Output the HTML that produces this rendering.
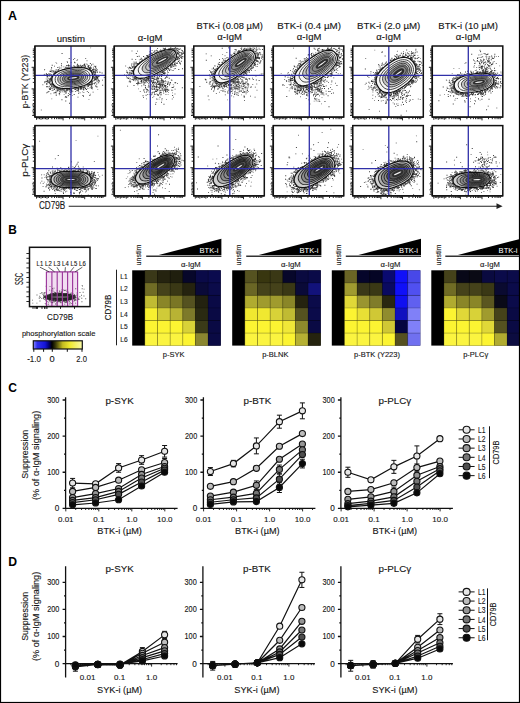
<!DOCTYPE html>
<html><head><meta charset="utf-8"><style>
html,body{margin:0;padding:0;background:#fff;overflow:hidden;width:520px;height:703px;}
svg{display:block;}
text{font-family:"Liberation Sans", sans-serif;stroke:#151515;stroke-width:.12px;}
text[fill="#fff"]{stroke:none;}
text[font-weight="bold"]{stroke:none;}
</style></head><body>
<svg width="520" height="703" viewBox="0 0 520 703" fill="#151515" font-family="'Liberation Sans', sans-serif">
<rect width="520" height="703" fill="#fff"/>
<text x="8" y="19.5" font-size="13" fill="#000" font-weight="bold" textLength="9" lengthAdjust="spacingAndGlyphs">A</text>
<text x="70.85" y="41.8" font-size="9.6" text-anchor="middle">unstim</text>
<text x="150.15" y="41" font-size="9.6" text-anchor="middle" textLength="24.6" lengthAdjust="spacingAndGlyphs">&#945;-IgM</text>
<text x="229.65" y="29.2" font-size="9.5" text-anchor="middle" textLength="66.3" lengthAdjust="spacingAndGlyphs">BTK-i (0.08 &#181;M)</text>
<text x="229.65" y="40.2" font-size="9.6" text-anchor="middle" textLength="24.6" lengthAdjust="spacingAndGlyphs">&#945;-IgM</text>
<text x="309.15" y="29.2" font-size="9.5" text-anchor="middle" textLength="63.6" lengthAdjust="spacingAndGlyphs">BTK-i (0.4 &#181;M)</text>
<text x="309.15" y="40.2" font-size="9.6" text-anchor="middle" textLength="24.6" lengthAdjust="spacingAndGlyphs">&#945;-IgM</text>
<text x="388.65" y="29.2" font-size="9.5" text-anchor="middle" textLength="63.3" lengthAdjust="spacingAndGlyphs">BTK-i (2.0 &#181;M)</text>
<text x="388.65" y="40.2" font-size="9.6" text-anchor="middle" textLength="24.6" lengthAdjust="spacingAndGlyphs">&#945;-IgM</text>
<text x="468.15" y="29.2" font-size="9.5" text-anchor="middle" textLength="59.6" lengthAdjust="spacingAndGlyphs">BTK-i (10 &#181;M)</text>
<text x="468.15" y="40.2" font-size="9.6" text-anchor="middle" textLength="24.6" lengthAdjust="spacingAndGlyphs">&#945;-IgM</text>
<svg x="35" y="46" width="70.5" height="71" viewBox="35 46 70.5 71" overflow="hidden">
<path d="M65.02 96.27h.9v.9h-.9zM93.43 75.51h.9v.9h-.9zM95.22 72.2h.9v.9h-.9zM63.17 68.91h.9v.9h-.9zM53.1 84.76h.9v.9h-.9zM78.37 75.09h.9v.9h-.9zM62.31 79.57h.9v.9h-.9zM96.38 83.44h.9v.9h-.9zM51.75 64.76h.9v.9h-.9zM81.35 65.55h.9v.9h-.9zM69.69 89.38h.9v.9h-.9zM88.03 66.26h.9v.9h-.9zM99.55 71.89h.9v.9h-.9zM73.08 59.21h.9v.9h-.9zM51.53 85.34h.9v.9h-.9zM68.66 66.8h.9v.9h-.9zM91.04 69.95h.9v.9h-.9zM90.56 84.21h.9v.9h-.9zM50.95 78.63h.9v.9h-.9zM76.61 90.28h.9v.9h-.9zM77.14 63.87h.9v.9h-.9zM85.3 73.46h.9v.9h-.9zM64.93 75.78h.9v.9h-.9zM54.87 70.88h.9v.9h-.9zM80.54 86.73h.9v.9h-.9zM85.1 65.57h.9v.9h-.9zM93.3 76.72h.9v.9h-.9zM69.88 70.73h.9v.9h-.9zM63.09 69.11h.9v.9h-.9zM58.42 80.42h.9v.9h-.9zM51.16 84.57h.9v.9h-.9zM60.82 88.89h.9v.9h-.9zM64.51 91.21h.9v.9h-.9zM63.3 69.22h.9v.9h-.9zM75.42 85.12h.9v.9h-.9zM79.35 73.96h.9v.9h-.9zM80.48 71.38h.9v.9h-.9zM92.91 67.52h.9v.9h-.9zM83.04 87.42h.9v.9h-.9zM96.64 80.38h.9v.9h-.9zM67.74 65.23h.9v.9h-.9zM94.32 78.49h.9v.9h-.9zM83.51 71.85h.9v.9h-.9zM86.84 90.9h.9v.9h-.9zM90.59 83.89h.9v.9h-.9zM49.08 82.33h.9v.9h-.9zM46.63 76.36h.9v.9h-.9zM66.83 87.47h.9v.9h-.9zM75.31 88.52h.9v.9h-.9zM48.02 75.2h.9v.9h-.9zM81.9 77.07h.9v.9h-.9zM79.9 86.8h.9v.9h-.9zM62.67 89.84h.9v.9h-.9zM53.39 73.26h.9v.9h-.9zM60.22 91.5h.9v.9h-.9zM69.07 89.35h.9v.9h-.9zM96.17 77.04h.9v.9h-.9zM46.84 85.95h.9v.9h-.9zM49.77 79.56h.9v.9h-.9zM70.73 89.89h.9v.9h-.9zM55.44 86.79h.9v.9h-.9zM82.99 86.42h.9v.9h-.9zM55.46 71.77h.9v.9h-.9zM74.41 66.77h.9v.9h-.9zM75.56 79.42h.9v.9h-.9zM68.74 57.99h.9v.9h-.9zM49.62 82.79h.9v.9h-.9zM78.59 88.37h.9v.9h-.9zM91.35 69.99h.9v.9h-.9zM88.88 84.03h.9v.9h-.9zM56.38 87.26h.9v.9h-.9zM93.63 71.32h.9v.9h-.9zM95.16 65.98h.9v.9h-.9zM51.17 67.48h.9v.9h-.9zM59.52 89.21h.9v.9h-.9zM87.72 66.81h.9v.9h-.9zM60.45 88.78h.9v.9h-.9zM57.53 69.53h.9v.9h-.9zM97.52 77.48h.9v.9h-.9zM50 78.27h.9v.9h-.9zM89.39 68.21h.9v.9h-.9zM87.67 84.36h.9v.9h-.9zM77.77 81.78h.9v.9h-.9zM95.52 76.61h.9v.9h-.9zM57.4 88.3h.9v.9h-.9zM57.18 81.1h.9v.9h-.9zM49.15 78.46h.9v.9h-.9zM69.32 94.18h.9v.9h-.9zM91.48 70.7h.9v.9h-.9zM92.58 71.87h.9v.9h-.9zM61.48 99.23h.9v.9h-.9zM79.51 85.34h.9v.9h-.9zM84.29 82.17h.9v.9h-.9zM58.22 83.71h.9v.9h-.9zM93.31 80.4h.9v.9h-.9zM58.72 93.33h.9v.9h-.9zM97.76 75.84h.9v.9h-.9zM66.29 65.05h.9v.9h-.9zM98.79 80.2h.9v.9h-.9zM57.67 89.05h.9v.9h-.9zM91.77 80.89h.9v.9h-.9zM92.09 80.59h.9v.9h-.9zM92.66 72.22h.9v.9h-.9zM91.84 88.46h.9v.9h-.9zM62.14 69.44h.9v.9h-.9zM56.14 86.81h.9v.9h-.9zM96.61 81.46h.9v.9h-.9zM96.19 76.06h.9v.9h-.9zM72.27 74.44h.9v.9h-.9zM51.96 84.07h.9v.9h-.9zM72.44 67.76h.9v.9h-.9zM89.72 69h.9v.9h-.9zM66.32 89.5h.9v.9h-.9zM68.02 64.55h.9v.9h-.9zM90.95 70.75h.9v.9h-.9zM48.96 89.15h.9v.9h-.9zM75.11 82.7h.9v.9h-.9zM80.37 79.61h.9v.9h-.9zM46.27 92.41h.9v.9h-.9zM57.22 89.73h.9v.9h-.9zM71.18 69.37h.9v.9h-.9zM73.46 65.3h.9v.9h-.9zM96.37 86.09h.9v.9h-.9zM47.46 82.19h.9v.9h-.9zM75.25 81.76h.9v.9h-.9zM96.88 77.32h.9v.9h-.9zM53.29 87.46h.9v.9h-.9zM75.36 66.65h.9v.9h-.9zM84.47 67.27h.9v.9h-.9zM62.81 83.4h.9v.9h-.9zM65.28 69.89h.9v.9h-.9zM73.71 94.06h.9v.9h-.9zM81.04 66.39h.9v.9h-.9zM46.03 73.36h.9v.9h-.9zM47.38 91.84h.9v.9h-.9zM55.78 93.67h.9v.9h-.9zM79.56 65.16h.9v.9h-.9zM71.25 90h.9v.9h-.9zM50.75 70.55h.9v.9h-.9zM65.74 92.52h.9v.9h-.9zM84.9 88.08h.9v.9h-.9zM64.34 80.95h.9v.9h-.9zM74.65 88.99h.9v.9h-.9zM71.06 90.85h.9v.9h-.9zM93.7 77.06h.9v.9h-.9zM60.95 65.24h.9v.9h-.9zM76.55 60.21h.9v.9h-.9zM50.65 69.44h.9v.9h-.9zM81.4 88.5h.9v.9h-.9zM50.38 77.79h.9v.9h-.9zM60.98 63.3h.9v.9h-.9zM60.51 81.68h.9v.9h-.9zM66.25 83.46h.9v.9h-.9zM74.07 61.81h.9v.9h-.9zM80.58 72.96h.9v.9h-.9zM56.18 87.11h.9v.9h-.9zM49.17 80.46h.9v.9h-.9zM48.7 81.58h.9v.9h-.9zM92.34 69.29h.9v.9h-.9zM53.74 87.57h.9v.9h-.9zM51.11 76.35h.9v.9h-.9zM69.39 88.6h.9v.9h-.9zM78.03 87.75h.9v.9h-.9zM93.48 70.67h.9v.9h-.9zM44.18 69.27h.9v.9h-.9zM65.8 91.46h.9v.9h-.9zM92.74 73.59h.9v.9h-.9zM57.24 90.62h.9v.9h-.9zM73.48 66.71h.9v.9h-.9zM79.93 87.56h.9v.9h-.9zM94.45 73.36h.9v.9h-.9zM77.46 89.57h.9v.9h-.9zM90.3 67.95h.9v.9h-.9zM51.2 86.31h.9v.9h-.9zM88.02 92.14h.9v.9h-.9zM60.56 67.57h.9v.9h-.9zM90.55 84.32h.9v.9h-.9zM72.45 81.61h.9v.9h-.9zM94.99 79.06h.9v.9h-.9zM51.62 71.56h.9v.9h-.9zM59.07 68.43h.9v.9h-.9zM91.82 86.76h.9v.9h-.9zM50.02 78.82h.9v.9h-.9zM77.13 87.67h.9v.9h-.9zM71.05 69.47h.9v.9h-.9zM53.99 65.67h.9v.9h-.9zM71.95 86.46h.9v.9h-.9zM48.17 73.46h.9v.9h-.9zM47.14 80.96h.9v.9h-.9zM76.54 66.82h.9v.9h-.9zM74.64 78.36h.9v.9h-.9zM54.56 72.12h.9v.9h-.9zM84.13 67.4h.9v.9h-.9zM80.89 87.35h.9v.9h-.9zM93.99 83.36h.9v.9h-.9zM76.07 80.92h.9v.9h-.9zM84.31 66.69h.9v.9h-.9zM71.51 91.17h.9v.9h-.9zM57.55 69.74h.9v.9h-.9zM94.17 74.06h.9v.9h-.9zM63.21 88.44h.9v.9h-.9zM87.04 84.23h.9v.9h-.9zM98.05 80.21h.9v.9h-.9zM82.67 77.78h.9v.9h-.9zM51.66 75.4h.9v.9h-.9zM46.94 74.02h.9v.9h-.9zM74.24 58.14h.9v.9h-.9zM77.48 80.89h.9v.9h-.9zM83.11 88.5h.9v.9h-.9zM91.22 82.05h.9v.9h-.9zM55.43 92.31h.9v.9h-.9zM67.14 61.75h.9v.9h-.9zM64.51 76.55h.9v.9h-.9zM60.1 69.9h.9v.9h-.9zM91.64 81.63h.9v.9h-.9zM88.04 85.72h.9v.9h-.9zM50.25 71.05h.9v.9h-.9zM62 84.38h.9v.9h-.9zM80.53 66.33h.9v.9h-.9zM68.11 69.82h.9v.9h-.9zM78.17 92.83h.9v.9h-.9zM83.31 89.26h.9v.9h-.9zM90.98 85.42h.9v.9h-.9zM83 71.28h.9v.9h-.9zM68.21 88.69h.9v.9h-.9zM55.54 87.54h.9v.9h-.9zM92.38 72.48h.9v.9h-.9zM49.52 73.15h.9v.9h-.9zM56.39 87.58h.9v.9h-.9zM78.33 69.66h.9v.9h-.9zM48.74 80.68h.9v.9h-.9zM81.11 88.25h.9v.9h-.9zM95.58 76.01h.9v.9h-.9zM80.12 64.69h.9v.9h-.9zM51.56 88.01h.9v.9h-.9zM46.4 83.05h.9v.9h-.9zM89.88 63.09h.9v.9h-.9zM93.36 76.52h.9v.9h-.9zM94.66 77.76h.9v.9h-.9zM61.51 90.44h.9v.9h-.9zM60.27 89.62h.9v.9h-.9zM92.12 68.88h.9v.9h-.9zM77.81 79.58h.9v.9h-.9zM95.29 72.02h.9v.9h-.9zM95.66 77.91h.9v.9h-.9zM77.55 96.63h.9v.9h-.9zM93.72 68.8h.9v.9h-.9zM70.83 88.76h.9v.9h-.9zM91 64.46h.9v.9h-.9zM46.38 84.04h.9v.9h-.9zM93.94 71.68h.9v.9h-.9zM77.48 80.16h.9v.9h-.9zM72.27 83.3h.9v.9h-.9zM59.33 71.7h.9v.9h-.9zM91.29 83.59h.9v.9h-.9zM76.91 67.11h.9v.9h-.9zM50.07 84.03h.9v.9h-.9zM67.01 68.68h.9v.9h-.9zM87.84 84.78h.9v.9h-.9zM68.43 87.35h.9v.9h-.9zM68.9 73.46h.9v.9h-.9zM70.7 67.55h.9v.9h-.9zM58.99 89.15h.9v.9h-.9zM71.35 70.51h.9v.9h-.9zM90.79 67.53h.9v.9h-.9zM96.9 71.82h.9v.9h-.9zM84.77 87.79h.9v.9h-.9zM97.17 76.55h.9v.9h-.9zM93.03 70.75h.9v.9h-.9zM71.01 74.33h.9v.9h-.9zM73.71 87.72h.9v.9h-.9zM49.46 83.31h.9v.9h-.9zM75.68 78.69h.9v.9h-.9zM76.35 88.2h.9v.9h-.9zM82.52 66.66h.9v.9h-.9zM98.61 75.76h.9v.9h-.9zM96.96 78.38h.9v.9h-.9zM56.04 87.42h.9v.9h-.9zM58.92 90.78h.9v.9h-.9zM96.53 76.93h.9v.9h-.9zM67.74 95.23h.9v.9h-.9zM70.26 91.82h.9v.9h-.9zM65.24 92.51h.9v.9h-.9zM84.83 83.75h.9v.9h-.9zM102.24 84.85h.9v.9h-.9zM93.93 74.17h.9v.9h-.9zM81.62 87.05h.9v.9h-.9zM46.38 81.12h.9v.9h-.9zM94.69 82.03h.9v.9h-.9zM71.33 88.74h.9v.9h-.9zM91.08 80.81h.9v.9h-.9zM94.04 74.15h.9v.9h-.9zM79.82 68.21h.9v.9h-.9zM49.49 70.76h.9v.9h-.9zM76.49 90.25h.9v.9h-.9zM46.74 79.5h.9v.9h-.9zM89.56 67.23h.9v.9h-.9zM87.79 75.52h.9v.9h-.9zM82.41 65.02h.9v.9h-.9zM65.97 68.63h.9v.9h-.9zM71.76 85.11h.9v.9h-.9zM91.6 82.44h.9v.9h-.9zM95 67.27h.9v.9h-.9zM54.57 91.96h.9v.9h-.9zM71.27 88.59h.9v.9h-.9zM87.44 88.22h.9v.9h-.9zM91.41 70.08h.9v.9h-.9zM54.02 72.64h.9v.9h-.9zM69.26 91.43h.9v.9h-.9zM95.4 79.04h.9v.9h-.9zM46.24 86.26h.9v.9h-.9zM96.17 75.41h.9v.9h-.9zM53.29 85.92h.9v.9h-.9zM94.77 82.32h.9v.9h-.9zM74.19 77.39h.9v.9h-.9zM68.7 65.19h.9v.9h-.9zM57.38 67.11h.9v.9h-.9zM65.33 100.62h.9v.9h-.9zM81.78 72.87h.9v.9h-.9zM97.42 77.44h.9v.9h-.9zM101.62 72.53h.9v.9h-.9zM66.22 66.77h.9v.9h-.9zM79.46 71.38h.9v.9h-.9zM53.16 70.4h.9v.9h-.9zM67.34 88.59h.9v.9h-.9zM88.09 74.05h.9v.9h-.9zM83.52 64.31h.9v.9h-.9zM85.25 57.91h.9v.9h-.9zM77.58 88.37h.9v.9h-.9zM82.61 80.26h.9v.9h-.9zM92.99 69.27h.9v.9h-.9zM83.24 86.96h.9v.9h-.9zM68.75 68.05h.9v.9h-.9zM89.57 87.44h.9v.9h-.9zM58.83 66.7h.9v.9h-.9zM78.23 87.42h.9v.9h-.9zM91.27 88.07h.9v.9h-.9zM84.02 85.8h.9v.9h-.9zM47.33 80h.9v.9h-.9zM53.53 92.53h.9v.9h-.9zM57.18 89.6h.9v.9h-.9zM91.71 82.45h.9v.9h-.9zM85.15 88.23h.9v.9h-.9zM53.51 70.81h.9v.9h-.9zM90.61 83.47h.9v.9h-.9zM96.36 77.67h.9v.9h-.9zM96.48 86.63h.9v.9h-.9zM88.54 67.51h.9v.9h-.9zM54.64 86.05h.9v.9h-.9zM70.69 89.79h.9v.9h-.9zM84.26 87.19h.9v.9h-.9zM90.97 79.05h.9v.9h-.9zM88.47 84.41h.9v.9h-.9zM73.7 66.11h.9v.9h-.9zM50.34 81.31h.9v.9h-.9zM51.26 80.03h.9v.9h-.9zM67.27 67.41h.9v.9h-.9zM51.13 77.58h.9v.9h-.9zM93.13 69.46h.9v.9h-.9zM60.29 88.16h.9v.9h-.9zM76.96 84.98h.9v.9h-.9zM91.81 84.15h.9v.9h-.9zM47.44 76.47h.9v.9h-.9zM62.46 91.43h.9v.9h-.9zM67.45 65.22h.9v.9h-.9zM49.1 74.17h.9v.9h-.9zM63.45 75.61h.9v.9h-.9zM54.04 88.99h.9v.9h-.9zM50.9 84.16h.9v.9h-.9zM95.25 73.92h.9v.9h-.9zM77.57 66.24h.9v.9h-.9zM86.59 79.45h.9v.9h-.9zM89.42 84.89h.9v.9h-.9zM66.31 68.37h.9v.9h-.9zM98.23 82.32h.9v.9h-.9zM65.69 78.23h.9v.9h-.9zM50.55 74.24h.9v.9h-.9zM50.15 87.37h.9v.9h-.9zM57.97 68.92h.9v.9h-.9zM78.06 89.84h.9v.9h-.9zM78.57 87.19h.9v.9h-.9zM84.24 63.99h.9v.9h-.9zM94.94 76.43h.9v.9h-.9zM64.1 77.92h.9v.9h-.9zM61.93 89.17h.9v.9h-.9zM95.95 79.33h.9v.9h-.9zM72.47 69.27h.9v.9h-.9zM87.27 72.81h.9v.9h-.9zM90.68 83.58h.9v.9h-.9zM89.78 66.93h.9v.9h-.9zM80.14 88.51h.9v.9h-.9zM49.99 88.99h.9v.9h-.9zM47.68 80.51h.9v.9h-.9zM73.51 70.44h.9v.9h-.9zM82.28 76.13h.9v.9h-.9zM95.13 76.69h.9v.9h-.9zM70.8 66.74h.9v.9h-.9zM83.04 95.79h.9v.9h-.9zM89.05 68.59h.9v.9h-.9zM63.28 89.4h.9v.9h-.9zM69.81 79.37h.9v.9h-.9zM88.87 67.67h.9v.9h-.9zM94.79 72.59h.9v.9h-.9zM72.53 87.34h.9v.9h-.9zM95.93 75.99h.9v.9h-.9zM92.82 69.29h.9v.9h-.9zM74.94 90.97h.9v.9h-.9zM44.57 81.5h.9v.9h-.9zM47.08 75.36h.9v.9h-.9zM93.32 78.19h.9v.9h-.9zM64.11 68.79h.9v.9h-.9zM65.48 77.59h.9v.9h-.9zM95.15 70.76h.9v.9h-.9zM72.49 66.96h.9v.9h-.9zM84.07 64.52h.9v.9h-.9zM67.09 89.6h.9v.9h-.9zM58.11 88.43h.9v.9h-.9zM55.78 95.16h.9v.9h-.9zM84.14 81.09h.9v.9h-.9zM102 79.64h.9v.9h-.9zM52 85.52h.9v.9h-.9zM68.37 66.6h.9v.9h-.9zM96.51 70.52h.9v.9h-.9zM66.23 96.77h.9v.9h-.9zM65.58 74.24h.9v.9h-.9zM57.44 87.87h.9v.9h-.9zM65.2 71.05h.9v.9h-.9zM93.7 79.54h.9v.9h-.9zM79.55 67.21h.9v.9h-.9zM47.63 78.27h.9v.9h-.9zM88.12 65.24h.9v.9h-.9zM71.85 66.7h.9v.9h-.9zM90.63 86.53h.9v.9h-.9zM69.16 102.84h.9v.9h-.9zM53.26 71.6h.9v.9h-.9zM87.42 73.45h.9v.9h-.9zM48.61 82.47h.9v.9h-.9zM78.24 89.14h.9v.9h-.9zM49.76 88.41h.9v.9h-.9zM67.09 72.56h.9v.9h-.9zM87.9 75.78h.9v.9h-.9zM94.59 69.68h.9v.9h-.9zM74.09 67.16h.9v.9h-.9zM89.57 83.99h.9v.9h-.9zM82.59 80.56h.9v.9h-.9zM54.17 87.65h.9v.9h-.9zM89.41 94.99h.9v.9h-.9zM55.77 91.42h.9v.9h-.9zM48.94 78.77h.9v.9h-.9zM94.67 75.06h.9v.9h-.9zM70.02 73.64h.9v.9h-.9zM86.74 86.29h.9v.9h-.9zM46.36 74.08h.9v.9h-.9zM55.25 73.07h.9v.9h-.9zM66.51 90.24h.9v.9h-.9zM70.07 94.22h.9v.9h-.9zM69.29 91.21h.9v.9h-.9zM78 65.21h.9v.9h-.9zM98.62 81.07h.9v.9h-.9zM84.7 66.28h.9v.9h-.9zM77.39 78.2h.9v.9h-.9zM91.08 86.93h.9v.9h-.9zM88.29 73.98h.9v.9h-.9zM64.77 91.15h.9v.9h-.9zM61.61 53.05h.9v.9h-.9zM74.13 70.64h.9v.9h-.9zM96.19 69.91h.9v.9h-.9zM93.35 71.31h.9v.9h-.9zM68.36 69.01h.9v.9h-.9zM92.54 63.71h.9v.9h-.9zM80.26 88.8h.9v.9h-.9zM51.34 78.86h.9v.9h-.9zM61.77 88.94h.9v.9h-.9zM71.57 66.84h.9v.9h-.9zM76.67 64.85h.9v.9h-.9zM56.21 72.27h.9v.9h-.9zM103.79 77.15h.9v.9h-.9zM51.76 83.24h.9v.9h-.9zM92.66 91.69h.9v.9h-.9zM70.28 89.45h.9v.9h-.9zM53.23 81.18h.9v.9h-.9zM49.96 79h.9v.9h-.9zM59.14 92.86h.9v.9h-.9zM93.8 65.76h.9v.9h-.9zM44.57 80.92h.9v.9h-.9zM86.02 88.98h.9v.9h-.9zM79.42 67.05h.9v.9h-.9zM63.69 69.42h.9v.9h-.9zM95.02 85.57h.9v.9h-.9zM74.55 62.35h.9v.9h-.9zM66.2 76.03h.9v.9h-.9zM47.79 74.72h.9v.9h-.9zM63.13 69.53h.9v.9h-.9zM71.34 92.38h.9v.9h-.9zM47.87 91.19h.9v.9h-.9zM82.47 95.09h.9v.9h-.9zM65.41 71.19h.9v.9h-.9z" fill="#111" opacity=".9"/><path d="M64.91 90.36h.9v.9h-.9zM62.06 76.54h.9v.9h-.9zM51.37 74.59h.9v.9h-.9zM93.5 71.28h.9v.9h-.9zM83.69 67.7h.9v.9h-.9zM82.36 88.39h.9v.9h-.9zM83.95 65.43h.9v.9h-.9zM51.68 87.42h.9v.9h-.9zM59.17 92.76h.9v.9h-.9zM77.6 64.78h.9v.9h-.9zM53.74 86.33h.9v.9h-.9zM66.94 67.88h.9v.9h-.9zM50.84 74.87h.9v.9h-.9zM82.71 66.46h.9v.9h-.9zM67.66 68.17h.9v.9h-.9zM84.9 86.46h.9v.9h-.9zM87.31 84.25h.9v.9h-.9zM52.86 86.79h.9v.9h-.9zM56.23 62.97h.9v.9h-.9zM71.93 94.9h.9v.9h-.9zM68.59 78.03h.9v.9h-.9zM76.49 86.93h.9v.9h-.9zM78.78 66.93h.9v.9h-.9zM49.22 88.68h.9v.9h-.9zM53.74 74.44h.9v.9h-.9zM80.71 86.81h.9v.9h-.9zM59.91 88.88h.9v.9h-.9zM83.63 65.36h.9v.9h-.9zM74.12 87.45h.9v.9h-.9zM78.93 66.22h.9v.9h-.9zM75.34 77.38h.9v.9h-.9zM61.31 82.18h.9v.9h-.9zM78.68 66.69h.9v.9h-.9zM93.1 72.47h.9v.9h-.9zM79.66 84.13h.9v.9h-.9zM95.12 69.21h.9v.9h-.9zM84.25 65.07h.9v.9h-.9zM88.88 83.17h.9v.9h-.9zM81.27 86.68h.9v.9h-.9zM90.98 86.06h.9v.9h-.9zM95.95 67.76h.9v.9h-.9zM50.91 83.13h.9v.9h-.9zM90.22 47.41h.9v.9h-.9zM87.94 86.14h.9v.9h-.9zM71.08 78.83h.9v.9h-.9zM80.62 69.35h.9v.9h-.9zM74.42 82.98h.9v.9h-.9zM52.58 86.4h.9v.9h-.9zM54.42 86.93h.9v.9h-.9zM60.59 80.03h.9v.9h-.9zM94.8 77.78h.9v.9h-.9zM96.76 69.08h.9v.9h-.9zM66.18 89.62h.9v.9h-.9zM46.13 81.21h.9v.9h-.9zM44.6 73.65h.9v.9h-.9zM95.61 68.63h.9v.9h-.9zM85.77 85.14h.9v.9h-.9zM91.16 70.61h.9v.9h-.9zM93.35 75.41h.9v.9h-.9zM57.61 70.59h.9v.9h-.9zM90.17 69.39h.9v.9h-.9zM49.91 80.58h.9v.9h-.9zM62.8 66.44h.9v.9h-.9zM87.81 85.83h.9v.9h-.9zM76.44 66.88h.9v.9h-.9zM54.75 78.46h.9v.9h-.9zM55.45 87.42h.9v.9h-.9zM64.77 96.84h.9v.9h-.9zM91.96 70.26h.9v.9h-.9zM44.2 82.29h.9v.9h-.9zM91.43 83.51h.9v.9h-.9zM57.35 90h.9v.9h-.9zM51.93 80.52h.9v.9h-.9zM67.98 93.09h.9v.9h-.9zM93.08 72.25h.9v.9h-.9zM60.55 74.73h.9v.9h-.9zM69.63 86.84h.9v.9h-.9zM80.11 83.59h.9v.9h-.9zM62.01 79.72h.9v.9h-.9zM70.05 89.6h.9v.9h-.9zM68.66 88.65h.9v.9h-.9zM69.92 66.72h.9v.9h-.9zM76.88 65.85h.9v.9h-.9zM50.53 74.22h.9v.9h-.9zM79.64 92.23h.9v.9h-.9zM69.98 89.85h.9v.9h-.9zM79.96 66.68h.9v.9h-.9zM48.89 82.29h.9v.9h-.9zM71.21 80.72h.9v.9h-.9zM92.8 74.76h.9v.9h-.9zM94.22 77.28h.9v.9h-.9zM98.08 79.21h.9v.9h-.9zM42.37 84.37h.9v.9h-.9zM77.03 77.67h.9v.9h-.9zM48.99 87.67h.9v.9h-.9zM90.71 82.58h.9v.9h-.9zM88.6 66.76h.9v.9h-.9zM51.32 78.18h.9v.9h-.9zM75.4 66.8h.9v.9h-.9zM73.58 72.78h.9v.9h-.9zM77.81 66.07h.9v.9h-.9zM59.66 74.2h.9v.9h-.9zM67.97 95.05h.9v.9h-.9zM95.09 72.32h.9v.9h-.9zM70.72 62.18h.9v.9h-.9zM49.92 79.84h.9v.9h-.9zM93.99 71.73h.9v.9h-.9zM95.04 69.87h.9v.9h-.9zM84.81 85.38h.9v.9h-.9zM63.4 88.91h.9v.9h-.9zM59.14 70.96h.9v.9h-.9zM89.99 78.39h.9v.9h-.9zM95.92 77.9h.9v.9h-.9zM92.04 83.09h.9v.9h-.9zM91.57 84.61h.9v.9h-.9zM97.78 79.62h.9v.9h-.9zM62.87 69.06h.9v.9h-.9zM71.13 73.72h.9v.9h-.9zM50.7 82.66h.9v.9h-.9zM92.47 69.41h.9v.9h-.9zM93.7 75.04h.9v.9h-.9zM78.39 66.69h.9v.9h-.9zM53.91 85.99h.9v.9h-.9zM87.07 84.81h.9v.9h-.9zM59.7 88.02h.9v.9h-.9zM72.43 90.75h.9v.9h-.9zM64.66 66.53h.9v.9h-.9zM78.28 90.9h.9v.9h-.9zM90.92 64.73h.9v.9h-.9zM55.54 61.89h.9v.9h-.9zM83.39 92.12h.9v.9h-.9zM83.25 89.37h.9v.9h-.9zM48.8 88.19h.9v.9h-.9zM50.4 93.26h.9v.9h-.9zM69.45 93.8h.9v.9h-.9zM46.54 85.89h.9v.9h-.9zM81.89 79.3h.9v.9h-.9zM64.16 89.9h.9v.9h-.9zM86.16 72.41h.9v.9h-.9zM40.84 109.5h.9v.9h-.9zM76.21 88.55h.9v.9h-.9zM54.92 71.73h.9v.9h-.9zM72.76 88.11h.9v.9h-.9zM50.45 85.14h.9v.9h-.9zM93.38 82.99h.9v.9h-.9zM71.72 76.2h.9v.9h-.9zM94.39 79.99h.9v.9h-.9zM64.09 91.46h.9v.9h-.9zM87.31 83.59h.9v.9h-.9zM75.09 89.08h.9v.9h-.9zM70.46 75.49h.9v.9h-.9zM59.11 88.5h.9v.9h-.9zM67.75 88.81h.9v.9h-.9zM64.96 68.52h.9v.9h-.9zM80.49 87.68h.9v.9h-.9zM90.72 70.8h.9v.9h-.9zM84.33 63.3h.9v.9h-.9zM89.97 69.95h.9v.9h-.9zM59.59 88.36h.9v.9h-.9zM46.23 82.63h.9v.9h-.9zM88.85 69.1h.9v.9h-.9zM66.11 96.56h.9v.9h-.9zM48.99 85.75h.9v.9h-.9zM89.66 67.09h.9v.9h-.9zM86.8 64.2h.9v.9h-.9zM84.13 78.98h.9v.9h-.9zM66.12 90.09h.9v.9h-.9zM84.18 83.19h.9v.9h-.9zM70.38 75.56h.9v.9h-.9zM84.04 86.81h.9v.9h-.9zM74.01 80.3h.9v.9h-.9zM54.74 70.42h.9v.9h-.9zM87.91 84.35h.9v.9h-.9zM75.24 88.21h.9v.9h-.9zM69.58 65.26h.9v.9h-.9zM55.64 71.41h.9v.9h-.9zM53.93 86.34h.9v.9h-.9zM45.53 80.69h.9v.9h-.9zM86.55 60.25h.9v.9h-.9zM43.79 74.02h.9v.9h-.9zM50.62 76.4h.9v.9h-.9zM81.56 74.49h.9v.9h-.9zM65.12 67.1h.9v.9h-.9zM49.79 80.34h.9v.9h-.9zM85.92 74.32h.9v.9h-.9zM62.99 74.4h.9v.9h-.9zM90.29 69.14h.9v.9h-.9zM68.71 86.1h.9v.9h-.9zM53.23 84.44h.9v.9h-.9zM55.63 71.65h.9v.9h-.9zM54.99 86.1h.9v.9h-.9zM88.97 83.05h.9v.9h-.9zM77.39 65.34h.9v.9h-.9zM89.07 76.74h.9v.9h-.9zM90.17 65.9h.9v.9h-.9zM72.5 67.52h.9v.9h-.9zM96.77 78.72h.9v.9h-.9zM94.67 79.19h.9v.9h-.9zM79.56 75.2h.9v.9h-.9zM48.54 86.19h.9v.9h-.9zM59.22 94.34h.9v.9h-.9zM67.97 73.23h.9v.9h-.9zM71 89.83h.9v.9h-.9zM49.01 85.76h.9v.9h-.9zM45.79 75.12h.9v.9h-.9zM81.96 77.32h.9v.9h-.9zM50.65 76.85h.9v.9h-.9zM51.93 89.79h.9v.9h-.9zM57.56 71.52h.9v.9h-.9zM77.5 65.95h.9v.9h-.9zM82.47 82.27h.9v.9h-.9zM78.22 67.37h.9v.9h-.9zM86.99 78.39h.9v.9h-.9zM77.49 65.86h.9v.9h-.9zM72.56 71.14h.9v.9h-.9zM47.61 86.7h.9v.9h-.9zM49.83 87.96h.9v.9h-.9zM95.46 65.69h.9v.9h-.9zM81.61 86.36h.9v.9h-.9zM85.42 71.24h.9v.9h-.9zM73.61 73.84h.9v.9h-.9zM96.44 76.12h.9v.9h-.9zM82.38 87.18h.9v.9h-.9zM48.68 90.93h.9v.9h-.9zM55.72 69.04h.9v.9h-.9zM51.14 67.12h.9v.9h-.9zM46.79 76.59h.9v.9h-.9zM51.62 90.14h.9v.9h-.9zM64.43 91.62h.9v.9h-.9zM71.4 76.42h.9v.9h-.9zM76.7 89.9h.9v.9h-.9zM47.72 82.19h.9v.9h-.9zM56.45 71.98h.9v.9h-.9zM55.35 71.38h.9v.9h-.9zM90 82.28h.9v.9h-.9zM61.14 69.91h.9v.9h-.9zM60.65 90.18h.9v.9h-.9zM79.22 73.22h.9v.9h-.9zM52.96 89.62h.9v.9h-.9zM56.01 78.32h.9v.9h-.9zM52.03 70.28h.9v.9h-.9zM86.32 63.56h.9v.9h-.9zM58.17 87.71h.9v.9h-.9zM83.69 87.46h.9v.9h-.9zM67.82 70.53h.9v.9h-.9zM68.92 68.02h.9v.9h-.9zM65.06 75.73h.9v.9h-.9zM88.49 98.95h.9v.9h-.9zM68.11 67.86h.9v.9h-.9zM50.97 85.9h.9v.9h-.9zM58.04 69.63h.9v.9h-.9zM79.98 72.87h.9v.9h-.9zM66.7 61.2h.9v.9h-.9zM53.5 86.66h.9v.9h-.9zM87.26 65.49h.9v.9h-.9zM58.29 90.22h.9v.9h-.9zM64.26 88.84h.9v.9h-.9zM56.17 70.47h.9v.9h-.9zM55.44 71.5h.9v.9h-.9zM66.06 88.97h.9v.9h-.9zM82.2 65.55h.9v.9h-.9zM57.97 87.87h.9v.9h-.9zM90.49 67.84h.9v.9h-.9zM51.09 83.3h.9v.9h-.9zM74.51 88.78h.9v.9h-.9zM89.8 93.86h.9v.9h-.9zM83.49 80.66h.9v.9h-.9zM66.81 66.92h.9v.9h-.9zM97.32 89.14h.9v.9h-.9zM51.32 98.38h.9v.9h-.9zM55.07 71.65h.9v.9h-.9zM55.55 70.85h.9v.9h-.9zM45.74 78.38h.9v.9h-.9zM87.66 66.38h.9v.9h-.9zM80.84 66.61h.9v.9h-.9zM50.83 79.18h.9v.9h-.9zM55.74 89.94h.9v.9h-.9zM63.88 90.36h.9v.9h-.9zM67.3 88.63h.9v.9h-.9zM94.14 79.05h.9v.9h-.9zM88.62 65h.9v.9h-.9zM63.68 94.17h.9v.9h-.9zM49.82 78.86h.9v.9h-.9zM69.16 78.69h.9v.9h-.9zM68.57 90.12h.9v.9h-.9zM81.73 66.88h.9v.9h-.9zM77.16 58.92h.9v.9h-.9zM48.85 75.85h.9v.9h-.9zM75.26 74.97h.9v.9h-.9zM59.46 89.35h.9v.9h-.9zM91.03 83.95h.9v.9h-.9zM56.2 88.48h.9v.9h-.9zM77.96 90.64h.9v.9h-.9zM93.27 76.31h.9v.9h-.9zM60.24 72.98h.9v.9h-.9zM64.35 79.96h.9v.9h-.9zM95.98 84.43h.9v.9h-.9zM83.92 78.25h.9v.9h-.9zM55.27 91.7h.9v.9h-.9zM60.55 90.17h.9v.9h-.9zM83.71 65.48h.9v.9h-.9zM96.13 75.18h.9v.9h-.9zM99.36 71.61h.9v.9h-.9zM75.35 66.32h.9v.9h-.9zM88.12 73.56h.9v.9h-.9zM81.97 91.4h.9v.9h-.9z" fill="#444" opacity=".8"/><g transform="translate(72.3 78) rotate(-8)"><path d="M20.5 0L20.29 2.13L19.66 3.76L18.62 5.18L17.18 6.42L15.36 7.49L13.17 8.38L10.62 9.08L7.7 9.59L4.37 9.9L0 10L-4.37 9.9L-7.7 9.59L-10.62 9.08L-13.17 8.38L-15.36 7.49L-17.18 6.42L-18.62 5.18L-19.66 3.76L-20.29 2.13L-20.5 0L-20.29 -2.13L-19.66 -3.76L-18.62 -5.18L-17.18 -6.42L-15.36 -7.49L-13.17 -8.38L-10.62 -9.08L-7.7 -9.59L-4.37 -9.9L-0 -10L4.37 -9.9L7.7 -9.59L10.62 -9.08L13.17 -8.38L15.36 -7.49L17.18 -6.42L18.62 -5.18L19.66 -3.76L20.29 -2.13Z" fill="#f6f6f6" stroke="#111" stroke-width="1.2"/><path d="M15.42 0L15.27 1.49L14.81 2.64L14.05 3.63L12.99 4.5L11.66 5.25L10.05 5.88L8.18 6.37L6.05 6.73L3.6 6.94L0.4 7.01L-2.8 6.94L-5.24 6.73L-7.38 6.37L-9.24 5.88L-10.85 5.25L-12.19 4.5L-13.24 3.63L-14 2.64L-14.46 1.49L-14.62 0L-14.46 -1.49L-14 -2.64L-13.24 -3.63L-12.19 -4.5L-10.85 -5.25L-9.24 -5.88L-7.38 -6.37L-5.24 -6.73L-2.8 -6.94L0.4 -7.01L3.6 -6.94L6.05 -6.73L8.18 -6.37L10.05 -5.88L11.66 -5.25L12.99 -4.5L14.05 -3.63L14.81 -2.64L15.27 -1.49Z" fill="#c4c4c4"/><path d="M11.35 0L11.24 0.98L10.91 1.73L10.38 2.39L9.63 2.96L8.69 3.46L7.55 3.87L6.23 4.19L4.72 4.43L2.99 4.57L0.73 4.62L-1.54 4.57L-3.27 4.43L-4.78 4.19L-6.1 3.87L-7.23 3.46L-8.18 2.96L-8.92 2.39L-9.46 1.73L-9.79 0.98L-9.9 0L-9.79 -0.98L-9.46 -1.73L-8.92 -2.39L-8.18 -2.96L-7.23 -3.46L-6.1 -3.87L-4.78 -4.19L-3.27 -4.43L-1.54 -4.57L0.73 -4.62L2.99 -4.57L4.72 -4.43L6.23 -4.19L7.55 -3.87L8.69 -3.46L9.63 -2.96L10.38 -2.39L10.91 -1.73L11.24 -0.98Z" fill="#8a8a8a"/><path d="M17.68 0L17.5 1.78L16.97 3.14L16.08 4.32L14.86 5.36L13.3 6.25L11.44 6.99L9.27 7.58L6.79 8L3.94 8.26L0.22 8.34L-3.5 8.26L-6.34 8L-8.82 7.58L-10.99 6.99L-12.86 6.25L-14.41 5.36L-15.64 4.32L-16.52 3.14L-17.06 1.78L-17.24 0L-17.06 -1.78L-16.52 -3.14L-15.64 -4.32L-14.41 -5.36L-12.86 -6.25L-10.99 -6.99L-8.82 -7.58L-6.34 -8L-3.5 -8.26L0.22 -8.34L3.94 -8.26L6.79 -8L9.27 -7.58L11.44 -6.99L13.3 -6.25L14.86 -5.36L16.08 -4.32L16.97 -3.14L17.5 -1.78ZM15.42 0L15.27 1.49L14.81 2.64L14.05 3.63L12.99 4.5L11.66 5.25L10.05 5.88L8.18 6.37L6.05 6.73L3.6 6.94L0.4 7.01L-2.8 6.94L-5.24 6.73L-7.38 6.37L-9.24 5.88L-10.85 5.25L-12.19 4.5L-13.24 3.63L-14 2.64L-14.46 1.49L-14.62 0L-14.46 -1.49L-14 -2.64L-13.24 -3.63L-12.19 -4.5L-10.85 -5.25L-9.24 -5.88L-7.38 -6.37L-5.24 -6.73L-2.8 -6.94L0.4 -7.01L3.6 -6.94L6.05 -6.73L8.18 -6.37L10.05 -5.88L11.66 -5.25L12.99 -4.5L14.05 -3.63L14.81 -2.64L15.27 -1.49ZM13.33 0L13.2 1.23L12.81 2.17L12.16 3L11.27 3.71L10.13 4.33L8.77 4.85L7.18 5.25L5.37 5.55L3.29 5.72L0.57 5.78L-2.15 5.72L-4.23 5.55L-6.04 5.25L-7.63 4.85L-9 4.33L-10.13 3.71L-11.03 3L-11.67 2.17L-12.07 1.23L-12.2 0L-12.07 -1.23L-11.67 -2.17L-11.03 -3L-10.13 -3.71L-9 -4.33L-7.63 -4.85L-6.04 -5.25L-4.23 -5.55L-2.15 -5.72L0.57 -5.78L3.29 -5.72L5.37 -5.55L7.18 -5.25L8.77 -4.85L10.13 -4.33L11.27 -3.71L12.16 -3L12.81 -2.17L13.2 -1.23ZM11.35 0L11.24 0.98L10.91 1.73L10.38 2.39L9.63 2.96L8.69 3.46L7.55 3.87L6.23 4.19L4.72 4.43L2.99 4.57L0.73 4.62L-1.54 4.57L-3.27 4.43L-4.78 4.19L-6.1 3.87L-7.23 3.46L-8.18 2.96L-8.92 2.39L-9.46 1.73L-9.79 0.98L-9.9 0L-9.79 -0.98L-9.46 -1.73L-8.92 -2.39L-8.18 -2.96L-7.23 -3.46L-6.1 -3.87L-4.78 -4.19L-3.27 -4.43L-1.54 -4.57L0.73 -4.62L2.99 -4.57L4.72 -4.43L6.23 -4.19L7.55 -3.87L8.69 -3.46L9.63 -2.96L10.38 -2.39L10.91 -1.73L11.24 -0.98ZM9.44 0L9.35 0.74L9.09 1.31L8.65 1.81L8.05 2.24L7.29 2.62L6.38 2.93L5.31 3.17L4.1 3.35L2.7 3.46L0.88 3.49L-0.95 3.46L-2.34 3.35L-3.56 3.17L-4.62 2.93L-5.54 2.62L-6.3 2.24L-6.9 1.81L-7.33 1.31L-7.6 0.74L-7.68 0L-7.6 -0.74L-7.33 -1.31L-6.9 -1.81L-6.3 -2.24L-5.54 -2.62L-4.62 -2.93L-3.56 -3.17L-2.34 -3.35L-0.95 -3.46L0.88 -3.49L2.7 -3.46L4.1 -3.35L5.31 -3.17L6.38 -2.93L7.29 -2.62L8.05 -2.24L8.65 -1.81L9.09 -1.31L9.35 -0.74Z" fill="none" stroke="#262626" stroke-width=".8"/><path d="M7.17 0L7.11 0.51L6.92 0.9L6.61 1.24L6.18 1.54L5.63 1.8L4.97 2.01L4.21 2.18L3.34 2.3L2.34 2.38L1.03 2.4L-0.29 2.38L-1.29 2.3L-2.16 2.18L-2.92 2.01L-3.58 1.8L-4.13 1.54L-4.56 1.24L-4.87 0.9L-5.06 0.51L-5.12 0L-5.06 -0.51L-4.87 -0.9L-4.56 -1.24L-4.13 -1.54L-3.58 -1.8L-2.92 -2.01L-2.16 -2.18L-1.29 -2.3L-0.29 -2.38L1.02 -2.4L2.34 -2.38L3.34 -2.3L4.21 -2.18L4.97 -2.01L5.63 -1.8L6.18 -1.54L6.61 -1.24L6.92 -0.9L7.11 -0.51Z" fill="#2e2e2e"/><ellipse cx="1.03" cy="0" rx="4.1" ry="0.6" fill="#eee"/></g>
</svg>
<path d="M71 46V117M35 75.3H105.5" stroke="#3030a8" stroke-width="1.3" fill="none"/>
<rect x="35" y="46" width="70.5" height="71" fill="none" stroke="#111" stroke-width="1.5"/>
<path d="M34.4 115.5h-2.2M36.5 117.6v2.2M34.4 114h-1.6M38 117.6v1.6M34.4 112.5h-1.6M39.5 117.6v1.6M34.4 111h-2.2M41 117.6v2.2M34.4 109.5h-1.6M42.5 117.6v1.6M34.4 108h-1.6M44 117.6v1.6M34.4 106.5h-1.6M45.5 117.6v1.6M34.4 105h-2.2M47 117.6v2.2M34.4 103.5h-1.6M48.5 117.6v1.6M34.4 100.19h-1.6M51.81 117.6v1.6M34.4 97.5h-1.6M54.5 117.6v1.6M34.4 95.4h-1.6M56.6 117.6v1.6M34.4 93.69h-1.6M58.31 117.6v1.6M34.4 92.25h-1.6M59.75 117.6v1.6M34.4 90.99h-1.6M61.01 117.6v1.6M34.4 89.89h-1.6M62.11 117.6v1.6M34.4 88.9h-2.8M63.1 117.6v2.8M34.4 82.4h-1.6M69.6 117.6v1.6M34.4 78.59h-1.6M73.41 117.6v1.6M34.4 75.9h-1.6M76.1 117.6v1.6M34.4 73.8h-1.6M78.2 117.6v1.6M34.4 72.09h-1.6M79.91 117.6v1.6M34.4 70.65h-1.6M81.35 117.6v1.6M34.4 69.39h-1.6M82.61 117.6v1.6M34.4 68.29h-1.6M83.71 117.6v1.6M34.4 67.3h-2.8M84.7 117.6v2.8M34.4 60.8h-1.6M91.2 117.6v1.6M34.4 56.99h-1.6M95.01 117.6v1.6M34.4 54.3h-1.6M97.7 117.6v1.6M34.4 52.2h-1.6M99.8 117.6v1.6M34.4 50.49h-1.6M101.51 117.6v1.6M34.4 49.05h-1.6M102.95 117.6v1.6" stroke="#111" stroke-width="0.9" fill="none"/>
<path d="M34.7 46V117.3H105.5" stroke="#111" stroke-width="1" fill="none"/>
<svg x="114.3" y="46" width="70.5" height="71" viewBox="114.3 46 70.5 71" overflow="hidden">
<path d="M131.44 70.07h.9v.9h-.9zM164.14 49.31h.9v.9h-.9zM158.29 80.84h.9v.9h-.9zM168.6 68.75h.9v.9h-.9zM176.89 58.78h.9v.9h-.9zM161.3 78.63h.9v.9h-.9zM157.06 80.94h.9v.9h-.9zM149.36 51.43h.9v.9h-.9zM158.92 84.26h.9v.9h-.9zM146.31 57.41h.9v.9h-.9zM163.46 50.35h.9v.9h-.9zM141.09 80.03h.9v.9h-.9zM133.4 70.44h.9v.9h-.9zM131.34 63.59h.9v.9h-.9zM157.1 73.58h.9v.9h-.9zM174.81 47.67h.9v.9h-.9zM155.19 103.78h.9v.9h-.9zM169.04 84.55h.9v.9h-.9zM159.37 74.63h.9v.9h-.9zM172.18 95.12h.9v.9h-.9zM158.78 75.26h.9v.9h-.9zM152.68 79.99h.9v.9h-.9zM170.36 47.33h.9v.9h-.9zM155.35 91h.9v.9h-.9zM135.24 58.92h.9v.9h-.9zM161.04 78.46h.9v.9h-.9zM160.71 82.31h.9v.9h-.9zM153.28 91.72h.9v.9h-.9zM138.51 78.59h.9v.9h-.9zM140.42 83.21h.9v.9h-.9zM129.55 78.53h.9v.9h-.9zM163.34 49.78h.9v.9h-.9zM150.31 79.04h.9v.9h-.9zM164.34 48.42h.9v.9h-.9zM180.53 52.04h.9v.9h-.9zM163.54 50.25h.9v.9h-.9zM158.14 77.82h.9v.9h-.9zM134.27 76.63h.9v.9h-.9zM161.68 85.05h.9v.9h-.9zM132.43 77.42h.9v.9h-.9zM180.74 56.34h.9v.9h-.9zM157.5 51.25h.9v.9h-.9zM155.9 77.47h.9v.9h-.9zM158.13 62.84h.9v.9h-.9zM148.22 83.38h.9v.9h-.9zM147.24 81.97h.9v.9h-.9zM143.57 89.25h.9v.9h-.9zM174.13 61.23h.9v.9h-.9zM134.69 65.86h.9v.9h-.9zM148.88 80.61h.9v.9h-.9zM132.29 66.48h.9v.9h-.9zM157.85 95.16h.9v.9h-.9zM147.19 55.12h.9v.9h-.9zM162.4 71.77h.9v.9h-.9zM152.14 55.19h.9v.9h-.9zM157.28 81.31h.9v.9h-.9zM136.05 78.4h.9v.9h-.9zM176.23 58.89h.9v.9h-.9zM148.36 55.92h.9v.9h-.9zM152.16 53.73h.9v.9h-.9zM128.45 73.63h.9v.9h-.9zM164.62 70.06h.9v.9h-.9zM161.74 90.2h.9v.9h-.9zM176.42 50.41h.9v.9h-.9zM129.1 72.51h.9v.9h-.9zM149.43 77.61h.9v.9h-.9zM176.65 62.96h.9v.9h-.9zM168.06 67.78h.9v.9h-.9zM167.38 82.51h.9v.9h-.9zM159.32 50.5h.9v.9h-.9zM168.27 89.95h.9v.9h-.9zM131.97 75.65h.9v.9h-.9zM153.97 53.82h.9v.9h-.9zM148.4 56.98h.9v.9h-.9zM157.97 58.38h.9v.9h-.9zM131.61 66.19h.9v.9h-.9zM163.83 61.36h.9v.9h-.9zM134.46 68.49h.9v.9h-.9zM155.38 78.9h.9v.9h-.9zM147.87 79.3h.9v.9h-.9zM148.67 78.24h.9v.9h-.9zM154.73 50.42h.9v.9h-.9zM139.72 61.8h.9v.9h-.9zM136.88 56.12h.9v.9h-.9zM139.07 63.35h.9v.9h-.9zM129.06 75.1h.9v.9h-.9zM146.07 78.24h.9v.9h-.9zM172.29 47.91h.9v.9h-.9zM163.9 73.09h.9v.9h-.9zM149.76 53.36h.9v.9h-.9zM174.78 49.75h.9v.9h-.9zM151.76 52.65h.9v.9h-.9zM169.13 49.06h.9v.9h-.9zM178.16 56.95h.9v.9h-.9zM156.82 76.18h.9v.9h-.9zM170.92 49.37h.9v.9h-.9zM154.53 61.07h.9v.9h-.9zM126.48 72.1h.9v.9h-.9zM129.28 75.22h.9v.9h-.9zM131.89 67.24h.9v.9h-.9zM153.7 86.26h.9v.9h-.9zM126.45 74.85h.9v.9h-.9zM178.72 59.94h.9v.9h-.9zM165.15 49.24h.9v.9h-.9zM161.75 84.13h.9v.9h-.9zM137.36 62.97h.9v.9h-.9zM159.24 76.32h.9v.9h-.9zM177.89 61h.9v.9h-.9zM156.87 89.09h.9v.9h-.9zM156.33 91.02h.9v.9h-.9zM152.04 76.27h.9v.9h-.9zM137.82 63.18h.9v.9h-.9zM176.43 59.34h.9v.9h-.9zM156.77 74.2h.9v.9h-.9zM147.76 56.49h.9v.9h-.9zM163.13 70.58h.9v.9h-.9zM174.6 50.73h.9v.9h-.9zM161.66 50.87h.9v.9h-.9zM151.66 76.72h.9v.9h-.9zM161.31 64.12h.9v.9h-.9zM133.55 84.99h.9v.9h-.9zM166.41 89.18h.9v.9h-.9zM179.9 48.4h.9v.9h-.9zM149.3 54.17h.9v.9h-.9zM172.13 63.66h.9v.9h-.9zM179.19 55.59h.9v.9h-.9zM153.45 75.22h.9v.9h-.9zM126.53 71.69h.9v.9h-.9zM153.96 79.15h.9v.9h-.9zM177.16 53.45h.9v.9h-.9zM164.67 86.46h.9v.9h-.9zM157.36 82.22h.9v.9h-.9zM154.57 52.07h.9v.9h-.9zM135.87 66.19h.9v.9h-.9zM160.8 81.77h.9v.9h-.9zM166.9 83.62h.9v.9h-.9zM163.52 103.82h.9v.9h-.9zM181.22 53.74h.9v.9h-.9zM148.78 72.29h.9v.9h-.9zM157.27 77.04h.9v.9h-.9zM157.04 52.94h.9v.9h-.9zM152.18 68.6h.9v.9h-.9zM155.79 85.74h.9v.9h-.9zM160.36 90.38h.9v.9h-.9zM156.47 75.2h.9v.9h-.9zM162.74 49.86h.9v.9h-.9zM137.41 62.88h.9v.9h-.9zM151.41 77.67h.9v.9h-.9zM151.64 49.97h.9v.9h-.9zM180.03 63.49h.9v.9h-.9zM167.23 88.79h.9v.9h-.9zM127.19 85.7h.9v.9h-.9zM173.71 50.06h.9v.9h-.9zM160.7 50.82h.9v.9h-.9zM174.82 62.4h.9v.9h-.9zM143.45 72.57h.9v.9h-.9zM160.84 92.33h.9v.9h-.9zM145.37 82.26h.9v.9h-.9zM158.52 80.41h.9v.9h-.9zM147.25 67.73h.9v.9h-.9zM177.93 53.09h.9v.9h-.9zM155.5 65.3h.9v.9h-.9zM164.77 85.11h.9v.9h-.9zM147.84 63.22h.9v.9h-.9zM135.92 64.38h.9v.9h-.9zM151.77 78.1h.9v.9h-.9zM160.38 89.69h.9v.9h-.9zM171.64 87.09h.9v.9h-.9zM142.01 78.69h.9v.9h-.9zM136.46 79.3h.9v.9h-.9zM137.68 63.68h.9v.9h-.9zM132.79 79.34h.9v.9h-.9zM149.64 74.95h.9v.9h-.9zM168.14 49.22h.9v.9h-.9zM160.92 71.54h.9v.9h-.9zM156.07 84.54h.9v.9h-.9zM177.53 56.58h.9v.9h-.9zM133.68 64.19h.9v.9h-.9zM134.85 78.05h.9v.9h-.9zM142.75 80.33h.9v.9h-.9zM162.08 88.27h.9v.9h-.9zM165.49 49.22h.9v.9h-.9zM162.96 81.3h.9v.9h-.9zM159.13 93.41h.9v.9h-.9zM136.55 78.58h.9v.9h-.9zM176.59 49.61h.9v.9h-.9zM175.08 47.35h.9v.9h-.9zM148.01 83.46h.9v.9h-.9zM133.16 74.26h.9v.9h-.9zM146.2 81.15h.9v.9h-.9zM130.08 68.17h.9v.9h-.9zM146.83 80.22h.9v.9h-.9zM152.29 85.95h.9v.9h-.9zM156.96 80.48h.9v.9h-.9zM151.63 88.4h.9v.9h-.9zM174.21 63.6h.9v.9h-.9zM175.39 65.31h.9v.9h-.9zM167.98 49.09h.9v.9h-.9zM164.67 78.06h.9v.9h-.9zM163.24 92.66h.9v.9h-.9zM150.1 85.73h.9v.9h-.9zM164.18 71.7h.9v.9h-.9zM156.67 50.36h.9v.9h-.9zM127.14 77.39h.9v.9h-.9zM172.47 48.32h.9v.9h-.9zM157.77 53.33h.9v.9h-.9zM161.46 56.13h.9v.9h-.9zM159.83 80.4h.9v.9h-.9zM178.2 54.4h.9v.9h-.9zM133.02 73.84h.9v.9h-.9zM137.73 81.99h.9v.9h-.9zM178.89 58.04h.9v.9h-.9zM177.55 58.74h.9v.9h-.9zM152.49 78.14h.9v.9h-.9zM148.65 55.8h.9v.9h-.9zM164.95 86h.9v.9h-.9zM174.52 82.31h.9v.9h-.9zM144.87 58.82h.9v.9h-.9zM158.49 88.91h.9v.9h-.9zM146.8 73.15h.9v.9h-.9zM156.33 52.08h.9v.9h-.9zM178.36 69.12h.9v.9h-.9zM145.62 94.74h.9v.9h-.9zM163.78 90.17h.9v.9h-.9zM153.07 84.66h.9v.9h-.9zM162.77 72.58h.9v.9h-.9zM153.75 71.22h.9v.9h-.9zM154.03 93.89h.9v.9h-.9zM165.45 81.33h.9v.9h-.9zM140.96 80.46h.9v.9h-.9zM164.78 83.19h.9v.9h-.9zM143.08 97.17h.9v.9h-.9zM153.09 74.45h.9v.9h-.9zM155.49 88.96h.9v.9h-.9zM132.66 72.83h.9v.9h-.9zM162.39 79.83h.9v.9h-.9zM176.65 52.69h.9v.9h-.9zM143.81 78.83h.9v.9h-.9zM182.27 55.98h.9v.9h-.9zM153.07 81.33h.9v.9h-.9zM165.54 84.94h.9v.9h-.9zM163.23 73.08h.9v.9h-.9zM126.26 70.39h.9v.9h-.9zM135.82 53.04h.9v.9h-.9zM146.05 55.17h.9v.9h-.9zM141.44 78.26h.9v.9h-.9zM159.48 81.73h.9v.9h-.9zM158.78 52.02h.9v.9h-.9zM151.25 68.02h.9v.9h-.9zM129.47 74.57h.9v.9h-.9zM161.44 80.94h.9v.9h-.9zM166.06 76.24h.9v.9h-.9zM147.28 93.88h.9v.9h-.9zM147.19 55.77h.9v.9h-.9zM158.38 60.28h.9v.9h-.9zM126.86 71.85h.9v.9h-.9zM173.49 49.98h.9v.9h-.9zM132.56 70.12h.9v.9h-.9zM153.73 88.46h.9v.9h-.9zM166.59 68.03h.9v.9h-.9zM146.65 57.77h.9v.9h-.9zM175.24 82.31h.9v.9h-.9zM143.52 84.6h.9v.9h-.9zM157.32 78.25h.9v.9h-.9zM141.23 85.42h.9v.9h-.9zM152.85 81.99h.9v.9h-.9zM148.51 86.21h.9v.9h-.9zM174.67 51.36h.9v.9h-.9zM168.78 77.85h.9v.9h-.9zM181 53.18h.9v.9h-.9zM163.85 85.28h.9v.9h-.9zM160.83 73.74h.9v.9h-.9zM146.01 78.82h.9v.9h-.9zM141.75 58.9h.9v.9h-.9zM132.17 70.62h.9v.9h-.9zM169.69 68.71h.9v.9h-.9zM145.02 85.25h.9v.9h-.9zM164.21 69.77h.9v.9h-.9zM134.31 62.77h.9v.9h-.9zM132.35 79.09h.9v.9h-.9zM154.89 90.77h.9v.9h-.9zM166.45 68.35h.9v.9h-.9zM159.89 85.07h.9v.9h-.9zM156.44 85.64h.9v.9h-.9zM149.19 74.22h.9v.9h-.9zM137.1 82.85h.9v.9h-.9zM126.11 76.43h.9v.9h-.9zM151.53 81.19h.9v.9h-.9zM177.44 50.16h.9v.9h-.9zM141.52 82.29h.9v.9h-.9zM170.58 64.79h.9v.9h-.9zM134.71 75.91h.9v.9h-.9zM161.63 97.89h.9v.9h-.9zM167.08 70.51h.9v.9h-.9zM162 71.27h.9v.9h-.9zM143.95 68.11h.9v.9h-.9zM157.18 94.26h.9v.9h-.9zM148.08 77.65h.9v.9h-.9zM156.31 85.94h.9v.9h-.9zM176.96 52.06h.9v.9h-.9zM167.15 86.17h.9v.9h-.9zM162.69 83.57h.9v.9h-.9zM155.55 84.14h.9v.9h-.9zM177.38 58.13h.9v.9h-.9zM174.64 88.65h.9v.9h-.9zM137.35 84.33h.9v.9h-.9zM177.16 62.5h.9v.9h-.9zM156.27 86.56h.9v.9h-.9zM151.22 54.65h.9v.9h-.9zM140.62 80.88h.9v.9h-.9zM172.69 87.12h.9v.9h-.9zM154.22 81.78h.9v.9h-.9zM136.58 62.9h.9v.9h-.9zM178.31 60.97h.9v.9h-.9zM153.49 75.67h.9v.9h-.9zM162.19 81.46h.9v.9h-.9zM144.92 87.62h.9v.9h-.9zM158.33 83.23h.9v.9h-.9zM165.86 69.06h.9v.9h-.9zM145.83 79.92h.9v.9h-.9zM158.32 84.2h.9v.9h-.9zM183.52 52.67h.9v.9h-.9zM148.6 55.19h.9v.9h-.9zM138.34 78.33h.9v.9h-.9zM177.51 48.07h.9v.9h-.9zM172.58 70.06h.9v.9h-.9zM176.45 56.86h.9v.9h-.9zM131.19 73.21h.9v.9h-.9zM138.88 62.47h.9v.9h-.9zM163.58 84.32h.9v.9h-.9zM160 69.96h.9v.9h-.9zM157.26 90.11h.9v.9h-.9zM153.67 85.8h.9v.9h-.9zM142.88 81.48h.9v.9h-.9zM183.06 52.78h.9v.9h-.9zM128 78.11h.9v.9h-.9zM137.53 79.9h.9v.9h-.9zM172.27 63.72h.9v.9h-.9zM143.94 59.76h.9v.9h-.9zM161.08 74.21h.9v.9h-.9zM171.02 89.72h.9v.9h-.9zM160.45 83.22h.9v.9h-.9zM139.78 62.84h.9v.9h-.9zM160.27 49.55h.9v.9h-.9zM151.72 86.63h.9v.9h-.9zM172.46 65.35h.9v.9h-.9zM155.71 87.11h.9v.9h-.9zM162.91 65.84h.9v.9h-.9zM173.76 57.68h.9v.9h-.9zM160.19 84.34h.9v.9h-.9zM145.22 79.17h.9v.9h-.9zM170.33 48.23h.9v.9h-.9zM155 75h.9v.9h-.9zM157.64 78.11h.9v.9h-.9zM134.31 62.48h.9v.9h-.9zM133.59 67.12h.9v.9h-.9zM158.25 83.44h.9v.9h-.9zM161.59 66.91h.9v.9h-.9zM160.2 94.46h.9v.9h-.9zM148.01 78.86h.9v.9h-.9zM149.43 79.82h.9v.9h-.9zM156.2 89.59h.9v.9h-.9zM162 85.55h.9v.9h-.9zM147.97 80.42h.9v.9h-.9zM165.11 87.44h.9v.9h-.9zM159.6 73.65h.9v.9h-.9zM141.45 80.53h.9v.9h-.9zM178.65 51.87h.9v.9h-.9zM180.86 60.86h.9v.9h-.9zM144.5 57.97h.9v.9h-.9zM134.43 77.99h.9v.9h-.9zM153.71 87.79h.9v.9h-.9zM134.93 63.41h.9v.9h-.9zM130.9 70.18h.9v.9h-.9zM173.87 64.18h.9v.9h-.9zM166.96 83.63h.9v.9h-.9zM130.95 73.03h.9v.9h-.9zM135.27 79.39h.9v.9h-.9zM155.83 78.77h.9v.9h-.9zM143.66 84.54h.9v.9h-.9zM159.54 96.83h.9v.9h-.9zM161.05 84.33h.9v.9h-.9zM159.33 84.67h.9v.9h-.9zM174.49 49.64h.9v.9h-.9zM147.21 88.9h.9v.9h-.9zM151.25 80.98h.9v.9h-.9zM160.38 87.09h.9v.9h-.9zM176.06 62.8h.9v.9h-.9zM156.28 83h.9v.9h-.9zM158.92 88.12h.9v.9h-.9zM163.85 48.24h.9v.9h-.9zM165.16 77.19h.9v.9h-.9zM153.78 79.18h.9v.9h-.9zM170.41 66.86h.9v.9h-.9zM156.18 52h.9v.9h-.9zM179.3 48.65h.9v.9h-.9zM182.71 51.56h.9v.9h-.9zM157.08 47.95h.9v.9h-.9zM131.66 58.75h.9v.9h-.9zM164.88 89.33h.9v.9h-.9zM154.57 86.3h.9v.9h-.9zM157.36 84h.9v.9h-.9zM143.74 82.59h.9v.9h-.9zM149.76 82.62h.9v.9h-.9zM176.78 52.08h.9v.9h-.9zM147.66 74.91h.9v.9h-.9zM151.89 88.8h.9v.9h-.9zM149 56.53h.9v.9h-.9zM135.29 66h.9v.9h-.9zM156.39 75.01h.9v.9h-.9zM166.54 90.78h.9v.9h-.9zM132.15 71.43h.9v.9h-.9zM158.6 84.09h.9v.9h-.9zM174.56 48.3h.9v.9h-.9zM182.11 53.49h.9v.9h-.9zM158.02 51.82h.9v.9h-.9zM153.24 81.9h.9v.9h-.9zM173.23 49.38h.9v.9h-.9zM166.47 86.84h.9v.9h-.9zM154.43 86.18h.9v.9h-.9zM160.33 86.51h.9v.9h-.9zM147.88 74.83h.9v.9h-.9zM158.24 86.65h.9v.9h-.9zM156.52 99.17h.9v.9h-.9zM133.28 79.86h.9v.9h-.9zM165.51 93.88h.9v.9h-.9zM163.29 80.45h.9v.9h-.9zM151.23 79.93h.9v.9h-.9zM167.47 67.66h.9v.9h-.9zM153.14 51.96h.9v.9h-.9zM142.99 78.93h.9v.9h-.9zM145.36 80.56h.9v.9h-.9zM161.1 101.84h.9v.9h-.9zM145.13 86.9h.9v.9h-.9zM177.5 53.09h.9v.9h-.9zM176.23 48.48h.9v.9h-.9zM150.57 84.21h.9v.9h-.9zM151.51 93.62h.9v.9h-.9zM178.77 55.88h.9v.9h-.9zM140.04 78.48h.9v.9h-.9zM161.07 80.19h.9v.9h-.9zM136.22 83.06h.9v.9h-.9zM132.94 65.52h.9v.9h-.9zM155.65 86.79h.9v.9h-.9zM130.84 68.22h.9v.9h-.9zM174.74 51.08h.9v.9h-.9zM128.81 81.33h.9v.9h-.9zM153.94 74.84h.9v.9h-.9zM182.47 56.46h.9v.9h-.9zM159.45 83.73h.9v.9h-.9zM137.92 83.02h.9v.9h-.9zM163.13 81.79h.9v.9h-.9zM144.57 59.14h.9v.9h-.9zM153.18 77.76h.9v.9h-.9zM150.92 52.81h.9v.9h-.9zM146.04 55.47h.9v.9h-.9zM143 56.11h.9v.9h-.9zM159.33 92.42h.9v.9h-.9zM147.09 58.03h.9v.9h-.9zM133.95 77.57h.9v.9h-.9zM130 73.44h.9v.9h-.9zM172.42 47.93h.9v.9h-.9zM161.35 79.41h.9v.9h-.9zM165.9 68.67h.9v.9h-.9zM158.9 82.83h.9v.9h-.9zM181.99 68.33h.9v.9h-.9zM147.53 79.08h.9v.9h-.9zM172.46 64.69h.9v.9h-.9zM129.17 67.21h.9v.9h-.9zM164.55 72.59h.9v.9h-.9zM135.69 61.81h.9v.9h-.9zM148.27 84.95h.9v.9h-.9zM159.92 68.62h.9v.9h-.9zM165.18 90.01h.9v.9h-.9zM164.11 74.45h.9v.9h-.9zM128.48 68.33h.9v.9h-.9zM152.21 82.03h.9v.9h-.9zM160.24 92.46h.9v.9h-.9zM167.31 49.14h.9v.9h-.9zM162.8 70.78h.9v.9h-.9zM174.03 64.24h.9v.9h-.9zM165.72 88.61h.9v.9h-.9zM161.85 74.55h.9v.9h-.9zM130.17 80.84h.9v.9h-.9zM154.81 74.91h.9v.9h-.9zM179.36 62.56h.9v.9h-.9zM178.46 49.01h.9v.9h-.9zM140.74 57.85h.9v.9h-.9zM156.25 83.19h.9v.9h-.9zM166.66 89.79h.9v.9h-.9zM177.44 57.39h.9v.9h-.9zM151.58 81.52h.9v.9h-.9zM159.76 91.95h.9v.9h-.9zM173.25 49.01h.9v.9h-.9zM176.4 47.74h.9v.9h-.9zM156.44 82.41h.9v.9h-.9zM169.97 65.55h.9v.9h-.9zM152.39 83.31h.9v.9h-.9zM157.22 78.23h.9v.9h-.9zM153.96 88.9h.9v.9h-.9zM147.46 77.94h.9v.9h-.9zM154.01 92.52h.9v.9h-.9zM181.17 57.87h.9v.9h-.9zM161.75 72.03h.9v.9h-.9zM141.1 60.84h.9v.9h-.9zM129.84 66.88h.9v.9h-.9zM150.16 90.34h.9v.9h-.9zM166.09 68.62h.9v.9h-.9zM156.45 79.41h.9v.9h-.9zM151.7 76.28h.9v.9h-.9zM155.2 81.81h.9v.9h-.9zM145.91 88.79h.9v.9h-.9zM141.04 81.3h.9v.9h-.9zM171.4 79.78h.9v.9h-.9zM174.14 50.29h.9v.9h-.9zM148.28 76.59h.9v.9h-.9zM176.2 59.18h.9v.9h-.9zM157.91 86.95h.9v.9h-.9zM146.85 89.64h.9v.9h-.9zM142.6 95.26h.9v.9h-.9zM162.78 72.99h.9v.9h-.9zM147.69 78.44h.9v.9h-.9zM180.58 57.12h.9v.9h-.9zM162.26 84.53h.9v.9h-.9zM155.92 67.91h.9v.9h-.9zM168.94 70.01h.9v.9h-.9zM145.77 58.72h.9v.9h-.9zM171.33 48.41h.9v.9h-.9zM169.97 82.07h.9v.9h-.9zM129.85 75.02h.9v.9h-.9zM181.95 50.16h.9v.9h-.9zM172.41 63.91h.9v.9h-.9zM178.62 51.99h.9v.9h-.9zM154.32 75.68h.9v.9h-.9zM160.42 86.25h.9v.9h-.9zM156.2 85.93h.9v.9h-.9zM173.82 50.13h.9v.9h-.9zM132.76 72.85h.9v.9h-.9zM164.48 88.96h.9v.9h-.9zM169.29 48.37h.9v.9h-.9zM164.96 47.77h.9v.9h-.9zM161.55 80.37h.9v.9h-.9zM129.1 66.72h.9v.9h-.9zM146.77 80.18h.9v.9h-.9zM141.47 58.78h.9v.9h-.9zM167.17 84.11h.9v.9h-.9zM152.25 71.51h.9v.9h-.9zM140.09 61.72h.9v.9h-.9zM126.92 72.12h.9v.9h-.9zM182.55 52.76h.9v.9h-.9zM148.73 54.27h.9v.9h-.9zM161.15 75.98h.9v.9h-.9zM154.28 76.29h.9v.9h-.9zM148.85 76.77h.9v.9h-.9zM144.6 80.07h.9v.9h-.9zM179.13 62.32h.9v.9h-.9zM149.95 94.24h.9v.9h-.9zM162.59 74.62h.9v.9h-.9zM181.84 87.3h.9v.9h-.9zM161.43 99.38h.9v.9h-.9zM165.07 91.04h.9v.9h-.9zM134.1 66.57h.9v.9h-.9zM159.11 86.75h.9v.9h-.9zM149.89 85.52h.9v.9h-.9zM134.85 66.45h.9v.9h-.9zM167.64 71.99h.9v.9h-.9zM147.1 56.01h.9v.9h-.9zM174.86 63.93h.9v.9h-.9zM129.44 70.23h.9v.9h-.9zM152.09 70.37h.9v.9h-.9zM132.42 71.51h.9v.9h-.9zM146.36 57.87h.9v.9h-.9zM136.98 50.72h.9v.9h-.9zM141.46 61.42h.9v.9h-.9zM141.69 60.15h.9v.9h-.9zM166.62 77.17h.9v.9h-.9zM150.31 77.15h.9v.9h-.9zM165.22 72.69h.9v.9h-.9zM147.04 78.02h.9v.9h-.9zM175.71 51.47h.9v.9h-.9zM135.54 77.79h.9v.9h-.9zM140.13 59.22h.9v.9h-.9zM173.61 47.97h.9v.9h-.9zM138.7 55.82h.9v.9h-.9z" fill="#111" opacity=".9"/><path d="M136.24 77.59h.9v.9h-.9zM157.02 61.26h.9v.9h-.9zM160.59 75.01h.9v.9h-.9zM139.4 68.89h.9v.9h-.9zM152.09 82.81h.9v.9h-.9zM140.38 81.34h.9v.9h-.9zM172.79 84.16h.9v.9h-.9zM177.5 50.76h.9v.9h-.9zM151.76 85.33h.9v.9h-.9zM133.8 76.89h.9v.9h-.9zM131.29 79.21h.9v.9h-.9zM152.07 92.43h.9v.9h-.9zM144.05 91.77h.9v.9h-.9zM168.87 48.46h.9v.9h-.9zM133.27 66.19h.9v.9h-.9zM154.16 50.52h.9v.9h-.9zM156.85 87.31h.9v.9h-.9zM178.77 53.9h.9v.9h-.9zM143.08 83.63h.9v.9h-.9zM146.1 58.31h.9v.9h-.9zM153.79 51h.9v.9h-.9zM139.17 63.32h.9v.9h-.9zM173.81 68.28h.9v.9h-.9zM182.13 50.79h.9v.9h-.9zM127.14 72.83h.9v.9h-.9zM152.35 76.2h.9v.9h-.9zM157.26 71.2h.9v.9h-.9zM135.71 61.7h.9v.9h-.9zM160.41 50.79h.9v.9h-.9zM159.93 84.43h.9v.9h-.9zM178.16 51.34h.9v.9h-.9zM167.66 94.13h.9v.9h-.9zM171.8 98.59h.9v.9h-.9zM177.5 53.86h.9v.9h-.9zM137.27 81.39h.9v.9h-.9zM160.01 84.95h.9v.9h-.9zM131.75 73.2h.9v.9h-.9zM154.27 50.54h.9v.9h-.9zM150.65 53.59h.9v.9h-.9zM158.66 98.72h.9v.9h-.9zM173.77 47.79h.9v.9h-.9zM175.4 49.47h.9v.9h-.9zM173.93 65.59h.9v.9h-.9zM173.35 85.81h.9v.9h-.9zM158.86 90.43h.9v.9h-.9zM156.88 89.71h.9v.9h-.9zM159.5 90.53h.9v.9h-.9zM163.11 47.89h.9v.9h-.9zM154.72 82.61h.9v.9h-.9zM170.88 75.01h.9v.9h-.9zM145.2 80.59h.9v.9h-.9zM159.74 78.08h.9v.9h-.9zM144.59 78.08h.9v.9h-.9zM174.95 60.31h.9v.9h-.9zM164.98 48.07h.9v.9h-.9zM139.42 61.56h.9v.9h-.9zM174.57 62.91h.9v.9h-.9zM143.87 80.03h.9v.9h-.9zM147.84 70.38h.9v.9h-.9zM152.29 97.09h.9v.9h-.9zM164.32 89.6h.9v.9h-.9zM157.48 77.92h.9v.9h-.9zM153.65 78.9h.9v.9h-.9zM158.82 83.67h.9v.9h-.9zM154.27 53.99h.9v.9h-.9zM146.7 90.51h.9v.9h-.9zM163.08 91.24h.9v.9h-.9zM147.14 75.23h.9v.9h-.9zM164.98 49.56h.9v.9h-.9zM153.83 83.33h.9v.9h-.9zM145.52 56.98h.9v.9h-.9zM181.02 49.76h.9v.9h-.9zM150.95 77.89h.9v.9h-.9zM155.3 58.41h.9v.9h-.9zM146.73 78.93h.9v.9h-.9zM167.85 48.42h.9v.9h-.9zM174.02 49.26h.9v.9h-.9zM158.71 80.9h.9v.9h-.9zM159.34 90.19h.9v.9h-.9zM177.8 57.71h.9v.9h-.9zM146.52 72.32h.9v.9h-.9zM165.07 79.88h.9v.9h-.9zM179.4 53.46h.9v.9h-.9zM149 81.77h.9v.9h-.9zM177.84 57.23h.9v.9h-.9zM165.75 88.81h.9v.9h-.9zM137.15 64.25h.9v.9h-.9zM130.08 81.83h.9v.9h-.9zM148.6 86.83h.9v.9h-.9zM178.78 58.59h.9v.9h-.9zM171.68 49.68h.9v.9h-.9zM158.75 73.22h.9v.9h-.9zM151.89 91.86h.9v.9h-.9zM179.15 52.07h.9v.9h-.9zM146.4 68.74h.9v.9h-.9zM133.29 77.47h.9v.9h-.9zM161.09 78.22h.9v.9h-.9zM166.02 99.2h.9v.9h-.9zM143.97 78.26h.9v.9h-.9zM181.66 58.16h.9v.9h-.9zM180.74 52.17h.9v.9h-.9zM138.1 63.97h.9v.9h-.9zM168.3 89.34h.9v.9h-.9zM143.85 82.57h.9v.9h-.9zM176.88 57.73h.9v.9h-.9zM175.09 49.54h.9v.9h-.9zM163.76 81.33h.9v.9h-.9zM157.31 89.15h.9v.9h-.9zM147.35 78.43h.9v.9h-.9zM162.72 47.66h.9v.9h-.9zM144.78 59.11h.9v.9h-.9zM162.56 83.97h.9v.9h-.9zM154.98 90.5h.9v.9h-.9zM153.59 70.02h.9v.9h-.9zM144.19 81.9h.9v.9h-.9zM148.64 91.48h.9v.9h-.9zM137.68 81.22h.9v.9h-.9zM172.36 49.39h.9v.9h-.9zM146.41 57.9h.9v.9h-.9zM131.3 73.78h.9v.9h-.9zM166.08 68.91h.9v.9h-.9zM149.58 56.53h.9v.9h-.9zM162.35 82.73h.9v.9h-.9zM161.96 74.35h.9v.9h-.9zM138.36 82.27h.9v.9h-.9zM167.69 81.04h.9v.9h-.9zM153.29 77.82h.9v.9h-.9zM155.11 52.97h.9v.9h-.9zM156 49.73h.9v.9h-.9zM168.41 82.01h.9v.9h-.9zM165.47 91.8h.9v.9h-.9zM170.72 65.56h.9v.9h-.9zM126.73 77.69h.9v.9h-.9zM127.45 72.29h.9v.9h-.9zM161.66 86.68h.9v.9h-.9zM165.44 49.32h.9v.9h-.9zM136.89 77.63h.9v.9h-.9zM150.4 83.86h.9v.9h-.9zM149.39 93.9h.9v.9h-.9zM161.48 86.59h.9v.9h-.9zM170.65 69.49h.9v.9h-.9zM159.3 85.99h.9v.9h-.9zM127.54 67.18h.9v.9h-.9zM179.1 57.83h.9v.9h-.9zM141.87 60.45h.9v.9h-.9zM133.54 61.47h.9v.9h-.9zM150.78 76.07h.9v.9h-.9zM164.38 81.19h.9v.9h-.9zM145.73 92.19h.9v.9h-.9zM159.22 86.63h.9v.9h-.9zM134.26 66.52h.9v.9h-.9zM162.91 87.03h.9v.9h-.9zM175.06 60.11h.9v.9h-.9zM128.48 76.8h.9v.9h-.9zM137.21 64.54h.9v.9h-.9zM156.88 78.35h.9v.9h-.9zM153.37 95.76h.9v.9h-.9zM173.99 50.43h.9v.9h-.9zM156.72 52.45h.9v.9h-.9zM145.89 88.7h.9v.9h-.9zM150.05 54.23h.9v.9h-.9zM160.77 87.95h.9v.9h-.9zM152.34 75.5h.9v.9h-.9zM172.95 66.08h.9v.9h-.9zM167.12 91.17h.9v.9h-.9zM133.23 76.36h.9v.9h-.9zM178.02 51.09h.9v.9h-.9zM169.45 49.71h.9v.9h-.9zM177.91 53.4h.9v.9h-.9zM135.03 76.65h.9v.9h-.9zM129.16 72.16h.9v.9h-.9zM164.31 88.32h.9v.9h-.9zM131.16 72.4h.9v.9h-.9zM163.28 48.51h.9v.9h-.9zM138.88 59.42h.9v.9h-.9zM128.54 74.12h.9v.9h-.9zM160.31 85.96h.9v.9h-.9zM130.43 75.59h.9v.9h-.9zM130.27 67.42h.9v.9h-.9zM138.64 79h.9v.9h-.9zM161.86 86.2h.9v.9h-.9zM150.77 59.12h.9v.9h-.9zM157.91 66.72h.9v.9h-.9zM153.76 85.45h.9v.9h-.9zM133.38 64.15h.9v.9h-.9zM150.02 80.06h.9v.9h-.9zM153.1 84.23h.9v.9h-.9zM158.15 79.42h.9v.9h-.9zM136.56 65.98h.9v.9h-.9zM132.42 70.64h.9v.9h-.9zM156.49 80.01h.9v.9h-.9zM163.82 71.44h.9v.9h-.9zM139.94 78.12h.9v.9h-.9zM143.75 91.16h.9v.9h-.9zM166.88 67.65h.9v.9h-.9zM177.03 82.98h.9v.9h-.9zM162.92 89.79h.9v.9h-.9zM138.14 64.29h.9v.9h-.9zM170.1 49.3h.9v.9h-.9zM133.97 64.88h.9v.9h-.9zM152.81 89.21h.9v.9h-.9zM153.7 78.36h.9v.9h-.9zM147.99 75.05h.9v.9h-.9zM159.68 83.45h.9v.9h-.9zM169.73 82.85h.9v.9h-.9zM144.33 56.65h.9v.9h-.9zM171.44 66.82h.9v.9h-.9zM160.62 74.54h.9v.9h-.9zM148.97 77.39h.9v.9h-.9zM154.7 79.21h.9v.9h-.9zM160.54 71.95h.9v.9h-.9zM175.53 52.36h.9v.9h-.9zM179.64 62.77h.9v.9h-.9zM155.52 67.7h.9v.9h-.9zM161.73 89.04h.9v.9h-.9zM159.05 74.31h.9v.9h-.9zM143.95 75.59h.9v.9h-.9zM143.6 81.15h.9v.9h-.9zM181.33 56.77h.9v.9h-.9zM178.99 55.17h.9v.9h-.9zM168.39 48.32h.9v.9h-.9zM159.66 72.71h.9v.9h-.9zM144.07 76.37h.9v.9h-.9zM153.99 91.58h.9v.9h-.9zM154.98 94.15h.9v.9h-.9zM148.05 90.18h.9v.9h-.9zM133.31 72.43h.9v.9h-.9zM156.63 74.69h.9v.9h-.9zM171.82 64.44h.9v.9h-.9zM137.33 65.18h.9v.9h-.9zM175.5 65.39h.9v.9h-.9zM157.98 73.57h.9v.9h-.9zM140.01 79.29h.9v.9h-.9zM160.9 60.11h.9v.9h-.9zM169.15 49.62h.9v.9h-.9zM162.48 81.99h.9v.9h-.9zM132.82 62.77h.9v.9h-.9zM150.54 80.18h.9v.9h-.9zM180.73 55.29h.9v.9h-.9zM154.49 54.03h.9v.9h-.9zM170.89 66.12h.9v.9h-.9zM174.32 61.44h.9v.9h-.9zM171.61 65.64h.9v.9h-.9zM154.52 77.43h.9v.9h-.9zM140.65 61.74h.9v.9h-.9zM167.95 91.92h.9v.9h-.9zM156.26 78.14h.9v.9h-.9zM143.91 79.78h.9v.9h-.9zM154.96 74.64h.9v.9h-.9zM154.02 88.34h.9v.9h-.9zM157.71 74.65h.9v.9h-.9zM131.62 72.96h.9v.9h-.9zM138.06 88.39h.9v.9h-.9zM132.94 78.66h.9v.9h-.9zM139.8 91.03h.9v.9h-.9zM168.48 83.35h.9v.9h-.9zM160.64 50.12h.9v.9h-.9zM149.42 65.34h.9v.9h-.9zM180.13 56.78h.9v.9h-.9zM174.52 93.5h.9v.9h-.9zM135.33 77.38h.9v.9h-.9zM156.34 97.91h.9v.9h-.9zM129.58 72.31h.9v.9h-.9zM151.25 87.71h.9v.9h-.9zM129.88 78.18h.9v.9h-.9zM156.37 93.53h.9v.9h-.9zM155.65 102.11h.9v.9h-.9zM167.28 76.42h.9v.9h-.9zM163.17 86.61h.9v.9h-.9zM152.14 65.61h.9v.9h-.9zM150.41 79.85h.9v.9h-.9zM172.11 64.29h.9v.9h-.9zM138.21 81.53h.9v.9h-.9zM160.54 84.28h.9v.9h-.9zM170.72 48.04h.9v.9h-.9zM131.54 50.54h.9v.9h-.9zM161.91 49.65h.9v.9h-.9zM172.24 89.83h.9v.9h-.9zM134.78 80.41h.9v.9h-.9zM159.64 84.71h.9v.9h-.9zM152.52 86.57h.9v.9h-.9zM163.14 71.86h.9v.9h-.9zM173.03 96.79h.9v.9h-.9zM167 73.97h.9v.9h-.9zM165.27 48.65h.9v.9h-.9zM169.95 49.34h.9v.9h-.9zM137.39 65.06h.9v.9h-.9zM141.23 79.28h.9v.9h-.9zM133.16 74.32h.9v.9h-.9zM172.13 92.38h.9v.9h-.9zM145.82 79.13h.9v.9h-.9zM150.9 94.27h.9v.9h-.9zM146.02 98.44h.9v.9h-.9zM151.46 92.15h.9v.9h-.9zM137.74 63.96h.9v.9h-.9zM159.82 51.16h.9v.9h-.9zM162.61 70.88h.9v.9h-.9zM147.57 86.67h.9v.9h-.9zM157.58 81.82h.9v.9h-.9zM150.85 75.98h.9v.9h-.9zM157.65 94.86h.9v.9h-.9zM147.73 80.59h.9v.9h-.9zM157.78 93.97h.9v.9h-.9zM167.96 68.7h.9v.9h-.9zM176.08 58.66h.9v.9h-.9zM131.53 70.84h.9v.9h-.9zM159.54 83.96h.9v.9h-.9zM169.36 84.14h.9v.9h-.9zM170.81 79.42h.9v.9h-.9zM173.55 49.59h.9v.9h-.9zM174.17 63.3h.9v.9h-.9zM125.2 65.58h.9v.9h-.9zM163.87 85.96h.9v.9h-.9zM151.48 88.63h.9v.9h-.9zM156.95 86.16h.9v.9h-.9zM133.86 78.25h.9v.9h-.9zM138.97 82.98h.9v.9h-.9zM133.08 69.52h.9v.9h-.9zM177.22 55.93h.9v.9h-.9zM131.74 79.22h.9v.9h-.9zM162.06 82.31h.9v.9h-.9zM155.74 87.78h.9v.9h-.9zM179.74 55.09h.9v.9h-.9zM146.25 91.33h.9v.9h-.9zM142.79 60.17h.9v.9h-.9zM159.88 72.36h.9v.9h-.9zM163.42 88.52h.9v.9h-.9zM143.23 89.73h.9v.9h-.9zM170.88 65.78h.9v.9h-.9zM143.59 78.86h.9v.9h-.9zM156.8 50.87h.9v.9h-.9zM180.54 54.52h.9v.9h-.9zM150.65 85.58h.9v.9h-.9zM134.22 79.2h.9v.9h-.9zM153.37 66.81h.9v.9h-.9zM149.78 77.8h.9v.9h-.9zM133.5 68.04h.9v.9h-.9zM153.41 79.87h.9v.9h-.9zM154.06 88.37h.9v.9h-.9zM167.12 73.81h.9v.9h-.9zM130.95 64.75h.9v.9h-.9zM172.09 48.81h.9v.9h-.9zM173.95 49.76h.9v.9h-.9zM154.79 75.06h.9v.9h-.9zM129.15 80.57h.9v.9h-.9zM138.49 79.08h.9v.9h-.9zM123.99 73.97h.9v.9h-.9zM175.09 68.1h.9v.9h-.9zM134.88 78.48h.9v.9h-.9zM140.67 77.26h.9v.9h-.9zM148.97 72.83h.9v.9h-.9zM130.43 71.79h.9v.9h-.9zM170.51 66.76h.9v.9h-.9zM136.31 63.12h.9v.9h-.9zM160.93 94.27h.9v.9h-.9zM134.35 67.13h.9v.9h-.9zM165.3 69.4h.9v.9h-.9zM181.03 56.9h.9v.9h-.9z" fill="#444" opacity=".8"/><g transform="translate(155 64) rotate(-28)"><path d="M23.5 0L23.26 1.92L22.54 3.38L21.35 4.66L19.7 5.78L17.61 6.74L15.09 7.54L12.17 8.17L8.83 8.63L5.01 8.91L0 9L-5.01 8.91L-8.83 8.63L-12.17 8.17L-15.09 7.54L-17.61 6.74L-19.7 5.78L-21.35 4.66L-22.54 3.38L-23.26 1.92L-23.5 0L-23.26 -1.92L-22.54 -3.38L-21.35 -4.66L-19.7 -5.78L-17.61 -6.74L-15.09 -7.54L-12.17 -8.17L-8.83 -8.63L-5.01 -8.91L-0 -9L5.01 -8.91L8.83 -8.63L12.17 -8.17L15.09 -7.54L17.61 -6.74L19.7 -5.78L21.35 -4.66L22.54 -3.38L23.26 -1.92Z" fill="#f6f6f6" stroke="#111" stroke-width="1.2"/><path d="M20.45 0L20.28 1.35L19.75 2.37L18.87 3.27L17.66 4.05L16.13 4.73L14.29 5.29L12.15 5.73L9.7 6.05L6.9 6.25L3.23 6.31L-0.44 6.25L-3.24 6.05L-5.68 5.73L-7.83 5.29L-9.67 4.73L-11.2 4.05L-12.41 3.27L-13.28 2.37L-13.81 1.35L-13.99 0L-13.81 -1.35L-13.28 -2.37L-12.41 -3.27L-11.2 -4.05L-9.67 -4.73L-7.83 -5.29L-5.68 -5.73L-3.24 -6.05L-0.44 -6.25L3.23 -6.31L6.9 -6.25L9.7 -6.05L12.15 -5.73L14.29 -5.29L16.13 -4.73L17.66 -4.05L18.87 -3.27L19.75 -2.37L20.28 -1.35Z" fill="#c4c4c4"/><path d="M18.01 0L17.88 0.89L17.51 1.56L16.89 2.15L16.03 2.67L14.95 3.11L13.65 3.48L12.13 3.77L10.4 3.98L8.42 4.11L5.83 4.15L3.23 4.11L1.25 3.98L-0.48 3.77L-1.99 3.48L-3.3 3.11L-4.38 2.67L-5.23 2.15L-5.85 1.56L-6.23 0.89L-6.35 0L-6.23 -0.89L-5.85 -1.56L-5.23 -2.15L-4.38 -2.67L-3.3 -3.11L-1.99 -3.48L-0.48 -3.77L1.25 -3.98L3.23 -4.11L5.83 -4.15L8.42 -4.11L10.4 -3.98L12.13 -3.77L13.65 -3.48L14.95 -3.11L16.03 -2.67L16.89 -2.15L17.51 -1.56L17.88 -0.89Z" fill="#8a8a8a"/><path d="M21.81 0L21.6 1.6L20.99 2.82L19.97 3.89L18.57 4.82L16.79 5.63L14.65 6.29L12.16 6.82L9.32 7.2L6.06 7.43L1.79 7.51L-2.47 7.43L-5.73 7.2L-8.57 6.82L-11.06 6.29L-13.2 5.63L-14.98 4.82L-16.39 3.89L-17.4 2.82L-18.02 1.6L-18.22 0L-18.02 -1.6L-17.4 -2.82L-16.39 -3.89L-14.98 -4.82L-13.2 -5.63L-11.06 -6.29L-8.57 -6.82L-5.73 -7.2L-2.47 -7.43L1.79 -7.51L6.06 -7.43L9.32 -7.2L12.16 -6.82L14.65 -6.29L16.79 -5.63L18.57 -4.82L19.97 -3.89L20.99 -2.82L21.6 -1.6ZM20.45 0L20.28 1.35L19.75 2.37L18.87 3.27L17.66 4.05L16.13 4.73L14.29 5.29L12.15 5.73L9.7 6.05L6.9 6.25L3.23 6.31L-0.44 6.25L-3.24 6.05L-5.68 5.73L-7.83 5.29L-9.67 4.73L-11.2 4.05L-12.41 3.27L-13.28 2.37L-13.81 1.35L-13.99 0L-13.81 -1.35L-13.28 -2.37L-12.41 -3.27L-11.2 -4.05L-9.67 -4.73L-7.83 -5.29L-5.68 -5.73L-3.24 -6.05L-0.44 -6.25L3.23 -6.31L6.9 -6.25L9.7 -6.05L12.15 -5.73L14.29 -5.29L16.13 -4.73L17.66 -4.05L18.87 -3.27L19.75 -2.37L20.28 -1.35ZM19.2 0L19.05 1.11L18.6 1.96L17.86 2.7L16.83 3.34L15.53 3.9L13.96 4.36L12.14 4.73L10.06 4.99L7.68 5.15L4.56 5.21L1.44 5.15L-0.94 4.99L-3.02 4.73L-4.84 4.36L-6.4 3.9L-7.7 3.34L-8.73 2.7L-9.47 1.96L-9.92 1.11L-10.07 0L-9.92 -1.11L-9.47 -1.96L-8.73 -2.7L-7.7 -3.34L-6.4 -3.9L-4.84 -4.36L-3.02 -4.73L-0.94 -4.99L1.44 -5.15L4.56 -5.21L7.68 -5.15L10.06 -4.99L12.14 -4.73L13.96 -4.36L15.53 -3.9L16.83 -3.34L17.86 -2.7L18.6 -1.96L19.05 -1.11ZM18.01 0L17.88 0.89L17.51 1.56L16.89 2.15L16.03 2.67L14.95 3.11L13.65 3.48L12.13 3.77L10.4 3.98L8.42 4.11L5.83 4.15L3.23 4.11L1.25 3.98L-0.48 3.77L-1.99 3.48L-3.3 3.11L-4.38 2.67L-5.23 2.15L-5.85 1.56L-6.23 0.89L-6.35 0L-6.23 -0.89L-5.85 -1.56L-5.23 -2.15L-4.38 -2.67L-3.3 -3.11L-1.99 -3.48L-0.48 -3.77L1.25 -3.98L3.23 -4.11L5.83 -4.15L8.42 -4.11L10.4 -3.98L12.13 -3.77L13.65 -3.48L14.95 -3.11L16.03 -2.67L16.89 -2.15L17.51 -1.56L17.88 -0.89ZM16.86 0L16.76 0.67L16.46 1.18L15.96 1.63L15.27 2.02L14.4 2.35L13.35 2.63L12.13 2.85L10.73 3.01L9.14 3.11L7.04 3.14L4.95 3.11L3.36 3.01L1.96 2.85L0.74 2.63L-0.31 2.35L-1.18 2.02L-1.87 1.63L-2.37 1.18L-2.67 0.67L-2.77 0L-2.67 -0.67L-2.37 -1.18L-1.87 -1.63L-1.18 -2.02L-0.31 -2.35L0.74 -2.63L1.96 -2.85L3.36 -3.01L4.95 -3.11L7.04 -3.14L9.14 -3.11L10.73 -3.01L12.13 -2.85L13.35 -2.63L14.4 -2.35L15.27 -2.02L15.96 -1.63L16.46 -1.18L16.76 -0.67Z" fill="none" stroke="#262626" stroke-width=".8"/><path d="M15.27 0L15.2 0.46L14.99 0.81L14.63 1.12L14.13 1.39L13.51 1.62L12.75 1.81L11.88 1.96L10.87 2.07L9.73 2.14L8.23 2.16L6.72 2.14L5.58 2.07L4.57 1.96L3.7 1.81L2.94 1.62L2.32 1.39L1.82 1.12L1.46 0.81L1.25 0.46L1.17 0L1.25 -0.46L1.46 -0.81L1.82 -1.12L2.32 -1.39L2.94 -1.62L3.7 -1.81L4.57 -1.96L5.58 -2.07L6.72 -2.14L8.22 -2.16L9.73 -2.14L10.87 -2.07L11.88 -1.96L12.75 -1.81L13.51 -1.62L14.13 -1.39L14.63 -1.12L14.99 -0.81L15.2 -0.46Z" fill="#2e2e2e"/><ellipse cx="8.22" cy="0" rx="4.7" ry="0.6" fill="#eee"/></g>
</svg>
<path d="M150.3 46V117M114.3 75.3H184.8" stroke="#3030a8" stroke-width="1.3" fill="none"/>
<rect x="114.3" y="46" width="70.5" height="71" fill="none" stroke="#111" stroke-width="1.5"/>
<path d="M113.7 115.5h-2.2M115.8 117.6v2.2M113.7 114h-1.6M117.3 117.6v1.6M113.7 112.5h-1.6M118.8 117.6v1.6M113.7 111h-2.2M120.3 117.6v2.2M113.7 109.5h-1.6M121.8 117.6v1.6M113.7 108h-1.6M123.3 117.6v1.6M113.7 106.5h-1.6M124.8 117.6v1.6M113.7 105h-2.2M126.3 117.6v2.2M113.7 103.5h-1.6M127.8 117.6v1.6M113.7 100.19h-1.6M131.11 117.6v1.6M113.7 97.5h-1.6M133.8 117.6v1.6M113.7 95.4h-1.6M135.9 117.6v1.6M113.7 93.69h-1.6M137.61 117.6v1.6M113.7 92.25h-1.6M139.05 117.6v1.6M113.7 90.99h-1.6M140.31 117.6v1.6M113.7 89.89h-1.6M141.41 117.6v1.6M113.7 88.9h-2.8M142.4 117.6v2.8M113.7 82.4h-1.6M148.9 117.6v1.6M113.7 78.59h-1.6M152.71 117.6v1.6M113.7 75.9h-1.6M155.4 117.6v1.6M113.7 73.8h-1.6M157.5 117.6v1.6M113.7 72.09h-1.6M159.21 117.6v1.6M113.7 70.65h-1.6M160.65 117.6v1.6M113.7 69.39h-1.6M161.91 117.6v1.6M113.7 68.29h-1.6M163.01 117.6v1.6M113.7 67.3h-2.8M164 117.6v2.8M113.7 60.8h-1.6M170.5 117.6v1.6M113.7 56.99h-1.6M174.31 117.6v1.6M113.7 54.3h-1.6M177 117.6v1.6M113.7 52.2h-1.6M179.1 117.6v1.6M113.7 50.49h-1.6M180.81 117.6v1.6M113.7 49.05h-1.6M182.25 117.6v1.6" stroke="#111" stroke-width="0.9" fill="none"/>
<path d="M114 46V117.3H184.8" stroke="#111" stroke-width="1" fill="none"/>
<svg x="193.8" y="46" width="70.5" height="71" viewBox="193.8 46 70.5 71" overflow="hidden">
<path d="M209.72 83.68h.9v.9h-.9zM234.63 49.06h.9v.9h-.9zM245.7 78.63h.9v.9h-.9zM247.55 85.2h.9v.9h-.9zM214.51 65.71h.9v.9h-.9zM242.25 75h.9v.9h-.9zM258.8 57.89h.9v.9h-.9zM229.94 74.53h.9v.9h-.9zM216.62 68.28h.9v.9h-.9zM244.38 50.53h.9v.9h-.9zM225.24 75.7h.9v.9h-.9zM220.87 79.57h.9v.9h-.9zM237.95 75.06h.9v.9h-.9zM229.21 84.56h.9v.9h-.9zM216.84 67.51h.9v.9h-.9zM205.82 59.84h.9v.9h-.9zM224.11 82.82h.9v.9h-.9zM213.99 88.69h.9v.9h-.9zM231.19 55.37h.9v.9h-.9zM223.9 86.55h.9v.9h-.9zM214.07 78.96h.9v.9h-.9zM247.42 69.13h.9v.9h-.9zM258.67 48.71h.9v.9h-.9zM245.9 81.67h.9v.9h-.9zM220.22 84.59h.9v.9h-.9zM236.13 75.07h.9v.9h-.9zM227.89 85.44h.9v.9h-.9zM224.72 91.25h.9v.9h-.9zM237.98 65.89h.9v.9h-.9zM230.52 90.78h.9v.9h-.9zM244.74 88.45h.9v.9h-.9zM228.05 81.38h.9v.9h-.9zM211.95 87.24h.9v.9h-.9zM228.43 58.6h.9v.9h-.9zM238.7 76.64h.9v.9h-.9zM214.98 70.07h.9v.9h-.9zM252.78 79.11h.9v.9h-.9zM248.9 53.06h.9v.9h-.9zM233.46 78.24h.9v.9h-.9zM234.71 84.32h.9v.9h-.9zM243.83 77.45h.9v.9h-.9zM213 73.79h.9v.9h-.9zM243.08 49.56h.9v.9h-.9zM233.04 80.86h.9v.9h-.9zM236.34 79.1h.9v.9h-.9zM245.91 71.32h.9v.9h-.9zM213.53 76.52h.9v.9h-.9zM244.49 72.2h.9v.9h-.9zM217.69 84.78h.9v.9h-.9zM224.18 85.23h.9v.9h-.9zM229.74 81.77h.9v.9h-.9zM232.48 75.32h.9v.9h-.9zM256.33 57.72h.9v.9h-.9zM229.01 84.34h.9v.9h-.9zM259.57 62.71h.9v.9h-.9zM215.36 85.21h.9v.9h-.9zM238.35 78.84h.9v.9h-.9zM231.21 95.44h.9v.9h-.9zM223.75 85.72h.9v.9h-.9zM237.21 80.57h.9v.9h-.9zM248.41 48.71h.9v.9h-.9zM234.29 64.37h.9v.9h-.9zM248.85 71.94h.9v.9h-.9zM259.31 52.29h.9v.9h-.9zM216.46 85.36h.9v.9h-.9zM229.94 54.58h.9v.9h-.9zM236.55 81.66h.9v.9h-.9zM216.45 83.5h.9v.9h-.9zM250.38 57.15h.9v.9h-.9zM215.08 68.79h.9v.9h-.9zM231.74 81.08h.9v.9h-.9zM239.17 81.55h.9v.9h-.9zM213.49 75.72h.9v.9h-.9zM219.44 87.26h.9v.9h-.9zM243.81 71.9h.9v.9h-.9zM223.88 84.55h.9v.9h-.9zM256.74 56.89h.9v.9h-.9zM215.64 81.97h.9v.9h-.9zM215.47 82.87h.9v.9h-.9zM234.1 94.14h.9v.9h-.9zM215.09 68.71h.9v.9h-.9zM257.23 63.78h.9v.9h-.9zM257.63 55.66h.9v.9h-.9zM262.18 54.61h.9v.9h-.9zM245.79 73.14h.9v.9h-.9zM216.26 69.9h.9v.9h-.9zM223.39 90.55h.9v.9h-.9zM214.07 70.84h.9v.9h-.9zM246.96 88.67h.9v.9h-.9zM238.44 50.89h.9v.9h-.9zM242.63 73.66h.9v.9h-.9zM217.09 66.2h.9v.9h-.9zM214.24 86.04h.9v.9h-.9zM225.76 82.28h.9v.9h-.9zM222.2 90.52h.9v.9h-.9zM248.57 71.23h.9v.9h-.9zM217.37 65.71h.9v.9h-.9zM254.17 62.76h.9v.9h-.9zM239.91 75.33h.9v.9h-.9zM231.59 54.23h.9v.9h-.9zM261.7 56.9h.9v.9h-.9zM250.98 67.76h.9v.9h-.9zM234.86 82.75h.9v.9h-.9zM240.51 47.92h.9v.9h-.9zM257.49 55.85h.9v.9h-.9zM225.88 83.61h.9v.9h-.9zM229.55 87.04h.9v.9h-.9zM233.9 53.44h.9v.9h-.9zM235.47 85.65h.9v.9h-.9zM258.24 53.82h.9v.9h-.9zM241.95 51.24h.9v.9h-.9zM256.76 52.33h.9v.9h-.9zM232.24 89.71h.9v.9h-.9zM257.52 54.55h.9v.9h-.9zM246.95 79.6h.9v.9h-.9zM215.83 83.02h.9v.9h-.9zM246.56 92.16h.9v.9h-.9zM230.65 85.62h.9v.9h-.9zM243.74 50.46h.9v.9h-.9zM220.79 83.66h.9v.9h-.9zM240.64 73.75h.9v.9h-.9zM246.79 69.96h.9v.9h-.9zM250.71 61.67h.9v.9h-.9zM215.68 81.41h.9v.9h-.9zM236.01 87.67h.9v.9h-.9zM216.92 82.91h.9v.9h-.9zM247.91 70.06h.9v.9h-.9zM256.77 65.91h.9v.9h-.9zM256.1 47.42h.9v.9h-.9zM239.54 52.02h.9v.9h-.9zM210.77 55.4h.9v.9h-.9zM229.62 64.37h.9v.9h-.9zM219.1 83.44h.9v.9h-.9zM226.41 51.96h.9v.9h-.9zM254.53 60.54h.9v.9h-.9zM240.65 82.24h.9v.9h-.9zM233.06 81.3h.9v.9h-.9zM238.2 81.52h.9v.9h-.9zM244.35 91.15h.9v.9h-.9zM255.96 59.78h.9v.9h-.9zM230.56 80.63h.9v.9h-.9zM243.94 82.99h.9v.9h-.9zM234.21 86.56h.9v.9h-.9zM238.07 70.32h.9v.9h-.9zM230.5 77.88h.9v.9h-.9zM246.39 70.72h.9v.9h-.9zM209.42 81.85h.9v.9h-.9zM204.93 79.29h.9v.9h-.9zM255.75 50.25h.9v.9h-.9zM244.49 92.15h.9v.9h-.9zM213.18 78.25h.9v.9h-.9zM253.65 62.93h.9v.9h-.9zM219.09 84.73h.9v.9h-.9zM256.42 54.49h.9v.9h-.9zM216.07 83.58h.9v.9h-.9zM213.76 81.59h.9v.9h-.9zM213.82 72.6h.9v.9h-.9zM242.99 83.32h.9v.9h-.9zM212.66 76.15h.9v.9h-.9zM245.73 90.71h.9v.9h-.9zM239.01 50.73h.9v.9h-.9zM239.51 87.32h.9v.9h-.9zM262.1 49.07h.9v.9h-.9zM226.75 82.97h.9v.9h-.9zM239.85 70.84h.9v.9h-.9zM224.37 60.33h.9v.9h-.9zM216.51 74.02h.9v.9h-.9zM247.17 58.6h.9v.9h-.9zM223.84 69.15h.9v.9h-.9zM253.19 49.01h.9v.9h-.9zM224.74 83.32h.9v.9h-.9zM235.71 49.56h.9v.9h-.9zM222.91 59.57h.9v.9h-.9zM239.29 51.14h.9v.9h-.9zM214.24 76.78h.9v.9h-.9zM232.15 80.66h.9v.9h-.9zM221.78 63.35h.9v.9h-.9zM255.57 57.91h.9v.9h-.9zM250 95.66h.9v.9h-.9zM217.72 87.73h.9v.9h-.9zM238.17 52.89h.9v.9h-.9zM250.35 48.67h.9v.9h-.9zM252.4 67.29h.9v.9h-.9zM206.32 81.85h.9v.9h-.9zM242.71 81.93h.9v.9h-.9zM243.47 48.75h.9v.9h-.9zM212.92 85.83h.9v.9h-.9zM250.28 50.28h.9v.9h-.9zM206.09 81.69h.9v.9h-.9zM214.08 79.94h.9v.9h-.9zM211.89 83.76h.9v.9h-.9zM254.31 47.74h.9v.9h-.9zM221.85 67.58h.9v.9h-.9zM233.78 81.04h.9v.9h-.9zM244.68 73.04h.9v.9h-.9zM225.89 83.92h.9v.9h-.9zM243.06 72.45h.9v.9h-.9zM245.74 86.68h.9v.9h-.9zM222.82 85.12h.9v.9h-.9zM228.65 88.53h.9v.9h-.9zM213.12 76.28h.9v.9h-.9zM239.57 52.64h.9v.9h-.9zM255.25 52.66h.9v.9h-.9zM245.64 93.46h.9v.9h-.9zM226.44 77.34h.9v.9h-.9zM237.03 83.69h.9v.9h-.9zM216.45 70.9h.9v.9h-.9zM255.8 56.92h.9v.9h-.9zM211.07 73.54h.9v.9h-.9zM245.57 71.87h.9v.9h-.9zM225.09 84.21h.9v.9h-.9zM212.3 74.18h.9v.9h-.9zM227.45 90.66h.9v.9h-.9zM214.69 72.57h.9v.9h-.9zM209.67 77.72h.9v.9h-.9zM234.3 93.6h.9v.9h-.9zM211.79 78.67h.9v.9h-.9zM247.46 83.12h.9v.9h-.9zM205.81 79.38h.9v.9h-.9zM257.55 57.07h.9v.9h-.9zM220.32 69.93h.9v.9h-.9zM242.21 76.86h.9v.9h-.9zM228.58 84.36h.9v.9h-.9zM244.99 72.72h.9v.9h-.9zM211.74 80h.9v.9h-.9zM254.86 59.77h.9v.9h-.9zM212.32 72.72h.9v.9h-.9zM250.47 68.73h.9v.9h-.9zM214.35 86.61h.9v.9h-.9zM227.66 83.65h.9v.9h-.9zM214.74 82.58h.9v.9h-.9zM227.99 81.9h.9v.9h-.9zM240.92 90.62h.9v.9h-.9zM237.63 80.82h.9v.9h-.9zM225.03 83.68h.9v.9h-.9zM261.64 56.1h.9v.9h-.9zM219.55 64.28h.9v.9h-.9zM239.13 87.47h.9v.9h-.9zM233.56 69.35h.9v.9h-.9zM249.44 49.49h.9v.9h-.9zM227.15 83.15h.9v.9h-.9zM243.44 84.28h.9v.9h-.9zM234.42 75.45h.9v.9h-.9zM241.44 76.33h.9v.9h-.9zM227.81 71.97h.9v.9h-.9zM235.31 88.62h.9v.9h-.9zM213.35 86.49h.9v.9h-.9zM218.25 86.2h.9v.9h-.9zM254.69 62.11h.9v.9h-.9zM248.57 47.69h.9v.9h-.9zM228.98 82.54h.9v.9h-.9zM237.49 52.15h.9v.9h-.9zM249.01 70.16h.9v.9h-.9zM225.22 79.29h.9v.9h-.9zM236.78 54.1h.9v.9h-.9zM241.06 73.55h.9v.9h-.9zM218.38 64.03h.9v.9h-.9zM234.74 53.52h.9v.9h-.9zM214.07 87.29h.9v.9h-.9zM232.49 79.31h.9v.9h-.9zM244.97 81.68h.9v.9h-.9zM213.2 68.36h.9v.9h-.9zM212.75 74.99h.9v.9h-.9zM240.8 76.59h.9v.9h-.9zM211.51 74.54h.9v.9h-.9zM222.66 88.29h.9v.9h-.9zM258.36 57.23h.9v.9h-.9zM237.53 89.24h.9v.9h-.9zM236.4 71.79h.9v.9h-.9zM236.35 75.85h.9v.9h-.9zM222.15 87.59h.9v.9h-.9zM243.97 100.18h.9v.9h-.9zM228.21 84.56h.9v.9h-.9zM211.98 75.12h.9v.9h-.9zM256.74 60.35h.9v.9h-.9zM256.56 61h.9v.9h-.9zM233.17 52.77h.9v.9h-.9zM237.67 86.75h.9v.9h-.9zM213.37 70.5h.9v.9h-.9zM239.62 50.65h.9v.9h-.9zM232 56.84h.9v.9h-.9zM213.16 67.84h.9v.9h-.9zM255.97 59.4h.9v.9h-.9zM226.15 86.3h.9v.9h-.9zM236.92 78.39h.9v.9h-.9zM234.51 75.54h.9v.9h-.9zM243.66 83.01h.9v.9h-.9zM230.92 78.43h.9v.9h-.9zM259.9 61.6h.9v.9h-.9zM230.64 84.69h.9v.9h-.9zM211.12 71.93h.9v.9h-.9zM215.88 82.64h.9v.9h-.9zM239.51 76.04h.9v.9h-.9zM217.43 88.76h.9v.9h-.9zM254.86 86.66h.9v.9h-.9zM234.89 90.71h.9v.9h-.9zM257.61 58.11h.9v.9h-.9zM246.95 90.12h.9v.9h-.9zM223.9 74.98h.9v.9h-.9zM215.32 82.69h.9v.9h-.9zM230.29 88.02h.9v.9h-.9zM253.86 65.04h.9v.9h-.9zM231.31 84.2h.9v.9h-.9zM230.77 81.22h.9v.9h-.9zM221.99 57.96h.9v.9h-.9zM225.78 85.96h.9v.9h-.9zM235.98 84.63h.9v.9h-.9zM247.88 64.01h.9v.9h-.9zM245.19 78.76h.9v.9h-.9zM221.99 62.16h.9v.9h-.9zM215.5 81.67h.9v.9h-.9zM215.51 71.03h.9v.9h-.9zM247.16 83.72h.9v.9h-.9zM254.63 96.66h.9v.9h-.9zM242.73 88.31h.9v.9h-.9zM240.09 78.33h.9v.9h-.9zM215.15 81h.9v.9h-.9zM232.14 70.7h.9v.9h-.9zM235.81 85.28h.9v.9h-.9zM243.45 85.45h.9v.9h-.9zM261.21 57.87h.9v.9h-.9zM244.58 50.34h.9v.9h-.9zM219.89 83.56h.9v.9h-.9zM215.81 70h.9v.9h-.9zM216.28 74.62h.9v.9h-.9zM256.25 61.15h.9v.9h-.9zM239.68 50.03h.9v.9h-.9zM228.06 47.43h.9v.9h-.9zM229.44 78.34h.9v.9h-.9zM213.54 81.7h.9v.9h-.9zM219.02 58.93h.9v.9h-.9zM223.7 79.41h.9v.9h-.9zM237.22 83.7h.9v.9h-.9zM227.48 78.79h.9v.9h-.9zM235.03 86.66h.9v.9h-.9zM244.38 49.44h.9v.9h-.9zM218.84 61.98h.9v.9h-.9zM234.13 91.44h.9v.9h-.9zM230.11 80.85h.9v.9h-.9zM235.23 74.3h.9v.9h-.9zM234.78 79.45h.9v.9h-.9zM236.8 52.9h.9v.9h-.9zM255.84 79.62h.9v.9h-.9zM236.02 74.1h.9v.9h-.9zM231.79 80.79h.9v.9h-.9zM217.13 67.93h.9v.9h-.9zM256.94 61.09h.9v.9h-.9zM239.87 83h.9v.9h-.9zM205.74 53.46h.9v.9h-.9zM238.44 82.71h.9v.9h-.9zM216.66 81.29h.9v.9h-.9zM235.78 81.8h.9v.9h-.9zM204.78 78.63h.9v.9h-.9zM212.5 83.26h.9v.9h-.9zM218.11 86h.9v.9h-.9zM244.67 86.86h.9v.9h-.9zM251.54 61.67h.9v.9h-.9zM250.57 48.19h.9v.9h-.9zM233.42 85.63h.9v.9h-.9zM255.79 58h.9v.9h-.9zM252.01 50.85h.9v.9h-.9zM238.17 50.34h.9v.9h-.9zM221.25 86.12h.9v.9h-.9zM250.94 70.19h.9v.9h-.9zM218.21 67.5h.9v.9h-.9zM224.85 94.4h.9v.9h-.9zM211.06 88.45h.9v.9h-.9zM211.13 88.81h.9v.9h-.9zM234.99 79.35h.9v.9h-.9zM235.07 59.69h.9v.9h-.9zM235.23 73.89h.9v.9h-.9zM249 69.73h.9v.9h-.9zM241.45 78.92h.9v.9h-.9zM255.76 56.64h.9v.9h-.9zM260.79 73.58h.9v.9h-.9zM241.28 47.61h.9v.9h-.9zM210.9 85.73h.9v.9h-.9zM216.21 69.42h.9v.9h-.9zM241.72 79.83h.9v.9h-.9zM219.4 86.27h.9v.9h-.9zM235.24 77.26h.9v.9h-.9zM223.17 82.05h.9v.9h-.9zM238.9 85.24h.9v.9h-.9zM216.54 83.59h.9v.9h-.9zM238.24 76.54h.9v.9h-.9zM212.89 73.24h.9v.9h-.9zM254.32 50.9h.9v.9h-.9zM231.06 87.49h.9v.9h-.9zM246.31 78.87h.9v.9h-.9zM228.47 88.38h.9v.9h-.9zM250.34 86.82h.9v.9h-.9zM222.54 63.99h.9v.9h-.9zM225.42 82.25h.9v.9h-.9zM224.66 85.81h.9v.9h-.9zM255.24 63.93h.9v.9h-.9zM258.99 58.36h.9v.9h-.9zM247.44 49.95h.9v.9h-.9zM199.44 85.96h.9v.9h-.9zM260 60.44h.9v.9h-.9zM259.18 57.26h.9v.9h-.9zM237.35 81.23h.9v.9h-.9zM234.32 87.63h.9v.9h-.9zM255.95 56.56h.9v.9h-.9zM236.95 58.25h.9v.9h-.9zM229.65 80.07h.9v.9h-.9zM243.31 91.45h.9v.9h-.9zM227.35 91.87h.9v.9h-.9zM243.46 76.82h.9v.9h-.9zM243.03 74.69h.9v.9h-.9zM241.71 87.95h.9v.9h-.9zM245.2 49.57h.9v.9h-.9zM214.93 72.75h.9v.9h-.9zM210.64 75.03h.9v.9h-.9zM229.96 89.16h.9v.9h-.9zM236.39 74.34h.9v.9h-.9zM249.25 78.51h.9v.9h-.9zM250.89 86.4h.9v.9h-.9zM236.88 82.12h.9v.9h-.9zM233.88 62.2h.9v.9h-.9zM247.85 83.74h.9v.9h-.9zM238.01 51.58h.9v.9h-.9zM250.12 48.36h.9v.9h-.9zM235.16 78.18h.9v.9h-.9zM225.32 83.49h.9v.9h-.9zM213.95 86.55h.9v.9h-.9zM222.16 82.94h.9v.9h-.9zM238.34 83.99h.9v.9h-.9zM228.34 84.08h.9v.9h-.9zM225.43 83.56h.9v.9h-.9zM254.04 63.85h.9v.9h-.9zM237.54 51.43h.9v.9h-.9zM221.16 64.13h.9v.9h-.9zM223.03 63.45h.9v.9h-.9zM250.71 50.2h.9v.9h-.9zM215.88 92.88h.9v.9h-.9zM229.13 58.59h.9v.9h-.9zM252.64 47.43h.9v.9h-.9zM246.59 88.43h.9v.9h-.9zM256.69 57.65h.9v.9h-.9zM222.67 86.16h.9v.9h-.9zM234.01 52.83h.9v.9h-.9zM245.42 78.42h.9v.9h-.9zM214.11 79.79h.9v.9h-.9zM209.89 81.39h.9v.9h-.9zM243.33 73.94h.9v.9h-.9zM222.77 83.52h.9v.9h-.9zM233.87 54.71h.9v.9h-.9zM210.43 71.04h.9v.9h-.9zM251.98 77.64h.9v.9h-.9zM239.3 91.21h.9v.9h-.9zM226.09 82.95h.9v.9h-.9zM213.82 79.34h.9v.9h-.9zM233.22 73.56h.9v.9h-.9zM238.48 50.62h.9v.9h-.9zM211.89 76.94h.9v.9h-.9zM212.1 85.55h.9v.9h-.9zM223.8 81.78h.9v.9h-.9zM216.16 69.58h.9v.9h-.9zM237.58 81.77h.9v.9h-.9zM229.39 80.45h.9v.9h-.9zM238.07 52.75h.9v.9h-.9zM214.54 85.7h.9v.9h-.9zM255.4 51.22h.9v.9h-.9zM223.4 60.72h.9v.9h-.9zM257.39 56.1h.9v.9h-.9zM214.1 87.63h.9v.9h-.9zM237.32 52.41h.9v.9h-.9zM250.28 47.66h.9v.9h-.9zM249.99 68.54h.9v.9h-.9zM233.79 83.46h.9v.9h-.9zM236.7 53.93h.9v.9h-.9zM248.59 77.92h.9v.9h-.9zM246 73.54h.9v.9h-.9zM246.74 69.61h.9v.9h-.9zM231.51 80.06h.9v.9h-.9zM245.04 72.15h.9v.9h-.9zM251.81 48.75h.9v.9h-.9zM227.24 71.47h.9v.9h-.9zM246.74 81.4h.9v.9h-.9zM257.44 55.4h.9v.9h-.9zM234.6 88.37h.9v.9h-.9zM232.81 85.14h.9v.9h-.9zM207.71 95.48h.9v.9h-.9zM211.51 75.39h.9v.9h-.9zM227.45 86.89h.9v.9h-.9zM242.31 91.98h.9v.9h-.9zM221.76 47.85h.9v.9h-.9zM226.94 74.65h.9v.9h-.9zM237.69 78.84h.9v.9h-.9zM241.08 49.22h.9v.9h-.9zM241.73 49.78h.9v.9h-.9zM218.42 86.19h.9v.9h-.9zM252.86 65.56h.9v.9h-.9zM228.23 69.54h.9v.9h-.9zM246.71 49.49h.9v.9h-.9zM235.48 80.55h.9v.9h-.9zM236.1 84.84h.9v.9h-.9zM208.82 83.41h.9v.9h-.9zM252.62 51h.9v.9h-.9zM238.57 87.82h.9v.9h-.9zM226.54 76.87h.9v.9h-.9zM220.62 90.21h.9v.9h-.9zM229.4 87.57h.9v.9h-.9zM230.13 92.39h.9v.9h-.9zM243.6 95.62h.9v.9h-.9zM229.64 89.6h.9v.9h-.9zM244.95 83.33h.9v.9h-.9zM236.7 77.76h.9v.9h-.9zM227.68 77.12h.9v.9h-.9zM233.22 82.32h.9v.9h-.9zM260.47 54.24h.9v.9h-.9zM235.94 93.69h.9v.9h-.9zM230.93 77.42h.9v.9h-.9zM213.67 72.48h.9v.9h-.9zM231.72 86.73h.9v.9h-.9zM216.3 80.86h.9v.9h-.9zM232.21 82.63h.9v.9h-.9zM237.88 95.17h.9v.9h-.9zM236.69 77.77h.9v.9h-.9zM246.54 74.54h.9v.9h-.9zM235.71 75.4h.9v.9h-.9zM225.7 85.64h.9v.9h-.9zM250.73 50.09h.9v.9h-.9zM256.27 47.63h.9v.9h-.9zM245.31 71.28h.9v.9h-.9zM257.57 53.33h.9v.9h-.9zM231.48 91.13h.9v.9h-.9zM242.31 80.97h.9v.9h-.9zM246.19 49.11h.9v.9h-.9zM255.16 64.59h.9v.9h-.9zM241.57 86.26h.9v.9h-.9zM252.3 67.61h.9v.9h-.9zM233.93 82.17h.9v.9h-.9zM237.11 88.15h.9v.9h-.9zM241.97 72.44h.9v.9h-.9zM258.68 80.09h.9v.9h-.9zM215.61 85.93h.9v.9h-.9zM229.75 84.24h.9v.9h-.9zM243.11 86.21h.9v.9h-.9zM213.67 85.8h.9v.9h-.9zM214.26 74.05h.9v.9h-.9zM211.53 75.03h.9v.9h-.9zM214.8 80.77h.9v.9h-.9zM244.15 96.53h.9v.9h-.9zM210.2 71.8h.9v.9h-.9z" fill="#111" opacity=".9"/><path d="M235.85 91.88h.9v.9h-.9zM213.76 79.41h.9v.9h-.9zM233.69 87.86h.9v.9h-.9zM211.62 85.06h.9v.9h-.9zM230.48 81.24h.9v.9h-.9zM235.62 81.11h.9v.9h-.9zM252.43 50.37h.9v.9h-.9zM219.14 84.74h.9v.9h-.9zM210 75.52h.9v.9h-.9zM220.57 80.03h.9v.9h-.9zM244.47 47.69h.9v.9h-.9zM251.98 50.67h.9v.9h-.9zM257.85 61.72h.9v.9h-.9zM233.85 80.01h.9v.9h-.9zM229.51 82.91h.9v.9h-.9zM236.17 88.3h.9v.9h-.9zM240.19 74.18h.9v.9h-.9zM246.45 58.01h.9v.9h-.9zM213.4 73.33h.9v.9h-.9zM246.73 64.2h.9v.9h-.9zM227.73 81.84h.9v.9h-.9zM241.69 88.51h.9v.9h-.9zM218.85 86.19h.9v.9h-.9zM214.55 69.04h.9v.9h-.9zM220.13 65.9h.9v.9h-.9zM248.3 69.31h.9v.9h-.9zM241.26 51.21h.9v.9h-.9zM230.37 75.99h.9v.9h-.9zM235.46 54.78h.9v.9h-.9zM253.73 47.94h.9v.9h-.9zM244.72 72.16h.9v.9h-.9zM249.79 48.64h.9v.9h-.9zM217.42 68.02h.9v.9h-.9zM226.41 81.95h.9v.9h-.9zM235.66 49.4h.9v.9h-.9zM243.83 90.89h.9v.9h-.9zM212.96 75.41h.9v.9h-.9zM262.55 73.37h.9v.9h-.9zM240.58 63.59h.9v.9h-.9zM208.93 74.31h.9v.9h-.9zM225.62 84.55h.9v.9h-.9zM236.38 76.97h.9v.9h-.9zM222.18 53.92h.9v.9h-.9zM233.37 82.05h.9v.9h-.9zM225.42 58h.9v.9h-.9zM209.67 81.6h.9v.9h-.9zM225.05 59.85h.9v.9h-.9zM229.12 78.28h.9v.9h-.9zM234.87 80.28h.9v.9h-.9zM221.12 83.74h.9v.9h-.9zM251.31 50.52h.9v.9h-.9zM236.73 94.49h.9v.9h-.9zM249.63 67.91h.9v.9h-.9zM211.62 75.06h.9v.9h-.9zM232.14 88.41h.9v.9h-.9zM237.38 51.18h.9v.9h-.9zM210.41 80.96h.9v.9h-.9zM232.45 79.65h.9v.9h-.9zM248.22 70.15h.9v.9h-.9zM255.71 53.01h.9v.9h-.9zM236.06 83.74h.9v.9h-.9zM214.52 76.85h.9v.9h-.9zM256.72 60.1h.9v.9h-.9zM239.17 89.24h.9v.9h-.9zM243.63 72.99h.9v.9h-.9zM238.53 76.37h.9v.9h-.9zM233.78 76.59h.9v.9h-.9zM218.3 83.45h.9v.9h-.9zM243.08 51.22h.9v.9h-.9zM218.85 84.01h.9v.9h-.9zM253.5 64.19h.9v.9h-.9zM234.71 82.65h.9v.9h-.9zM233.24 96.42h.9v.9h-.9zM235.87 86.66h.9v.9h-.9zM251.94 50.2h.9v.9h-.9zM213.52 90.3h.9v.9h-.9zM217.77 83.66h.9v.9h-.9zM256.55 89.85h.9v.9h-.9zM211.66 68.54h.9v.9h-.9zM213.01 90.85h.9v.9h-.9zM237.53 88.48h.9v.9h-.9zM256.75 49.23h.9v.9h-.9zM226.47 84.99h.9v.9h-.9zM229.43 83.56h.9v.9h-.9zM250.69 49.23h.9v.9h-.9zM251.65 67.96h.9v.9h-.9zM218.95 91.84h.9v.9h-.9zM244.59 86.97h.9v.9h-.9zM221.85 61.58h.9v.9h-.9zM244.91 50.44h.9v.9h-.9zM247.78 91.1h.9v.9h-.9zM244.22 82.75h.9v.9h-.9zM257.66 53.53h.9v.9h-.9zM241.24 84.65h.9v.9h-.9zM239.77 75.27h.9v.9h-.9zM238.4 77.22h.9v.9h-.9zM222.79 73.9h.9v.9h-.9zM214.03 80.42h.9v.9h-.9zM220.87 86.62h.9v.9h-.9zM260.87 60.47h.9v.9h-.9zM244.02 47.89h.9v.9h-.9zM223.72 58.39h.9v.9h-.9zM236.69 86.18h.9v.9h-.9zM259.18 74.73h.9v.9h-.9zM238.73 85.25h.9v.9h-.9zM226.2 83.25h.9v.9h-.9zM225.31 61.25h.9v.9h-.9zM249.68 47.83h.9v.9h-.9zM226.29 77.65h.9v.9h-.9zM219.53 65.35h.9v.9h-.9zM221.9 62h.9v.9h-.9zM238.3 82.54h.9v.9h-.9zM249.7 49.6h.9v.9h-.9zM255.45 65.96h.9v.9h-.9zM239.58 90.24h.9v.9h-.9zM231.21 83.7h.9v.9h-.9zM254.72 51.7h.9v.9h-.9zM238.1 79.89h.9v.9h-.9zM250.32 49.91h.9v.9h-.9zM231.31 89.02h.9v.9h-.9zM249.21 47.64h.9v.9h-.9zM242.39 72.2h.9v.9h-.9zM255.15 63.58h.9v.9h-.9zM248.57 64.3h.9v.9h-.9zM231.05 81.66h.9v.9h-.9zM224.57 55.32h.9v.9h-.9zM255.43 49.18h.9v.9h-.9zM212.48 78.01h.9v.9h-.9zM223.72 84.44h.9v.9h-.9zM215.41 85.89h.9v.9h-.9zM233.24 86.98h.9v.9h-.9zM214.89 77.45h.9v.9h-.9zM232 92.78h.9v.9h-.9zM219.42 64.07h.9v.9h-.9zM237.31 78.36h.9v.9h-.9zM227.5 82.14h.9v.9h-.9zM229.94 63.85h.9v.9h-.9zM247.8 86.31h.9v.9h-.9zM258.13 58.18h.9v.9h-.9zM235.44 51.56h.9v.9h-.9zM259.79 48.89h.9v.9h-.9zM216.13 68.22h.9v.9h-.9zM253.09 67.02h.9v.9h-.9zM245.51 48.23h.9v.9h-.9zM221.09 82.99h.9v.9h-.9zM247.07 47.64h.9v.9h-.9zM238.42 91.62h.9v.9h-.9zM209.63 75.92h.9v.9h-.9zM245.31 86.77h.9v.9h-.9zM214.62 80.66h.9v.9h-.9zM246.91 70.29h.9v.9h-.9zM256.78 53.55h.9v.9h-.9zM220.73 83.51h.9v.9h-.9zM211.59 73.33h.9v.9h-.9zM238.06 79.63h.9v.9h-.9zM221.09 84.27h.9v.9h-.9zM258.72 52.05h.9v.9h-.9zM243.53 92.09h.9v.9h-.9zM230.79 88.36h.9v.9h-.9zM227.82 57.7h.9v.9h-.9zM226.7 75.31h.9v.9h-.9zM215.03 79.2h.9v.9h-.9zM247.14 70.09h.9v.9h-.9zM230.73 84.51h.9v.9h-.9zM217.8 64.14h.9v.9h-.9zM229.96 85.14h.9v.9h-.9zM221.12 64.49h.9v.9h-.9zM214.42 64.97h.9v.9h-.9zM241.07 94.43h.9v.9h-.9zM244.09 48.28h.9v.9h-.9zM212.29 75.03h.9v.9h-.9zM213.72 71.54h.9v.9h-.9zM262.54 56.64h.9v.9h-.9zM256.54 48.92h.9v.9h-.9zM217.81 63.18h.9v.9h-.9zM240.58 85.23h.9v.9h-.9zM248.09 70.14h.9v.9h-.9zM213.11 78.63h.9v.9h-.9zM234.11 76.86h.9v.9h-.9zM256.01 52.46h.9v.9h-.9zM234.26 51.43h.9v.9h-.9zM254.28 63.51h.9v.9h-.9zM244.84 71.42h.9v.9h-.9zM214.39 71.93h.9v.9h-.9zM252.32 65.64h.9v.9h-.9zM221.21 62.16h.9v.9h-.9zM237.68 88.63h.9v.9h-.9zM218.01 84.09h.9v.9h-.9zM208.54 99.33h.9v.9h-.9zM232.38 81.53h.9v.9h-.9zM259.12 62.54h.9v.9h-.9zM262.22 58.94h.9v.9h-.9zM216.67 69.73h.9v.9h-.9zM218.94 86.89h.9v.9h-.9zM212.4 75.04h.9v.9h-.9zM247.92 70.04h.9v.9h-.9zM254.78 69.93h.9v.9h-.9zM244.55 87.04h.9v.9h-.9zM231.86 74.79h.9v.9h-.9zM248.29 84.35h.9v.9h-.9zM239.46 52.54h.9v.9h-.9zM239.06 86.67h.9v.9h-.9zM210.3 85.91h.9v.9h-.9zM233.09 82.63h.9v.9h-.9zM242.91 77.47h.9v.9h-.9zM232.45 80.18h.9v.9h-.9zM237.95 86.04h.9v.9h-.9zM221 84.78h.9v.9h-.9zM209.73 78.38h.9v.9h-.9zM259.65 52.14h.9v.9h-.9zM245.32 73.39h.9v.9h-.9zM229.63 56.62h.9v.9h-.9zM231.95 56.23h.9v.9h-.9zM232.59 82.04h.9v.9h-.9zM217.3 86.19h.9v.9h-.9zM234.8 77h.9v.9h-.9zM246.44 50.3h.9v.9h-.9zM235.35 75.31h.9v.9h-.9zM215.24 72.97h.9v.9h-.9zM236.72 81.94h.9v.9h-.9zM251.21 66.56h.9v.9h-.9zM236.47 79.19h.9v.9h-.9zM243.82 74.28h.9v.9h-.9zM250.83 65.85h.9v.9h-.9zM242.11 83.61h.9v.9h-.9zM255.45 60.14h.9v.9h-.9zM256.32 83.52h.9v.9h-.9zM227.16 99.43h.9v.9h-.9zM234.78 63.62h.9v.9h-.9zM231.62 88.54h.9v.9h-.9zM226.4 57.08h.9v.9h-.9zM240.67 90.85h.9v.9h-.9zM256.37 49.68h.9v.9h-.9zM253.34 50.28h.9v.9h-.9zM219.93 65.69h.9v.9h-.9zM237.39 86.32h.9v.9h-.9zM254.55 53.01h.9v.9h-.9zM249.31 67.95h.9v.9h-.9zM255.85 56.91h.9v.9h-.9zM228.3 90.13h.9v.9h-.9zM235.59 88h.9v.9h-.9zM242.58 50.97h.9v.9h-.9zM233.34 79.45h.9v.9h-.9zM211.43 74.02h.9v.9h-.9zM230.55 85h.9v.9h-.9zM237.93 51.34h.9v.9h-.9zM257.87 60.87h.9v.9h-.9zM214.37 84.68h.9v.9h-.9zM246.4 83.63h.9v.9h-.9zM242.69 50.63h.9v.9h-.9zM260.08 53.61h.9v.9h-.9zM235 81.78h.9v.9h-.9zM225.1 80.53h.9v.9h-.9zM246.27 48.59h.9v.9h-.9zM230.19 82.44h.9v.9h-.9zM255.98 49.44h.9v.9h-.9zM221.92 83.5h.9v.9h-.9zM246.45 50.18h.9v.9h-.9zM243.54 96.62h.9v.9h-.9zM213.27 85.41h.9v.9h-.9zM227.52 92.99h.9v.9h-.9zM224.65 83.32h.9v.9h-.9zM233.88 81.3h.9v.9h-.9zM233.07 80.33h.9v.9h-.9zM258.67 53.44h.9v.9h-.9zM230.67 80.55h.9v.9h-.9zM212.94 66.97h.9v.9h-.9zM224.65 88.96h.9v.9h-.9zM224.21 86.34h.9v.9h-.9zM245.7 77.79h.9v.9h-.9zM238.94 52.45h.9v.9h-.9zM236.25 85.79h.9v.9h-.9zM242.67 80.56h.9v.9h-.9zM246.86 72.37h.9v.9h-.9zM234 79.03h.9v.9h-.9zM211.58 74.67h.9v.9h-.9zM241.87 82.64h.9v.9h-.9zM242.92 77.24h.9v.9h-.9zM220.78 85.49h.9v.9h-.9zM233.55 81.27h.9v.9h-.9zM214 69.03h.9v.9h-.9zM217.2 82.53h.9v.9h-.9zM245.07 72.24h.9v.9h-.9zM236.76 78.35h.9v.9h-.9zM244 72.03h.9v.9h-.9zM225.27 60.06h.9v.9h-.9zM241.17 81h.9v.9h-.9zM258.61 47.72h.9v.9h-.9zM213.05 80.26h.9v.9h-.9zM211.97 71.35h.9v.9h-.9zM240.68 86.38h.9v.9h-.9zM233.11 69.4h.9v.9h-.9zM230.66 87.17h.9v.9h-.9zM216.91 85.12h.9v.9h-.9zM243.32 48.65h.9v.9h-.9zM236.53 78.26h.9v.9h-.9zM238.26 83.33h.9v.9h-.9zM233.98 80.17h.9v.9h-.9zM236.97 92.22h.9v.9h-.9zM224.43 78.57h.9v.9h-.9zM230.21 91.33h.9v.9h-.9zM216.26 84.3h.9v.9h-.9zM213.8 80.28h.9v.9h-.9zM253.51 49.7h.9v.9h-.9zM250.49 66.65h.9v.9h-.9zM252.31 83.99h.9v.9h-.9zM237.63 93.26h.9v.9h-.9zM233.89 81.3h.9v.9h-.9zM245.91 57.07h.9v.9h-.9zM233.4 88.91h.9v.9h-.9zM255.31 58.97h.9v.9h-.9zM238.03 86.14h.9v.9h-.9zM243.46 83.12h.9v.9h-.9zM244.24 85.3h.9v.9h-.9zM242.82 89.73h.9v.9h-.9zM237.08 51.91h.9v.9h-.9zM228.87 89.14h.9v.9h-.9zM227.42 57.14h.9v.9h-.9zM223.3 75.2h.9v.9h-.9zM255.51 75.8h.9v.9h-.9zM210.82 76.94h.9v.9h-.9zM251.59 66.92h.9v.9h-.9zM247.39 87.28h.9v.9h-.9zM209.25 70h.9v.9h-.9zM212.46 76.73h.9v.9h-.9zM231.33 70.65h.9v.9h-.9zM257.65 54.83h.9v.9h-.9zM231.03 55.44h.9v.9h-.9zM234.54 92.51h.9v.9h-.9zM256.3 60.27h.9v.9h-.9zM236.9 78.28h.9v.9h-.9zM236.98 85.55h.9v.9h-.9zM212.51 81.69h.9v.9h-.9zM227.08 59.4h.9v.9h-.9zM228.4 63.04h.9v.9h-.9z" fill="#444" opacity=".8"/><g transform="translate(235 66.5) rotate(-35)"><path d="M23.5 0L23.26 2.02L22.54 3.57L21.35 4.92L19.7 6.1L17.61 7.12L15.09 7.96L12.17 8.63L8.83 9.11L5.01 9.4L0 9.5L-5.01 9.4L-8.83 9.11L-12.17 8.63L-15.09 7.96L-17.61 7.12L-19.7 6.1L-21.35 4.92L-22.54 3.57L-23.26 2.02L-23.5 0L-23.26 -2.02L-22.54 -3.57L-21.35 -4.92L-19.7 -6.1L-17.61 -7.12L-15.09 -7.96L-12.17 -8.63L-8.83 -9.11L-5.01 -9.4L-0 -9.5L5.01 -9.4L8.83 -9.11L12.17 -8.63L15.09 -7.96L17.61 -7.12L19.7 -6.1L21.35 -4.92L22.54 -3.57L23.26 -2.02Z" fill="#f6f6f6" stroke="#111" stroke-width="1.2"/><path d="M19.99 0L19.81 1.42L19.28 2.5L18.41 3.45L17.2 4.28L15.67 4.99L13.83 5.58L11.69 6.05L9.24 6.39L6.44 6.59L2.77 6.66L-0.9 6.59L-3.7 6.39L-6.15 6.05L-8.29 5.58L-10.13 4.99L-11.66 4.28L-12.87 3.45L-13.74 2.5L-14.27 1.42L-14.45 0L-14.27 -1.42L-13.74 -2.5L-12.87 -3.45L-11.66 -4.28L-10.13 -4.99L-8.29 -5.58L-6.15 -6.05L-3.7 -6.39L-0.9 -6.59L2.77 -6.66L6.44 -6.59L9.24 -6.39L11.69 -6.05L13.83 -5.58L15.67 -4.99L17.2 -4.28L18.41 -3.45L19.28 -2.5L19.81 -1.42Z" fill="#c4c4c4"/><path d="M17.17 0L17.05 0.93L16.67 1.65L16.06 2.27L15.2 2.82L14.12 3.28L12.82 3.67L11.3 3.98L9.57 4.21L7.59 4.34L4.99 4.38L2.4 4.34L0.42 4.21L-1.31 3.98L-2.83 3.67L-4.13 3.28L-5.21 2.82L-6.07 2.27L-6.69 1.65L-7.06 0.93L-7.18 0L-7.06 -0.93L-6.69 -1.65L-6.07 -2.27L-5.21 -2.82L-4.13 -3.28L-2.83 -3.67L-1.31 -3.98L0.42 -4.21L2.4 -4.34L4.99 -4.38L7.59 -4.34L9.57 -4.21L11.3 -3.98L12.82 -3.67L14.12 -3.28L15.2 -2.82L16.06 -2.27L16.67 -1.65L17.05 -0.93Z" fill="#8a8a8a"/><path d="M21.55 0L21.35 1.69L20.73 2.98L19.72 4.1L18.31 5.09L16.53 5.94L14.39 6.64L11.9 7.2L9.06 7.6L5.8 7.84L1.54 7.93L-2.73 7.84L-5.98 7.6L-8.83 7.2L-11.32 6.64L-13.46 5.94L-15.24 5.09L-16.64 4.1L-17.66 2.98L-18.27 1.69L-18.48 0L-18.27 -1.69L-17.66 -2.98L-16.64 -4.1L-15.24 -5.09L-13.46 -5.94L-11.32 -6.64L-8.83 -7.2L-5.98 -7.6L-2.73 -7.84L1.54 -7.93L5.8 -7.84L9.06 -7.6L11.9 -7.2L14.39 -6.64L16.53 -5.94L18.31 -5.09L19.72 -4.1L20.73 -2.98L21.35 -1.69ZM19.99 0L19.81 1.42L19.28 2.5L18.41 3.45L17.2 4.28L15.67 4.99L13.83 5.58L11.69 6.05L9.24 6.39L6.44 6.59L2.77 6.66L-0.9 6.59L-3.7 6.39L-6.15 6.05L-8.29 5.58L-10.13 4.99L-11.66 4.28L-12.87 3.45L-13.74 2.5L-14.27 1.42L-14.45 0L-14.27 -1.42L-13.74 -2.5L-12.87 -3.45L-11.66 -4.28L-10.13 -4.99L-8.29 -5.58L-6.15 -6.05L-3.7 -6.39L-0.9 -6.59L2.77 -6.66L6.44 -6.59L9.24 -6.39L11.69 -6.05L13.83 -5.58L15.67 -4.99L17.2 -4.28L18.41 -3.45L19.28 -2.5L19.81 -1.42ZM18.55 0L18.4 1.17L17.95 2.06L17.2 2.85L16.18 3.53L14.87 4.12L13.31 4.6L11.49 4.99L9.41 5.27L7.03 5.44L3.91 5.49L0.79 5.44L-1.59 5.27L-3.67 4.99L-5.49 4.6L-7.05 4.12L-8.35 3.53L-9.38 2.85L-10.12 2.06L-10.57 1.17L-10.72 0L-10.57 -1.17L-10.12 -2.06L-9.38 -2.85L-8.35 -3.53L-7.05 -4.12L-5.49 -4.6L-3.67 -4.99L-1.59 -5.27L0.79 -5.44L3.91 -5.49L7.03 -5.44L9.41 -5.27L11.49 -4.99L13.31 -4.6L14.87 -4.12L16.18 -3.53L17.2 -2.85L17.95 -2.06L18.4 -1.17ZM17.17 0L17.05 0.93L16.67 1.65L16.06 2.27L15.2 2.82L14.12 3.28L12.82 3.67L11.3 3.98L9.57 4.21L7.59 4.34L4.99 4.38L2.4 4.34L0.42 4.21L-1.31 3.98L-2.83 3.67L-4.13 3.28L-5.21 2.82L-6.07 2.27L-6.69 1.65L-7.06 0.93L-7.18 0L-7.06 -0.93L-6.69 -1.65L-6.07 -2.27L-5.21 -2.82L-4.13 -3.28L-2.83 -3.67L-1.31 -3.98L0.42 -4.21L2.4 -4.34L4.99 -4.38L7.59 -4.34L9.57 -4.21L11.3 -3.98L12.82 -3.67L14.12 -3.28L15.2 -2.82L16.06 -2.27L16.67 -1.65L17.05 -0.93ZM15.85 0L15.75 0.71L15.45 1.25L14.95 1.72L14.26 2.13L13.39 2.48L12.34 2.78L11.12 3.01L9.73 3.18L8.13 3.28L6.04 3.32L3.95 3.28L2.35 3.18L0.96 3.01L-0.26 2.78L-1.31 2.48L-2.19 2.13L-2.88 1.72L-3.37 1.25L-3.68 0.71L-3.78 0L-3.68 -0.71L-3.37 -1.25L-2.88 -1.72L-2.19 -2.13L-1.31 -2.48L-0.26 -2.78L0.96 -3.01L2.35 -3.18L3.95 -3.28L6.04 -3.32L8.13 -3.28L9.73 -3.18L11.12 -3.01L12.34 -2.78L13.39 -2.48L14.26 -2.13L14.95 -1.72L15.45 -1.25L15.75 -0.71Z" fill="none" stroke="#262626" stroke-width=".8"/><path d="M14.1 0L14.03 0.49L13.81 0.86L13.45 1.18L12.96 1.46L12.33 1.71L11.58 1.91L10.7 2.07L9.7 2.19L8.55 2.26L7.05 2.28L5.55 2.26L4.4 2.19L3.4 2.07L2.52 1.91L1.77 1.71L1.14 1.46L0.65 1.18L0.29 0.86L0.07 0.49L0 0L0.07 -0.49L0.29 -0.86L0.65 -1.18L1.14 -1.46L1.77 -1.71L2.52 -1.91L3.4 -2.07L4.4 -2.19L5.55 -2.26L7.05 -2.28L8.55 -2.26L9.7 -2.19L10.7 -2.07L11.58 -1.91L12.33 -1.71L12.96 -1.46L13.45 -1.18L13.81 -0.86L14.03 -0.49Z" fill="#2e2e2e"/><ellipse cx="7.05" cy="0" rx="4.7" ry="0.6" fill="#eee"/></g>
</svg>
<path d="M229.8 46V117M193.8 75.3H264.3" stroke="#3030a8" stroke-width="1.3" fill="none"/>
<rect x="193.8" y="46" width="70.5" height="71" fill="none" stroke="#111" stroke-width="1.5"/>
<path d="M193.2 115.5h-2.2M195.3 117.6v2.2M193.2 114h-1.6M196.8 117.6v1.6M193.2 112.5h-1.6M198.3 117.6v1.6M193.2 111h-2.2M199.8 117.6v2.2M193.2 109.5h-1.6M201.3 117.6v1.6M193.2 108h-1.6M202.8 117.6v1.6M193.2 106.5h-1.6M204.3 117.6v1.6M193.2 105h-2.2M205.8 117.6v2.2M193.2 103.5h-1.6M207.3 117.6v1.6M193.2 100.19h-1.6M210.61 117.6v1.6M193.2 97.5h-1.6M213.3 117.6v1.6M193.2 95.4h-1.6M215.4 117.6v1.6M193.2 93.69h-1.6M217.11 117.6v1.6M193.2 92.25h-1.6M218.55 117.6v1.6M193.2 90.99h-1.6M219.81 117.6v1.6M193.2 89.89h-1.6M220.91 117.6v1.6M193.2 88.9h-2.8M221.9 117.6v2.8M193.2 82.4h-1.6M228.4 117.6v1.6M193.2 78.59h-1.6M232.21 117.6v1.6M193.2 75.9h-1.6M234.9 117.6v1.6M193.2 73.8h-1.6M237 117.6v1.6M193.2 72.09h-1.6M238.71 117.6v1.6M193.2 70.65h-1.6M240.15 117.6v1.6M193.2 69.39h-1.6M241.41 117.6v1.6M193.2 68.29h-1.6M242.51 117.6v1.6M193.2 67.3h-2.8M243.5 117.6v2.8M193.2 60.8h-1.6M250 117.6v1.6M193.2 56.99h-1.6M253.81 117.6v1.6M193.2 54.3h-1.6M256.5 117.6v1.6M193.2 52.2h-1.6M258.6 117.6v1.6M193.2 50.49h-1.6M260.31 117.6v1.6M193.2 49.05h-1.6M261.75 117.6v1.6" stroke="#111" stroke-width="0.9" fill="none"/>
<path d="M193.5 46V117.3H264.3" stroke="#111" stroke-width="1" fill="none"/>
<svg x="273.3" y="46" width="70.5" height="71" viewBox="273.3 46 70.5 71" overflow="hidden">
<path d="M305.98 87.44h.9v.9h-.9zM325.64 90.64h.9v.9h-.9zM302.46 91.44h.9v.9h-.9zM318.02 78.18h.9v.9h-.9zM297.67 69.8h.9v.9h-.9zM340.1 61.16h.9v.9h-.9zM294.8 83.5h.9v.9h-.9zM305.39 92.03h.9v.9h-.9zM305.4 74.42h.9v.9h-.9zM326.99 77.05h.9v.9h-.9zM323.79 76.41h.9v.9h-.9zM299.93 67.08h.9v.9h-.9zM302.45 83.29h.9v.9h-.9zM309.42 103.61h.9v.9h-.9zM306.23 82.25h.9v.9h-.9zM318.4 49.67h.9v.9h-.9zM304.84 62.61h.9v.9h-.9zM315.76 70.77h.9v.9h-.9zM297.12 67.74h.9v.9h-.9zM339.62 57.15h.9v.9h-.9zM294.67 89.26h.9v.9h-.9zM339.45 49.44h.9v.9h-.9zM311.76 86.8h.9v.9h-.9zM306.89 87.31h.9v.9h-.9zM321.35 89.9h.9v.9h-.9zM331.71 73.73h.9v.9h-.9zM311.99 74.04h.9v.9h-.9zM339.15 62.7h.9v.9h-.9zM307.62 60.02h.9v.9h-.9zM292.35 76.4h.9v.9h-.9zM293.09 67.97h.9v.9h-.9zM332.78 68.24h.9v.9h-.9zM295.17 81.37h.9v.9h-.9zM313.25 83.25h.9v.9h-.9zM294.09 75.04h.9v.9h-.9zM334.07 70.09h.9v.9h-.9zM322.61 93.63h.9v.9h-.9zM291.84 75.47h.9v.9h-.9zM331.06 93.15h.9v.9h-.9zM286.35 96.02h.9v.9h-.9zM336.84 53.64h.9v.9h-.9zM287.39 73.44h.9v.9h-.9zM297.36 87.71h.9v.9h-.9zM319 95.45h.9v.9h-.9zM307.21 78.39h.9v.9h-.9zM337.93 54.48h.9v.9h-.9zM313.42 82.93h.9v.9h-.9zM294.76 79.73h.9v.9h-.9zM315.35 54.12h.9v.9h-.9zM308.24 87.55h.9v.9h-.9zM297.85 68.24h.9v.9h-.9zM311.92 79.93h.9v.9h-.9zM310.2 87.33h.9v.9h-.9zM304.41 59.72h.9v.9h-.9zM310.91 84h.9v.9h-.9zM300.22 86.04h.9v.9h-.9zM294.48 79.86h.9v.9h-.9zM340.04 56.93h.9v.9h-.9zM315.46 87.21h.9v.9h-.9zM339.04 51.75h.9v.9h-.9zM330.54 70.75h.9v.9h-.9zM315.98 69.3h.9v.9h-.9zM307.59 86.44h.9v.9h-.9zM291.64 86.08h.9v.9h-.9zM340.24 57.15h.9v.9h-.9zM320.02 79.6h.9v.9h-.9zM302.72 77.06h.9v.9h-.9zM313.04 83.21h.9v.9h-.9zM317.76 52.21h.9v.9h-.9zM300.04 64.08h.9v.9h-.9zM289.98 69.97h.9v.9h-.9zM327.09 47.95h.9v.9h-.9zM293.37 82.31h.9v.9h-.9zM329.57 73.51h.9v.9h-.9zM333.08 53.82h.9v.9h-.9zM334.55 67.16h.9v.9h-.9zM334.26 51.7h.9v.9h-.9zM322.23 92.24h.9v.9h-.9zM297.93 86.39h.9v.9h-.9zM307.65 80.02h.9v.9h-.9zM298.91 92.45h.9v.9h-.9zM331.53 63.14h.9v.9h-.9zM328.55 106.31h.9v.9h-.9zM326.5 80.78h.9v.9h-.9zM328.26 49.92h.9v.9h-.9zM308.81 73.62h.9v.9h-.9zM314.62 86.93h.9v.9h-.9zM299.34 67.16h.9v.9h-.9zM321.64 79.5h.9v.9h-.9zM313.8 84.1h.9v.9h-.9zM297.27 89.52h.9v.9h-.9zM291.23 79.38h.9v.9h-.9zM319.3 90.34h.9v.9h-.9zM322.12 87.94h.9v.9h-.9zM303.23 85.58h.9v.9h-.9zM307.84 90.25h.9v.9h-.9zM321.09 79.13h.9v.9h-.9zM295.67 85.37h.9v.9h-.9zM309.54 90.98h.9v.9h-.9zM304.39 90.85h.9v.9h-.9zM328.74 58.84h.9v.9h-.9zM321.23 85.44h.9v.9h-.9zM299.31 86.37h.9v.9h-.9zM311.49 88.74h.9v.9h-.9zM291.56 87.6h.9v.9h-.9zM315.6 87.65h.9v.9h-.9zM307.25 84.86h.9v.9h-.9zM309 55.07h.9v.9h-.9zM323.61 80.37h.9v.9h-.9zM295.72 57.81h.9v.9h-.9zM327.36 70.84h.9v.9h-.9zM337.44 50.2h.9v.9h-.9zM329.57 91h.9v.9h-.9zM282.13 84.62h.9v.9h-.9zM332.92 92.59h.9v.9h-.9zM283.66 84.88h.9v.9h-.9zM312.63 89.57h.9v.9h-.9zM294.13 70.9h.9v.9h-.9zM315.71 86.79h.9v.9h-.9zM293.74 65.54h.9v.9h-.9zM331.41 80.5h.9v.9h-.9zM311.01 86.59h.9v.9h-.9zM320.84 82.63h.9v.9h-.9zM299.94 90.43h.9v.9h-.9zM318.72 79.6h.9v.9h-.9zM327.3 67.27h.9v.9h-.9zM308.02 54.29h.9v.9h-.9zM324.81 76.75h.9v.9h-.9zM335.76 65.23h.9v.9h-.9zM285.91 80.32h.9v.9h-.9zM335.64 68.7h.9v.9h-.9zM303.12 89.04h.9v.9h-.9zM320.82 88.47h.9v.9h-.9zM289.94 80h.9v.9h-.9zM292.97 47.71h.9v.9h-.9zM314.04 86.51h.9v.9h-.9zM315.56 94.93h.9v.9h-.9zM299.94 65.56h.9v.9h-.9zM314.13 83.14h.9v.9h-.9zM290.12 77.82h.9v.9h-.9zM320.23 81.12h.9v.9h-.9zM299.92 63.33h.9v.9h-.9zM291.49 77.99h.9v.9h-.9zM329.25 50.09h.9v.9h-.9zM298.91 64.93h.9v.9h-.9zM331.53 88.97h.9v.9h-.9zM307.1 80.9h.9v.9h-.9zM332.32 71.71h.9v.9h-.9zM290.65 78.3h.9v.9h-.9zM319.85 87.33h.9v.9h-.9zM298.12 85.98h.9v.9h-.9zM328.77 49.16h.9v.9h-.9zM320.81 52.12h.9v.9h-.9zM296.76 71.11h.9v.9h-.9zM317.76 88.57h.9v.9h-.9zM300.47 80.25h.9v.9h-.9zM315.55 54.63h.9v.9h-.9zM337.25 65.01h.9v.9h-.9zM341.84 58.48h.9v.9h-.9zM296.52 70.12h.9v.9h-.9zM289.73 77.35h.9v.9h-.9zM294.42 91.14h.9v.9h-.9zM292.66 69.44h.9v.9h-.9zM316.89 83.32h.9v.9h-.9zM341.14 53.3h.9v.9h-.9zM306.94 74.53h.9v.9h-.9zM330.57 76.02h.9v.9h-.9zM316.36 94.23h.9v.9h-.9zM307.5 86.38h.9v.9h-.9zM317.59 100.71h.9v.9h-.9zM294.34 77.8h.9v.9h-.9zM308.16 86.17h.9v.9h-.9zM314.63 93.87h.9v.9h-.9zM339.34 66.26h.9v.9h-.9zM295.28 81.25h.9v.9h-.9zM293.2 84.34h.9v.9h-.9zM297.95 84.54h.9v.9h-.9zM330.33 73.17h.9v.9h-.9zM309.9 86.77h.9v.9h-.9zM289.37 79.6h.9v.9h-.9zM315.73 100.47h.9v.9h-.9zM311.98 68.43h.9v.9h-.9zM332.13 50.6h.9v.9h-.9zM299.41 85.64h.9v.9h-.9zM319.63 88.56h.9v.9h-.9zM339.55 63.51h.9v.9h-.9zM310.67 85.23h.9v.9h-.9zM302.92 88.78h.9v.9h-.9zM310.65 54.07h.9v.9h-.9zM336.51 85.01h.9v.9h-.9zM318.36 86.14h.9v.9h-.9zM294.52 76.89h.9v.9h-.9zM311.56 55.76h.9v.9h-.9zM303.93 91.55h.9v.9h-.9zM290.62 80.24h.9v.9h-.9zM329.15 49.05h.9v.9h-.9zM308.72 83.12h.9v.9h-.9zM319.91 84.8h.9v.9h-.9zM326.48 70.49h.9v.9h-.9zM317.21 48.75h.9v.9h-.9zM309.72 86.49h.9v.9h-.9zM307.94 58.45h.9v.9h-.9zM334.08 69.79h.9v.9h-.9zM318.53 80.96h.9v.9h-.9zM305.57 64.65h.9v.9h-.9zM294.34 88.83h.9v.9h-.9zM329.65 49.28h.9v.9h-.9zM298.01 79.4h.9v.9h-.9zM310.98 89.58h.9v.9h-.9zM300.15 90.01h.9v.9h-.9zM300.49 85.95h.9v.9h-.9zM293.68 78.87h.9v.9h-.9zM316.21 82.47h.9v.9h-.9zM310.96 54.74h.9v.9h-.9zM298.56 66.63h.9v.9h-.9zM325.73 93.53h.9v.9h-.9zM318.35 48.04h.9v.9h-.9zM299.49 63.32h.9v.9h-.9zM320.66 77.04h.9v.9h-.9zM339.51 62.4h.9v.9h-.9zM336.43 51.05h.9v.9h-.9zM302.13 91.13h.9v.9h-.9zM293.87 72.74h.9v.9h-.9zM335.44 65.19h.9v.9h-.9zM311.06 53.06h.9v.9h-.9zM293.76 80h.9v.9h-.9zM311.81 76.29h.9v.9h-.9zM341.26 61.38h.9v.9h-.9zM317.6 76.6h.9v.9h-.9zM308.03 83.64h.9v.9h-.9zM306.06 91.84h.9v.9h-.9zM338.87 47.82h.9v.9h-.9zM337.55 62.87h.9v.9h-.9zM292.51 79.63h.9v.9h-.9zM320.74 81.43h.9v.9h-.9zM313.1 95.44h.9v.9h-.9zM322.04 49.01h.9v.9h-.9zM316.74 78.12h.9v.9h-.9zM294.82 84.95h.9v.9h-.9zM313.55 86.15h.9v.9h-.9zM300.36 86.59h.9v.9h-.9zM306.47 59.19h.9v.9h-.9zM313.84 85.33h.9v.9h-.9zM295.32 81.93h.9v.9h-.9zM290.25 80.08h.9v.9h-.9zM339.42 58.13h.9v.9h-.9zM338.98 57.22h.9v.9h-.9zM311.41 85.04h.9v.9h-.9zM305.64 86.72h.9v.9h-.9zM296.75 89.76h.9v.9h-.9zM336.79 67.96h.9v.9h-.9zM331.28 48.57h.9v.9h-.9zM315.64 88.85h.9v.9h-.9zM301.03 80.84h.9v.9h-.9zM303.14 89.49h.9v.9h-.9zM303.53 85.84h.9v.9h-.9zM291.83 88.44h.9v.9h-.9zM299.2 65.93h.9v.9h-.9zM287.55 76.8h.9v.9h-.9zM294.37 70.83h.9v.9h-.9zM306.64 85.49h.9v.9h-.9zM316.45 86.4h.9v.9h-.9zM324.8 79.21h.9v.9h-.9zM333.31 77.43h.9v.9h-.9zM297.23 93.21h.9v.9h-.9zM328.07 88.34h.9v.9h-.9zM302.38 79.12h.9v.9h-.9zM296.3 85.86h.9v.9h-.9zM315.69 81.92h.9v.9h-.9zM313.07 94.32h.9v.9h-.9zM314.67 48.87h.9v.9h-.9zM284.75 76.29h.9v.9h-.9zM318.56 91.13h.9v.9h-.9zM292.43 79.5h.9v.9h-.9zM318.67 72.14h.9v.9h-.9zM311.91 55.49h.9v.9h-.9zM338.03 55.49h.9v.9h-.9zM304.95 86.98h.9v.9h-.9zM291.91 80.22h.9v.9h-.9zM321.89 84.15h.9v.9h-.9zM336.6 64.1h.9v.9h-.9zM301.82 86.25h.9v.9h-.9zM306.81 88.95h.9v.9h-.9zM298.79 91.55h.9v.9h-.9zM322.81 49.4h.9v.9h-.9zM294.67 88.2h.9v.9h-.9zM302.8 64.01h.9v.9h-.9zM297.28 87.41h.9v.9h-.9zM336.21 64.27h.9v.9h-.9zM336.45 64.86h.9v.9h-.9zM303.25 63.16h.9v.9h-.9zM298.96 68.18h.9v.9h-.9zM341.48 49.01h.9v.9h-.9zM297.48 90.31h.9v.9h-.9zM295.74 69.35h.9v.9h-.9zM295.37 91.39h.9v.9h-.9zM316.37 98.62h.9v.9h-.9zM294.13 66.24h.9v.9h-.9zM315.43 53.75h.9v.9h-.9zM289.99 78.95h.9v.9h-.9zM300.13 88.28h.9v.9h-.9zM317.01 49.93h.9v.9h-.9zM317.03 81.63h.9v.9h-.9zM317.44 82.54h.9v.9h-.9zM313.5 94.19h.9v.9h-.9zM296.64 92.8h.9v.9h-.9zM325.41 57.94h.9v.9h-.9zM301.84 91.91h.9v.9h-.9zM318.39 90.27h.9v.9h-.9zM317.21 89.96h.9v.9h-.9zM310.52 74.52h.9v.9h-.9zM318.18 81.46h.9v.9h-.9zM339.42 63.95h.9v.9h-.9zM324.19 86.06h.9v.9h-.9zM309.29 85.52h.9v.9h-.9zM306.4 93.85h.9v.9h-.9zM317.09 89.29h.9v.9h-.9zM319.08 83.16h.9v.9h-.9zM340.3 60.89h.9v.9h-.9zM298.74 87.7h.9v.9h-.9zM302.45 63.56h.9v.9h-.9zM323.01 86.04h.9v.9h-.9zM338.91 62.72h.9v.9h-.9zM299.32 81.93h.9v.9h-.9zM313.51 54.2h.9v.9h-.9zM337.66 53.65h.9v.9h-.9zM338.53 56.5h.9v.9h-.9zM300.83 89.05h.9v.9h-.9zM315.78 92.27h.9v.9h-.9zM306.02 57.37h.9v.9h-.9zM328.19 90.92h.9v.9h-.9zM307.99 87.8h.9v.9h-.9zM299.23 67.58h.9v.9h-.9zM337.46 62.14h.9v.9h-.9zM320.73 49.62h.9v.9h-.9zM335.85 69.47h.9v.9h-.9zM317.93 93.81h.9v.9h-.9zM335.97 53.21h.9v.9h-.9zM292.83 71.84h.9v.9h-.9zM319.71 91.84h.9v.9h-.9zM325.79 85.47h.9v.9h-.9zM333.53 68.55h.9v.9h-.9zM324.03 88.06h.9v.9h-.9zM317.17 93.73h.9v.9h-.9zM320.61 93.63h.9v.9h-.9zM307.49 75.08h.9v.9h-.9zM338.44 66.67h.9v.9h-.9zM327.72 75.94h.9v.9h-.9zM295.92 83.38h.9v.9h-.9zM293.71 87.41h.9v.9h-.9zM295.64 66.54h.9v.9h-.9zM300.9 88.34h.9v.9h-.9zM321.68 77.57h.9v.9h-.9zM306.28 89.3h.9v.9h-.9zM292.71 84.22h.9v.9h-.9zM299.27 85.53h.9v.9h-.9zM314.98 98.54h.9v.9h-.9zM303.33 86.42h.9v.9h-.9zM316.87 86.53h.9v.9h-.9zM289.81 81.45h.9v.9h-.9zM336.91 62.11h.9v.9h-.9zM320.45 80.14h.9v.9h-.9zM314.04 97.75h.9v.9h-.9zM312.81 65.7h.9v.9h-.9zM297.17 65.39h.9v.9h-.9zM294.83 72.79h.9v.9h-.9zM335.63 66.27h.9v.9h-.9zM308 59.98h.9v.9h-.9zM298.99 90.41h.9v.9h-.9zM302.46 86.29h.9v.9h-.9zM330.04 87.21h.9v.9h-.9zM298.09 63.52h.9v.9h-.9zM330.78 49.95h.9v.9h-.9zM288.28 79.19h.9v.9h-.9zM307.65 67.14h.9v.9h-.9zM318.27 78.06h.9v.9h-.9zM342.07 50.58h.9v.9h-.9zM323.92 80.46h.9v.9h-.9zM314.52 83.03h.9v.9h-.9zM298.5 90h.9v.9h-.9zM305.47 86.07h.9v.9h-.9zM319.33 101.21h.9v.9h-.9zM320.87 90.98h.9v.9h-.9zM298.09 84.7h.9v.9h-.9zM311.08 88.85h.9v.9h-.9zM293.96 81.1h.9v.9h-.9zM289.85 84.05h.9v.9h-.9zM302.46 83.31h.9v.9h-.9zM297.15 67.41h.9v.9h-.9zM298.92 63.25h.9v.9h-.9zM338.34 65.12h.9v.9h-.9zM341.65 55.08h.9v.9h-.9zM302.97 82.36h.9v.9h-.9zM307.96 58.99h.9v.9h-.9zM300.26 86.62h.9v.9h-.9zM329.43 61.5h.9v.9h-.9zM297.7 89.58h.9v.9h-.9zM302.03 93.91h.9v.9h-.9zM306.3 85.92h.9v.9h-.9zM312.57 83.25h.9v.9h-.9zM295.65 87.46h.9v.9h-.9zM294.14 91.33h.9v.9h-.9zM303.59 94.19h.9v.9h-.9zM330.68 74.34h.9v.9h-.9zM338.26 51.9h.9v.9h-.9zM307.36 58.05h.9v.9h-.9zM311.77 92.05h.9v.9h-.9zM327.6 95.23h.9v.9h-.9zM324.51 100.98h.9v.9h-.9zM290.66 84.46h.9v.9h-.9zM297.29 86.23h.9v.9h-.9zM294.3 70.18h.9v.9h-.9zM313.69 47.85h.9v.9h-.9zM307.94 87.98h.9v.9h-.9zM341.9 58.69h.9v.9h-.9zM322.88 80.91h.9v.9h-.9zM300.95 85.69h.9v.9h-.9zM317.07 88.41h.9v.9h-.9zM339.95 56.71h.9v.9h-.9zM306.75 60.53h.9v.9h-.9zM322.26 51.63h.9v.9h-.9zM301.49 86.54h.9v.9h-.9zM294.04 82.79h.9v.9h-.9zM319.15 89.08h.9v.9h-.9zM294.89 91.96h.9v.9h-.9zM301.41 90.24h.9v.9h-.9zM306.47 80.89h.9v.9h-.9zM306.28 85.58h.9v.9h-.9zM314.49 82.33h.9v.9h-.9zM311.92 88.03h.9v.9h-.9zM311.14 70.64h.9v.9h-.9zM298.62 87.02h.9v.9h-.9zM337.23 54.47h.9v.9h-.9zM296.72 70.25h.9v.9h-.9zM313.47 86.12h.9v.9h-.9zM299.54 89.27h.9v.9h-.9zM331.3 74.43h.9v.9h-.9zM327.83 49.78h.9v.9h-.9zM322.57 74.09h.9v.9h-.9zM296.74 91.32h.9v.9h-.9zM321.04 78.55h.9v.9h-.9zM336.47 54.41h.9v.9h-.9zM322.82 80.69h.9v.9h-.9zM304.77 60.74h.9v.9h-.9zM295.19 69.09h.9v.9h-.9zM315.19 83.12h.9v.9h-.9zM315.49 87.5h.9v.9h-.9zM316.72 89h.9v.9h-.9zM335.8 71.98h.9v.9h-.9zM303.81 58.23h.9v.9h-.9zM305.92 87h.9v.9h-.9zM336.36 62.91h.9v.9h-.9zM339.47 53.84h.9v.9h-.9zM286.15 80.73h.9v.9h-.9zM305.92 78.51h.9v.9h-.9zM326.5 74.29h.9v.9h-.9zM306.11 89h.9v.9h-.9zM314.54 89.32h.9v.9h-.9zM313.7 86.74h.9v.9h-.9zM294.37 80.77h.9v.9h-.9zM294.21 79.39h.9v.9h-.9zM318.47 99.21h.9v.9h-.9zM311.15 87.55h.9v.9h-.9zM333.26 68.26h.9v.9h-.9zM300.46 61.56h.9v.9h-.9zM339.17 65.7h.9v.9h-.9zM308.15 91.26h.9v.9h-.9zM293.22 77.15h.9v.9h-.9zM293.8 76.47h.9v.9h-.9zM291.45 79.66h.9v.9h-.9zM336.51 49.58h.9v.9h-.9zM317.72 50.58h.9v.9h-.9zM332.26 49.74h.9v.9h-.9zM293.23 73.16h.9v.9h-.9zM306.01 94.81h.9v.9h-.9zM321.08 91.84h.9v.9h-.9zM322.26 50.02h.9v.9h-.9zM290.33 75.5h.9v.9h-.9zM330.84 73.06h.9v.9h-.9zM338.12 60.18h.9v.9h-.9zM327.62 47.51h.9v.9h-.9zM294.07 76.75h.9v.9h-.9zM318.49 89.5h.9v.9h-.9zM287.83 71.91h.9v.9h-.9zM302.99 87.64h.9v.9h-.9zM318.64 84.56h.9v.9h-.9zM310.21 88.66h.9v.9h-.9zM291.32 73.84h.9v.9h-.9zM308.95 88.15h.9v.9h-.9zM308.36 99.38h.9v.9h-.9zM327.9 48.67h.9v.9h-.9zM325.07 64.24h.9v.9h-.9zM340.93 63.02h.9v.9h-.9zM314.96 95.89h.9v.9h-.9zM298.61 66.69h.9v.9h-.9zM308.12 89.75h.9v.9h-.9zM331.05 47.34h.9v.9h-.9zM319.84 52.23h.9v.9h-.9zM308.3 87.62h.9v.9h-.9zM302.33 86.51h.9v.9h-.9zM294.27 77.45h.9v.9h-.9zM330.97 72.59h.9v.9h-.9zM306.74 93.63h.9v.9h-.9zM300.43 66.04h.9v.9h-.9zM292.16 78.03h.9v.9h-.9zM338 47.83h.9v.9h-.9zM319.43 85.36h.9v.9h-.9zM294.93 88.87h.9v.9h-.9zM317.88 88.11h.9v.9h-.9zM317.33 87.64h.9v.9h-.9zM305.49 85.58h.9v.9h-.9zM314.26 92.58h.9v.9h-.9zM305.81 98.22h.9v.9h-.9z" fill="#111" opacity=".9"/><path d="M316.03 88.95h.9v.9h-.9zM320.08 82.72h.9v.9h-.9zM311.42 89.42h.9v.9h-.9zM297.49 89.29h.9v.9h-.9zM291.75 87.35h.9v.9h-.9zM318.07 89.4h.9v.9h-.9zM284.21 78.98h.9v.9h-.9zM321.43 79.71h.9v.9h-.9zM320.72 78.42h.9v.9h-.9zM297.21 87.7h.9v.9h-.9zM313.24 53.79h.9v.9h-.9zM318.89 47.73h.9v.9h-.9zM291.54 74.87h.9v.9h-.9zM304.72 59.79h.9v.9h-.9zM295.62 89.34h.9v.9h-.9zM306.34 81.75h.9v.9h-.9zM320.62 79.91h.9v.9h-.9zM300.91 63.85h.9v.9h-.9zM334.47 70.15h.9v.9h-.9zM316.49 81.51h.9v.9h-.9zM309.78 59.43h.9v.9h-.9zM339.89 66.17h.9v.9h-.9zM332.16 61.76h.9v.9h-.9zM306.89 89.33h.9v.9h-.9zM295.67 72.75h.9v.9h-.9zM330.99 70.63h.9v.9h-.9zM305.55 60.15h.9v.9h-.9zM316.57 83.65h.9v.9h-.9zM336.79 62.37h.9v.9h-.9zM330.12 49.69h.9v.9h-.9zM290.7 82.27h.9v.9h-.9zM316.27 83.13h.9v.9h-.9zM310.39 75.91h.9v.9h-.9zM298.17 86.48h.9v.9h-.9zM323.26 92.59h.9v.9h-.9zM280.72 73.15h.9v.9h-.9zM295.67 85.32h.9v.9h-.9zM338.81 62.47h.9v.9h-.9zM301.63 61.45h.9v.9h-.9zM304.92 58.35h.9v.9h-.9zM327.45 49.34h.9v.9h-.9zM297.71 83.08h.9v.9h-.9zM312.84 77.03h.9v.9h-.9zM310.25 87.2h.9v.9h-.9zM297.51 89.21h.9v.9h-.9zM295.06 70.87h.9v.9h-.9zM299.09 87.05h.9v.9h-.9zM335.78 49.29h.9v.9h-.9zM324.83 79.63h.9v.9h-.9zM324.19 49.48h.9v.9h-.9zM336.3 51.26h.9v.9h-.9zM289.7 79.32h.9v.9h-.9zM319.37 50.74h.9v.9h-.9zM310.02 86.12h.9v.9h-.9zM317.28 85.44h.9v.9h-.9zM309.36 86.19h.9v.9h-.9zM317.38 77.44h.9v.9h-.9zM316.89 93.94h.9v.9h-.9zM311.72 90.9h.9v.9h-.9zM297.22 93.93h.9v.9h-.9zM340.77 55.8h.9v.9h-.9zM288.67 83.88h.9v.9h-.9zM320.83 91.81h.9v.9h-.9zM295.92 85.15h.9v.9h-.9zM325.04 50.48h.9v.9h-.9zM300.14 65.59h.9v.9h-.9zM289.67 85.21h.9v.9h-.9zM328.35 72.8h.9v.9h-.9zM331.82 72.55h.9v.9h-.9zM295.6 71.89h.9v.9h-.9zM287.85 80.6h.9v.9h-.9zM324.9 75.16h.9v.9h-.9zM306.31 72.62h.9v.9h-.9zM329.05 75.25h.9v.9h-.9zM322.63 76.06h.9v.9h-.9zM299.84 88.17h.9v.9h-.9zM328.78 49.48h.9v.9h-.9zM303.57 87.36h.9v.9h-.9zM289.57 88.38h.9v.9h-.9zM339.94 72.88h.9v.9h-.9zM302.94 89.89h.9v.9h-.9zM290.62 83.35h.9v.9h-.9zM299.9 84.76h.9v.9h-.9zM318.63 84.81h.9v.9h-.9zM297.78 65.01h.9v.9h-.9zM309.88 90.89h.9v.9h-.9zM313.85 90.63h.9v.9h-.9zM304.12 93.13h.9v.9h-.9zM319.6 90.86h.9v.9h-.9zM341.4 63.59h.9v.9h-.9zM300.84 61.64h.9v.9h-.9zM307.68 93.25h.9v.9h-.9zM321.54 96.93h.9v.9h-.9zM329.94 73.22h.9v.9h-.9zM324.26 49.72h.9v.9h-.9zM330.63 84.13h.9v.9h-.9zM338.67 50.67h.9v.9h-.9zM296.48 80.9h.9v.9h-.9zM303.97 86.34h.9v.9h-.9zM308.77 75.52h.9v.9h-.9zM330.77 71.47h.9v.9h-.9zM323.68 59.02h.9v.9h-.9zM308.33 87.39h.9v.9h-.9zM296.99 85.42h.9v.9h-.9zM326.47 74.78h.9v.9h-.9zM338.04 62.7h.9v.9h-.9zM337.85 61.94h.9v.9h-.9zM312.1 77.37h.9v.9h-.9zM330.21 49.6h.9v.9h-.9zM321.11 103.42h.9v.9h-.9zM299.89 60.25h.9v.9h-.9zM316.95 49.94h.9v.9h-.9zM288.79 74.12h.9v.9h-.9zM320.57 83.4h.9v.9h-.9zM340.35 61.2h.9v.9h-.9zM332.98 68.64h.9v.9h-.9zM309.98 83.77h.9v.9h-.9zM315.7 75.01h.9v.9h-.9zM306.4 85.79h.9v.9h-.9zM311.16 57.08h.9v.9h-.9zM308.74 88.92h.9v.9h-.9zM321.78 93.48h.9v.9h-.9zM311.69 81.93h.9v.9h-.9zM306.97 95.23h.9v.9h-.9zM313.74 100.64h.9v.9h-.9zM309.17 86.91h.9v.9h-.9zM307.62 90.67h.9v.9h-.9zM307.25 88.82h.9v.9h-.9zM311.07 77.45h.9v.9h-.9zM303.41 85.31h.9v.9h-.9zM339.47 48.61h.9v.9h-.9zM337.7 52.68h.9v.9h-.9zM308.12 85.79h.9v.9h-.9zM342.39 58.92h.9v.9h-.9zM318.41 86.29h.9v.9h-.9zM308.04 81.83h.9v.9h-.9zM321.26 85.33h.9v.9h-.9zM323 84.54h.9v.9h-.9zM303.46 86.26h.9v.9h-.9zM305.29 85.74h.9v.9h-.9zM307.66 54.59h.9v.9h-.9zM327.31 77.19h.9v.9h-.9zM327 47.82h.9v.9h-.9zM282.89 84.15h.9v.9h-.9zM312.04 86.68h.9v.9h-.9zM322.25 51.41h.9v.9h-.9zM331.84 70.16h.9v.9h-.9zM315.03 95.83h.9v.9h-.9zM291.11 75.09h.9v.9h-.9zM323.12 78.4h.9v.9h-.9zM291.91 70.89h.9v.9h-.9zM339.04 47.39h.9v.9h-.9zM338.17 55.51h.9v.9h-.9zM336.5 65.2h.9v.9h-.9zM311.61 86.87h.9v.9h-.9zM321.89 51.03h.9v.9h-.9zM338.29 63.34h.9v.9h-.9zM329.62 50.1h.9v.9h-.9zM338.8 56.68h.9v.9h-.9zM323.63 49.6h.9v.9h-.9zM297.44 64.68h.9v.9h-.9zM317.29 91.13h.9v.9h-.9zM327.43 48.61h.9v.9h-.9zM298.69 60.64h.9v.9h-.9zM288.8 90.45h.9v.9h-.9zM304.92 91.38h.9v.9h-.9zM307.43 86.36h.9v.9h-.9zM302.37 60.96h.9v.9h-.9zM334.68 52.18h.9v.9h-.9zM337.28 69.94h.9v.9h-.9zM314.49 98.85h.9v.9h-.9zM310.6 92.3h.9v.9h-.9zM293.95 79.3h.9v.9h-.9zM333.42 70.5h.9v.9h-.9zM312.01 85.78h.9v.9h-.9zM318.33 81.07h.9v.9h-.9zM327.86 48.95h.9v.9h-.9zM307.04 88.68h.9v.9h-.9zM333.05 48.05h.9v.9h-.9zM300.73 76.24h.9v.9h-.9zM312.38 89.98h.9v.9h-.9zM306.6 61.09h.9v.9h-.9zM335.08 82.75h.9v.9h-.9zM335.84 64.41h.9v.9h-.9zM306.21 58.94h.9v.9h-.9zM288.67 81.29h.9v.9h-.9zM307.19 85.76h.9v.9h-.9zM309.79 65.96h.9v.9h-.9zM328.16 69.47h.9v.9h-.9zM315.79 53.63h.9v.9h-.9zM300.64 86.88h.9v.9h-.9zM334.02 48.08h.9v.9h-.9zM301.43 64.59h.9v.9h-.9zM339.75 57.01h.9v.9h-.9zM317.93 85.78h.9v.9h-.9zM310.41 87.25h.9v.9h-.9zM329.2 48.69h.9v.9h-.9zM335.14 48.73h.9v.9h-.9zM342.29 57.95h.9v.9h-.9zM313.58 83.1h.9v.9h-.9zM321.68 50.8h.9v.9h-.9zM318.74 81.4h.9v.9h-.9zM300.96 87.37h.9v.9h-.9zM323.49 94.57h.9v.9h-.9zM320.8 81.72h.9v.9h-.9zM286.6 87.04h.9v.9h-.9zM304.88 87.1h.9v.9h-.9zM331.3 81.63h.9v.9h-.9zM338.13 58.85h.9v.9h-.9zM325.82 54.67h.9v.9h-.9zM318.38 87.97h.9v.9h-.9zM294.11 88.65h.9v.9h-.9zM306.28 87.97h.9v.9h-.9zM332.2 68.91h.9v.9h-.9zM318.4 51.13h.9v.9h-.9zM299.64 79.87h.9v.9h-.9zM320.28 91.39h.9v.9h-.9zM291.71 76.29h.9v.9h-.9zM340.97 53.65h.9v.9h-.9zM318.88 100.55h.9v.9h-.9zM314.2 55.77h.9v.9h-.9zM317.1 89.01h.9v.9h-.9zM312.28 52.64h.9v.9h-.9zM326.55 48.95h.9v.9h-.9zM295.29 93.87h.9v.9h-.9zM324.29 81.74h.9v.9h-.9zM304.87 90.23h.9v.9h-.9zM317.54 53.17h.9v.9h-.9zM338.34 55.38h.9v.9h-.9zM313.33 55.45h.9v.9h-.9zM330.23 62.92h.9v.9h-.9zM306.85 91.89h.9v.9h-.9zM302.6 60.84h.9v.9h-.9zM326.89 74.74h.9v.9h-.9zM301.07 92.79h.9v.9h-.9zM313.28 55.83h.9v.9h-.9zM316.52 83.93h.9v.9h-.9zM336.27 65.18h.9v.9h-.9zM316.21 84.69h.9v.9h-.9zM327.68 76.14h.9v.9h-.9zM338.16 60.93h.9v.9h-.9zM302.56 87.99h.9v.9h-.9zM339.14 52.66h.9v.9h-.9zM308.37 95.43h.9v.9h-.9zM319.51 85.43h.9v.9h-.9zM307.16 78.49h.9v.9h-.9zM317.31 86.42h.9v.9h-.9zM313.29 82.75h.9v.9h-.9zM311.3 85.08h.9v.9h-.9zM300.64 93.3h.9v.9h-.9zM315.87 82.52h.9v.9h-.9zM312.14 85.53h.9v.9h-.9zM298.53 85.51h.9v.9h-.9zM312.41 82.87h.9v.9h-.9zM331.62 69.91h.9v.9h-.9zM304.1 83.58h.9v.9h-.9zM294.18 85.55h.9v.9h-.9zM309.42 80.51h.9v.9h-.9zM311.69 89.06h.9v.9h-.9zM339.57 63.54h.9v.9h-.9zM319.05 83.35h.9v.9h-.9zM317.21 83.27h.9v.9h-.9zM337.75 73.34h.9v.9h-.9zM297.29 84.97h.9v.9h-.9zM338.65 58.26h.9v.9h-.9zM331.01 48.67h.9v.9h-.9zM303.38 61.58h.9v.9h-.9zM311.3 91.72h.9v.9h-.9zM297.37 87.21h.9v.9h-.9zM303.52 92.95h.9v.9h-.9zM303.49 89.85h.9v.9h-.9zM303.46 88.21h.9v.9h-.9zM335.6 49.32h.9v.9h-.9zM326.64 76.91h.9v.9h-.9zM338.43 63.93h.9v.9h-.9zM334.76 49.19h.9v.9h-.9zM305.65 88.54h.9v.9h-.9zM322.83 50.1h.9v.9h-.9zM301.74 77.5h.9v.9h-.9zM308.91 87.51h.9v.9h-.9zM299.86 86.36h.9v.9h-.9zM325.72 49.27h.9v.9h-.9zM328.13 82.1h.9v.9h-.9zM319.59 81.88h.9v.9h-.9zM335.9 63.9h.9v.9h-.9zM305.37 88.79h.9v.9h-.9zM322.92 78.43h.9v.9h-.9zM308.08 64.32h.9v.9h-.9zM302.09 88.15h.9v.9h-.9zM296.85 85.27h.9v.9h-.9zM330.11 47.95h.9v.9h-.9zM324.74 77h.9v.9h-.9zM339.03 60.11h.9v.9h-.9zM298.48 86.92h.9v.9h-.9zM327.07 48.2h.9v.9h-.9zM328.34 72.55h.9v.9h-.9zM321 80.12h.9v.9h-.9zM297.29 66.55h.9v.9h-.9zM320.32 89.23h.9v.9h-.9zM293.46 85.05h.9v.9h-.9zM315.38 90.52h.9v.9h-.9zM315.34 51.93h.9v.9h-.9zM315.37 83.14h.9v.9h-.9zM338.78 47.44h.9v.9h-.9zM296.67 69.8h.9v.9h-.9zM290.49 87.27h.9v.9h-.9zM299.35 82.39h.9v.9h-.9zM321.54 93.08h.9v.9h-.9zM296.04 92.83h.9v.9h-.9zM292.64 76.54h.9v.9h-.9zM315.41 84.15h.9v.9h-.9zM304.12 74.05h.9v.9h-.9zM327.92 49.02h.9v.9h-.9zM339.29 61.57h.9v.9h-.9zM294.92 80.54h.9v.9h-.9zM300.06 96.26h.9v.9h-.9z" fill="#444" opacity=".8"/><g transform="translate(316 68) rotate(-36)"><path d="M24.5 0L24.25 2.34L23.5 4.13L22.25 5.7L20.53 7.06L18.35 8.24L15.73 9.22L12.69 9.99L9.21 10.55L5.22 10.89L0 11L-5.22 10.89L-9.21 10.55L-12.69 9.99L-15.73 9.22L-18.35 8.24L-20.53 7.06L-22.25 5.7L-23.5 4.13L-24.25 2.34L-24.5 0L-24.25 -2.34L-23.5 -4.13L-22.25 -5.7L-20.53 -7.06L-18.35 -8.24L-15.73 -9.22L-12.69 -9.99L-9.21 -10.55L-5.22 -10.89L-0 -11L5.22 -10.89L9.21 -10.55L12.69 -9.99L15.73 -9.22L18.35 -8.24L20.53 -7.06L22.25 -5.7L23.5 -4.13L24.25 -2.34Z" fill="#f6f6f6" stroke="#111" stroke-width="1.2"/><path d="M20.84 0L20.66 1.64L20.11 2.9L19.19 3.99L17.93 4.95L16.34 5.78L14.42 6.47L12.19 7.01L9.64 7.4L6.71 7.63L2.89 7.71L-0.94 7.63L-3.86 7.4L-6.41 7.01L-8.64 6.47L-10.56 5.78L-12.16 4.95L-13.42 3.99L-14.33 2.9L-14.88 1.64L-15.06 0L-14.88 -1.64L-14.33 -2.9L-13.42 -3.99L-12.16 -4.95L-10.56 -5.78L-8.64 -6.47L-6.41 -7.01L-3.86 -7.4L-0.94 -7.63L2.89 -7.71L6.71 -7.63L9.64 -7.4L12.19 -7.01L14.42 -6.47L16.34 -5.78L17.93 -4.95L19.19 -3.99L20.11 -2.9L20.66 -1.64Z" fill="#c4c4c4"/><path d="M17.9 0L17.77 1.08L17.38 1.91L16.74 2.63L15.85 3.26L14.72 3.8L13.36 4.26L11.78 4.61L9.98 4.87L7.91 5.03L5.21 5.08L2.5 5.03L0.44 4.87L-1.37 4.61L-2.95 4.26L-4.3 3.8L-5.43 3.26L-6.33 2.63L-6.97 1.91L-7.36 1.08L-7.49 0L-7.36 -1.08L-6.97 -1.91L-6.33 -2.63L-5.43 -3.26L-4.3 -3.8L-2.95 -4.26L-1.37 -4.61L0.44 -4.87L2.5 -5.03L5.21 -5.08L7.91 -5.03L9.98 -4.87L11.78 -4.61L13.36 -4.26L14.72 -3.8L15.85 -3.26L16.74 -2.63L17.38 -1.91L17.77 -1.08Z" fill="#8a8a8a"/><path d="M22.47 0L22.26 1.96L21.62 3.45L20.56 4.75L19.09 5.89L17.24 6.88L15 7.69L12.41 8.34L9.45 8.8L6.05 9.08L1.6 9.18L-2.84 9.08L-6.24 8.8L-9.2 8.34L-11.8 7.69L-14.03 6.88L-15.89 5.89L-17.35 4.75L-18.41 3.45L-19.05 1.96L-19.26 0L-19.05 -1.96L-18.41 -3.45L-17.35 -4.75L-15.89 -5.89L-14.03 -6.88L-11.8 -7.69L-9.2 -8.34L-6.24 -8.8L-2.84 -9.08L1.6 -9.18L6.05 -9.08L9.45 -8.8L12.41 -8.34L15 -7.69L17.24 -6.88L19.09 -5.89L20.56 -4.75L21.62 -3.45L22.26 -1.96ZM20.84 0L20.66 1.64L20.11 2.9L19.19 3.99L17.93 4.95L16.34 5.78L14.42 6.47L12.19 7.01L9.64 7.4L6.71 7.63L2.89 7.71L-0.94 7.63L-3.86 7.4L-6.41 7.01L-8.64 6.47L-10.56 5.78L-12.16 4.95L-13.42 3.99L-14.33 2.9L-14.88 1.64L-15.06 0L-14.88 -1.64L-14.33 -2.9L-13.42 -3.99L-12.16 -4.95L-10.56 -5.78L-8.64 -6.47L-6.41 -7.01L-3.86 -7.4L-0.94 -7.63L2.89 -7.71L6.71 -7.63L9.64 -7.4L12.19 -7.01L14.42 -6.47L16.34 -5.78L17.93 -4.95L19.19 -3.99L20.11 -2.9L20.66 -1.64ZM19.33 0L19.18 1.36L18.71 2.39L17.94 3.29L16.86 4.09L15.51 4.77L13.88 5.33L11.98 5.78L9.81 6.1L7.33 6.3L4.08 6.36L0.83 6.3L-1.66 6.1L-3.82 5.78L-5.72 5.33L-7.35 4.77L-8.71 4.09L-9.78 3.29L-10.55 2.39L-11.02 1.36L-11.18 0L-11.02 -1.36L-10.55 -2.39L-9.78 -3.29L-8.71 -4.09L-7.35 -4.77L-5.72 -5.33L-3.82 -5.78L-1.66 -6.1L0.83 -6.3L4.08 -6.36L7.33 -6.3L9.81 -6.1L11.98 -5.78L13.88 -5.33L15.51 -4.77L16.86 -4.09L17.94 -3.29L18.71 -2.39L19.18 -1.36ZM17.9 0L17.77 1.08L17.38 1.91L16.74 2.63L15.85 3.26L14.72 3.8L13.36 4.26L11.78 4.61L9.98 4.87L7.91 5.03L5.21 5.08L2.5 5.03L0.44 4.87L-1.37 4.61L-2.95 4.26L-4.3 3.8L-5.43 3.26L-6.33 2.63L-6.97 1.91L-7.36 1.08L-7.49 0L-7.36 -1.08L-6.97 -1.91L-6.33 -2.63L-5.43 -3.26L-4.3 -3.8L-2.95 -4.26L-1.37 -4.61L0.44 -4.87L2.5 -5.03L5.21 -5.08L7.91 -5.03L9.98 -4.87L11.78 -4.61L13.36 -4.26L14.72 -3.8L15.85 -3.26L16.74 -2.63L17.38 -1.91L17.77 -1.08ZM16.53 0L16.42 0.82L16.11 1.44L15.59 1.99L14.87 2.47L13.96 2.88L12.87 3.22L11.59 3.49L10.14 3.68L8.48 3.8L6.29 3.84L4.11 3.8L2.45 3.68L1 3.49L-0.28 3.22L-1.37 2.88L-2.28 2.47L-3 1.99L-3.52 1.44L-3.83 0.82L-3.94 0L-3.83 -0.82L-3.52 -1.44L-3 -1.99L-2.28 -2.47L-1.37 -2.88L-0.28 -3.22L1 -3.49L2.45 -3.68L4.11 -3.8L6.29 -3.84L8.48 -3.8L10.14 -3.68L11.59 -3.49L12.87 -3.22L13.96 -2.88L14.87 -2.47L15.59 -1.99L16.11 -1.44L16.42 -0.82Z" fill="none" stroke="#262626" stroke-width=".8"/><path d="M14.7 0L14.62 0.56L14.4 0.99L14.03 1.37L13.51 1.7L12.86 1.98L12.07 2.21L11.16 2.4L10.11 2.53L8.92 2.61L7.35 2.64L5.78 2.61L4.59 2.53L3.54 2.4L2.63 2.21L1.84 1.98L1.19 1.7L0.67 1.37L0.3 0.99L0.08 0.56L0 0L0.08 -0.56L0.3 -0.99L0.67 -1.37L1.19 -1.7L1.84 -1.98L2.63 -2.21L3.54 -2.4L4.59 -2.53L5.78 -2.61L7.35 -2.64L8.92 -2.61L10.11 -2.53L11.16 -2.4L12.07 -2.21L12.86 -1.98L13.51 -1.7L14.03 -1.37L14.4 -0.99L14.62 -0.56Z" fill="#2e2e2e"/><ellipse cx="7.35" cy="0" rx="4.9" ry="0.6" fill="#eee"/></g>
</svg>
<path d="M309.3 46V117M273.3 75.3H343.8" stroke="#3030a8" stroke-width="1.3" fill="none"/>
<rect x="273.3" y="46" width="70.5" height="71" fill="none" stroke="#111" stroke-width="1.5"/>
<path d="M272.7 115.5h-2.2M274.8 117.6v2.2M272.7 114h-1.6M276.3 117.6v1.6M272.7 112.5h-1.6M277.8 117.6v1.6M272.7 111h-2.2M279.3 117.6v2.2M272.7 109.5h-1.6M280.8 117.6v1.6M272.7 108h-1.6M282.3 117.6v1.6M272.7 106.5h-1.6M283.8 117.6v1.6M272.7 105h-2.2M285.3 117.6v2.2M272.7 103.5h-1.6M286.8 117.6v1.6M272.7 100.19h-1.6M290.11 117.6v1.6M272.7 97.5h-1.6M292.8 117.6v1.6M272.7 95.4h-1.6M294.9 117.6v1.6M272.7 93.69h-1.6M296.61 117.6v1.6M272.7 92.25h-1.6M298.05 117.6v1.6M272.7 90.99h-1.6M299.31 117.6v1.6M272.7 89.89h-1.6M300.41 117.6v1.6M272.7 88.9h-2.8M301.4 117.6v2.8M272.7 82.4h-1.6M307.9 117.6v1.6M272.7 78.59h-1.6M311.71 117.6v1.6M272.7 75.9h-1.6M314.4 117.6v1.6M272.7 73.8h-1.6M316.5 117.6v1.6M272.7 72.09h-1.6M318.21 117.6v1.6M272.7 70.65h-1.6M319.65 117.6v1.6M272.7 69.39h-1.6M320.91 117.6v1.6M272.7 68.29h-1.6M322.01 117.6v1.6M272.7 67.3h-2.8M323 117.6v2.8M272.7 60.8h-1.6M329.5 117.6v1.6M272.7 56.99h-1.6M333.31 117.6v1.6M272.7 54.3h-1.6M336 117.6v1.6M272.7 52.2h-1.6M338.1 117.6v1.6M272.7 50.49h-1.6M339.81 117.6v1.6M272.7 49.05h-1.6M341.25 117.6v1.6" stroke="#111" stroke-width="0.9" fill="none"/>
<path d="M273 46V117.3H343.8" stroke="#111" stroke-width="1" fill="none"/>
<svg x="352.8" y="46" width="70.5" height="71" viewBox="352.8 46 70.5 71" overflow="hidden">
<path d="M412.89 56.25h.9v.9h-.9zM410.91 54.69h.9v.9h-.9zM401.2 56.67h.9v.9h-.9zM390.56 93.34h.9v.9h-.9zM391.45 58.12h.9v.9h-.9zM390.51 95.04h.9v.9h-.9zM392.82 92.67h.9v.9h-.9zM387.76 92.76h.9v.9h-.9zM404.29 56.23h.9v.9h-.9zM382.88 95.74h.9v.9h-.9zM406.23 91.49h.9v.9h-.9zM370.48 71.33h.9v.9h-.9zM418.29 66.38h.9v.9h-.9zM419.77 99.19h.9v.9h-.9zM406.92 94.71h.9v.9h-.9zM409.95 57.55h.9v.9h-.9zM397.73 88.32h.9v.9h-.9zM402.15 101.81h.9v.9h-.9zM396.66 83.15h.9v.9h-.9zM402.29 56.24h.9v.9h-.9zM394.58 93.32h.9v.9h-.9zM414.76 81.76h.9v.9h-.9zM393.37 94.75h.9v.9h-.9zM385.15 92.71h.9v.9h-.9zM418.48 76.44h.9v.9h-.9zM414.22 76.21h.9v.9h-.9zM398.05 87.63h.9v.9h-.9zM410.18 86.41h.9v.9h-.9zM375.71 80.83h.9v.9h-.9zM383.43 92.64h.9v.9h-.9zM411.25 59.31h.9v.9h-.9zM407.01 52.54h.9v.9h-.9zM371.17 80.29h.9v.9h-.9zM409.59 82.3h.9v.9h-.9zM383.76 96.64h.9v.9h-.9zM378.9 72.07h.9v.9h-.9zM378.01 64.34h.9v.9h-.9zM401.66 69.01h.9v.9h-.9zM415.32 63.14h.9v.9h-.9zM405.16 86.6h.9v.9h-.9zM385.77 92.67h.9v.9h-.9zM386.61 98.77h.9v.9h-.9zM419.54 75.14h.9v.9h-.9zM383.81 91.97h.9v.9h-.9zM417.03 66.38h.9v.9h-.9zM415.84 81.26h.9v.9h-.9zM403.91 93.63h.9v.9h-.9zM403.95 87.68h.9v.9h-.9zM402.68 68.53h.9v.9h-.9zM395.7 86.33h.9v.9h-.9zM402.23 98.74h.9v.9h-.9zM389.19 94.59h.9v.9h-.9zM387.03 99.59h.9v.9h-.9zM392.12 97.8h.9v.9h-.9zM368.68 109.17h.9v.9h-.9zM374.41 83.11h.9v.9h-.9zM379.82 90.06h.9v.9h-.9zM393.97 57.97h.9v.9h-.9zM408.04 84.01h.9v.9h-.9zM375.18 82.22h.9v.9h-.9zM411.91 53h.9v.9h-.9zM397.49 56.51h.9v.9h-.9zM385.06 102.79h.9v.9h-.9zM405.15 54.91h.9v.9h-.9zM403.18 56.7h.9v.9h-.9zM415.13 76.22h.9v.9h-.9zM414.99 74.56h.9v.9h-.9zM387.62 93.29h.9v.9h-.9zM408.01 55.95h.9v.9h-.9zM401.29 93.43h.9v.9h-.9zM405.9 85.49h.9v.9h-.9zM402.99 53.04h.9v.9h-.9zM394.98 91.3h.9v.9h-.9zM380.71 93.03h.9v.9h-.9zM406.33 96.03h.9v.9h-.9zM392.91 93.16h.9v.9h-.9zM378.25 93.69h.9v.9h-.9zM384.33 86.18h.9v.9h-.9zM391.72 63.92h.9v.9h-.9zM396.69 54.49h.9v.9h-.9zM414.17 60.54h.9v.9h-.9zM396.25 89.74h.9v.9h-.9zM371.91 81.06h.9v.9h-.9zM394.01 90.79h.9v.9h-.9zM415.06 64.81h.9v.9h-.9zM375.77 72.31h.9v.9h-.9zM417.2 57.87h.9v.9h-.9zM404.37 59.84h.9v.9h-.9zM364.85 68.5h.9v.9h-.9zM397.35 91.33h.9v.9h-.9zM391.49 57.65h.9v.9h-.9zM415.46 66.08h.9v.9h-.9zM393.67 88.35h.9v.9h-.9zM376.71 89.62h.9v.9h-.9zM408.37 95.07h.9v.9h-.9zM393.22 97.83h.9v.9h-.9zM384.78 95.33h.9v.9h-.9zM401.94 95.04h.9v.9h-.9zM416.56 69.12h.9v.9h-.9zM382.5 64.34h.9v.9h-.9zM391.52 59.19h.9v.9h-.9zM385.21 93.69h.9v.9h-.9zM396 99.04h.9v.9h-.9zM375.81 73.62h.9v.9h-.9zM395.97 91.54h.9v.9h-.9zM411.39 80.88h.9v.9h-.9zM419.9 69.5h.9v.9h-.9zM420.14 64.19h.9v.9h-.9zM390.5 94.69h.9v.9h-.9zM399.89 89.59h.9v.9h-.9zM413.84 55.01h.9v.9h-.9zM378.98 92.6h.9v.9h-.9zM381.86 90.54h.9v.9h-.9zM418.34 57.06h.9v.9h-.9zM384.96 90.77h.9v.9h-.9zM406.76 84.75h.9v.9h-.9zM412.44 98.93h.9v.9h-.9zM391.69 60.34h.9v.9h-.9zM398.18 88.13h.9v.9h-.9zM419.75 60.94h.9v.9h-.9zM410.81 59.47h.9v.9h-.9zM383.93 95.71h.9v.9h-.9zM365.75 82.83h.9v.9h-.9zM373.6 87.4h.9v.9h-.9zM377.37 73.18h.9v.9h-.9zM376.21 88.97h.9v.9h-.9zM381.8 69.2h.9v.9h-.9zM378.48 69.11h.9v.9h-.9zM398.11 96.56h.9v.9h-.9zM384.52 95.08h.9v.9h-.9zM400.64 114.86h.9v.9h-.9zM419.66 69.86h.9v.9h-.9zM418.74 75.29h.9v.9h-.9zM385.91 65.23h.9v.9h-.9zM414.86 75.6h.9v.9h-.9zM410.9 52.77h.9v.9h-.9zM412.04 58.69h.9v.9h-.9zM401.11 56.73h.9v.9h-.9zM394.82 91.53h.9v.9h-.9zM416.86 79.53h.9v.9h-.9zM404.93 67.21h.9v.9h-.9zM389.84 99.01h.9v.9h-.9zM402.35 55.25h.9v.9h-.9zM408.98 84.31h.9v.9h-.9zM382.45 96.6h.9v.9h-.9zM417.55 66.15h.9v.9h-.9zM406.26 49.61h.9v.9h-.9zM374.65 78.44h.9v.9h-.9zM407.1 84.69h.9v.9h-.9zM396 76.61h.9v.9h-.9zM402.68 88.16h.9v.9h-.9zM411.68 52.32h.9v.9h-.9zM394.11 59.35h.9v.9h-.9zM376.82 72.22h.9v.9h-.9zM412.09 65.32h.9v.9h-.9zM411.34 57h.9v.9h-.9zM375.55 77.17h.9v.9h-.9zM414.55 57.51h.9v.9h-.9zM398.51 89.77h.9v.9h-.9zM395.36 88.04h.9v.9h-.9zM368.66 87.49h.9v.9h-.9zM374.23 79.4h.9v.9h-.9zM414.34 61.85h.9v.9h-.9zM368.49 77.19h.9v.9h-.9zM421.17 73.1h.9v.9h-.9zM400.12 62.76h.9v.9h-.9zM381.03 92.57h.9v.9h-.9zM385.87 87h.9v.9h-.9zM389.4 89.8h.9v.9h-.9zM415.69 63.8h.9v.9h-.9zM399.66 91.69h.9v.9h-.9zM382.62 91.85h.9v.9h-.9zM390.46 93.11h.9v.9h-.9zM367.3 75.77h.9v.9h-.9zM418.41 69.52h.9v.9h-.9zM406.95 95.78h.9v.9h-.9zM380.69 95.91h.9v.9h-.9zM401.83 83.3h.9v.9h-.9zM387.66 93.18h.9v.9h-.9zM415.9 65.14h.9v.9h-.9zM396.22 90.78h.9v.9h-.9zM389.88 59.58h.9v.9h-.9zM398.02 82.12h.9v.9h-.9zM390.44 63.87h.9v.9h-.9zM384.03 94.5h.9v.9h-.9zM374.53 74.51h.9v.9h-.9zM382.62 67.57h.9v.9h-.9zM415.38 77.74h.9v.9h-.9zM395.99 56.52h.9v.9h-.9zM390.64 94.02h.9v.9h-.9zM413.36 80.3h.9v.9h-.9zM410.81 58.17h.9v.9h-.9zM380.97 97.2h.9v.9h-.9zM372.39 94.65h.9v.9h-.9zM376.55 85.19h.9v.9h-.9zM381.96 94.11h.9v.9h-.9zM402.62 88.4h.9v.9h-.9zM404.28 87.12h.9v.9h-.9zM416.67 57.9h.9v.9h-.9zM412.76 79.56h.9v.9h-.9zM375.59 79.28h.9v.9h-.9zM393.02 59.5h.9v.9h-.9zM403.73 94.56h.9v.9h-.9zM379.35 90.82h.9v.9h-.9zM389.01 90.32h.9v.9h-.9zM384.44 65.67h.9v.9h-.9zM375.59 77.84h.9v.9h-.9zM418.81 61.29h.9v.9h-.9zM393.92 103.62h.9v.9h-.9zM410.11 83.91h.9v.9h-.9zM418.61 68.08h.9v.9h-.9zM391.13 93.81h.9v.9h-.9zM417.08 73.27h.9v.9h-.9zM386.36 93.45h.9v.9h-.9zM411.17 82.5h.9v.9h-.9zM412.51 80.01h.9v.9h-.9zM380.12 90.5h.9v.9h-.9zM416.65 64.47h.9v.9h-.9zM416.1 77.87h.9v.9h-.9zM416.63 51.57h.9v.9h-.9zM415.68 75.03h.9v.9h-.9zM416.62 73.23h.9v.9h-.9zM414.64 54.81h.9v.9h-.9zM398.09 90.49h.9v.9h-.9zM372.4 88.73h.9v.9h-.9zM382.43 94.81h.9v.9h-.9zM372.92 72.19h.9v.9h-.9zM389.78 95.38h.9v.9h-.9zM415.61 75.32h.9v.9h-.9zM381.29 64.88h.9v.9h-.9zM410.3 80.76h.9v.9h-.9zM399.2 90.29h.9v.9h-.9zM401.83 97.97h.9v.9h-.9zM403.03 103.99h.9v.9h-.9zM376.81 92.04h.9v.9h-.9zM388.51 93.64h.9v.9h-.9zM397.52 105.06h.9v.9h-.9zM385.32 63.22h.9v.9h-.9zM393.47 84.28h.9v.9h-.9zM389.12 94.94h.9v.9h-.9zM372.71 86.93h.9v.9h-.9zM374.79 74.15h.9v.9h-.9zM410.28 55.51h.9v.9h-.9zM413.16 61.44h.9v.9h-.9zM401.01 92.27h.9v.9h-.9zM413.68 72.38h.9v.9h-.9zM413.87 60.7h.9v.9h-.9zM419.77 67.36h.9v.9h-.9zM396.44 91.02h.9v.9h-.9zM393.72 91.7h.9v.9h-.9zM408.89 58.11h.9v.9h-.9zM379.39 71.57h.9v.9h-.9zM385.85 101.79h.9v.9h-.9zM417.61 76.49h.9v.9h-.9zM390.62 61.44h.9v.9h-.9zM377.41 72.21h.9v.9h-.9zM414.06 76.69h.9v.9h-.9zM389.83 94.87h.9v.9h-.9zM395.27 92.96h.9v.9h-.9zM413.26 60.86h.9v.9h-.9zM388.51 94.79h.9v.9h-.9zM393.76 87.33h.9v.9h-.9zM388.24 83.85h.9v.9h-.9zM372.05 82.95h.9v.9h-.9zM396.94 94.62h.9v.9h-.9zM380.01 70.76h.9v.9h-.9zM396.29 92.16h.9v.9h-.9zM390.55 95.28h.9v.9h-.9zM411.18 81.59h.9v.9h-.9zM378.99 71.68h.9v.9h-.9zM416.22 76.51h.9v.9h-.9zM394.16 59.61h.9v.9h-.9zM412.62 80.88h.9v.9h-.9zM385.92 61.61h.9v.9h-.9zM399.54 99.06h.9v.9h-.9zM385.66 100.59h.9v.9h-.9zM378.83 91.55h.9v.9h-.9zM418.89 65.64h.9v.9h-.9zM411.05 57.75h.9v.9h-.9zM381.35 68.08h.9v.9h-.9zM416.63 68.05h.9v.9h-.9zM394.62 95.29h.9v.9h-.9zM403.01 56.89h.9v.9h-.9zM415.35 74.95h.9v.9h-.9zM374.79 84.48h.9v.9h-.9zM370.95 81.11h.9v.9h-.9zM405.79 55.19h.9v.9h-.9zM376.33 70.36h.9v.9h-.9zM419.93 71.14h.9v.9h-.9zM403.1 96.95h.9v.9h-.9zM381.17 95.58h.9v.9h-.9zM400.27 96.79h.9v.9h-.9zM407.63 83.47h.9v.9h-.9zM412.41 57.46h.9v.9h-.9zM419.01 64.02h.9v.9h-.9zM394.88 56.11h.9v.9h-.9zM408.76 84.61h.9v.9h-.9zM399.78 55.28h.9v.9h-.9zM370.91 85.13h.9v.9h-.9zM374.99 72.23h.9v.9h-.9zM398.92 91.49h.9v.9h-.9zM408.79 90.97h.9v.9h-.9zM379.53 88.64h.9v.9h-.9zM387.34 63.25h.9v.9h-.9zM407.04 56.11h.9v.9h-.9zM398.9 91.01h.9v.9h-.9zM389.92 95.6h.9v.9h-.9zM421.76 64.88h.9v.9h-.9zM388.87 62.43h.9v.9h-.9zM402.47 57.06h.9v.9h-.9zM402.53 90.4h.9v.9h-.9zM408.41 83.84h.9v.9h-.9zM391.97 98.28h.9v.9h-.9zM396.91 93.11h.9v.9h-.9zM385.5 97.33h.9v.9h-.9zM403.65 93.89h.9v.9h-.9zM389.15 88.67h.9v.9h-.9zM381.69 63.21h.9v.9h-.9zM375.52 84.13h.9v.9h-.9zM374.95 74.48h.9v.9h-.9zM376.37 74.02h.9v.9h-.9zM416.11 73.03h.9v.9h-.9zM400.06 90.24h.9v.9h-.9zM405.18 54.37h.9v.9h-.9zM395.89 57.55h.9v.9h-.9zM415.23 77.94h.9v.9h-.9zM414.8 52.27h.9v.9h-.9zM405.37 53.77h.9v.9h-.9zM385.14 94.49h.9v.9h-.9zM404.54 87.06h.9v.9h-.9zM389.64 62.34h.9v.9h-.9zM385.37 62.38h.9v.9h-.9zM372.53 89.97h.9v.9h-.9zM404.82 86.89h.9v.9h-.9zM396.44 83.6h.9v.9h-.9zM388.45 100.22h.9v.9h-.9zM416.19 64.24h.9v.9h-.9zM378.37 72.27h.9v.9h-.9zM415.43 48.82h.9v.9h-.9zM390.08 60.19h.9v.9h-.9zM382.7 99.95h.9v.9h-.9zM374.65 86.63h.9v.9h-.9zM375.32 90.26h.9v.9h-.9zM414.1 76.8h.9v.9h-.9zM412.25 81.56h.9v.9h-.9zM413.54 81.01h.9v.9h-.9zM374.9 75.73h.9v.9h-.9zM396.21 53.89h.9v.9h-.9zM408.4 53.38h.9v.9h-.9zM377.21 74.21h.9v.9h-.9zM415.18 65.3h.9v.9h-.9zM400.51 96.29h.9v.9h-.9zM376.29 73.24h.9v.9h-.9zM406.07 102.15h.9v.9h-.9zM394.33 55.43h.9v.9h-.9zM398.41 56.35h.9v.9h-.9zM380.34 68.99h.9v.9h-.9zM408.88 100.79h.9v.9h-.9zM393.77 97.22h.9v.9h-.9zM392.82 92.32h.9v.9h-.9zM397.13 92.15h.9v.9h-.9zM378.06 100.06h.9v.9h-.9zM410.34 85.8h.9v.9h-.9zM400.11 97.45h.9v.9h-.9zM382.49 89.43h.9v.9h-.9zM379.59 89.25h.9v.9h-.9zM415.92 72.08h.9v.9h-.9zM388.23 94.24h.9v.9h-.9zM416.34 72.63h.9v.9h-.9zM373.26 81.26h.9v.9h-.9zM411.36 79.6h.9v.9h-.9zM418.51 69.32h.9v.9h-.9zM384.89 92.47h.9v.9h-.9zM382.07 51.56h.9v.9h-.9zM405.59 99.87h.9v.9h-.9zM375.82 86.54h.9v.9h-.9zM379.49 71.85h.9v.9h-.9zM410.47 57h.9v.9h-.9zM392.87 91.38h.9v.9h-.9zM395.86 94.66h.9v.9h-.9zM392.8 95.49h.9v.9h-.9zM394.54 58.98h.9v.9h-.9zM415.78 63.42h.9v.9h-.9zM394.46 92.36h.9v.9h-.9zM412.61 55.44h.9v.9h-.9zM375.23 84.16h.9v.9h-.9zM370.79 86.81h.9v.9h-.9zM373.95 83.73h.9v.9h-.9zM376.63 84.2h.9v.9h-.9zM418.6 64.67h.9v.9h-.9zM401.68 76.07h.9v.9h-.9zM376.99 72.56h.9v.9h-.9zM418.98 72h.9v.9h-.9zM379.19 70.58h.9v.9h-.9zM407.86 92.21h.9v.9h-.9zM385.58 93.75h.9v.9h-.9zM386.06 93.74h.9v.9h-.9zM405.01 86.37h.9v.9h-.9zM408.13 56.44h.9v.9h-.9zM411.6 79.98h.9v.9h-.9zM398.18 57.87h.9v.9h-.9zM412.03 83.42h.9v.9h-.9zM406.77 68.1h.9v.9h-.9zM411.58 80.12h.9v.9h-.9zM408.74 55.2h.9v.9h-.9zM417.53 67.6h.9v.9h-.9zM374.6 81.26h.9v.9h-.9zM408.71 82.76h.9v.9h-.9zM405.56 92.36h.9v.9h-.9zM382.71 67.9h.9v.9h-.9zM378.17 88.66h.9v.9h-.9zM394.94 93.49h.9v.9h-.9zM380.62 70.5h.9v.9h-.9zM402.23 88.25h.9v.9h-.9zM404.97 90.02h.9v.9h-.9zM403.16 56.05h.9v.9h-.9zM376.2 76.58h.9v.9h-.9zM410.78 57.88h.9v.9h-.9zM378.77 88.62h.9v.9h-.9zM416.48 68.71h.9v.9h-.9zM421.24 71.88h.9v.9h-.9zM388.61 93.44h.9v.9h-.9zM392.73 60.62h.9v.9h-.9zM396.6 68.02h.9v.9h-.9zM400.85 52.74h.9v.9h-.9zM419.05 69.36h.9v.9h-.9zM410.38 67.31h.9v.9h-.9zM389.09 93.45h.9v.9h-.9zM413.43 53.53h.9v.9h-.9zM420.95 62.57h.9v.9h-.9zM375.29 78.76h.9v.9h-.9zM414.59 58.38h.9v.9h-.9zM368.42 81.83h.9v.9h-.9zM377.32 73.2h.9v.9h-.9zM386.48 75.31h.9v.9h-.9zM390.94 99.89h.9v.9h-.9zM381.35 97.02h.9v.9h-.9zM384.65 55.52h.9v.9h-.9zM396.17 59.16h.9v.9h-.9zM385.71 96.75h.9v.9h-.9zM388.34 62.73h.9v.9h-.9zM403.78 90.15h.9v.9h-.9zM407.41 55.65h.9v.9h-.9zM395.83 93.72h.9v.9h-.9zM377.8 93.15h.9v.9h-.9zM394.23 57.95h.9v.9h-.9zM412.49 82.06h.9v.9h-.9zM409.72 58.2h.9v.9h-.9zM393.03 59.07h.9v.9h-.9zM371.32 88.68h.9v.9h-.9zM412.3 80.13h.9v.9h-.9zM380 91.78h.9v.9h-.9zM392.44 96.07h.9v.9h-.9zM395.29 93.81h.9v.9h-.9zM383.01 67.31h.9v.9h-.9zM393.41 93.16h.9v.9h-.9z" fill="#111" opacity=".9"/><path d="M395.76 89.8h.9v.9h-.9zM374.4 78.53h.9v.9h-.9zM379.1 110.85h.9v.9h-.9zM380.83 100.57h.9v.9h-.9zM411.58 79.45h.9v.9h-.9zM391.36 60.05h.9v.9h-.9zM382.04 62.4h.9v.9h-.9zM415.35 50.24h.9v.9h-.9zM412.2 81.78h.9v.9h-.9zM397.76 79.93h.9v.9h-.9zM409.11 90.18h.9v.9h-.9zM407.43 92.64h.9v.9h-.9zM410.01 94.98h.9v.9h-.9zM381.29 69.55h.9v.9h-.9zM415.82 67.34h.9v.9h-.9zM400.86 57.03h.9v.9h-.9zM373.81 86.1h.9v.9h-.9zM415.43 65.45h.9v.9h-.9zM373.87 87.32h.9v.9h-.9zM411.07 51.05h.9v.9h-.9zM409.14 55.42h.9v.9h-.9zM393.79 95.25h.9v.9h-.9zM402.82 57.23h.9v.9h-.9zM372.43 91.56h.9v.9h-.9zM419.76 77.99h.9v.9h-.9zM397.53 74.33h.9v.9h-.9zM412.97 60.16h.9v.9h-.9zM385.72 92.42h.9v.9h-.9zM380.99 94.22h.9v.9h-.9zM397.86 91.29h.9v.9h-.9zM406.01 98.03h.9v.9h-.9zM395.3 106.04h.9v.9h-.9zM385.57 94.5h.9v.9h-.9zM418.26 73.61h.9v.9h-.9zM416.77 64.41h.9v.9h-.9zM397.54 103.46h.9v.9h-.9zM386.85 93.06h.9v.9h-.9zM406.5 84.01h.9v.9h-.9zM388.27 62.01h.9v.9h-.9zM370.35 73.46h.9v.9h-.9zM413.12 52.36h.9v.9h-.9zM415.6 75.07h.9v.9h-.9zM373.59 73.97h.9v.9h-.9zM417.78 69.46h.9v.9h-.9zM372.68 88.26h.9v.9h-.9zM381.29 94.08h.9v.9h-.9zM413.53 81.74h.9v.9h-.9zM396.18 95.71h.9v.9h-.9zM404.14 88.39h.9v.9h-.9zM387.94 93.49h.9v.9h-.9zM381.86 91.64h.9v.9h-.9zM384.06 93.26h.9v.9h-.9zM376.57 89.67h.9v.9h-.9zM390.82 96.41h.9v.9h-.9zM412.06 82.1h.9v.9h-.9zM376.09 81.77h.9v.9h-.9zM412.02 58.58h.9v.9h-.9zM401.18 57.42h.9v.9h-.9zM397.52 84.87h.9v.9h-.9zM382.6 92.95h.9v.9h-.9zM374.14 83.91h.9v.9h-.9zM405.37 96.26h.9v.9h-.9zM403.15 51.28h.9v.9h-.9zM373.78 81.88h.9v.9h-.9zM416.19 70.4h.9v.9h-.9zM379.26 69.38h.9v.9h-.9zM397.75 90.91h.9v.9h-.9zM420.43 61.55h.9v.9h-.9zM374.33 49.66h.9v.9h-.9zM394.26 96.29h.9v.9h-.9zM371.25 75.34h.9v.9h-.9zM397.88 93.87h.9v.9h-.9zM414.55 77.97h.9v.9h-.9zM379.37 69.91h.9v.9h-.9zM374.5 80.83h.9v.9h-.9zM419.96 57.96h.9v.9h-.9zM382.08 92.64h.9v.9h-.9zM383.01 88.54h.9v.9h-.9zM374.74 87.86h.9v.9h-.9zM412.2 81.5h.9v.9h-.9zM406.03 95.05h.9v.9h-.9zM379.16 72h.9v.9h-.9zM396.02 95.65h.9v.9h-.9zM396.26 89.4h.9v.9h-.9zM415.34 63.35h.9v.9h-.9zM410.85 53.49h.9v.9h-.9zM380.62 92.95h.9v.9h-.9zM393.77 65.63h.9v.9h-.9zM374.14 77.09h.9v.9h-.9zM411.45 61.86h.9v.9h-.9zM379.67 67.5h.9v.9h-.9zM398.34 92.93h.9v.9h-.9zM364.74 83.89h.9v.9h-.9zM389.29 96.9h.9v.9h-.9zM381.01 51.78h.9v.9h-.9zM375.27 79.22h.9v.9h-.9zM385.2 64.84h.9v.9h-.9zM401.02 88.95h.9v.9h-.9zM379.25 90.53h.9v.9h-.9zM417.49 69.2h.9v.9h-.9zM406.04 110.57h.9v.9h-.9zM418.11 70.65h.9v.9h-.9zM398.15 98.71h.9v.9h-.9zM376.32 73.58h.9v.9h-.9zM388.71 65.04h.9v.9h-.9zM372.21 98.18h.9v.9h-.9zM414.85 79.81h.9v.9h-.9zM374.51 78.81h.9v.9h-.9zM372.07 81.23h.9v.9h-.9zM384.91 90.47h.9v.9h-.9zM396.46 92.31h.9v.9h-.9zM410.11 99.75h.9v.9h-.9zM415.21 76h.9v.9h-.9zM383.48 64.41h.9v.9h-.9zM376.78 86.65h.9v.9h-.9zM388.21 93.38h.9v.9h-.9zM381.3 64.58h.9v.9h-.9zM373.26 87.84h.9v.9h-.9zM377.46 73.67h.9v.9h-.9zM396.8 59.7h.9v.9h-.9zM415.01 63.59h.9v.9h-.9zM407.63 85.03h.9v.9h-.9zM379.82 66.42h.9v.9h-.9zM379.24 89.68h.9v.9h-.9zM408.88 65.81h.9v.9h-.9zM386.04 64.1h.9v.9h-.9zM418.29 73.53h.9v.9h-.9zM369.33 82.75h.9v.9h-.9zM375.07 77.04h.9v.9h-.9zM406.16 84.56h.9v.9h-.9zM410.67 81.37h.9v.9h-.9zM414.18 61.8h.9v.9h-.9zM396.91 50.74h.9v.9h-.9zM380.23 67.95h.9v.9h-.9zM417.24 60.64h.9v.9h-.9zM387.98 93.85h.9v.9h-.9zM397.06 93.42h.9v.9h-.9zM394.12 58.05h.9v.9h-.9zM379.56 95.74h.9v.9h-.9zM393.47 94.04h.9v.9h-.9zM401.9 97.01h.9v.9h-.9zM412.68 81.52h.9v.9h-.9zM382.12 66.86h.9v.9h-.9zM407.51 83.18h.9v.9h-.9zM406.32 81.2h.9v.9h-.9zM390.56 83.41h.9v.9h-.9zM387.55 63.88h.9v.9h-.9zM391.04 94.15h.9v.9h-.9zM403.39 56.87h.9v.9h-.9zM374.54 73.1h.9v.9h-.9zM414.79 57.79h.9v.9h-.9zM416.36 68.91h.9v.9h-.9zM392.64 102.43h.9v.9h-.9zM411.53 80.29h.9v.9h-.9zM396.94 87.97h.9v.9h-.9zM381.72 67.02h.9v.9h-.9zM388.96 94.9h.9v.9h-.9zM400.02 54.68h.9v.9h-.9zM401.74 91.56h.9v.9h-.9zM400.84 104.57h.9v.9h-.9zM369.72 86.5h.9v.9h-.9zM386.47 92.77h.9v.9h-.9zM386.19 102.97h.9v.9h-.9zM406.31 54.65h.9v.9h-.9zM402.18 79.07h.9v.9h-.9zM375.12 96.34h.9v.9h-.9zM393.23 98.33h.9v.9h-.9zM374.53 84.01h.9v.9h-.9zM415.32 64.35h.9v.9h-.9zM383.42 86.2h.9v.9h-.9zM397.75 57.35h.9v.9h-.9zM388.74 95.64h.9v.9h-.9zM420.03 72.97h.9v.9h-.9zM420.53 70.1h.9v.9h-.9zM397.64 97.63h.9v.9h-.9zM417.37 54.91h.9v.9h-.9zM389.19 62.3h.9v.9h-.9zM383.21 84.13h.9v.9h-.9zM378.52 96.01h.9v.9h-.9zM386.21 64.48h.9v.9h-.9zM378.88 91.23h.9v.9h-.9zM405.88 85.81h.9v.9h-.9zM411.04 82.98h.9v.9h-.9zM403.73 55.78h.9v.9h-.9zM416.68 68.84h.9v.9h-.9zM375 79.87h.9v.9h-.9zM378.52 89.79h.9v.9h-.9zM396.53 92.87h.9v.9h-.9zM384.05 63.64h.9v.9h-.9zM408.78 50.88h.9v.9h-.9zM381.96 95.27h.9v.9h-.9zM410.04 56.64h.9v.9h-.9zM375.33 88.45h.9v.9h-.9zM376.99 74.18h.9v.9h-.9zM397.95 56.8h.9v.9h-.9zM374.06 99.89h.9v.9h-.9zM414.17 60.94h.9v.9h-.9zM383.25 95.68h.9v.9h-.9zM412.61 55.76h.9v.9h-.9zM396.03 103.61h.9v.9h-.9zM374.5 80.78h.9v.9h-.9zM410.6 55.45h.9v.9h-.9zM381.45 95.77h.9v.9h-.9zM368.18 85.83h.9v.9h-.9zM378.64 66.43h.9v.9h-.9zM417.12 71.16h.9v.9h-.9zM411.36 80.08h.9v.9h-.9zM416.24 73.2h.9v.9h-.9zM403.28 97.36h.9v.9h-.9zM395.79 67.86h.9v.9h-.9zM397.7 55.71h.9v.9h-.9zM378.92 95.37h.9v.9h-.9zM374.72 77.79h.9v.9h-.9zM402.59 53.73h.9v.9h-.9zM417.81 98.52h.9v.9h-.9zM380.39 70.4h.9v.9h-.9zM397.19 95h.9v.9h-.9zM402.92 51.4h.9v.9h-.9zM412.76 60.75h.9v.9h-.9zM409.61 99.17h.9v.9h-.9zM397.07 83.82h.9v.9h-.9zM379.99 97.27h.9v.9h-.9zM367.51 89.16h.9v.9h-.9zM403.04 56.48h.9v.9h-.9zM413.73 76.9h.9v.9h-.9zM414.91 60.99h.9v.9h-.9zM405.2 101.19h.9v.9h-.9zM388.39 84.67h.9v.9h-.9zM396.91 91.15h.9v.9h-.9zM419.03 68.64h.9v.9h-.9zM376.33 69.53h.9v.9h-.9zM377.45 71.23h.9v.9h-.9zM415.49 58.13h.9v.9h-.9zM401.9 90.44h.9v.9h-.9zM379.69 91.54h.9v.9h-.9zM415.53 75.17h.9v.9h-.9zM382.64 66.89h.9v.9h-.9zM415.01 77.56h.9v.9h-.9zM413.83 61.45h.9v.9h-.9zM388.55 99.32h.9v.9h-.9zM408.8 54.58h.9v.9h-.9zM397.24 99.56h.9v.9h-.9zM391.23 92.51h.9v.9h-.9zM417.34 65.84h.9v.9h-.9zM408.07 53.21h.9v.9h-.9zM386.17 93.03h.9v.9h-.9zM403.23 82.09h.9v.9h-.9zM397.16 91.13h.9v.9h-.9zM416.49 77.64h.9v.9h-.9zM365.27 58.11h.9v.9h-.9zM375.02 79.39h.9v.9h-.9zM399.5 54.84h.9v.9h-.9zM398.05 94.92h.9v.9h-.9zM377.53 75.08h.9v.9h-.9zM398.49 55.38h.9v.9h-.9zM414.47 63h.9v.9h-.9zM377.3 88.4h.9v.9h-.9zM418.31 60.67h.9v.9h-.9zM396.38 93.55h.9v.9h-.9zM405.27 52.44h.9v.9h-.9zM377.4 94.23h.9v.9h-.9zM388.14 91.88h.9v.9h-.9zM372.56 79.61h.9v.9h-.9zM402.24 93.16h.9v.9h-.9zM412.55 82.94h.9v.9h-.9zM411.81 59.31h.9v.9h-.9zM416.49 75.99h.9v.9h-.9zM402.05 87.82h.9v.9h-.9zM401.03 93.91h.9v.9h-.9zM393.96 89.21h.9v.9h-.9zM371.3 85.17h.9v.9h-.9zM398.89 58.07h.9v.9h-.9zM394.31 99.66h.9v.9h-.9zM376.72 71.5h.9v.9h-.9zM418.22 68.36h.9v.9h-.9zM383.49 92.38h.9v.9h-.9zM376.4 71.52h.9v.9h-.9zM377.3 78.7h.9v.9h-.9zM416.44 70.98h.9v.9h-.9zM379.2 64.85h.9v.9h-.9z" fill="#444" opacity=".8"/><g transform="translate(396 75) rotate(-36)"><path d="M21.5 0L21.28 2.88L20.62 5.07L19.53 6.99L18.02 8.67L16.11 10.11L13.81 11.31L11.13 12.26L8.08 12.95L4.58 13.36L0 13.5L-4.58 13.36L-8.08 12.95L-11.13 12.26L-13.81 11.31L-16.11 10.11L-18.02 8.67L-19.53 6.99L-20.62 5.07L-21.28 2.88L-21.5 0L-21.28 -2.88L-20.62 -5.07L-19.53 -6.99L-18.02 -8.67L-16.11 -10.11L-13.81 -11.31L-11.13 -12.26L-8.08 -12.95L-4.58 -13.36L-0 -13.5L4.58 -13.36L8.08 -12.95L11.13 -12.26L13.81 -11.31L16.11 -10.11L18.02 -8.67L19.53 -6.99L20.62 -5.07L21.28 -2.88Z" fill="#f6f6f6" stroke="#111" stroke-width="1.2"/><path d="M17.02 0L16.86 2.02L16.38 3.56L15.58 4.9L14.47 6.08L13.07 7.09L11.38 7.93L9.43 8.6L7.19 9.08L4.62 9.37L1.27 9.47L-2.09 9.37L-4.65 9.08L-6.89 8.6L-8.85 7.93L-10.53 7.09L-11.94 6.08L-13.04 4.9L-13.84 3.56L-14.32 2.02L-14.49 0L-14.32 -2.02L-13.84 -3.56L-13.04 -4.9L-11.94 -6.08L-10.53 -7.09L-8.85 -7.93L-6.89 -8.6L-4.65 -9.08L-2.09 -9.37L1.27 -9.47L4.62 -9.37L7.19 -9.08L9.43 -8.6L11.38 -7.93L13.07 -7.09L14.47 -6.08L15.58 -4.9L16.38 -3.56L16.86 -2.02Z" fill="#c4c4c4"/><path d="M13.43 0L13.31 1.33L12.97 2.34L12.41 3.23L11.62 4L10.63 4.67L9.44 5.22L8.05 5.66L6.47 5.98L4.66 6.17L2.28 6.23L-0.09 6.17L-1.9 5.98L-3.49 5.66L-4.87 5.22L-6.06 4.67L-7.05 4L-7.84 3.23L-8.4 2.34L-8.74 1.33L-8.86 0L-8.74 -1.33L-8.4 -2.34L-7.84 -3.23L-7.05 -4L-6.06 -4.67L-4.87 -5.22L-3.49 -5.66L-1.9 -5.98L-0.09 -6.17L2.28 -6.23L4.66 -6.17L6.47 -5.98L8.05 -5.66L9.44 -5.22L10.63 -4.67L11.62 -4L12.41 -3.23L12.97 -2.34L13.31 -1.33Z" fill="#8a8a8a"/><path d="M19.02 0L18.83 2.4L18.27 4.23L17.34 5.83L16.05 7.23L14.42 8.44L12.46 9.44L10.19 10.23L7.59 10.8L4.61 11.15L0.7 11.26L-3.2 11.15L-6.18 10.8L-8.78 10.23L-11.06 9.44L-13.02 8.44L-14.64 7.23L-15.93 5.83L-16.86 4.23L-17.42 2.4L-17.61 0L-17.42 -2.4L-16.86 -4.23L-15.93 -5.83L-14.64 -7.23L-13.02 -8.44L-11.06 -9.44L-8.78 -10.23L-6.18 -10.8L-3.2 -11.15L0.7 -11.26L4.61 -11.15L7.59 -10.8L10.19 -10.23L12.46 -9.44L14.42 -8.44L16.05 -7.23L17.34 -5.83L18.27 -4.23L18.83 -2.4ZM17.02 0L16.86 2.02L16.38 3.56L15.58 4.9L14.47 6.08L13.07 7.09L11.38 7.93L9.43 8.6L7.19 9.08L4.62 9.37L1.27 9.47L-2.09 9.37L-4.65 9.08L-6.89 8.6L-8.85 7.93L-10.53 7.09L-11.94 6.08L-13.04 4.9L-13.84 3.56L-14.32 2.02L-14.49 0L-14.32 -2.02L-13.84 -3.56L-13.04 -4.9L-11.94 -6.08L-10.53 -7.09L-8.85 -7.93L-6.89 -8.6L-4.65 -9.08L-2.09 -9.37L1.27 -9.47L4.62 -9.37L7.19 -9.08L9.43 -8.6L11.38 -7.93L13.07 -7.09L14.47 -6.08L15.58 -4.9L16.38 -3.56L16.86 -2.02ZM15.18 0L15.04 1.66L14.63 2.93L13.95 4.04L13.01 5.01L11.82 5.85L10.39 6.54L8.72 7.09L6.82 7.49L4.64 7.73L1.79 7.81L-1.06 7.73L-3.24 7.49L-5.14 7.09L-6.81 6.54L-8.24 5.85L-9.43 5.01L-10.37 4.04L-11.05 2.93L-11.46 1.66L-11.6 0L-11.46 -1.66L-11.05 -2.93L-10.37 -4.04L-9.43 -5.01L-8.24 -5.85L-6.81 -6.54L-5.14 -7.09L-3.24 -7.49L-1.06 -7.73L1.79 -7.81L4.64 -7.73L6.82 -7.49L8.72 -7.09L10.39 -6.54L11.82 -5.85L13.01 -5.01L13.95 -4.04L14.63 -2.93L15.04 -1.66ZM13.43 0L13.31 1.33L12.97 2.34L12.41 3.23L11.62 4L10.63 4.67L9.44 5.22L8.05 5.66L6.47 5.98L4.66 6.17L2.28 6.23L-0.09 6.17L-1.9 5.98L-3.49 5.66L-4.87 5.22L-6.06 4.67L-7.05 4L-7.84 3.23L-8.4 2.34L-8.74 1.33L-8.86 0L-8.74 -1.33L-8.4 -2.34L-7.84 -3.23L-7.05 -4L-6.06 -4.67L-4.87 -5.22L-3.49 -5.66L-1.9 -5.98L-0.09 -6.17L2.28 -6.23L4.66 -6.17L6.47 -5.98L8.05 -5.66L9.44 -5.22L10.63 -4.67L11.62 -4L12.41 -3.23L12.97 -2.34L13.31 -1.33ZM11.74 0L11.65 1L11.37 1.77L10.92 2.44L10.29 3.03L9.49 3.53L8.53 3.95L7.41 4.28L6.14 4.52L4.68 4.66L2.76 4.71L0.85 4.66L-0.61 4.52L-1.89 4.28L-3 3.95L-3.96 3.53L-4.76 3.03L-5.39 2.44L-5.85 1.77L-6.12 1L-6.22 0L-6.12 -1L-5.85 -1.77L-5.39 -2.44L-4.76 -3.03L-3.96 -3.53L-3 -3.95L-1.89 -4.28L-0.61 -4.52L0.85 -4.66L2.76 -4.71L4.68 -4.66L6.14 -4.52L7.41 -4.28L8.53 -3.95L9.49 -3.53L10.29 -3.03L10.92 -2.44L11.37 -1.77L11.65 -1Z" fill="none" stroke="#262626" stroke-width=".8"/><path d="M9.68 0L9.61 0.69L9.41 1.22L9.08 1.68L8.63 2.08L8.06 2.43L7.37 2.72L6.57 2.94L5.65 3.11L4.6 3.21L3.23 3.24L1.85 3.21L0.8 3.11L-0.12 2.94L-0.92 2.72L-1.61 2.43L-2.18 2.08L-2.63 1.68L-2.96 1.22L-3.16 0.69L-3.23 0L-3.16 -0.69L-2.96 -1.22L-2.63 -1.68L-2.18 -2.08L-1.61 -2.43L-0.92 -2.72L-0.12 -2.94L0.8 -3.11L1.85 -3.21L3.22 -3.24L4.6 -3.21L5.65 -3.11L6.57 -2.94L7.37 -2.72L8.06 -2.43L8.63 -2.08L9.08 -1.68L9.41 -1.22L9.61 -0.69Z" fill="#2e2e2e"/><ellipse cx="3.23" cy="0" rx="4.3" ry="0.6" fill="#eee"/></g>
</svg>
<path d="M388.8 46V117M352.8 75.3H423.3" stroke="#3030a8" stroke-width="1.3" fill="none"/>
<rect x="352.8" y="46" width="70.5" height="71" fill="none" stroke="#111" stroke-width="1.5"/>
<path d="M352.2 115.5h-2.2M354.3 117.6v2.2M352.2 114h-1.6M355.8 117.6v1.6M352.2 112.5h-1.6M357.3 117.6v1.6M352.2 111h-2.2M358.8 117.6v2.2M352.2 109.5h-1.6M360.3 117.6v1.6M352.2 108h-1.6M361.8 117.6v1.6M352.2 106.5h-1.6M363.3 117.6v1.6M352.2 105h-2.2M364.8 117.6v2.2M352.2 103.5h-1.6M366.3 117.6v1.6M352.2 100.19h-1.6M369.61 117.6v1.6M352.2 97.5h-1.6M372.3 117.6v1.6M352.2 95.4h-1.6M374.4 117.6v1.6M352.2 93.69h-1.6M376.11 117.6v1.6M352.2 92.25h-1.6M377.55 117.6v1.6M352.2 90.99h-1.6M378.81 117.6v1.6M352.2 89.89h-1.6M379.91 117.6v1.6M352.2 88.9h-2.8M380.9 117.6v2.8M352.2 82.4h-1.6M387.4 117.6v1.6M352.2 78.59h-1.6M391.21 117.6v1.6M352.2 75.9h-1.6M393.9 117.6v1.6M352.2 73.8h-1.6M396 117.6v1.6M352.2 72.09h-1.6M397.71 117.6v1.6M352.2 70.65h-1.6M399.15 117.6v1.6M352.2 69.39h-1.6M400.41 117.6v1.6M352.2 68.29h-1.6M401.51 117.6v1.6M352.2 67.3h-2.8M402.5 117.6v2.8M352.2 60.8h-1.6M409 117.6v1.6M352.2 56.99h-1.6M412.81 117.6v1.6M352.2 54.3h-1.6M415.5 117.6v1.6M352.2 52.2h-1.6M417.6 117.6v1.6M352.2 50.49h-1.6M419.31 117.6v1.6M352.2 49.05h-1.6M420.75 117.6v1.6" stroke="#111" stroke-width="0.9" fill="none"/>
<path d="M352.5 46V117.3H423.3" stroke="#111" stroke-width="1" fill="none"/>
<svg x="432.3" y="46" width="70.5" height="71" viewBox="432.3 46 70.5 71" overflow="hidden">
<path d="M483.59 94.73h.9v.9h-.9zM455.56 92.56h.9v.9h-.9zM487.73 61.05h.9v.9h-.9zM457.8 91.98h.9v.9h-.9zM498.3 83.48h.9v.9h-.9zM463.79 73.78h.9v.9h-.9zM492.8 73.09h.9v.9h-.9zM468.77 88.72h.9v.9h-.9zM462.54 76.55h.9v.9h-.9zM492.83 76.16h.9v.9h-.9zM477.05 88.35h.9v.9h-.9zM461.17 74.84h.9v.9h-.9zM496.55 78.07h.9v.9h-.9zM462.24 94.78h.9v.9h-.9zM492.44 85.61h.9v.9h-.9zM485.48 73.06h.9v.9h-.9zM488.58 56.61h.9v.9h-.9zM455.35 93.26h.9v.9h-.9zM459.61 77.28h.9v.9h-.9zM452.77 103.48h.9v.9h-.9zM489.36 56.47h.9v.9h-.9zM461.92 92.85h.9v.9h-.9zM495.51 81.96h.9v.9h-.9zM491.75 77.99h.9v.9h-.9zM486.9 89.54h.9v.9h-.9zM484.4 67.69h.9v.9h-.9zM490.56 74.25h.9v.9h-.9zM493.66 75.07h.9v.9h-.9zM485.71 62.7h.9v.9h-.9zM457.09 77.33h.9v.9h-.9zM481.73 89.81h.9v.9h-.9zM482.98 63.18h.9v.9h-.9zM452.08 80.29h.9v.9h-.9zM454.5 99.69h.9v.9h-.9zM471.07 92.86h.9v.9h-.9zM459.92 93.7h.9v.9h-.9zM484.08 62.22h.9v.9h-.9zM468.45 95.47h.9v.9h-.9zM487.92 91.46h.9v.9h-.9zM455.81 91.01h.9v.9h-.9zM465.7 95.38h.9v.9h-.9zM454.58 89.69h.9v.9h-.9zM488.57 67.69h.9v.9h-.9zM496.76 72.68h.9v.9h-.9zM463.19 81.16h.9v.9h-.9zM495.98 81.43h.9v.9h-.9zM481.33 67.82h.9v.9h-.9zM480.97 66.09h.9v.9h-.9zM460.45 75.64h.9v.9h-.9zM485.84 82.53h.9v.9h-.9zM472.46 73.76h.9v.9h-.9zM471.04 71.83h.9v.9h-.9zM485.16 53.38h.9v.9h-.9zM466.45 80.28h.9v.9h-.9zM486.96 71.51h.9v.9h-.9zM486.32 66.87h.9v.9h-.9zM481.37 72.67h.9v.9h-.9zM479 91.55h.9v.9h-.9zM451.35 89.77h.9v.9h-.9zM475.99 76.88h.9v.9h-.9zM464.7 74.74h.9v.9h-.9zM491.35 72.77h.9v.9h-.9zM500.22 81.02h.9v.9h-.9zM479.16 72.89h.9v.9h-.9zM497.42 86.65h.9v.9h-.9zM466.36 95.62h.9v.9h-.9zM496.18 74.19h.9v.9h-.9zM468.23 96.03h.9v.9h-.9zM494.31 77.43h.9v.9h-.9zM479.37 72.06h.9v.9h-.9zM484.86 70.42h.9v.9h-.9zM492.19 70.19h.9v.9h-.9zM453.9 87.27h.9v.9h-.9zM494.13 70.11h.9v.9h-.9zM465.2 74.53h.9v.9h-.9zM453.8 88.79h.9v.9h-.9zM478.05 97.92h.9v.9h-.9zM462.59 93.64h.9v.9h-.9zM490.05 68.46h.9v.9h-.9zM470.31 70.66h.9v.9h-.9zM462.81 93.91h.9v.9h-.9zM465.18 75.24h.9v.9h-.9zM477.06 58.04h.9v.9h-.9zM466.76 72.94h.9v.9h-.9zM455.31 77.57h.9v.9h-.9zM459.63 94.35h.9v.9h-.9zM480.31 59.24h.9v.9h-.9zM483.62 53.18h.9v.9h-.9zM481.43 93.24h.9v.9h-.9zM494.02 86.57h.9v.9h-.9zM480.09 91.33h.9v.9h-.9zM465.23 95.3h.9v.9h-.9zM453.12 87.54h.9v.9h-.9zM476.24 66.97h.9v.9h-.9zM483.97 90.24h.9v.9h-.9zM452.26 87.55h.9v.9h-.9zM499.92 82.35h.9v.9h-.9zM489.2 72.33h.9v.9h-.9zM494.3 71.68h.9v.9h-.9zM491.93 88.56h.9v.9h-.9zM477.2 71.24h.9v.9h-.9zM482.79 93.61h.9v.9h-.9zM477.73 94.15h.9v.9h-.9zM453.08 86.27h.9v.9h-.9zM465.49 62.37h.9v.9h-.9zM482.31 69.88h.9v.9h-.9zM477.31 72.53h.9v.9h-.9zM487.3 87.44h.9v.9h-.9zM451.36 79.95h.9v.9h-.9zM480.97 73.08h.9v.9h-.9zM492.37 63.26h.9v.9h-.9zM476.78 72.24h.9v.9h-.9zM493.26 83.7h.9v.9h-.9zM468.98 94.5h.9v.9h-.9zM473.52 66.5h.9v.9h-.9zM462.55 93.78h.9v.9h-.9zM474.82 70.14h.9v.9h-.9zM487.24 60.02h.9v.9h-.9zM483.15 58.76h.9v.9h-.9zM469.82 73.82h.9v.9h-.9zM472.41 81.02h.9v.9h-.9zM453.35 77.31h.9v.9h-.9zM482.36 71.63h.9v.9h-.9zM456.81 79.36h.9v.9h-.9zM457.73 78.91h.9v.9h-.9zM490.42 87.67h.9v.9h-.9zM460.39 93.26h.9v.9h-.9zM456.44 93.83h.9v.9h-.9zM484.88 90.33h.9v.9h-.9zM464.72 94.42h.9v.9h-.9zM494.88 75.62h.9v.9h-.9zM462.73 95.89h.9v.9h-.9zM458.6 74.12h.9v.9h-.9zM494.08 56.63h.9v.9h-.9zM456.11 80.56h.9v.9h-.9zM485.09 61.4h.9v.9h-.9zM493.86 74.02h.9v.9h-.9zM479.87 63.42h.9v.9h-.9zM470.22 84.83h.9v.9h-.9zM453.67 81.31h.9v.9h-.9zM488.16 65.52h.9v.9h-.9zM463.57 74.66h.9v.9h-.9zM467.19 70.73h.9v.9h-.9zM459.45 77.94h.9v.9h-.9zM481.15 62.34h.9v.9h-.9zM485.81 68.4h.9v.9h-.9zM485.64 72.71h.9v.9h-.9zM500.06 85.27h.9v.9h-.9zM487.27 64h.9v.9h-.9zM480.14 50.85h.9v.9h-.9zM451.17 88.57h.9v.9h-.9zM438.43 100.23h.9v.9h-.9zM450.3 91.66h.9v.9h-.9zM476.32 72.51h.9v.9h-.9zM485.79 71.24h.9v.9h-.9zM481.48 68.72h.9v.9h-.9zM474.2 63.14h.9v.9h-.9zM494.08 86.46h.9v.9h-.9zM453.74 86.28h.9v.9h-.9zM488.33 58.29h.9v.9h-.9zM474.68 62.72h.9v.9h-.9zM496.1 77.76h.9v.9h-.9zM464.91 74.68h.9v.9h-.9zM456.99 93.53h.9v.9h-.9zM466.29 98.03h.9v.9h-.9zM472.46 93.94h.9v.9h-.9zM495.93 86.02h.9v.9h-.9zM459.47 76.59h.9v.9h-.9zM447.85 96.05h.9v.9h-.9zM476.58 92.21h.9v.9h-.9zM455.82 80.5h.9v.9h-.9zM483.25 69.17h.9v.9h-.9zM499.59 87.35h.9v.9h-.9zM452.11 91.6h.9v.9h-.9zM467.93 73.56h.9v.9h-.9zM494.93 73.37h.9v.9h-.9zM453.23 78.59h.9v.9h-.9zM452.78 87.54h.9v.9h-.9zM475 83.4h.9v.9h-.9zM459.87 76.89h.9v.9h-.9zM486.21 68.35h.9v.9h-.9zM485.04 61.64h.9v.9h-.9zM460.56 92.84h.9v.9h-.9zM482.87 71.35h.9v.9h-.9zM459.4 78.05h.9v.9h-.9zM485.44 69.1h.9v.9h-.9zM482.58 65.94h.9v.9h-.9zM456.69 77.51h.9v.9h-.9zM488.57 98.82h.9v.9h-.9zM498.2 78.04h.9v.9h-.9zM464.26 100.34h.9v.9h-.9zM471.67 94.02h.9v.9h-.9zM478.33 84.6h.9v.9h-.9zM481.65 65.15h.9v.9h-.9zM480.29 91.98h.9v.9h-.9zM497.46 83.57h.9v.9h-.9zM491.3 71.34h.9v.9h-.9zM465.65 93.75h.9v.9h-.9zM489.4 72h.9v.9h-.9zM468.14 73.76h.9v.9h-.9zM486.4 68.74h.9v.9h-.9zM479.88 92.08h.9v.9h-.9zM463.16 93.35h.9v.9h-.9zM481.48 98.78h.9v.9h-.9zM467.01 93.09h.9v.9h-.9zM458.02 91.91h.9v.9h-.9zM458.31 92.52h.9v.9h-.9zM484.74 68.07h.9v.9h-.9zM490.51 87.21h.9v.9h-.9zM474.5 100.18h.9v.9h-.9zM480.84 66.27h.9v.9h-.9zM486.86 79.01h.9v.9h-.9zM495.03 82.38h.9v.9h-.9zM490.96 64.01h.9v.9h-.9zM495.57 78.29h.9v.9h-.9zM498.97 74.45h.9v.9h-.9zM439.6 94.63h.9v.9h-.9zM489.78 62.01h.9v.9h-.9zM451.3 89.88h.9v.9h-.9zM485.55 71.88h.9v.9h-.9zM484.68 91.31h.9v.9h-.9zM484.16 66.53h.9v.9h-.9zM482.98 92.66h.9v.9h-.9zM453.95 78.57h.9v.9h-.9zM468.08 74.3h.9v.9h-.9zM477.58 86.11h.9v.9h-.9zM450.9 90.38h.9v.9h-.9zM481.57 72.8h.9v.9h-.9zM491.83 63.87h.9v.9h-.9zM479.03 62.99h.9v.9h-.9zM494.24 55.7h.9v.9h-.9zM452.93 80.93h.9v.9h-.9zM470.19 74.41h.9v.9h-.9zM495.16 83.33h.9v.9h-.9zM476.64 60.65h.9v.9h-.9zM463.42 75.41h.9v.9h-.9zM475.83 91.32h.9v.9h-.9zM470.27 74.19h.9v.9h-.9zM475.7 72.33h.9v.9h-.9zM500.92 82.92h.9v.9h-.9zM488.31 74.95h.9v.9h-.9zM483.28 63.35h.9v.9h-.9zM465.44 93.08h.9v.9h-.9zM460.29 92.62h.9v.9h-.9zM472.93 93.12h.9v.9h-.9zM481.88 93.6h.9v.9h-.9zM488.59 61.57h.9v.9h-.9zM468.81 73.17h.9v.9h-.9zM484.97 72.34h.9v.9h-.9zM488.83 65.8h.9v.9h-.9zM493.93 81.42h.9v.9h-.9zM460.6 91.58h.9v.9h-.9zM481.81 70.32h.9v.9h-.9zM492.85 73.82h.9v.9h-.9zM483.1 82.54h.9v.9h-.9zM465.29 94.02h.9v.9h-.9zM490.69 71.83h.9v.9h-.9zM484.97 69.8h.9v.9h-.9zM479.51 72.7h.9v.9h-.9zM484.36 73.8h.9v.9h-.9zM456.86 98.22h.9v.9h-.9zM466.63 95.46h.9v.9h-.9zM491.54 86.3h.9v.9h-.9zM497.15 77.59h.9v.9h-.9zM480 92.69h.9v.9h-.9zM497.09 76.91h.9v.9h-.9zM459.8 93.29h.9v.9h-.9zM454.27 81.27h.9v.9h-.9zM482.93 72.52h.9v.9h-.9zM453.54 85.7h.9v.9h-.9zM494.38 53.85h.9v.9h-.9zM451.62 84.07h.9v.9h-.9zM454.54 90.78h.9v.9h-.9zM498.83 74.48h.9v.9h-.9zM487.42 61.61h.9v.9h-.9zM458.84 78.14h.9v.9h-.9zM450.91 84.66h.9v.9h-.9zM495.58 83.34h.9v.9h-.9zM477.07 94.09h.9v.9h-.9zM476.15 69.69h.9v.9h-.9zM481.34 60.18h.9v.9h-.9zM477.48 57.24h.9v.9h-.9zM487 88.99h.9v.9h-.9zM494.4 73.86h.9v.9h-.9zM482.08 91h.9v.9h-.9zM495.28 87.64h.9v.9h-.9zM452.73 82.02h.9v.9h-.9zM449.92 95.32h.9v.9h-.9zM457.83 78.74h.9v.9h-.9zM494.71 83.67h.9v.9h-.9zM490.83 59.33h.9v.9h-.9zM480.66 67.5h.9v.9h-.9zM461.72 95.55h.9v.9h-.9zM481.76 94.14h.9v.9h-.9zM445.96 89.81h.9v.9h-.9zM482.24 56.33h.9v.9h-.9zM474.31 80.92h.9v.9h-.9zM465.05 75.06h.9v.9h-.9zM485.18 92.19h.9v.9h-.9zM491.31 86.62h.9v.9h-.9zM481.73 92.17h.9v.9h-.9zM489.45 72.68h.9v.9h-.9zM493.02 71.93h.9v.9h-.9zM497.25 72.69h.9v.9h-.9zM472.88 71.58h.9v.9h-.9zM458.3 94.43h.9v.9h-.9zM489.67 89.66h.9v.9h-.9zM480.61 93.01h.9v.9h-.9zM487.39 88.49h.9v.9h-.9zM479.08 68.97h.9v.9h-.9zM492.98 84.41h.9v.9h-.9zM494.44 84.68h.9v.9h-.9zM452.56 90.14h.9v.9h-.9zM484.94 64.16h.9v.9h-.9zM458.17 92.01h.9v.9h-.9zM482.3 72.93h.9v.9h-.9zM476.27 91.54h.9v.9h-.9zM454.52 90.34h.9v.9h-.9zM494.33 82.75h.9v.9h-.9zM474 103.37h.9v.9h-.9zM482.84 71h.9v.9h-.9zM455.78 90.85h.9v.9h-.9zM480.53 90.93h.9v.9h-.9zM451.87 81.83h.9v.9h-.9zM480.39 94.1h.9v.9h-.9zM488.82 60.57h.9v.9h-.9zM461.49 92.56h.9v.9h-.9zM479.31 72.65h.9v.9h-.9zM491.88 75.43h.9v.9h-.9zM484.98 73.02h.9v.9h-.9zM462.76 93.29h.9v.9h-.9zM465.09 71.58h.9v.9h-.9zM481.68 65.76h.9v.9h-.9zM493.21 58.11h.9v.9h-.9zM495.89 74.85h.9v.9h-.9zM459.02 78.34h.9v.9h-.9zM480.51 77.54h.9v.9h-.9zM484.94 91.41h.9v.9h-.9zM468.1 94.74h.9v.9h-.9zM495.21 80.11h.9v.9h-.9zM454.68 77.68h.9v.9h-.9zM477.76 61.22h.9v.9h-.9zM491.83 58.03h.9v.9h-.9zM500.39 85.57h.9v.9h-.9zM476.64 75.35h.9v.9h-.9zM452.55 91.03h.9v.9h-.9zM490.61 71.41h.9v.9h-.9zM457.17 74.3h.9v.9h-.9zM454.28 89.52h.9v.9h-.9zM460.99 93.93h.9v.9h-.9zM474.86 93.98h.9v.9h-.9zM472.13 94.67h.9v.9h-.9zM442.75 86.57h.9v.9h-.9zM477.97 92.5h.9v.9h-.9zM486.95 67.2h.9v.9h-.9zM456.63 91.11h.9v.9h-.9zM447.69 94.13h.9v.9h-.9zM470.63 84.16h.9v.9h-.9zM480.84 72.67h.9v.9h-.9zM482.7 69.5h.9v.9h-.9zM496.59 77.93h.9v.9h-.9zM478.22 73.23h.9v.9h-.9zM482.57 72.75h.9v.9h-.9zM486.97 54.2h.9v.9h-.9zM487.28 61.41h.9v.9h-.9zM478.2 73.13h.9v.9h-.9zM486.24 58.51h.9v.9h-.9zM494.2 76.78h.9v.9h-.9zM495.81 62.95h.9v.9h-.9zM485.15 93.95h.9v.9h-.9zM462.44 85.94h.9v.9h-.9zM452.92 88.32h.9v.9h-.9zM494.25 75.07h.9v.9h-.9zM473.61 59.88h.9v.9h-.9zM469.59 106.32h.9v.9h-.9zM490.17 71.07h.9v.9h-.9zM448.89 79.73h.9v.9h-.9zM485.35 71.05h.9v.9h-.9zM482.97 70.2h.9v.9h-.9zM456.13 79.45h.9v.9h-.9zM481.97 67.52h.9v.9h-.9zM464.67 101.62h.9v.9h-.9zM486.17 109.32h.9v.9h-.9zM487.76 105.64h.9v.9h-.9zM456.23 92.51h.9v.9h-.9zM492.31 72.56h.9v.9h-.9zM458.45 74.24h.9v.9h-.9zM491.21 55.53h.9v.9h-.9zM455.44 78.13h.9v.9h-.9zM495.15 84.08h.9v.9h-.9zM492.12 90.91h.9v.9h-.9zM486.18 54.45h.9v.9h-.9zM460.2 92.67h.9v.9h-.9zM489.29 63.19h.9v.9h-.9zM460.14 76.5h.9v.9h-.9zM468.28 74.22h.9v.9h-.9zM448.81 81.87h.9v.9h-.9zM481.3 61.87h.9v.9h-.9zM463.85 73.98h.9v.9h-.9zM490.12 87.79h.9v.9h-.9zM490.51 92.49h.9v.9h-.9zM495.52 86.56h.9v.9h-.9zM490.95 70.3h.9v.9h-.9zM487 81.96h.9v.9h-.9zM477.44 72.41h.9v.9h-.9zM450.19 82.87h.9v.9h-.9zM487.61 89.2h.9v.9h-.9zM494.08 67.77h.9v.9h-.9zM488.26 72.71h.9v.9h-.9zM454.07 83.48h.9v.9h-.9zM494.43 75.4h.9v.9h-.9zM462.8 76h.9v.9h-.9zM496.47 82.96h.9v.9h-.9zM495.85 81.6h.9v.9h-.9zM493.17 84.13h.9v.9h-.9zM484.95 92.68h.9v.9h-.9zM460.63 75.25h.9v.9h-.9zM481.48 66.55h.9v.9h-.9zM477.84 93.66h.9v.9h-.9zM490.5 65.47h.9v.9h-.9zM491.57 88.04h.9v.9h-.9zM492.28 85.25h.9v.9h-.9zM486.85 70.7h.9v.9h-.9zM456.96 93.97h.9v.9h-.9zM460.28 76.42h.9v.9h-.9zM485.8 54.33h.9v.9h-.9zM448 91.02h.9v.9h-.9zM487.5 53.59h.9v.9h-.9zM486.97 73.34h.9v.9h-.9zM484.08 72.61h.9v.9h-.9zM487.78 65.11h.9v.9h-.9zM452.38 87.4h.9v.9h-.9zM493.31 85.82h.9v.9h-.9zM495.77 79.98h.9v.9h-.9zM452.7 87.58h.9v.9h-.9zM491.18 86.83h.9v.9h-.9zM472.49 87.84h.9v.9h-.9zM487.21 73.41h.9v.9h-.9zM483.07 92.44h.9v.9h-.9zM465.34 94.55h.9v.9h-.9zM454.79 90.25h.9v.9h-.9zM460.87 92.5h.9v.9h-.9zM488.37 59.52h.9v.9h-.9zM484.96 70.81h.9v.9h-.9zM452.29 78.97h.9v.9h-.9zM455.78 90.66h.9v.9h-.9zM469.98 94.22h.9v.9h-.9zM479.58 60.96h.9v.9h-.9zM450.44 87.97h.9v.9h-.9zM470.05 98.47h.9v.9h-.9zM485.87 90.23h.9v.9h-.9zM457.01 92.19h.9v.9h-.9zM478.91 67.09h.9v.9h-.9zM488.63 83.66h.9v.9h-.9zM476.68 92.05h.9v.9h-.9zM451.86 87.38h.9v.9h-.9zM457.61 91.45h.9v.9h-.9zM470.93 72.53h.9v.9h-.9zM475.3 73.13h.9v.9h-.9zM460.14 72.3h.9v.9h-.9zM471.3 53.82h.9v.9h-.9zM484.45 71.72h.9v.9h-.9zM479.57 56.9h.9v.9h-.9zM479.69 71.5h.9v.9h-.9zM471.3 82.2h.9v.9h-.9zM483.91 91.64h.9v.9h-.9zM490.72 87.69h.9v.9h-.9zM488.89 85.41h.9v.9h-.9zM485.4 79.26h.9v.9h-.9zM481.93 96.11h.9v.9h-.9zM466.96 94.29h.9v.9h-.9zM476.97 60.02h.9v.9h-.9z" fill="#111" opacity=".9"/><path d="M463.27 76.28h.9v.9h-.9zM460.96 93.05h.9v.9h-.9zM491.33 87.39h.9v.9h-.9zM453.19 84.83h.9v.9h-.9zM467.17 91.68h.9v.9h-.9zM460.25 73.31h.9v.9h-.9zM489.7 90.75h.9v.9h-.9zM471.13 93.31h.9v.9h-.9zM453.23 84.34h.9v.9h-.9zM478.86 91.29h.9v.9h-.9zM449.48 81.55h.9v.9h-.9zM486.44 71.1h.9v.9h-.9zM491.16 74.81h.9v.9h-.9zM458.16 76.64h.9v.9h-.9zM458.23 93.74h.9v.9h-.9zM455.69 92.17h.9v.9h-.9zM448.78 82.38h.9v.9h-.9zM453.99 87.43h.9v.9h-.9zM449.04 85.3h.9v.9h-.9zM459.75 77.11h.9v.9h-.9zM479.65 99.67h.9v.9h-.9zM470.08 100.97h.9v.9h-.9zM495.3 75.59h.9v.9h-.9zM452.05 78.2h.9v.9h-.9zM488.73 58.09h.9v.9h-.9zM479.01 73.1h.9v.9h-.9zM463.38 93.41h.9v.9h-.9zM463.59 74.75h.9v.9h-.9zM463.38 92.94h.9v.9h-.9zM451.64 83.29h.9v.9h-.9zM471.01 72.88h.9v.9h-.9zM481.28 92.09h.9v.9h-.9zM486.39 71.53h.9v.9h-.9zM490.64 68.92h.9v.9h-.9zM463.99 93.18h.9v.9h-.9zM497.68 75.58h.9v.9h-.9zM456.52 90.66h.9v.9h-.9zM499.23 65.44h.9v.9h-.9zM482.85 70.72h.9v.9h-.9zM495.92 55.89h.9v.9h-.9zM479.68 91.4h.9v.9h-.9zM459.72 91.1h.9v.9h-.9zM500.48 71.48h.9v.9h-.9zM467.55 72.91h.9v.9h-.9zM454.56 77.95h.9v.9h-.9zM458.83 77.6h.9v.9h-.9zM484.36 64.86h.9v.9h-.9zM493.72 86.27h.9v.9h-.9zM488.82 72.73h.9v.9h-.9zM482.98 72.32h.9v.9h-.9zM475.48 73.06h.9v.9h-.9zM458.69 68.2h.9v.9h-.9zM470.28 71.53h.9v.9h-.9zM449.44 88.68h.9v.9h-.9zM454.77 80.49h.9v.9h-.9zM460.81 93.83h.9v.9h-.9zM493.89 77.17h.9v.9h-.9zM493.64 83.69h.9v.9h-.9zM476.2 71.52h.9v.9h-.9zM482.21 72.39h.9v.9h-.9zM455.7 76.11h.9v.9h-.9zM489.68 89.41h.9v.9h-.9zM456.81 77.9h.9v.9h-.9zM494.44 84.51h.9v.9h-.9zM489.02 89.89h.9v.9h-.9zM464.25 95.65h.9v.9h-.9zM494.64 85.17h.9v.9h-.9zM494.19 80.01h.9v.9h-.9zM490.2 89.23h.9v.9h-.9zM479.88 91.49h.9v.9h-.9zM475.12 100.8h.9v.9h-.9zM459.84 93.2h.9v.9h-.9zM455.31 97.88h.9v.9h-.9zM452.01 81.47h.9v.9h-.9zM485.9 70.59h.9v.9h-.9zM451.98 87.83h.9v.9h-.9zM482.43 72.91h.9v.9h-.9zM452.05 85.84h.9v.9h-.9zM494.25 75.54h.9v.9h-.9zM453.29 91.83h.9v.9h-.9zM488.64 65.24h.9v.9h-.9zM477.8 93.1h.9v.9h-.9zM485.48 55.9h.9v.9h-.9zM494.59 80.23h.9v.9h-.9zM493.24 73.58h.9v.9h-.9zM491.44 56.56h.9v.9h-.9zM456.13 79.63h.9v.9h-.9zM497.92 81.23h.9v.9h-.9zM494.21 79.34h.9v.9h-.9zM454.84 78.39h.9v.9h-.9zM478.83 92.73h.9v.9h-.9zM483.25 77.85h.9v.9h-.9zM471.67 93.21h.9v.9h-.9zM463.07 76.19h.9v.9h-.9zM489.52 87.94h.9v.9h-.9zM472.39 72.38h.9v.9h-.9zM493.93 84.52h.9v.9h-.9zM490.38 73.59h.9v.9h-.9zM488.02 73.3h.9v.9h-.9zM470.1 74.35h.9v.9h-.9zM487.63 71.63h.9v.9h-.9zM480.19 51.26h.9v.9h-.9zM459.41 76.25h.9v.9h-.9zM449.52 91.6h.9v.9h-.9zM479.69 92.8h.9v.9h-.9zM481.42 61.27h.9v.9h-.9zM487.69 70.57h.9v.9h-.9zM464.39 74.17h.9v.9h-.9zM500.2 78.57h.9v.9h-.9zM457.8 77.17h.9v.9h-.9zM478.47 70.94h.9v.9h-.9zM481.55 73.1h.9v.9h-.9zM485.5 89.46h.9v.9h-.9zM494.98 83.1h.9v.9h-.9zM457.2 76.43h.9v.9h-.9zM490.22 62.96h.9v.9h-.9zM495.18 82h.9v.9h-.9zM466.71 79.92h.9v.9h-.9zM485.47 70.29h.9v.9h-.9zM470.82 94.22h.9v.9h-.9zM492.48 73.24h.9v.9h-.9zM496.64 83.45h.9v.9h-.9zM474.51 60.92h.9v.9h-.9zM489.34 65.15h.9v.9h-.9zM453.01 84.82h.9v.9h-.9zM453.22 87.27h.9v.9h-.9zM481.09 56.83h.9v.9h-.9zM487.72 60.78h.9v.9h-.9zM452.47 91.97h.9v.9h-.9zM487.23 72.8h.9v.9h-.9zM485.49 71.77h.9v.9h-.9zM493.72 61.07h.9v.9h-.9zM466.81 94.61h.9v.9h-.9zM480.4 91.74h.9v.9h-.9zM489.71 67.54h.9v.9h-.9zM461.39 74.69h.9v.9h-.9zM465.87 74.21h.9v.9h-.9zM490.4 73.13h.9v.9h-.9zM457.86 94.28h.9v.9h-.9zM495.25 69.89h.9v.9h-.9zM461.76 74.7h.9v.9h-.9zM471.01 76.73h.9v.9h-.9zM467 96.01h.9v.9h-.9zM451.46 86.74h.9v.9h-.9zM456.96 79.01h.9v.9h-.9zM451.26 92.61h.9v.9h-.9zM488.71 90.46h.9v.9h-.9zM455.83 91.62h.9v.9h-.9zM479.78 65.64h.9v.9h-.9zM492.01 73.81h.9v.9h-.9zM498.01 78.53h.9v.9h-.9zM475.17 96.88h.9v.9h-.9zM456.42 93.91h.9v.9h-.9zM457.55 90.63h.9v.9h-.9zM458.82 93.26h.9v.9h-.9zM479.05 91.62h.9v.9h-.9zM448.36 88.13h.9v.9h-.9zM482.33 71.03h.9v.9h-.9zM454.2 92.72h.9v.9h-.9zM487.98 65.46h.9v.9h-.9zM454.35 92.58h.9v.9h-.9zM453.39 68.21h.9v.9h-.9zM474.9 86.04h.9v.9h-.9zM465.86 95.9h.9v.9h-.9zM480.86 95.54h.9v.9h-.9zM469.27 94.82h.9v.9h-.9zM479.63 72.2h.9v.9h-.9zM456.06 80.54h.9v.9h-.9zM487.72 68.15h.9v.9h-.9zM454.39 88.76h.9v.9h-.9zM473.95 64.89h.9v.9h-.9zM480.15 67.15h.9v.9h-.9zM443.97 93.97h.9v.9h-.9zM476.63 71.49h.9v.9h-.9zM446.82 88.14h.9v.9h-.9zM485.88 56.78h.9v.9h-.9zM468.23 94.47h.9v.9h-.9zM450.05 84.81h.9v.9h-.9zM454.48 81.59h.9v.9h-.9zM453.5 91.85h.9v.9h-.9zM463.96 80.27h.9v.9h-.9zM460.46 76.93h.9v.9h-.9zM497.62 82.6h.9v.9h-.9zM465.32 74.34h.9v.9h-.9zM494.66 74h.9v.9h-.9zM446.28 79.9h.9v.9h-.9zM490.26 62.92h.9v.9h-.9zM478.33 54.55h.9v.9h-.9zM456.04 76.83h.9v.9h-.9zM461.21 93.44h.9v.9h-.9zM461.29 96.17h.9v.9h-.9zM478.56 65.32h.9v.9h-.9zM463.22 94.42h.9v.9h-.9zM453.37 83.38h.9v.9h-.9zM460.47 92.99h.9v.9h-.9zM483.89 53.44h.9v.9h-.9zM453.92 85.32h.9v.9h-.9zM479.46 49.87h.9v.9h-.9zM453.98 82.1h.9v.9h-.9zM451.74 73.17h.9v.9h-.9zM481.37 53.81h.9v.9h-.9zM498.05 56.08h.9v.9h-.9zM483.95 71.78h.9v.9h-.9zM496.84 86.68h.9v.9h-.9zM457.86 76.49h.9v.9h-.9zM480.27 71.54h.9v.9h-.9zM466.04 95.59h.9v.9h-.9zM463.31 94.59h.9v.9h-.9zM485.52 71.88h.9v.9h-.9zM483.32 61.56h.9v.9h-.9zM449 82.03h.9v.9h-.9zM453.22 88.36h.9v.9h-.9zM486.72 72.89h.9v.9h-.9zM471.89 91.63h.9v.9h-.9zM459.11 76.4h.9v.9h-.9zM451.47 83.42h.9v.9h-.9zM473.25 94.37h.9v.9h-.9zM489.96 72.45h.9v.9h-.9zM476.49 72.67h.9v.9h-.9zM493.11 74.49h.9v.9h-.9zM489.92 72.93h.9v.9h-.9zM496.37 107.58h.9v.9h-.9zM464.46 63.19h.9v.9h-.9zM481.95 61.13h.9v.9h-.9zM470.05 74.19h.9v.9h-.9zM450.34 86.44h.9v.9h-.9zM453.28 95.05h.9v.9h-.9zM450.63 87.36h.9v.9h-.9zM455.83 78.5h.9v.9h-.9zM449.34 91.02h.9v.9h-.9zM486.49 69.16h.9v.9h-.9zM445.88 79.54h.9v.9h-.9zM453.18 96.11h.9v.9h-.9zM457.74 91.68h.9v.9h-.9zM451.43 90.65h.9v.9h-.9zM480.27 60.21h.9v.9h-.9zM461.74 76.38h.9v.9h-.9zM473.09 59.26h.9v.9h-.9zM495 84.99h.9v.9h-.9zM491.55 86.32h.9v.9h-.9zM461.14 75.29h.9v.9h-.9zM453.32 82.59h.9v.9h-.9zM500.66 72.66h.9v.9h-.9zM492.12 86.93h.9v.9h-.9zM493.8 82.21h.9v.9h-.9zM460.08 75.46h.9v.9h-.9zM490.88 72.79h.9v.9h-.9zM483.04 60.03h.9v.9h-.9zM453.39 84.57h.9v.9h-.9zM452.7 80.06h.9v.9h-.9zM484.42 80.36h.9v.9h-.9zM484.16 59.36h.9v.9h-.9zM455.19 90.65h.9v.9h-.9zM491.23 88.12h.9v.9h-.9zM492.18 57.51h.9v.9h-.9zM458.8 77h.9v.9h-.9zM451.56 89.45h.9v.9h-.9zM466.56 73.25h.9v.9h-.9zM450.25 85.4h.9v.9h-.9zM492.64 61.76h.9v.9h-.9zM486.51 56.38h.9v.9h-.9zM479.58 64.23h.9v.9h-.9zM471.53 92.8h.9v.9h-.9zM461.6 73.44h.9v.9h-.9zM465.75 92.89h.9v.9h-.9zM482.97 61.95h.9v.9h-.9zM493.61 73.55h.9v.9h-.9zM484.39 69.64h.9v.9h-.9zM481.72 92.79h.9v.9h-.9zM484.35 71.04h.9v.9h-.9zM468.38 95.87h.9v.9h-.9zM454.76 91.99h.9v.9h-.9zM478.93 62.07h.9v.9h-.9zM478.6 67.23h.9v.9h-.9zM472.09 74h.9v.9h-.9zM478.05 98.81h.9v.9h-.9zM496.86 87.55h.9v.9h-.9zM470.97 92.62h.9v.9h-.9zM489.61 72.81h.9v.9h-.9zM486.41 74.08h.9v.9h-.9zM462.65 94.54h.9v.9h-.9zM452.85 85.26h.9v.9h-.9zM474.65 94.69h.9v.9h-.9zM479.75 54.47h.9v.9h-.9zM452.39 92.04h.9v.9h-.9zM491.12 88.24h.9v.9h-.9zM456.36 78.76h.9v.9h-.9zM447.12 87.98h.9v.9h-.9zM446.68 86.79h.9v.9h-.9zM480.74 74.44h.9v.9h-.9z" fill="#444" opacity=".8"/><g transform="translate(474 83) rotate(-10)"><path d="M20 0L19.79 1.92L19.18 3.38L18.17 4.66L16.76 5.78L14.98 6.74L12.84 7.54L10.36 8.17L7.52 8.63L4.26 8.91L0 9L-4.26 8.91L-7.52 8.63L-10.36 8.17L-12.84 7.54L-14.98 6.74L-16.76 5.78L-18.17 4.66L-19.18 3.38L-19.79 1.92L-20 0L-19.79 -1.92L-19.18 -3.38L-18.17 -4.66L-16.76 -5.78L-14.98 -6.74L-12.84 -7.54L-10.36 -8.17L-7.52 -8.63L-4.26 -8.91L-0 -9L4.26 -8.91L7.52 -8.63L10.36 -8.17L12.84 -7.54L14.98 -6.74L16.76 -5.78L18.17 -4.66L19.18 -3.38L19.79 -1.92Z" fill="#f6f6f6" stroke="#111" stroke-width="1.2"/><path d="M16.62 0L16.47 1.35L16.02 2.37L15.28 3.27L14.25 4.05L12.94 4.73L11.38 5.29L9.55 5.73L7.47 6.05L5.09 6.25L1.97 6.31L-1.16 6.25L-3.54 6.05L-5.62 5.73L-7.45 5.29L-9.01 4.73L-10.32 4.05L-11.35 3.27L-12.09 2.37L-12.54 1.35L-12.69 0L-12.54 -1.35L-12.09 -2.37L-11.35 -3.27L-10.32 -4.05L-9.01 -4.73L-7.45 -5.29L-5.62 -5.73L-3.54 -6.05L-1.16 -6.25L1.97 -6.31L5.09 -6.25L7.47 -6.05L9.55 -5.73L11.38 -5.29L12.94 -4.73L14.25 -4.05L15.28 -3.27L16.02 -2.37L16.47 -1.35Z" fill="#c4c4c4"/><path d="M13.91 0L13.8 0.89L13.48 1.56L12.96 2.15L12.23 2.67L11.31 3.11L10.2 3.48L8.91 3.77L7.44 3.98L5.75 4.11L3.54 4.15L1.33 4.11L-0.35 3.98L-1.83 3.77L-3.11 3.48L-4.22 3.11L-5.14 2.67L-5.87 2.15L-6.4 1.56L-6.72 0.89L-6.82 0L-6.72 -0.89L-6.4 -1.56L-5.87 -2.15L-5.14 -2.67L-4.22 -3.11L-3.11 -3.48L-1.83 -3.77L-0.35 -3.98L1.33 -4.11L3.54 -4.15L5.75 -4.11L7.44 -3.98L8.91 -3.77L10.2 -3.48L11.31 -3.11L12.23 -2.67L12.96 -2.15L13.48 -1.56L13.8 -0.89Z" fill="#8a8a8a"/><path d="M18.12 0L17.95 1.6L17.43 2.82L16.56 3.89L15.37 4.82L13.85 5.63L12.03 6.29L9.91 6.82L7.49 7.2L4.72 7.43L1.09 7.51L-2.54 7.43L-5.31 7.2L-7.73 6.82L-9.85 6.29L-11.67 5.63L-13.19 4.82L-14.38 3.89L-15.25 2.82L-15.77 1.6L-15.94 0L-15.77 -1.6L-15.25 -2.82L-14.38 -3.89L-13.19 -4.82L-11.67 -5.63L-9.85 -6.29L-7.73 -6.82L-5.31 -7.2L-2.54 -7.43L1.09 -7.51L4.72 -7.43L7.49 -7.2L9.91 -6.82L12.03 -6.29L13.85 -5.63L15.37 -4.82L16.56 -3.89L17.43 -2.82L17.95 -1.6ZM16.62 0L16.47 1.35L16.02 2.37L15.28 3.27L14.25 4.05L12.94 4.73L11.38 5.29L9.55 5.73L7.47 6.05L5.09 6.25L1.97 6.31L-1.16 6.25L-3.54 6.05L-5.62 5.73L-7.45 5.29L-9.01 4.73L-10.32 4.05L-11.35 3.27L-12.09 2.37L-12.54 1.35L-12.69 0L-12.54 -1.35L-12.09 -2.37L-11.35 -3.27L-10.32 -4.05L-9.01 -4.73L-7.45 -5.29L-5.62 -5.73L-3.54 -6.05L-1.16 -6.25L1.97 -6.31L5.09 -6.25L7.47 -6.05L9.55 -5.73L11.38 -5.29L12.94 -4.73L14.25 -4.05L15.28 -3.27L16.02 -2.37L16.47 -1.35ZM15.23 0L15.1 1.11L14.72 1.96L14.09 2.7L13.21 3.34L12.1 3.9L10.77 4.36L9.22 4.73L7.45 4.99L5.43 5.15L2.77 5.21L0.12 5.15L-1.91 4.99L-3.68 4.73L-5.22 4.36L-6.56 3.9L-7.66 3.34L-8.54 2.7L-9.17 1.96L-9.55 1.11L-9.68 0L-9.55 -1.11L-9.17 -1.96L-8.54 -2.7L-7.66 -3.34L-6.56 -3.9L-5.22 -4.36L-3.68 -4.73L-1.91 -4.99L0.12 -5.15L2.77 -5.21L5.43 -5.15L7.45 -4.99L9.22 -4.73L10.77 -4.36L12.1 -3.9L13.21 -3.34L14.09 -2.7L14.72 -1.96L15.1 -1.11ZM13.91 0L13.8 0.89L13.48 1.56L12.96 2.15L12.23 2.67L11.31 3.11L10.2 3.48L8.91 3.77L7.44 3.98L5.75 4.11L3.54 4.15L1.33 4.11L-0.35 3.98L-1.83 3.77L-3.11 3.48L-4.22 3.11L-5.14 2.67L-5.87 2.15L-6.4 1.56L-6.72 0.89L-6.82 0L-6.72 -0.89L-6.4 -1.56L-5.87 -2.15L-5.14 -2.67L-4.22 -3.11L-3.11 -3.48L-1.83 -3.77L-0.35 -3.98L1.33 -4.11L3.54 -4.15L5.75 -4.11L7.44 -3.98L8.91 -3.77L10.2 -3.48L11.31 -3.11L12.23 -2.67L12.96 -2.15L13.48 -1.56L13.8 -0.89ZM12.63 0L12.55 0.67L12.29 1.18L11.87 1.63L11.28 2.02L10.54 2.35L9.65 2.63L8.61 2.85L7.42 3.01L6.06 3.11L4.28 3.14L2.5 3.11L1.14 3.01L-0.04 2.85L-1.08 2.63L-1.98 2.35L-2.72 2.02L-3.3 1.63L-3.73 1.18L-3.98 0.67L-4.07 0L-3.98 -0.67L-3.73 -1.18L-3.3 -1.63L-2.72 -2.02L-1.98 -2.35L-1.08 -2.63L-0.04 -2.85L1.14 -3.01L2.5 -3.11L4.28 -3.14L6.06 -3.11L7.42 -3.01L8.61 -2.85L9.65 -2.63L10.54 -2.35L11.28 -2.02L11.87 -1.63L12.29 -1.18L12.55 -0.67Z" fill="none" stroke="#262626" stroke-width=".8"/><path d="M11 0L10.94 0.46L10.75 0.81L10.45 1.12L10.03 1.39L9.49 1.62L8.85 1.81L8.11 1.96L7.25 2.07L6.28 2.14L5 2.16L3.72 2.14L2.75 2.07L1.89 1.96L1.15 1.81L0.51 1.62L-0.03 1.39L-0.45 1.12L-0.75 0.81L-0.94 0.46L-1 0L-0.94 -0.46L-0.75 -0.81L-0.45 -1.12L-0.03 -1.39L0.51 -1.62L1.15 -1.81L1.89 -1.96L2.75 -2.07L3.72 -2.14L5 -2.16L6.28 -2.14L7.25 -2.07L8.11 -1.96L8.85 -1.81L9.49 -1.62L10.03 -1.39L10.45 -1.12L10.75 -0.81L10.94 -0.46Z" fill="#2e2e2e"/><ellipse cx="5" cy="0" rx="4" ry="0.6" fill="#eee"/></g>
</svg>
<path d="M468.3 46V117M432.3 75.3H502.8" stroke="#3030a8" stroke-width="1.3" fill="none"/>
<rect x="432.3" y="46" width="70.5" height="71" fill="none" stroke="#111" stroke-width="1.5"/>
<path d="M431.7 115.5h-2.2M433.8 117.6v2.2M431.7 114h-1.6M435.3 117.6v1.6M431.7 112.5h-1.6M436.8 117.6v1.6M431.7 111h-2.2M438.3 117.6v2.2M431.7 109.5h-1.6M439.8 117.6v1.6M431.7 108h-1.6M441.3 117.6v1.6M431.7 106.5h-1.6M442.8 117.6v1.6M431.7 105h-2.2M444.3 117.6v2.2M431.7 103.5h-1.6M445.8 117.6v1.6M431.7 100.19h-1.6M449.11 117.6v1.6M431.7 97.5h-1.6M451.8 117.6v1.6M431.7 95.4h-1.6M453.9 117.6v1.6M431.7 93.69h-1.6M455.61 117.6v1.6M431.7 92.25h-1.6M457.05 117.6v1.6M431.7 90.99h-1.6M458.31 117.6v1.6M431.7 89.89h-1.6M459.41 117.6v1.6M431.7 88.9h-2.8M460.4 117.6v2.8M431.7 82.4h-1.6M466.9 117.6v1.6M431.7 78.59h-1.6M470.71 117.6v1.6M431.7 75.9h-1.6M473.4 117.6v1.6M431.7 73.8h-1.6M475.5 117.6v1.6M431.7 72.09h-1.6M477.21 117.6v1.6M431.7 70.65h-1.6M478.65 117.6v1.6M431.7 69.39h-1.6M479.91 117.6v1.6M431.7 68.29h-1.6M481.01 117.6v1.6M431.7 67.3h-2.8M482 117.6v2.8M431.7 60.8h-1.6M488.5 117.6v1.6M431.7 56.99h-1.6M492.31 117.6v1.6M431.7 54.3h-1.6M495 117.6v1.6M431.7 52.2h-1.6M497.1 117.6v1.6M431.7 50.49h-1.6M498.81 117.6v1.6M431.7 49.05h-1.6M500.25 117.6v1.6" stroke="#111" stroke-width="0.9" fill="none"/>
<path d="M432 46V117.3H502.8" stroke="#111" stroke-width="1" fill="none"/>
<svg x="35" y="125.6" width="70.5" height="70.2" viewBox="35 125.6 70.5 70.2" overflow="hidden">
<path d="M74.49 182.08h.9v.9h-.9zM49.73 185.91h.9v.9h-.9zM65.1 191.47h.9v.9h-.9zM63.05 170.72h.9v.9h-.9zM56.99 187.04h.9v.9h-.9zM90.71 172.86h.9v.9h-.9zM71.21 169.35h.9v.9h-.9zM77.41 171.4h.9v.9h-.9zM90.41 186.79h.9v.9h-.9zM91.42 171h.9v.9h-.9zM87.01 171.62h.9v.9h-.9zM53.2 175.82h.9v.9h-.9zM54.54 190.65h.9v.9h-.9zM93.43 181.98h.9v.9h-.9zM91.17 175.53h.9v.9h-.9zM45.26 186.4h.9v.9h-.9zM66.23 187.74h.9v.9h-.9zM55.95 188.92h.9v.9h-.9zM46.8 178.98h.9v.9h-.9zM96.3 178.65h.9v.9h-.9zM91.17 178.08h.9v.9h-.9zM89.03 173.23h.9v.9h-.9zM57.34 172.03h.9v.9h-.9zM52.79 174.87h.9v.9h-.9zM83.84 168.06h.9v.9h-.9zM53.86 185.91h.9v.9h-.9zM46.42 173.15h.9v.9h-.9zM58.63 172.33h.9v.9h-.9zM91.04 185.28h.9v.9h-.9zM92.11 179.74h.9v.9h-.9zM53.12 187.83h.9v.9h-.9zM91.4 177.55h.9v.9h-.9zM84.38 188.36h.9v.9h-.9zM87.12 171.52h.9v.9h-.9zM90.39 184.65h.9v.9h-.9zM57.52 170.14h.9v.9h-.9zM95.2 175.09h.9v.9h-.9zM62.18 171.5h.9v.9h-.9zM50.97 185.25h.9v.9h-.9zM92.59 174.85h.9v.9h-.9zM52.6 170.45h.9v.9h-.9zM64.45 187.53h.9v.9h-.9zM77.97 171.19h.9v.9h-.9zM64.8 168.58h.9v.9h-.9zM54.3 186.03h.9v.9h-.9zM56.25 172.16h.9v.9h-.9zM52.35 189.07h.9v.9h-.9zM51.28 187.8h.9v.9h-.9zM88.37 186h.9v.9h-.9zM62.84 188.8h.9v.9h-.9zM85.18 187.12h.9v.9h-.9zM80.1 187.91h.9v.9h-.9zM57.37 169.32h.9v.9h-.9zM59.37 186.96h.9v.9h-.9zM74.04 192.76h.9v.9h-.9zM89.24 172.96h.9v.9h-.9zM85.87 169.28h.9v.9h-.9zM92.29 177.78h.9v.9h-.9zM88.47 173.65h.9v.9h-.9zM94.9 188.22h.9v.9h-.9zM82.95 169.29h.9v.9h-.9zM64.07 171.5h.9v.9h-.9zM47.18 172.28h.9v.9h-.9zM95.45 180.4h.9v.9h-.9zM55.97 181.77h.9v.9h-.9zM93.56 180.83h.9v.9h-.9zM63.67 170.13h.9v.9h-.9zM94.94 182.09h.9v.9h-.9zM78.48 167.48h.9v.9h-.9zM91.01 172.48h.9v.9h-.9zM82.36 174.2h.9v.9h-.9zM85.87 190.56h.9v.9h-.9zM46.98 184.38h.9v.9h-.9zM91.51 172.65h.9v.9h-.9zM78.8 189.07h.9v.9h-.9zM91.21 172.91h.9v.9h-.9zM50.98 186.57h.9v.9h-.9zM53.07 174.89h.9v.9h-.9zM56.47 172.16h.9v.9h-.9zM61.54 169.25h.9v.9h-.9zM70.98 161.47h.9v.9h-.9zM41.4 180.69h.9v.9h-.9zM90.66 177.07h.9v.9h-.9zM89.41 183.91h.9v.9h-.9zM93.15 175.87h.9v.9h-.9zM78.41 175.6h.9v.9h-.9zM91.94 188.69h.9v.9h-.9zM78.98 193.47h.9v.9h-.9zM93.43 182.26h.9v.9h-.9zM66.22 171.31h.9v.9h-.9zM91.69 182.92h.9v.9h-.9zM64.2 189.92h.9v.9h-.9zM87.51 185.43h.9v.9h-.9zM89.17 184.66h.9v.9h-.9zM63.7 187.39h.9v.9h-.9zM50.48 184.07h.9v.9h-.9zM62.72 187.56h.9v.9h-.9zM79.85 169.01h.9v.9h-.9zM48.27 188.09h.9v.9h-.9zM78.28 171.32h.9v.9h-.9zM89.06 184.69h.9v.9h-.9zM97.93 185.45h.9v.9h-.9zM84.24 188.78h.9v.9h-.9zM95.87 185.45h.9v.9h-.9zM81.5 168.03h.9v.9h-.9zM83.85 168.43h.9v.9h-.9zM85.41 186.02h.9v.9h-.9zM93.13 173.62h.9v.9h-.9zM88.64 186.24h.9v.9h-.9zM54.77 171.35h.9v.9h-.9zM85.31 171.94h.9v.9h-.9zM56.25 187.61h.9v.9h-.9zM91.56 189.01h.9v.9h-.9zM60.96 187.62h.9v.9h-.9zM64.44 188.27h.9v.9h-.9zM86.95 170.71h.9v.9h-.9zM67.98 167.29h.9v.9h-.9zM74.72 188.69h.9v.9h-.9zM77.61 161.73h.9v.9h-.9zM92.21 175.42h.9v.9h-.9zM79.71 170.13h.9v.9h-.9zM46.19 183.71h.9v.9h-.9zM49.84 171.83h.9v.9h-.9zM81.11 171.83h.9v.9h-.9zM90.92 177.3h.9v.9h-.9zM74.1 169.73h.9v.9h-.9zM93.62 179.4h.9v.9h-.9zM91.51 177.08h.9v.9h-.9zM49.43 179.16h.9v.9h-.9zM96.06 187.9h.9v.9h-.9zM89.47 183.81h.9v.9h-.9zM51.72 170.71h.9v.9h-.9zM49.74 184.13h.9v.9h-.9zM48.09 183.73h.9v.9h-.9zM49.51 183.07h.9v.9h-.9zM81.73 188.15h.9v.9h-.9zM92.18 183.78h.9v.9h-.9zM66.31 190.64h.9v.9h-.9zM81.51 170.53h.9v.9h-.9zM80.03 190.66h.9v.9h-.9zM54.29 170.91h.9v.9h-.9zM62.39 180.63h.9v.9h-.9zM54.04 173.13h.9v.9h-.9zM48.38 174.06h.9v.9h-.9zM95.41 181.14h.9v.9h-.9zM88.54 174.1h.9v.9h-.9zM54.99 173.33h.9v.9h-.9zM49.06 185.07h.9v.9h-.9zM75.12 165.76h.9v.9h-.9zM54.27 188.42h.9v.9h-.9zM85.09 188.74h.9v.9h-.9zM54.72 170.25h.9v.9h-.9zM81.68 170.97h.9v.9h-.9zM46.08 174.96h.9v.9h-.9zM97.15 179.86h.9v.9h-.9zM72.5 188.29h.9v.9h-.9zM66.4 174.9h.9v.9h-.9zM76.78 170.49h.9v.9h-.9zM82.22 190.65h.9v.9h-.9zM48.19 187.68h.9v.9h-.9zM94.64 181.91h.9v.9h-.9zM65.98 187.61h.9v.9h-.9zM67.12 184.13h.9v.9h-.9zM54.7 186.81h.9v.9h-.9zM90.07 175.95h.9v.9h-.9zM98.08 178.16h.9v.9h-.9zM63.45 187.72h.9v.9h-.9zM86.79 186.32h.9v.9h-.9zM57.12 171.6h.9v.9h-.9zM83.31 187.07h.9v.9h-.9zM56.17 189.07h.9v.9h-.9zM56.16 172.03h.9v.9h-.9zM76.74 163.54h.9v.9h-.9zM60.94 171.35h.9v.9h-.9zM72.11 188.31h.9v.9h-.9zM97.03 178.15h.9v.9h-.9zM46.1 176.87h.9v.9h-.9zM90.9 186.39h.9v.9h-.9zM63.46 187.5h.9v.9h-.9zM91.05 180.81h.9v.9h-.9zM78.3 169.56h.9v.9h-.9zM48.56 175.77h.9v.9h-.9zM92.59 187.63h.9v.9h-.9zM89.49 173.91h.9v.9h-.9zM91.45 183.84h.9v.9h-.9zM63.49 189.26h.9v.9h-.9zM66.96 170.97h.9v.9h-.9zM43.62 190.76h.9v.9h-.9zM53.54 174.09h.9v.9h-.9zM51.78 175.46h.9v.9h-.9zM91.44 187.81h.9v.9h-.9zM62.4 188.29h.9v.9h-.9zM46.62 177.26h.9v.9h-.9zM72.94 169.82h.9v.9h-.9zM82.48 187.27h.9v.9h-.9zM85.69 186.91h.9v.9h-.9zM57.1 171.54h.9v.9h-.9zM54.83 192.94h.9v.9h-.9zM50.89 175.67h.9v.9h-.9zM49.58 176.05h.9v.9h-.9zM90.54 185.35h.9v.9h-.9zM60.32 167.25h.9v.9h-.9zM59.43 171.68h.9v.9h-.9zM73.59 185.66h.9v.9h-.9zM62.83 188.42h.9v.9h-.9zM70.63 174.14h.9v.9h-.9zM77.75 170.44h.9v.9h-.9zM54.41 173.51h.9v.9h-.9zM61.14 177.84h.9v.9h-.9zM78.81 169.22h.9v.9h-.9zM94.11 172.49h.9v.9h-.9zM78.65 185.96h.9v.9h-.9zM60.53 187.22h.9v.9h-.9zM48.46 179.43h.9v.9h-.9zM57.22 189.19h.9v.9h-.9zM78.23 170.99h.9v.9h-.9zM93.19 181.9h.9v.9h-.9zM73.96 171.01h.9v.9h-.9zM60.52 172.07h.9v.9h-.9zM90.93 173.67h.9v.9h-.9zM60.44 171.43h.9v.9h-.9zM64.47 170.4h.9v.9h-.9zM80.77 179.15h.9v.9h-.9zM57.78 155.01h.9v.9h-.9zM93.25 175.29h.9v.9h-.9zM50.18 181.05h.9v.9h-.9zM47.86 179.58h.9v.9h-.9zM59.01 170.62h.9v.9h-.9zM69.62 187.94h.9v.9h-.9zM94.34 174.67h.9v.9h-.9zM90.74 187.65h.9v.9h-.9zM91.3 179.25h.9v.9h-.9zM83.87 186.79h.9v.9h-.9zM81.74 169.39h.9v.9h-.9zM81.17 189.72h.9v.9h-.9zM74.33 188.05h.9v.9h-.9zM86.63 189.25h.9v.9h-.9zM41.51 177.56h.9v.9h-.9zM80.71 187.85h.9v.9h-.9zM51.1 176.11h.9v.9h-.9zM59.08 172.26h.9v.9h-.9zM88.12 189.32h.9v.9h-.9zM86.71 173.51h.9v.9h-.9zM86.66 187.58h.9v.9h-.9zM59.98 170.72h.9v.9h-.9zM68.38 168.97h.9v.9h-.9zM91.45 172.92h.9v.9h-.9zM52.62 174.45h.9v.9h-.9zM89.84 185.39h.9v.9h-.9zM50.9 177.46h.9v.9h-.9zM80.07 187.97h.9v.9h-.9zM79.06 192.36h.9v.9h-.9zM80.08 170.72h.9v.9h-.9zM49.23 189.21h.9v.9h-.9zM92.98 174.15h.9v.9h-.9zM73.81 167.07h.9v.9h-.9zM58.94 190.28h.9v.9h-.9zM86.8 171.98h.9v.9h-.9zM53.79 172.27h.9v.9h-.9zM49.5 183.12h.9v.9h-.9zM81.57 170.38h.9v.9h-.9zM60.64 190.91h.9v.9h-.9zM78.3 169.85h.9v.9h-.9zM63.55 170.85h.9v.9h-.9zM89.63 174.42h.9v.9h-.9zM49.76 182.38h.9v.9h-.9zM58.99 182.71h.9v.9h-.9zM72.45 181.66h.9v.9h-.9zM81.61 187.17h.9v.9h-.9zM88.29 173.56h.9v.9h-.9zM53.58 173.77h.9v.9h-.9zM50.45 174.92h.9v.9h-.9zM71.51 188.01h.9v.9h-.9zM50.37 185.43h.9v.9h-.9zM66.86 170.3h.9v.9h-.9zM50.22 181.11h.9v.9h-.9zM52.29 184.6h.9v.9h-.9zM52.42 175.02h.9v.9h-.9zM69.25 169.64h.9v.9h-.9zM66.22 170.24h.9v.9h-.9zM83.7 188.81h.9v.9h-.9zM70.32 191.82h.9v.9h-.9zM81.77 187.58h.9v.9h-.9zM92.74 172.62h.9v.9h-.9zM84.66 187.83h.9v.9h-.9zM94.37 174.45h.9v.9h-.9zM42.73 182.9h.9v.9h-.9zM88.61 171.73h.9v.9h-.9zM83.45 170.47h.9v.9h-.9zM48.31 170.27h.9v.9h-.9zM76.61 168.77h.9v.9h-.9zM72.23 171.18h.9v.9h-.9zM76.94 188.02h.9v.9h-.9zM53.52 186.25h.9v.9h-.9zM57.1 187.49h.9v.9h-.9zM95.06 182.63h.9v.9h-.9zM57.86 189.83h.9v.9h-.9zM52.13 172.59h.9v.9h-.9zM68.49 187.92h.9v.9h-.9zM50.32 172.76h.9v.9h-.9zM93.83 183.51h.9v.9h-.9zM54.16 189.99h.9v.9h-.9zM65.33 168.46h.9v.9h-.9zM50.52 185.65h.9v.9h-.9zM50.34 181.49h.9v.9h-.9zM93.94 178.97h.9v.9h-.9zM56.27 172.52h.9v.9h-.9zM52.64 174.95h.9v.9h-.9zM59.76 187.01h.9v.9h-.9zM78.81 173.25h.9v.9h-.9zM51.97 166.57h.9v.9h-.9zM76.78 190.08h.9v.9h-.9zM80.29 169.95h.9v.9h-.9zM61.02 184.78h.9v.9h-.9zM49.53 181.64h.9v.9h-.9zM46.48 185.03h.9v.9h-.9zM49.34 178.19h.9v.9h-.9zM91.63 181.52h.9v.9h-.9zM60.41 189.57h.9v.9h-.9zM52.62 174.05h.9v.9h-.9zM87.09 173.05h.9v.9h-.9zM52.64 180.83h.9v.9h-.9zM49.71 179.24h.9v.9h-.9zM91.99 186.51h.9v.9h-.9zM64.84 188.5h.9v.9h-.9zM74.23 189h.9v.9h-.9zM76.44 188.43h.9v.9h-.9zM85.82 172.06h.9v.9h-.9zM88.62 170.98h.9v.9h-.9zM91.43 176.79h.9v.9h-.9zM89.14 184.55h.9v.9h-.9zM50.91 174.69h.9v.9h-.9zM89.78 183.79h.9v.9h-.9zM65.54 174.52h.9v.9h-.9zM78.69 184.43h.9v.9h-.9zM85.69 172.78h.9v.9h-.9zM77.92 165.75h.9v.9h-.9zM60.16 170.94h.9v.9h-.9zM92.1 178.24h.9v.9h-.9zM93.86 161.21h.9v.9h-.9zM54.43 188.48h.9v.9h-.9zM68.39 166.7h.9v.9h-.9zM52.59 173.94h.9v.9h-.9zM94.91 177.19h.9v.9h-.9zM53.28 174.06h.9v.9h-.9zM77.9 187.6h.9v.9h-.9zM91.77 182.25h.9v.9h-.9zM90.3 174.05h.9v.9h-.9zM75.79 190.18h.9v.9h-.9zM91.11 182.94h.9v.9h-.9zM94.03 171.77h.9v.9h-.9zM85.61 170.42h.9v.9h-.9zM60.75 171.69h.9v.9h-.9zM63.12 193.02h.9v.9h-.9zM65.55 171.42h.9v.9h-.9zM50.62 180.83h.9v.9h-.9zM74.9 167.72h.9v.9h-.9zM56.71 167.74h.9v.9h-.9zM55.76 175.24h.9v.9h-.9zM87.5 169.91h.9v.9h-.9zM88.36 186.2h.9v.9h-.9zM56.73 189.98h.9v.9h-.9zM93.88 177.13h.9v.9h-.9zM92.43 176.3h.9v.9h-.9zM90.09 185.68h.9v.9h-.9zM93.75 184.39h.9v.9h-.9zM49.71 185.73h.9v.9h-.9zM41.22 174.38h.9v.9h-.9zM88.41 188.08h.9v.9h-.9zM88.94 172.7h.9v.9h-.9zM51.5 186.07h.9v.9h-.9zM84.39 187.31h.9v.9h-.9zM66.5 168.39h.9v.9h-.9zM89.46 183.53h.9v.9h-.9zM52.98 172.67h.9v.9h-.9zM68.33 176.9h.9v.9h-.9zM79.68 189.03h.9v.9h-.9zM91.93 181.46h.9v.9h-.9zM50.13 175.51h.9v.9h-.9zM68.72 170.9h.9v.9h-.9zM79.8 191.88h.9v.9h-.9zM59.29 188.21h.9v.9h-.9z" fill="#111" opacity=".9"/><path d="M48.24 180.71h.9v.9h-.9zM69.48 174.72h.9v.9h-.9zM92.39 180.06h.9v.9h-.9zM50.6 182.92h.9v.9h-.9zM92.5 174.24h.9v.9h-.9zM92.99 176.9h.9v.9h-.9zM53.37 185.23h.9v.9h-.9zM51.41 175.72h.9v.9h-.9zM48.18 184.01h.9v.9h-.9zM80.37 169.32h.9v.9h-.9zM51.83 184.45h.9v.9h-.9zM73.77 187.69h.9v.9h-.9zM75.35 169.01h.9v.9h-.9zM82.79 188.2h.9v.9h-.9zM69.5 188.68h.9v.9h-.9zM50.33 181.25h.9v.9h-.9zM67.92 187.93h.9v.9h-.9zM72.89 170.6h.9v.9h-.9zM78.94 187.47h.9v.9h-.9zM48.7 186.96h.9v.9h-.9zM88.99 174.7h.9v.9h-.9zM91.25 183.42h.9v.9h-.9zM90.19 174.96h.9v.9h-.9zM94.76 178.46h.9v.9h-.9zM62.84 191.99h.9v.9h-.9zM93.09 178.82h.9v.9h-.9zM48.03 174.16h.9v.9h-.9zM74.95 179.03h.9v.9h-.9zM63.83 169.39h.9v.9h-.9zM68.2 171.02h.9v.9h-.9zM95.67 177.63h.9v.9h-.9zM39.96 182.5h.9v.9h-.9zM50.55 178.29h.9v.9h-.9zM55.46 189.02h.9v.9h-.9zM56.92 169.43h.9v.9h-.9zM58.69 187.59h.9v.9h-.9zM94.25 176.9h.9v.9h-.9zM55.34 185.35h.9v.9h-.9zM52.81 172.66h.9v.9h-.9zM73.07 193.04h.9v.9h-.9zM70.41 188.22h.9v.9h-.9zM95.47 184.76h.9v.9h-.9zM65.98 186.85h.9v.9h-.9zM96.29 178.52h.9v.9h-.9zM85.48 179.34h.9v.9h-.9zM42.62 186h.9v.9h-.9zM48.38 176.39h.9v.9h-.9zM63.27 171.45h.9v.9h-.9zM53.47 185.56h.9v.9h-.9zM62.71 174.23h.9v.9h-.9zM97.86 178.65h.9v.9h-.9zM62.78 181.95h.9v.9h-.9zM83.91 172.14h.9v.9h-.9zM93.1 185.66h.9v.9h-.9zM50.96 179.03h.9v.9h-.9zM75.47 167.92h.9v.9h-.9zM52.42 186.54h.9v.9h-.9zM62.68 170.09h.9v.9h-.9zM88.95 185.95h.9v.9h-.9zM90.05 175.22h.9v.9h-.9zM89.58 184.51h.9v.9h-.9zM90.86 174.95h.9v.9h-.9zM50.36 181.97h.9v.9h-.9zM94.82 175.36h.9v.9h-.9zM91.14 177.89h.9v.9h-.9zM50.1 186.65h.9v.9h-.9zM50.63 177.96h.9v.9h-.9zM91.37 184.15h.9v.9h-.9zM43.81 181.64h.9v.9h-.9zM46 178.23h.9v.9h-.9zM48.89 184.34h.9v.9h-.9zM91.54 177.11h.9v.9h-.9zM47.28 175.99h.9v.9h-.9zM72.31 169.8h.9v.9h-.9zM101.85 174.79h.9v.9h-.9zM91.59 184.31h.9v.9h-.9zM69.17 188.76h.9v.9h-.9zM81.1 187.37h.9v.9h-.9zM93.26 172.96h.9v.9h-.9zM45.64 175.84h.9v.9h-.9zM55.7 187.68h.9v.9h-.9zM65.65 187.92h.9v.9h-.9zM50.03 179.06h.9v.9h-.9zM61.72 171.61h.9v.9h-.9zM70.79 178.33h.9v.9h-.9zM57.49 189.69h.9v.9h-.9zM88.99 186.1h.9v.9h-.9zM51.99 175.52h.9v.9h-.9zM47.79 186.67h.9v.9h-.9zM49.34 180.13h.9v.9h-.9zM78.15 170.9h.9v.9h-.9zM68.1 174.72h.9v.9h-.9zM80.95 194.41h.9v.9h-.9zM73.23 191.92h.9v.9h-.9zM92.18 174.42h.9v.9h-.9zM49.31 182.08h.9v.9h-.9zM50.12 180.2h.9v.9h-.9zM83.08 171.32h.9v.9h-.9zM55.34 172.42h.9v.9h-.9zM75.6 139.89h.9v.9h-.9zM57.37 169.46h.9v.9h-.9zM61.32 171.58h.9v.9h-.9zM94.01 180.61h.9v.9h-.9zM99.26 176.32h.9v.9h-.9zM63.82 170.7h.9v.9h-.9zM60.86 179.53h.9v.9h-.9zM49.38 181.39h.9v.9h-.9zM48.76 179.41h.9v.9h-.9zM92.15 175.7h.9v.9h-.9zM51 181.4h.9v.9h-.9zM92.58 181.32h.9v.9h-.9zM46.07 186.23h.9v.9h-.9zM50.91 180.19h.9v.9h-.9zM49.66 181.57h.9v.9h-.9zM55.83 189.7h.9v.9h-.9zM49.85 182.21h.9v.9h-.9zM94.38 182.92h.9v.9h-.9zM97.47 135.72h.9v.9h-.9zM63.14 171.29h.9v.9h-.9zM87.6 185.38h.9v.9h-.9zM72.39 166.34h.9v.9h-.9zM47.3 181.58h.9v.9h-.9zM86.99 185.46h.9v.9h-.9zM93.84 180.57h.9v.9h-.9zM49.33 186.66h.9v.9h-.9zM86.62 185.74h.9v.9h-.9zM90.49 184.7h.9v.9h-.9zM75.92 164.57h.9v.9h-.9zM46.54 174.03h.9v.9h-.9zM52.53 172.79h.9v.9h-.9zM66.51 169.43h.9v.9h-.9zM70.05 173.27h.9v.9h-.9zM61.22 189.08h.9v.9h-.9zM87.83 194.39h.9v.9h-.9zM47.12 179.56h.9v.9h-.9zM74.35 181.71h.9v.9h-.9zM64.33 188.35h.9v.9h-.9zM50.76 180.32h.9v.9h-.9zM80.8 172.34h.9v.9h-.9zM60.8 170.37h.9v.9h-.9zM56.13 186.05h.9v.9h-.9zM49.19 184.41h.9v.9h-.9zM68.66 170.62h.9v.9h-.9zM65.75 170.43h.9v.9h-.9zM54.63 186.54h.9v.9h-.9zM84.49 168h.9v.9h-.9zM78.87 191.95h.9v.9h-.9zM56.07 188.99h.9v.9h-.9zM49.65 181.82h.9v.9h-.9zM92.13 180.09h.9v.9h-.9zM57.52 172.3h.9v.9h-.9zM88.66 171.81h.9v.9h-.9zM56 188.03h.9v.9h-.9zM72.05 188.18h.9v.9h-.9zM93.55 186.92h.9v.9h-.9zM89.92 173.46h.9v.9h-.9zM49.72 177.14h.9v.9h-.9zM66.41 171.15h.9v.9h-.9zM80.01 187.35h.9v.9h-.9zM69.57 178.98h.9v.9h-.9zM54.01 184.65h.9v.9h-.9zM52.54 171.59h.9v.9h-.9zM43.75 174.34h.9v.9h-.9zM92.78 184.97h.9v.9h-.9zM80.29 168.04h.9v.9h-.9zM50.58 181.28h.9v.9h-.9zM88.96 173.9h.9v.9h-.9zM91.17 184.99h.9v.9h-.9zM70.21 171.17h.9v.9h-.9zM48.81 176.81h.9v.9h-.9zM66.34 187.72h.9v.9h-.9zM54.87 158.24h.9v.9h-.9zM50.88 183.29h.9v.9h-.9zM87.6 185.38h.9v.9h-.9zM55.12 186.08h.9v.9h-.9zM63.68 188.28h.9v.9h-.9zM53.85 186.74h.9v.9h-.9zM75.07 170.23h.9v.9h-.9zM86.32 167.91h.9v.9h-.9zM90.71 185.9h.9v.9h-.9zM49.09 175.05h.9v.9h-.9zM50.44 185.89h.9v.9h-.9zM76.28 175.8h.9v.9h-.9zM48.25 185.19h.9v.9h-.9zM58.69 169.8h.9v.9h-.9zM79.54 188.95h.9v.9h-.9zM93.02 172.27h.9v.9h-.9zM61.91 187.53h.9v.9h-.9zM75.19 169.72h.9v.9h-.9zM53.75 186.14h.9v.9h-.9zM49.09 181.12h.9v.9h-.9zM85.18 191.48h.9v.9h-.9zM49.31 175.91h.9v.9h-.9zM82.78 166.55h.9v.9h-.9zM54.28 186.69h.9v.9h-.9zM57.52 182.1h.9v.9h-.9zM47.87 172.79h.9v.9h-.9zM67.3 170.85h.9v.9h-.9zM63.32 187.82h.9v.9h-.9zM77.72 170.49h.9v.9h-.9zM89.19 184.16h.9v.9h-.9zM44.49 177.09h.9v.9h-.9zM73.16 171.08h.9v.9h-.9zM64.53 181.71h.9v.9h-.9zM59.25 186.66h.9v.9h-.9zM65.63 182.69h.9v.9h-.9zM75.67 179.15h.9v.9h-.9zM58.29 188.77h.9v.9h-.9zM62.74 171.03h.9v.9h-.9zM62.8 190.67h.9v.9h-.9zM81.86 172.06h.9v.9h-.9zM81.95 181.22h.9v.9h-.9zM50.3 177.38h.9v.9h-.9zM94.83 180.32h.9v.9h-.9zM82.89 171.44h.9v.9h-.9zM77.75 170.78h.9v.9h-.9zM98 174.54h.9v.9h-.9zM86.66 187.09h.9v.9h-.9zM82.11 170.98h.9v.9h-.9zM74.48 188.35h.9v.9h-.9zM49.02 189.93h.9v.9h-.9zM79.85 191.18h.9v.9h-.9zM39.15 140.76h.9v.9h-.9zM97.43 172.09h.9v.9h-.9zM94.09 179.93h.9v.9h-.9zM59.68 170.5h.9v.9h-.9zM83.11 171.05h.9v.9h-.9zM78.45 169.07h.9v.9h-.9zM59.37 171.82h.9v.9h-.9zM64 187.43h.9v.9h-.9zM67.62 171.23h.9v.9h-.9zM52.77 174.46h.9v.9h-.9zM52.74 184.27h.9v.9h-.9zM94.15 174.4h.9v.9h-.9zM66.94 172.99h.9v.9h-.9z" fill="#444" opacity=".8"/><g transform="translate(71 179.5) rotate(0)"><path d="M20 0L19.79 1.75L19.18 3.08L18.17 4.25L16.76 5.27L14.98 6.14L12.84 6.87L10.36 7.45L7.52 7.86L4.26 8.12L0 8.2L-4.26 8.12L-7.52 7.86L-10.36 7.45L-12.84 6.87L-14.98 6.14L-16.76 5.27L-18.17 4.25L-19.18 3.08L-19.79 1.75L-20 0L-19.79 -1.75L-19.18 -3.08L-18.17 -4.25L-16.76 -5.27L-14.98 -6.14L-12.84 -6.87L-10.36 -7.45L-7.52 -7.86L-4.26 -8.12L-0 -8.2L4.26 -8.12L7.52 -7.86L10.36 -7.45L12.84 -6.87L14.98 -6.14L16.76 -5.27L18.17 -4.25L19.18 -3.08L19.79 -1.75Z" fill="#d0d0d0" stroke="#111" stroke-width="1.2"/><path d="M17.03 0L16.86 1.46L16.34 2.57L15.47 3.54L14.28 4.39L12.76 5.13L10.94 5.73L8.82 6.21L6.4 6.56L3.63 6.77L0 6.84L-3.63 6.77L-6.4 6.56L-8.82 6.21L-10.94 5.73L-12.76 5.13L-14.28 4.39L-15.47 3.54L-16.34 2.57L-16.86 1.46L-17.03 0L-16.86 -1.46L-16.34 -2.57L-15.47 -3.54L-14.28 -4.39L-12.76 -5.13L-10.94 -5.73L-8.82 -6.21L-6.4 -6.56L-3.63 -6.77L-0 -6.84L3.63 -6.77L6.4 -6.56L8.82 -6.21L10.94 -5.73L12.76 -5.13L14.28 -4.39L15.47 -3.54L16.34 -2.57L16.86 -1.46Z" fill="#b0b0b0"/><path d="M14.65 0L14.5 1.23L14.05 2.16L13.31 2.98L12.28 3.69L10.98 4.31L9.41 4.82L7.59 5.22L5.51 5.52L3.12 5.69L0 5.75L-3.12 5.69L-5.51 5.52L-7.59 5.22L-9.41 4.82L-10.98 4.31L-12.28 3.69L-13.31 2.98L-14.05 2.16L-14.5 1.23L-14.65 0L-14.5 -1.23L-14.05 -2.16L-13.31 -2.98L-12.28 -3.69L-10.98 -4.31L-9.41 -4.82L-7.59 -5.22L-5.51 -5.52L-3.12 -5.69L-0 -5.75L3.12 -5.69L5.51 -5.52L7.59 -5.22L9.41 -4.82L10.98 -4.31L12.28 -3.69L13.31 -2.98L14.05 -2.16L14.5 -1.23Z" fill="#8c8c8c"/><path d="M10.36 0L10.26 0.81L9.94 1.42L9.41 1.96L8.69 2.43L7.76 2.84L6.66 3.17L5.37 3.44L3.9 3.63L2.21 3.75L0 3.78L-2.21 3.75L-3.9 3.63L-5.37 3.44L-6.66 3.17L-7.76 2.84L-8.69 2.43L-9.41 1.96L-9.94 1.42L-10.26 0.81L-10.36 0L-10.26 -0.81L-9.94 -1.42L-9.41 -1.96L-8.69 -2.43L-7.76 -2.84L-6.66 -3.17L-5.37 -3.44L-3.9 -3.63L-2.21 -3.75L-0 -3.78L2.21 -3.75L3.9 -3.63L5.37 -3.44L6.66 -3.17L7.76 -2.84L8.69 -2.43L9.41 -1.96L9.94 -1.42L10.26 -0.81Z" fill="#555"/><path d="M17.03 0L16.86 1.46L16.34 2.57L15.47 3.54L14.28 4.39L12.76 5.13L10.94 5.73L8.82 6.21L6.4 6.56L3.63 6.77L0 6.84L-3.63 6.77L-6.4 6.56L-8.82 6.21L-10.94 5.73L-12.76 5.13L-14.28 4.39L-15.47 3.54L-16.34 2.57L-16.86 1.46L-17.03 0L-16.86 -1.46L-16.34 -2.57L-15.47 -3.54L-14.28 -4.39L-12.76 -5.13L-10.94 -5.73L-8.82 -6.21L-6.4 -6.56L-3.63 -6.77L-0 -6.84L3.63 -6.77L6.4 -6.56L8.82 -6.21L10.94 -5.73L12.76 -5.13L14.28 -4.39L15.47 -3.54L16.34 -2.57L16.86 -1.46ZM14.65 0L14.5 1.23L14.05 2.16L13.31 2.98L12.28 3.69L10.98 4.31L9.41 4.82L7.59 5.22L5.51 5.52L3.12 5.69L0 5.75L-3.12 5.69L-5.51 5.52L-7.59 5.22L-9.41 4.82L-10.98 4.31L-12.28 3.69L-13.31 2.98L-14.05 2.16L-14.5 1.23L-14.65 0L-14.5 -1.23L-14.05 -2.16L-13.31 -2.98L-12.28 -3.69L-10.98 -4.31L-9.41 -4.82L-7.59 -5.22L-5.51 -5.52L-3.12 -5.69L-0 -5.75L3.12 -5.69L5.51 -5.52L7.59 -5.22L9.41 -4.82L10.98 -4.31L12.28 -3.69L13.31 -2.98L14.05 -2.16L14.5 -1.23ZM12.45 0L12.33 1.01L11.94 1.78L11.31 2.46L10.44 3.05L9.33 3.55L8 3.97L6.45 4.31L4.68 4.55L2.65 4.69L0 4.74L-2.65 4.69L-4.68 4.55L-6.45 4.31L-8 3.97L-9.33 3.55L-10.44 3.05L-11.31 2.46L-11.94 1.78L-12.33 1.01L-12.45 0L-12.33 -1.01L-11.94 -1.78L-11.31 -2.46L-10.44 -3.05L-9.33 -3.55L-8 -3.97L-6.45 -4.31L-4.68 -4.55L-2.65 -4.69L-0 -4.74L2.65 -4.69L4.68 -4.55L6.45 -4.31L8 -3.97L9.33 -3.55L10.44 -3.05L11.31 -2.46L11.94 -1.78L12.33 -1.01ZM10.36 0L10.26 0.81L9.94 1.42L9.41 1.96L8.69 2.43L7.76 2.84L6.66 3.17L5.37 3.44L3.9 3.63L2.21 3.75L0 3.78L-2.21 3.75L-3.9 3.63L-5.37 3.44L-6.66 3.17L-7.76 2.84L-8.69 2.43L-9.41 1.96L-9.94 1.42L-10.26 0.81L-10.36 0L-10.26 -0.81L-9.94 -1.42L-9.41 -1.96L-8.69 -2.43L-7.76 -2.84L-6.66 -3.17L-5.37 -3.44L-3.9 -3.63L-2.21 -3.75L-0 -3.78L2.21 -3.75L3.9 -3.63L5.37 -3.44L6.66 -3.17L7.76 -2.84L8.69 -2.43L9.41 -1.96L9.94 -1.42L10.26 -0.81ZM8.35 0L8.27 0.61L8.01 1.08L7.59 1.48L7 1.84L6.26 2.14L5.36 2.4L4.33 2.6L3.14 2.75L1.78 2.83L0 2.86L-1.78 2.83L-3.14 2.75L-4.33 2.6L-5.36 2.4L-6.26 2.14L-7 1.84L-7.59 1.48L-8.01 1.08L-8.27 0.61L-8.35 0L-8.27 -0.61L-8.01 -1.08L-7.59 -1.48L-7 -1.84L-6.26 -2.14L-5.36 -2.4L-4.33 -2.6L-3.14 -2.75L-1.78 -2.83L-0 -2.86L1.78 -2.83L3.14 -2.75L4.33 -2.6L5.36 -2.4L6.26 -2.14L7 -1.84L7.59 -1.48L8.01 -1.08L8.27 -0.61Z" fill="none" stroke="#262626" stroke-width=".95"/><path d="M6 0L5.94 0.42L5.75 0.74L5.45 1.02L5.03 1.26L4.49 1.47L3.85 1.65L3.11 1.79L2.25 1.89L1.28 1.95L0 1.97L-1.28 1.95L-2.25 1.89L-3.11 1.79L-3.85 1.65L-4.49 1.47L-5.03 1.26L-5.45 1.02L-5.75 0.74L-5.94 0.42L-6 0L-5.94 -0.42L-5.75 -0.74L-5.45 -1.02L-5.03 -1.26L-4.49 -1.47L-3.85 -1.65L-3.11 -1.79L-2.25 -1.89L-1.28 -1.95L-0 -1.97L1.28 -1.95L2.25 -1.89L3.11 -1.79L3.85 -1.65L4.49 -1.47L5.03 -1.26L5.45 -1.02L5.75 -0.74L5.94 -0.42Z" fill="#2e2e2e"/><ellipse cx="0" cy="0" rx="4" ry="0.6" fill="#eee"/></g>
</svg>
<path d="M71 125.6V195.8M35 168.6H105.5" stroke="#3030a8" stroke-width="1.3" fill="none"/>
<rect x="35" y="125.6" width="70.5" height="70.2" fill="none" stroke="#111" stroke-width="1.5"/>
<path d="M34.4 194.3h-2.2M36.5 196.4v2.2M34.4 192.8h-1.6M38 196.4v1.6M34.4 191.3h-1.6M39.5 196.4v1.6M34.4 189.8h-2.2M41 196.4v2.2M34.4 188.3h-1.6M42.5 196.4v1.6M34.4 186.8h-1.6M44 196.4v1.6M34.4 185.3h-1.6M45.5 196.4v1.6M34.4 183.8h-2.2M47 196.4v2.2M34.4 182.3h-1.6M48.5 196.4v1.6M34.4 178.99h-1.6M51.81 196.4v1.6M34.4 176.3h-1.6M54.5 196.4v1.6M34.4 174.2h-1.6M56.6 196.4v1.6M34.4 172.49h-1.6M58.31 196.4v1.6M34.4 171.05h-1.6M59.75 196.4v1.6M34.4 169.79h-1.6M61.01 196.4v1.6M34.4 168.69h-1.6M62.11 196.4v1.6M34.4 167.7h-2.8M63.1 196.4v2.8M34.4 161.2h-1.6M69.6 196.4v1.6M34.4 157.39h-1.6M73.41 196.4v1.6M34.4 154.7h-1.6M76.1 196.4v1.6M34.4 152.6h-1.6M78.2 196.4v1.6M34.4 150.89h-1.6M79.91 196.4v1.6M34.4 149.45h-1.6M81.35 196.4v1.6M34.4 148.19h-1.6M82.61 196.4v1.6M34.4 147.09h-1.6M83.71 196.4v1.6M34.4 146.1h-2.8M84.7 196.4v2.8M34.4 139.6h-1.6M91.2 196.4v1.6M34.4 135.79h-1.6M95.01 196.4v1.6M34.4 133.1h-1.6M97.7 196.4v1.6M34.4 131h-1.6M99.8 196.4v1.6M34.4 129.29h-1.6M101.51 196.4v1.6M34.4 127.85h-1.6M102.95 196.4v1.6" stroke="#111" stroke-width="0.9" fill="none"/>
<path d="M34.7 125.6V196.1H105.5" stroke="#111" stroke-width="1" fill="none"/>
<svg x="114.3" y="125.6" width="70.5" height="70.2" viewBox="114.3 125.6 70.5 70.2" overflow="hidden">
<path d="M152.11 179.01h.9v.9h-.9zM161.42 177.1h.9v.9h-.9zM140.12 186.95h.9v.9h-.9zM152.65 175.3h.9v.9h-.9zM171.51 167.31h.9v.9h-.9zM157.13 145.57h.9v.9h-.9zM175.3 157.33h.9v.9h-.9zM142.3 188.56h.9v.9h-.9zM167.42 157.47h.9v.9h-.9zM168.42 152.69h.9v.9h-.9zM143.77 183.17h.9v.9h-.9zM167.87 159.42h.9v.9h-.9zM163.17 177.15h.9v.9h-.9zM149.74 187.02h.9v.9h-.9zM179.85 153.31h.9v.9h-.9zM134.82 175.51h.9v.9h-.9zM173.24 165.83h.9v.9h-.9zM134.13 178.29h.9v.9h-.9zM162.07 152.81h.9v.9h-.9zM136.73 173.44h.9v.9h-.9zM135.06 177.88h.9v.9h-.9zM144.17 164.6h.9v.9h-.9zM134.55 175.95h.9v.9h-.9zM147.67 182.82h.9v.9h-.9zM142.11 185.41h.9v.9h-.9zM138.04 183.43h.9v.9h-.9zM145.85 160.83h.9v.9h-.9zM153.37 156.06h.9v.9h-.9zM174.96 163.68h.9v.9h-.9zM166.8 172.17h.9v.9h-.9zM177.73 159.38h.9v.9h-.9zM166.18 149.79h.9v.9h-.9zM155.52 190.53h.9v.9h-.9zM157.08 180.1h.9v.9h-.9zM174.63 164.57h.9v.9h-.9zM163.1 154.55h.9v.9h-.9zM152.54 159.09h.9v.9h-.9zM133.6 179.81h.9v.9h-.9zM136.23 184.79h.9v.9h-.9zM145.39 164.46h.9v.9h-.9zM153.52 156.11h.9v.9h-.9zM176.54 151.06h.9v.9h-.9zM137.72 193.27h.9v.9h-.9zM135.06 179.84h.9v.9h-.9zM155.14 179.98h.9v.9h-.9zM144.35 183.98h.9v.9h-.9zM143.53 188.86h.9v.9h-.9zM178.37 163.1h.9v.9h-.9zM148.09 177.34h.9v.9h-.9zM146.19 180.94h.9v.9h-.9zM149.27 183.18h.9v.9h-.9zM166.33 172.64h.9v.9h-.9zM133.28 180.09h.9v.9h-.9zM165.23 152.78h.9v.9h-.9zM151.69 184.64h.9v.9h-.9zM148.88 185.22h.9v.9h-.9zM133.57 182.58h.9v.9h-.9zM132.67 185.57h.9v.9h-.9zM158.87 175.56h.9v.9h-.9zM164.76 148.23h.9v.9h-.9zM131.88 178.63h.9v.9h-.9zM171.25 169.42h.9v.9h-.9zM137.76 171.8h.9v.9h-.9zM157.92 181.03h.9v.9h-.9zM165.9 175.42h.9v.9h-.9zM162.91 179.77h.9v.9h-.9zM146.93 176.62h.9v.9h-.9zM180.48 164.57h.9v.9h-.9zM153.67 182.81h.9v.9h-.9zM176.29 157.84h.9v.9h-.9zM168.24 167.79h.9v.9h-.9zM164.11 176.02h.9v.9h-.9zM171.4 150.21h.9v.9h-.9zM177.24 158.47h.9v.9h-.9zM172.86 154.64h.9v.9h-.9zM158.72 157.21h.9v.9h-.9zM174.08 165.6h.9v.9h-.9zM158.17 134.31h.9v.9h-.9zM147.23 161.03h.9v.9h-.9zM139.53 184.73h.9v.9h-.9zM159.73 177.86h.9v.9h-.9zM141.88 187.94h.9v.9h-.9zM137.1 184.88h.9v.9h-.9zM135.71 184.6h.9v.9h-.9zM141.87 165.81h.9v.9h-.9zM175.11 158.9h.9v.9h-.9zM133.28 176.75h.9v.9h-.9zM151.83 184.16h.9v.9h-.9zM154.07 158.85h.9v.9h-.9zM132.03 169.93h.9v.9h-.9zM152.96 185.58h.9v.9h-.9zM157.39 175.92h.9v.9h-.9zM141.33 163.37h.9v.9h-.9zM170.25 152.68h.9v.9h-.9zM172.78 153.66h.9v.9h-.9zM139.45 169.69h.9v.9h-.9zM135.71 173.99h.9v.9h-.9zM162.45 176.13h.9v.9h-.9zM143.36 164.14h.9v.9h-.9zM178.54 151.67h.9v.9h-.9zM179.19 158.73h.9v.9h-.9zM129.55 178.56h.9v.9h-.9zM162.2 175.41h.9v.9h-.9zM135.86 177.21h.9v.9h-.9zM145.76 176.66h.9v.9h-.9zM165.55 153.15h.9v.9h-.9zM150.47 180.37h.9v.9h-.9zM137.56 184.28h.9v.9h-.9zM162.93 177.01h.9v.9h-.9zM139.19 184.8h.9v.9h-.9zM148.97 185.88h.9v.9h-.9zM152.41 163.3h.9v.9h-.9zM165.65 155.05h.9v.9h-.9zM136.75 169.22h.9v.9h-.9zM154.71 180.32h.9v.9h-.9zM139.59 167.08h.9v.9h-.9zM175.13 168.93h.9v.9h-.9zM147.31 161.11h.9v.9h-.9zM152.88 189.52h.9v.9h-.9zM176.86 160.91h.9v.9h-.9zM154.67 179.04h.9v.9h-.9zM173.3 155.14h.9v.9h-.9zM175.64 154h.9v.9h-.9zM174.15 152.83h.9v.9h-.9zM152.18 172.67h.9v.9h-.9zM143.62 158.08h.9v.9h-.9zM178.71 156.5h.9v.9h-.9zM157.99 179.48h.9v.9h-.9zM151.95 183.46h.9v.9h-.9zM173.52 157.62h.9v.9h-.9zM142.58 182.69h.9v.9h-.9zM135.82 180.88h.9v.9h-.9zM157.7 185.59h.9v.9h-.9zM167.5 176.8h.9v.9h-.9zM154.08 181.16h.9v.9h-.9zM159.44 184.49h.9v.9h-.9zM132.56 184.03h.9v.9h-.9zM183.31 160.23h.9v.9h-.9zM157.55 167.06h.9v.9h-.9zM172.47 154.7h.9v.9h-.9zM148.83 178.85h.9v.9h-.9zM163.43 153.57h.9v.9h-.9zM131.38 184.9h.9v.9h-.9zM151.29 161.41h.9v.9h-.9zM178.99 161.06h.9v.9h-.9zM161.31 176.31h.9v.9h-.9zM173.2 155.93h.9v.9h-.9zM142.87 162.24h.9v.9h-.9zM130.63 183.07h.9v.9h-.9zM174.47 167.56h.9v.9h-.9zM174.29 153.67h.9v.9h-.9zM159.73 183.33h.9v.9h-.9zM134.4 183.95h.9v.9h-.9zM134.83 182.74h.9v.9h-.9zM152.57 192.21h.9v.9h-.9zM133.43 172.68h.9v.9h-.9zM170.58 153.03h.9v.9h-.9zM142 167.6h.9v.9h-.9zM144.61 185.28h.9v.9h-.9zM135.62 173.86h.9v.9h-.9zM138.06 184.08h.9v.9h-.9zM175.1 163.65h.9v.9h-.9zM151.67 183.58h.9v.9h-.9zM134.83 175.46h.9v.9h-.9zM162.56 176.83h.9v.9h-.9zM138.89 184.21h.9v.9h-.9zM157.59 178.04h.9v.9h-.9zM151.27 182.09h.9v.9h-.9zM174.26 157.67h.9v.9h-.9zM134.85 179.3h.9v.9h-.9zM166.74 172.94h.9v.9h-.9zM136.53 190.24h.9v.9h-.9zM154.17 193.85h.9v.9h-.9zM146.22 180.04h.9v.9h-.9zM172.34 169.51h.9v.9h-.9zM157.18 179.43h.9v.9h-.9zM179.37 160.83h.9v.9h-.9zM134.43 186.34h.9v.9h-.9zM132.92 186.44h.9v.9h-.9zM152.37 182.33h.9v.9h-.9zM141.86 178.62h.9v.9h-.9zM152.56 183.29h.9v.9h-.9zM154.75 180.54h.9v.9h-.9zM143.99 162.31h.9v.9h-.9zM180.33 161.73h.9v.9h-.9zM159.32 169.06h.9v.9h-.9zM154.35 159.35h.9v.9h-.9zM150.89 183.68h.9v.9h-.9zM142.06 185.61h.9v.9h-.9zM159.09 177.28h.9v.9h-.9zM172.19 152.53h.9v.9h-.9zM165.19 178.72h.9v.9h-.9zM141.52 174.03h.9v.9h-.9zM173.16 165.5h.9v.9h-.9zM151.51 183.43h.9v.9h-.9zM167.33 175.2h.9v.9h-.9zM179.41 158.59h.9v.9h-.9zM167.24 153.83h.9v.9h-.9zM139.07 165.09h.9v.9h-.9zM132.96 176.52h.9v.9h-.9zM139.79 187.47h.9v.9h-.9zM160.7 155.91h.9v.9h-.9zM134.47 176.89h.9v.9h-.9zM173.6 167.77h.9v.9h-.9zM162.42 181.93h.9v.9h-.9zM154.33 189.39h.9v.9h-.9zM131.29 180.66h.9v.9h-.9zM172.91 153.67h.9v.9h-.9zM173.19 165.77h.9v.9h-.9zM170.81 170.42h.9v.9h-.9zM143.74 181.37h.9v.9h-.9zM129.59 180.09h.9v.9h-.9zM168.65 177.83h.9v.9h-.9zM157.3 182.93h.9v.9h-.9zM177.43 154.91h.9v.9h-.9zM143.31 181.36h.9v.9h-.9zM158.02 174.33h.9v.9h-.9zM161.54 177.88h.9v.9h-.9zM130.68 179.19h.9v.9h-.9zM150.92 161.89h.9v.9h-.9zM132.46 175.82h.9v.9h-.9zM166.34 150.32h.9v.9h-.9zM134.3 185.84h.9v.9h-.9zM175.16 160.64h.9v.9h-.9zM178.05 147.67h.9v.9h-.9zM145.04 161.38h.9v.9h-.9zM128.42 180.69h.9v.9h-.9zM136.23 174.77h.9v.9h-.9zM174.16 166.66h.9v.9h-.9zM150.44 183.56h.9v.9h-.9zM167.86 150.38h.9v.9h-.9zM156.08 181.01h.9v.9h-.9zM137.28 181.95h.9v.9h-.9zM173.02 155.68h.9v.9h-.9zM134.14 190.88h.9v.9h-.9zM160.98 183.18h.9v.9h-.9zM164.97 155.04h.9v.9h-.9zM158.75 152.73h.9v.9h-.9zM136.45 185.35h.9v.9h-.9zM162.23 179.46h.9v.9h-.9zM166.33 174.09h.9v.9h-.9zM176.08 158.44h.9v.9h-.9zM175.97 161.27h.9v.9h-.9zM164.64 174.97h.9v.9h-.9zM133.93 175.19h.9v.9h-.9zM151.78 182.74h.9v.9h-.9zM137.8 166.47h.9v.9h-.9zM139.42 188.97h.9v.9h-.9zM156.4 182.08h.9v.9h-.9zM155.65 165.14h.9v.9h-.9zM177.51 157.3h.9v.9h-.9zM141.28 166.26h.9v.9h-.9zM174.97 163.77h.9v.9h-.9zM174.7 158.84h.9v.9h-.9zM146.98 185.84h.9v.9h-.9zM135.96 171.77h.9v.9h-.9zM131.69 180.81h.9v.9h-.9zM174.63 152.62h.9v.9h-.9zM143.36 183.89h.9v.9h-.9zM164.85 171.62h.9v.9h-.9zM140.42 165.26h.9v.9h-.9zM163.79 155.94h.9v.9h-.9zM140.86 186.31h.9v.9h-.9zM134.43 181.86h.9v.9h-.9zM167.1 154.48h.9v.9h-.9zM159.68 157.25h.9v.9h-.9zM135.11 179.86h.9v.9h-.9zM173.06 155.58h.9v.9h-.9zM166.35 174.01h.9v.9h-.9zM166.33 175.62h.9v.9h-.9zM156.14 182.05h.9v.9h-.9zM168.54 153.27h.9v.9h-.9zM135.93 172.26h.9v.9h-.9zM159.16 153.24h.9v.9h-.9zM151.41 185.41h.9v.9h-.9zM140.17 183.81h.9v.9h-.9zM140.09 186.82h.9v.9h-.9zM167.12 180.65h.9v.9h-.9zM165.67 174.87h.9v.9h-.9zM173.67 153.63h.9v.9h-.9zM166.36 154.77h.9v.9h-.9zM144.43 165.75h.9v.9h-.9zM160.84 156.31h.9v.9h-.9zM161.81 154.08h.9v.9h-.9zM172.56 168.92h.9v.9h-.9zM134.06 175.84h.9v.9h-.9zM159.91 156.03h.9v.9h-.9zM136.15 167.34h.9v.9h-.9zM177 158.13h.9v.9h-.9zM152.22 179.2h.9v.9h-.9zM157.54 161.81h.9v.9h-.9zM133.43 176.76h.9v.9h-.9zM142.86 184.62h.9v.9h-.9zM174.86 165.71h.9v.9h-.9zM132.84 177.36h.9v.9h-.9zM131.82 180.64h.9v.9h-.9zM160.8 155.19h.9v.9h-.9zM145.7 179.27h.9v.9h-.9zM173.5 155.69h.9v.9h-.9zM147.48 184.85h.9v.9h-.9zM169.93 159.27h.9v.9h-.9zM159.94 155.25h.9v.9h-.9zM130.55 183.66h.9v.9h-.9zM159.91 176.77h.9v.9h-.9zM143.03 185.08h.9v.9h-.9zM143.71 183.82h.9v.9h-.9zM155.51 180.23h.9v.9h-.9zM175.9 162.61h.9v.9h-.9zM138.63 168.75h.9v.9h-.9zM153.91 183.59h.9v.9h-.9zM163.08 151.21h.9v.9h-.9zM175.43 160.4h.9v.9h-.9zM164.1 152.35h.9v.9h-.9zM159.02 184.86h.9v.9h-.9zM129.75 181.61h.9v.9h-.9zM180.43 155.33h.9v.9h-.9zM136.41 174.6h.9v.9h-.9zM141.13 168.99h.9v.9h-.9zM157.89 179.19h.9v.9h-.9zM167.79 173.24h.9v.9h-.9zM164.67 154.49h.9v.9h-.9zM142.38 176.67h.9v.9h-.9zM171.73 169.74h.9v.9h-.9zM135.48 172.24h.9v.9h-.9zM176.21 148.48h.9v.9h-.9zM133.53 186.62h.9v.9h-.9zM137.73 170.72h.9v.9h-.9zM173.75 165.01h.9v.9h-.9zM172.27 166.35h.9v.9h-.9zM176.17 162.82h.9v.9h-.9zM134.65 177.08h.9v.9h-.9zM170.91 168.94h.9v.9h-.9zM138.42 189.19h.9v.9h-.9zM144.47 167.97h.9v.9h-.9zM154.76 155.48h.9v.9h-.9zM124.72 187.22h.9v.9h-.9zM149.41 180.18h.9v.9h-.9zM148.1 162.62h.9v.9h-.9zM134.87 175.29h.9v.9h-.9zM156.66 182.85h.9v.9h-.9zM175.87 150.13h.9v.9h-.9zM138.99 168.52h.9v.9h-.9zM136.51 172.28h.9v.9h-.9zM168.78 191.22h.9v.9h-.9zM142.68 186.42h.9v.9h-.9zM163.83 178.82h.9v.9h-.9zM149.62 178.2h.9v.9h-.9zM150.21 185.01h.9v.9h-.9zM135.54 185.82h.9v.9h-.9zM159.61 179.34h.9v.9h-.9zM135.89 170.24h.9v.9h-.9zM166.18 153.98h.9v.9h-.9zM165.39 154.78h.9v.9h-.9zM174.62 163.45h.9v.9h-.9zM148.51 164.33h.9v.9h-.9zM169.06 183.82h.9v.9h-.9zM136.62 185.84h.9v.9h-.9zM176.34 164.73h.9v.9h-.9zM141.31 184.82h.9v.9h-.9zM142.26 184.48h.9v.9h-.9zM137.18 173.19h.9v.9h-.9zM176.08 157.05h.9v.9h-.9zM178.12 158.68h.9v.9h-.9zM158.26 157.66h.9v.9h-.9zM139.91 186.16h.9v.9h-.9zM160.85 176.31h.9v.9h-.9zM151.97 184.3h.9v.9h-.9zM174.25 157.51h.9v.9h-.9zM134.43 173.47h.9v.9h-.9zM132.59 177.89h.9v.9h-.9zM153.63 183.8h.9v.9h-.9zM157.21 157.56h.9v.9h-.9zM175.63 154.16h.9v.9h-.9zM155.46 163.24h.9v.9h-.9zM174.98 162.19h.9v.9h-.9zM150.66 184.38h.9v.9h-.9zM150.8 181.56h.9v.9h-.9zM178.79 158.53h.9v.9h-.9zM138.79 183.45h.9v.9h-.9zM138.95 171.02h.9v.9h-.9zM138.98 183.59h.9v.9h-.9zM137.62 184.76h.9v.9h-.9zM181.55 159.83h.9v.9h-.9zM134.47 170.64h.9v.9h-.9zM176.69 168.56h.9v.9h-.9zM177.88 149.08h.9v.9h-.9zM158.46 157.17h.9v.9h-.9zM146.96 181.88h.9v.9h-.9zM135.86 184.85h.9v.9h-.9zM173.93 171.46h.9v.9h-.9zM173.09 149.96h.9v.9h-.9zM136.17 171.81h.9v.9h-.9zM130.92 178.97h.9v.9h-.9zM175.84 160.22h.9v.9h-.9zM146.04 164.81h.9v.9h-.9zM146.65 163.38h.9v.9h-.9zM177.93 155.37h.9v.9h-.9zM154.15 184.7h.9v.9h-.9zM128.47 184.05h.9v.9h-.9zM138.87 181.1h.9v.9h-.9zM176.35 160.59h.9v.9h-.9zM129.28 172.4h.9v.9h-.9zM178.02 164.89h.9v.9h-.9zM179.26 158.2h.9v.9h-.9zM163.09 176.32h.9v.9h-.9zM147.71 163.02h.9v.9h-.9zM137.47 170.7h.9v.9h-.9zM149.99 182.74h.9v.9h-.9zM147.38 163.77h.9v.9h-.9zM134.65 175.55h.9v.9h-.9zM174.54 166.58h.9v.9h-.9zM163.83 174.72h.9v.9h-.9zM169.65 154.55h.9v.9h-.9zM147.26 184.05h.9v.9h-.9zM159.73 182.5h.9v.9h-.9zM140.82 184.71h.9v.9h-.9zM175.96 168.28h.9v.9h-.9zM174.84 153.94h.9v.9h-.9zM133.49 181.69h.9v.9h-.9zM144.94 160.49h.9v.9h-.9zM167.36 153.76h.9v.9h-.9zM163.52 172.37h.9v.9h-.9zM146.03 183.91h.9v.9h-.9zM136.11 168.64h.9v.9h-.9zM147.81 189.21h.9v.9h-.9zM148.38 183.46h.9v.9h-.9zM141.93 184.22h.9v.9h-.9zM150.3 182.14h.9v.9h-.9zM160.15 168.54h.9v.9h-.9zM160.84 154.81h.9v.9h-.9zM152.19 180.92h.9v.9h-.9zM176.39 164.31h.9v.9h-.9zM179.25 166.05h.9v.9h-.9zM161.82 184.19h.9v.9h-.9zM167.12 161.52h.9v.9h-.9zM132.68 179.63h.9v.9h-.9zM171.93 152.97h.9v.9h-.9zM167.43 173.24h.9v.9h-.9zM149.64 176.16h.9v.9h-.9zM144.92 184.01h.9v.9h-.9zM156.28 181.2h.9v.9h-.9zM137.32 182.53h.9v.9h-.9zM179.38 156.79h.9v.9h-.9zM133.74 178.32h.9v.9h-.9zM141.39 167.29h.9v.9h-.9zM159.25 157.05h.9v.9h-.9zM147.75 177.67h.9v.9h-.9zM164.03 178.42h.9v.9h-.9z" fill="#111" opacity=".9"/><path d="M139.68 186.02h.9v.9h-.9zM154.87 180.52h.9v.9h-.9zM162.39 176.17h.9v.9h-.9zM171.62 154.44h.9v.9h-.9zM176.27 163.84h.9v.9h-.9zM130.59 177.55h.9v.9h-.9zM161.69 155.43h.9v.9h-.9zM172.37 169.23h.9v.9h-.9zM162.52 176.06h.9v.9h-.9zM170.57 153.78h.9v.9h-.9zM176.69 157.16h.9v.9h-.9zM162.46 151.71h.9v.9h-.9zM148.33 163.54h.9v.9h-.9zM174.74 156.85h.9v.9h-.9zM147.89 184.24h.9v.9h-.9zM168.57 153.84h.9v.9h-.9zM130.72 185.61h.9v.9h-.9zM157.37 179.08h.9v.9h-.9zM141.53 187.61h.9v.9h-.9zM168.64 152.18h.9v.9h-.9zM136.21 185.06h.9v.9h-.9zM176.77 164.59h.9v.9h-.9zM173.62 164.97h.9v.9h-.9zM130.58 178.22h.9v.9h-.9zM147.05 164.36h.9v.9h-.9zM166.23 174.2h.9v.9h-.9zM144.9 164.55h.9v.9h-.9zM173.83 156.82h.9v.9h-.9zM136.32 184.85h.9v.9h-.9zM170.8 168.32h.9v.9h-.9zM174.92 161.3h.9v.9h-.9zM169.59 171.15h.9v.9h-.9zM165.11 173.32h.9v.9h-.9zM136.34 162.03h.9v.9h-.9zM176.26 162.95h.9v.9h-.9zM170.41 173.66h.9v.9h-.9zM155.42 189.4h.9v.9h-.9zM153.82 155.94h.9v.9h-.9zM149.38 186.89h.9v.9h-.9zM164.43 151.41h.9v.9h-.9zM162.4 175.5h.9v.9h-.9zM148.38 161.27h.9v.9h-.9zM174.6 149.3h.9v.9h-.9zM170.78 153.6h.9v.9h-.9zM169.03 169.83h.9v.9h-.9zM135.18 185.44h.9v.9h-.9zM150.96 158.49h.9v.9h-.9zM174.52 152.7h.9v.9h-.9zM156.89 180.28h.9v.9h-.9zM135.33 182.6h.9v.9h-.9zM125.84 177.93h.9v.9h-.9zM174.69 155.61h.9v.9h-.9zM175.99 168.14h.9v.9h-.9zM164.66 153.43h.9v.9h-.9zM131.92 178.92h.9v.9h-.9zM129.25 183.1h.9v.9h-.9zM129.11 169.94h.9v.9h-.9zM162.2 155.72h.9v.9h-.9zM135.35 175.12h.9v.9h-.9zM142.8 185.21h.9v.9h-.9zM163.61 155.3h.9v.9h-.9zM163 178.3h.9v.9h-.9zM134.69 175.58h.9v.9h-.9zM168.71 153h.9v.9h-.9zM156.38 187.65h.9v.9h-.9zM143.96 183.88h.9v.9h-.9zM147.09 170.7h.9v.9h-.9zM130.39 181.6h.9v.9h-.9zM152.67 160.68h.9v.9h-.9zM172.21 170.66h.9v.9h-.9zM163.4 163.49h.9v.9h-.9zM161.91 177.56h.9v.9h-.9zM162.57 181.56h.9v.9h-.9zM151.3 184.13h.9v.9h-.9zM169.17 152.71h.9v.9h-.9zM135.96 184.04h.9v.9h-.9zM145.02 184.04h.9v.9h-.9zM127.69 173.16h.9v.9h-.9zM170.02 175.91h.9v.9h-.9zM170.59 165.24h.9v.9h-.9zM156.33 179.28h.9v.9h-.9zM139.98 168.51h.9v.9h-.9zM145.8 163.67h.9v.9h-.9zM175.31 165.12h.9v.9h-.9zM135.44 177h.9v.9h-.9zM171.58 176.52h.9v.9h-.9zM133.12 184.61h.9v.9h-.9zM142.32 166.99h.9v.9h-.9zM163.28 153.54h.9v.9h-.9zM178.26 155.7h.9v.9h-.9zM157.07 176.73h.9v.9h-.9zM145.3 186.59h.9v.9h-.9zM150.2 161.4h.9v.9h-.9zM142.81 165.67h.9v.9h-.9zM147.81 180.02h.9v.9h-.9zM160 156.17h.9v.9h-.9zM175.34 157.44h.9v.9h-.9zM138.89 183.68h.9v.9h-.9zM148.12 172.72h.9v.9h-.9zM150.5 183.89h.9v.9h-.9zM152.17 160.25h.9v.9h-.9zM143.3 174.71h.9v.9h-.9zM162.18 153.9h.9v.9h-.9zM135.14 177.2h.9v.9h-.9zM146.3 164.83h.9v.9h-.9zM161.35 177.06h.9v.9h-.9zM140.79 168.5h.9v.9h-.9zM176.83 168.83h.9v.9h-.9zM145.89 180.88h.9v.9h-.9zM172.21 169.08h.9v.9h-.9zM174.6 158.14h.9v.9h-.9zM139.34 174.92h.9v.9h-.9zM156.59 183.3h.9v.9h-.9zM172.36 167.58h.9v.9h-.9zM150.53 182.21h.9v.9h-.9zM166.83 172.55h.9v.9h-.9zM166.64 152.45h.9v.9h-.9zM169.58 155.11h.9v.9h-.9zM127.21 176.44h.9v.9h-.9zM156.05 176.48h.9v.9h-.9zM151.76 187.45h.9v.9h-.9zM161.94 155.15h.9v.9h-.9zM130.94 176.93h.9v.9h-.9zM159.25 185.64h.9v.9h-.9zM130.66 170.43h.9v.9h-.9zM154.61 155.43h.9v.9h-.9zM161.99 187.34h.9v.9h-.9zM142.74 185.43h.9v.9h-.9zM138.86 183.7h.9v.9h-.9zM157.34 158.14h.9v.9h-.9zM127.94 186.35h.9v.9h-.9zM149.02 168.19h.9v.9h-.9zM175.65 163.71h.9v.9h-.9zM176.09 152.3h.9v.9h-.9zM159.02 179.45h.9v.9h-.9zM164.8 187.99h.9v.9h-.9zM170.96 155.49h.9v.9h-.9zM134.62 185.13h.9v.9h-.9zM136.56 186.8h.9v.9h-.9zM132.28 180.28h.9v.9h-.9zM159.68 178.47h.9v.9h-.9zM148 181.84h.9v.9h-.9zM155.29 180.05h.9v.9h-.9zM138.47 183.03h.9v.9h-.9zM134.59 179.47h.9v.9h-.9zM136.32 183.85h.9v.9h-.9zM180.31 157.65h.9v.9h-.9zM137.8 168.28h.9v.9h-.9zM139.9 188.46h.9v.9h-.9zM134.56 169.95h.9v.9h-.9zM176.54 159.26h.9v.9h-.9zM148.08 165.63h.9v.9h-.9zM145.56 170.63h.9v.9h-.9zM144.99 165.78h.9v.9h-.9zM140.22 182.59h.9v.9h-.9zM172.84 153.45h.9v.9h-.9zM129.83 171.52h.9v.9h-.9zM144.42 183.83h.9v.9h-.9zM172.4 166.46h.9v.9h-.9zM137.36 172.17h.9v.9h-.9zM173.78 157.56h.9v.9h-.9zM155.28 179.67h.9v.9h-.9zM145.09 183.63h.9v.9h-.9zM157.18 151.41h.9v.9h-.9zM141 183.98h.9v.9h-.9zM172.72 171.06h.9v.9h-.9zM135.15 176.97h.9v.9h-.9zM174.85 163.77h.9v.9h-.9zM176.15 153.36h.9v.9h-.9zM143.22 167.1h.9v.9h-.9zM148.03 187.02h.9v.9h-.9zM119.9 129.81h.9v.9h-.9zM175.83 152.22h.9v.9h-.9zM145.14 184.9h.9v.9h-.9zM150.28 182.33h.9v.9h-.9zM161.52 156.44h.9v.9h-.9zM136.69 187.27h.9v.9h-.9zM151.64 184.91h.9v.9h-.9zM173.47 153.15h.9v.9h-.9zM175.03 164.99h.9v.9h-.9zM173.79 164.76h.9v.9h-.9zM155.44 174.51h.9v.9h-.9zM149.74 183.14h.9v.9h-.9zM161.46 180.4h.9v.9h-.9zM131.87 184.3h.9v.9h-.9zM158.04 150.9h.9v.9h-.9zM133.4 177.49h.9v.9h-.9zM131.93 176.26h.9v.9h-.9zM173.3 165.08h.9v.9h-.9zM133.79 174.03h.9v.9h-.9zM155.48 179.6h.9v.9h-.9zM161.7 177.55h.9v.9h-.9zM172.49 173.33h.9v.9h-.9zM179.68 163.04h.9v.9h-.9zM135.02 174.98h.9v.9h-.9zM134.2 185.84h.9v.9h-.9zM149.92 182.08h.9v.9h-.9zM173.3 170.29h.9v.9h-.9zM169.83 169.37h.9v.9h-.9zM148.01 183.8h.9v.9h-.9zM141.4 187.19h.9v.9h-.9zM136.13 171.04h.9v.9h-.9zM131.3 183.41h.9v.9h-.9zM137.5 169.12h.9v.9h-.9zM178.12 161.52h.9v.9h-.9zM164.18 173.54h.9v.9h-.9zM150.01 181.37h.9v.9h-.9zM175.85 161.98h.9v.9h-.9zM146.36 184.1h.9v.9h-.9zM157.64 157.89h.9v.9h-.9zM148.17 163.5h.9v.9h-.9zM176.2 151.17h.9v.9h-.9zM174.35 156.87h.9v.9h-.9zM134.78 181.78h.9v.9h-.9zM164.12 176.54h.9v.9h-.9zM131.36 185.65h.9v.9h-.9zM175.83 158.8h.9v.9h-.9zM154.13 159.6h.9v.9h-.9zM146.8 164.11h.9v.9h-.9zM146.58 162.26h.9v.9h-.9zM161.28 177.44h.9v.9h-.9zM131.18 178.85h.9v.9h-.9zM175.41 161.26h.9v.9h-.9zM169.27 169.99h.9v.9h-.9zM135.62 184.52h.9v.9h-.9zM139 185.85h.9v.9h-.9zM161.06 174.86h.9v.9h-.9zM163.79 171.58h.9v.9h-.9zM171.89 155.51h.9v.9h-.9zM176.46 162.14h.9v.9h-.9zM151.46 181.73h.9v.9h-.9zM148.99 183.34h.9v.9h-.9zM135.56 175.18h.9v.9h-.9zM174.11 146.82h.9v.9h-.9zM168.45 152.15h.9v.9h-.9zM134.47 180.58h.9v.9h-.9zM139.7 181h.9v.9h-.9zM133.12 178.96h.9v.9h-.9zM153.26 155.56h.9v.9h-.9zM150.84 182.36h.9v.9h-.9zM133.45 181.94h.9v.9h-.9zM167.39 159.16h.9v.9h-.9zM139.37 174.6h.9v.9h-.9zM176.62 166.82h.9v.9h-.9zM137.35 184.63h.9v.9h-.9zM132.3 177.33h.9v.9h-.9zM130.64 183.31h.9v.9h-.9zM179.17 165.69h.9v.9h-.9zM166.86 154.96h.9v.9h-.9zM151.8 183.25h.9v.9h-.9zM131.64 181.92h.9v.9h-.9zM172.84 153.01h.9v.9h-.9zM168.31 173.54h.9v.9h-.9zM148.06 186.52h.9v.9h-.9zM179.15 163.58h.9v.9h-.9zM136.01 174.05h.9v.9h-.9zM175.85 164.98h.9v.9h-.9zM163.79 153.5h.9v.9h-.9zM135.34 170.38h.9v.9h-.9zM132.23 179.32h.9v.9h-.9zM135.28 171.88h.9v.9h-.9zM138.79 158.36h.9v.9h-.9zM165.64 183.37h.9v.9h-.9zM135.54 171.77h.9v.9h-.9zM153.13 180.83h.9v.9h-.9zM155.37 182.89h.9v.9h-.9zM142.75 186.36h.9v.9h-.9zM179.5 158.53h.9v.9h-.9zM142.31 187.67h.9v.9h-.9zM170.74 171.12h.9v.9h-.9zM146.61 183.17h.9v.9h-.9zM157.43 180.79h.9v.9h-.9zM177.86 165.7h.9v.9h-.9zM140.55 167.36h.9v.9h-.9zM154.06 159.16h.9v.9h-.9zM153.54 176.5h.9v.9h-.9z" fill="#444" opacity=".8"/><g transform="translate(155 169.5) rotate(-32)"><path d="M22 0L21.77 1.81L21.1 3.19L19.98 4.4L18.44 5.46L16.48 6.37L14.13 7.12L11.39 7.72L8.27 8.15L4.69 8.41L0 8.5L-4.69 8.41L-8.27 8.15L-11.39 7.72L-14.13 7.12L-16.48 6.37L-18.44 5.46L-19.98 4.4L-21.1 3.19L-21.77 1.81L-22 0L-21.77 -1.81L-21.1 -3.19L-19.98 -4.4L-18.44 -5.46L-16.48 -6.37L-14.13 -7.12L-11.39 -7.72L-8.27 -8.15L-4.69 -8.41L-0 -8.5L4.69 -8.41L8.27 -8.15L11.39 -7.72L14.13 -7.12L16.48 -6.37L18.44 -5.46L19.98 -4.4L21.1 -3.19L21.77 -1.81Z" fill="#d0d0d0" stroke="#111" stroke-width="1.2"/><path d="M20.18 0L19.98 1.51L19.41 2.67L18.46 3.67L17.14 4.55L15.48 5.31L13.47 5.94L11.14 6.44L8.48 6.8L5.43 7.02L1.44 7.09L-2.55 7.02L-5.6 6.8L-8.26 6.44L-10.59 5.94L-12.6 5.31L-14.27 4.55L-15.58 3.67L-16.53 2.67L-17.11 1.51L-17.3 0L-17.11 -1.51L-16.53 -2.67L-15.58 -3.67L-14.27 -4.55L-12.6 -5.31L-10.59 -5.94L-8.26 -6.44L-5.6 -6.8L-2.55 -7.02L1.44 -7.09L5.43 -7.02L8.48 -6.8L11.14 -6.44L13.47 -5.94L15.48 -5.31L17.14 -4.55L18.46 -3.67L19.41 -2.67L19.98 -1.51Z" fill="#b0b0b0"/><path d="M18.71 0L18.55 1.27L18.05 2.24L17.24 3.09L16.1 3.83L14.67 4.47L12.95 5L10.94 5.41L8.65 5.72L6.03 5.9L2.59 5.96L-0.84 5.9L-3.46 5.72L-5.75 5.41L-7.76 5L-9.48 4.47L-10.92 3.83L-12.05 3.09L-12.87 2.24L-13.36 1.27L-13.53 0L-13.36 -1.27L-12.87 -2.24L-12.05 -3.09L-10.92 -3.83L-9.48 -4.47L-7.76 -5L-5.75 -5.41L-3.46 -5.72L-0.84 -5.9L2.59 -5.96L6.03 -5.9L8.65 -5.72L10.94 -5.41L12.95 -5L14.67 -4.47L16.1 -3.83L17.24 -3.09L18.05 -2.24L18.55 -1.27Z" fill="#8c8c8c"/><path d="M16.08 0L15.96 0.84L15.61 1.47L15.03 2.03L14.23 2.52L13.22 2.94L12 3.29L10.58 3.56L8.96 3.76L7.11 3.88L4.68 3.92L2.25 3.88L0.39 3.76L-1.23 3.56L-2.65 3.29L-3.87 2.94L-4.88 2.52L-5.68 2.03L-6.26 1.47L-6.61 0.84L-6.73 0L-6.61 -0.84L-6.26 -1.47L-5.68 -2.03L-4.88 -2.52L-3.87 -2.94L-2.65 -3.29L-1.23 -3.56L0.39 -3.76L2.25 -3.88L4.68 -3.92L7.11 -3.88L8.96 -3.76L10.58 -3.56L12 -3.29L13.22 -2.94L14.23 -2.52L15.03 -2.03L15.61 -1.47L15.96 -0.84Z" fill="#555"/><path d="M20.18 0L19.98 1.51L19.41 2.67L18.46 3.67L17.14 4.55L15.48 5.31L13.47 5.94L11.14 6.44L8.48 6.8L5.43 7.02L1.44 7.09L-2.55 7.02L-5.6 6.8L-8.26 6.44L-10.59 5.94L-12.6 5.31L-14.27 4.55L-15.58 3.67L-16.53 2.67L-17.11 1.51L-17.3 0L-17.11 -1.51L-16.53 -2.67L-15.58 -3.67L-14.27 -4.55L-12.6 -5.31L-10.59 -5.94L-8.26 -6.44L-5.6 -6.8L-2.55 -7.02L1.44 -7.09L5.43 -7.02L8.48 -6.8L11.14 -6.44L13.47 -5.94L15.48 -5.31L17.14 -4.55L18.46 -3.67L19.41 -2.67L19.98 -1.51ZM18.71 0L18.55 1.27L18.05 2.24L17.24 3.09L16.1 3.83L14.67 4.47L12.95 5L10.94 5.41L8.65 5.72L6.03 5.9L2.59 5.96L-0.84 5.9L-3.46 5.72L-5.75 5.41L-7.76 5L-9.48 4.47L-10.92 3.83L-12.05 3.09L-12.87 2.24L-13.36 1.27L-13.53 0L-13.36 -1.27L-12.87 -2.24L-12.05 -3.09L-10.92 -3.83L-9.48 -4.47L-7.76 -5L-5.75 -5.41L-3.46 -5.72L-0.84 -5.9L2.59 -5.96L6.03 -5.9L8.65 -5.72L10.94 -5.41L12.95 -5L14.67 -4.47L16.1 -3.83L17.24 -3.09L18.05 -2.24L18.55 -1.27ZM17.36 0L17.22 1.05L16.8 1.85L16.11 2.55L15.14 3.16L13.93 3.68L12.46 4.12L10.76 4.47L8.81 4.71L6.58 4.87L3.66 4.92L0.74 4.87L-1.49 4.71L-3.43 4.47L-5.14 4.12L-6.6 3.68L-7.82 3.16L-8.78 2.55L-9.48 1.85L-9.9 1.05L-10.04 0L-9.9 -1.05L-9.48 -1.85L-8.78 -2.55L-7.82 -3.16L-6.6 -3.68L-5.14 -4.12L-3.43 -4.47L-1.49 -4.71L0.74 -4.87L3.66 -4.92L6.58 -4.87L8.81 -4.71L10.76 -4.47L12.46 -4.12L13.93 -3.68L15.14 -3.16L16.11 -2.55L16.8 -1.85L17.22 -1.05ZM16.08 0L15.96 0.84L15.61 1.47L15.03 2.03L14.23 2.52L13.22 2.94L12 3.29L10.58 3.56L8.96 3.76L7.11 3.88L4.68 3.92L2.25 3.88L0.39 3.76L-1.23 3.56L-2.65 3.29L-3.87 2.94L-4.88 2.52L-5.68 2.03L-6.26 1.47L-6.61 0.84L-6.73 0L-6.61 -0.84L-6.26 -1.47L-5.68 -2.03L-4.88 -2.52L-3.87 -2.94L-2.65 -3.29L-1.23 -3.56L0.39 -3.76L2.25 -3.88L4.68 -3.92L7.11 -3.88L8.96 -3.76L10.58 -3.56L12 -3.29L13.22 -2.94L14.23 -2.52L15.03 -2.03L15.61 -1.47L15.96 -0.84ZM14.84 0L14.75 0.63L14.46 1.12L14 1.54L13.35 1.91L12.54 2.22L11.55 2.49L10.41 2.7L9.11 2.85L7.61 2.94L5.65 2.97L3.69 2.94L2.2 2.85L0.89 2.7L-0.25 2.49L-1.23 2.22L-2.05 1.91L-2.69 1.54L-3.16 1.12L-3.44 0.63L-3.54 0L-3.44 -0.63L-3.16 -1.12L-2.69 -1.54L-2.05 -1.91L-1.23 -2.22L-0.25 -2.49L0.89 -2.7L2.2 -2.85L3.69 -2.94L5.65 -2.97L7.61 -2.94L9.11 -2.85L10.41 -2.7L11.55 -2.49L12.54 -2.22L13.35 -1.91L14 -1.54L14.46 -1.12L14.75 -0.63Z" fill="none" stroke="#262626" stroke-width=".95"/><path d="M13.2 0L13.13 0.43L12.93 0.77L12.59 1.06L12.13 1.31L11.54 1.53L10.84 1.71L10.02 1.85L9.08 1.96L8.01 2.02L6.6 2.04L5.19 2.02L4.12 1.96L3.18 1.85L2.36 1.71L1.66 1.53L1.07 1.31L0.61 1.06L0.27 0.77L0.07 0.43L0 0L0.07 -0.43L0.27 -0.77L0.61 -1.06L1.07 -1.31L1.66 -1.53L2.36 -1.71L3.18 -1.85L4.12 -1.96L5.19 -2.02L6.6 -2.04L8.01 -2.02L9.08 -1.96L10.02 -1.85L10.84 -1.71L11.54 -1.53L12.13 -1.31L12.59 -1.06L12.93 -0.77L13.13 -0.43Z" fill="#2e2e2e"/><ellipse cx="6.6" cy="0" rx="4.4" ry="0.6" fill="#eee"/></g>
</svg>
<path d="M150.3 125.6V195.8M114.3 168.6H184.8" stroke="#3030a8" stroke-width="1.3" fill="none"/>
<rect x="114.3" y="125.6" width="70.5" height="70.2" fill="none" stroke="#111" stroke-width="1.5"/>
<path d="M113.7 194.3h-2.2M115.8 196.4v2.2M113.7 192.8h-1.6M117.3 196.4v1.6M113.7 191.3h-1.6M118.8 196.4v1.6M113.7 189.8h-2.2M120.3 196.4v2.2M113.7 188.3h-1.6M121.8 196.4v1.6M113.7 186.8h-1.6M123.3 196.4v1.6M113.7 185.3h-1.6M124.8 196.4v1.6M113.7 183.8h-2.2M126.3 196.4v2.2M113.7 182.3h-1.6M127.8 196.4v1.6M113.7 178.99h-1.6M131.11 196.4v1.6M113.7 176.3h-1.6M133.8 196.4v1.6M113.7 174.2h-1.6M135.9 196.4v1.6M113.7 172.49h-1.6M137.61 196.4v1.6M113.7 171.05h-1.6M139.05 196.4v1.6M113.7 169.79h-1.6M140.31 196.4v1.6M113.7 168.69h-1.6M141.41 196.4v1.6M113.7 167.7h-2.8M142.4 196.4v2.8M113.7 161.2h-1.6M148.9 196.4v1.6M113.7 157.39h-1.6M152.71 196.4v1.6M113.7 154.7h-1.6M155.4 196.4v1.6M113.7 152.6h-1.6M157.5 196.4v1.6M113.7 150.89h-1.6M159.21 196.4v1.6M113.7 149.45h-1.6M160.65 196.4v1.6M113.7 148.19h-1.6M161.91 196.4v1.6M113.7 147.09h-1.6M163.01 196.4v1.6M113.7 146.1h-2.8M164 196.4v2.8M113.7 139.6h-1.6M170.5 196.4v1.6M113.7 135.79h-1.6M174.31 196.4v1.6M113.7 133.1h-1.6M177 196.4v1.6M113.7 131h-1.6M179.1 196.4v1.6M113.7 129.29h-1.6M180.81 196.4v1.6M113.7 127.85h-1.6M182.25 196.4v1.6" stroke="#111" stroke-width="0.9" fill="none"/>
<path d="M114 125.6V196.1H184.8" stroke="#111" stroke-width="1" fill="none"/>
<svg x="193.8" y="125.6" width="70.5" height="70.2" viewBox="193.8 125.6 70.5 70.2" overflow="hidden">
<path d="M242.87 152.41h.9v.9h-.9zM252.29 154.3h.9v.9h-.9zM240.47 151.12h.9v.9h-.9zM218.24 187.2h.9v.9h-.9zM227.41 158.43h.9v.9h-.9zM233.21 180.94h.9v.9h-.9zM215.36 185.1h.9v.9h-.9zM213.33 176.62h.9v.9h-.9zM218.69 188.76h.9v.9h-.9zM247.62 153.71h.9v.9h-.9zM240.54 178.52h.9v.9h-.9zM247.85 153.22h.9v.9h-.9zM224.31 187.03h.9v.9h-.9zM260.75 165.1h.9v.9h-.9zM255.31 155.07h.9v.9h-.9zM213.15 178.87h.9v.9h-.9zM250.58 177.06h.9v.9h-.9zM213.83 188.66h.9v.9h-.9zM228.16 179.47h.9v.9h-.9zM230.33 160.34h.9v.9h-.9zM227.97 184.85h.9v.9h-.9zM226.88 186.97h.9v.9h-.9zM235.81 185.85h.9v.9h-.9zM250.4 185.63h.9v.9h-.9zM215.38 167.25h.9v.9h-.9zM219.21 179.65h.9v.9h-.9zM209.04 176.87h.9v.9h-.9zM244.39 153.37h.9v.9h-.9zM247.49 173.3h.9v.9h-.9zM249.37 154.03h.9v.9h-.9zM218.23 190.41h.9v.9h-.9zM251.65 168.03h.9v.9h-.9zM214.98 166.88h.9v.9h-.9zM256.15 164.46h.9v.9h-.9zM253.79 153.11h.9v.9h-.9zM218.38 170.03h.9v.9h-.9zM211.33 182.06h.9v.9h-.9zM230.45 185.75h.9v.9h-.9zM223.83 186.84h.9v.9h-.9zM213.56 186.85h.9v.9h-.9zM234.61 186.3h.9v.9h-.9zM214.16 175.7h.9v.9h-.9zM237.85 184.59h.9v.9h-.9zM215.79 179.58h.9v.9h-.9zM226.67 161.96h.9v.9h-.9zM235.1 181.21h.9v.9h-.9zM214.95 173.92h.9v.9h-.9zM231.82 183.3h.9v.9h-.9zM224.09 188.84h.9v.9h-.9zM238.65 184.86h.9v.9h-.9zM219.3 189.49h.9v.9h-.9zM240.13 154.34h.9v.9h-.9zM254.17 150.03h.9v.9h-.9zM224.61 181.93h.9v.9h-.9zM223.37 164.06h.9v.9h-.9zM219.27 166.6h.9v.9h-.9zM226.19 186.61h.9v.9h-.9zM228.31 179.8h.9v.9h-.9zM252.78 153.44h.9v.9h-.9zM208.81 184.9h.9v.9h-.9zM209.16 177.14h.9v.9h-.9zM214.89 162.85h.9v.9h-.9zM212.75 175.9h.9v.9h-.9zM208.03 179.18h.9v.9h-.9zM197.81 156.58h.9v.9h-.9zM232.79 148.92h.9v.9h-.9zM230.05 181.42h.9v.9h-.9zM230.37 166.09h.9v.9h-.9zM210.71 177.91h.9v.9h-.9zM230.31 177.85h.9v.9h-.9zM208.25 180.91h.9v.9h-.9zM227.72 183.26h.9v.9h-.9zM254.08 164.72h.9v.9h-.9zM254.78 156.45h.9v.9h-.9zM233.52 192.82h.9v.9h-.9zM227.33 159.57h.9v.9h-.9zM252.94 155.29h.9v.9h-.9zM237.44 179.87h.9v.9h-.9zM209.96 187.26h.9v.9h-.9zM214.74 174.19h.9v.9h-.9zM224.49 194.25h.9v.9h-.9zM255.11 159.15h.9v.9h-.9zM238.81 156.89h.9v.9h-.9zM211.66 187.48h.9v.9h-.9zM240.06 155.71h.9v.9h-.9zM231.56 185.1h.9v.9h-.9zM214.41 189.28h.9v.9h-.9zM242.56 178.42h.9v.9h-.9zM244.87 166.83h.9v.9h-.9zM243.07 149.78h.9v.9h-.9zM229.99 157.99h.9v.9h-.9zM228.95 161.71h.9v.9h-.9zM253.35 166.74h.9v.9h-.9zM216.37 185.74h.9v.9h-.9zM247.48 154.15h.9v.9h-.9zM221.28 188.16h.9v.9h-.9zM250.45 154.53h.9v.9h-.9zM217.59 145.57h.9v.9h-.9zM259.46 160.91h.9v.9h-.9zM233.18 156.6h.9v.9h-.9zM232.32 185.4h.9v.9h-.9zM212.76 171.68h.9v.9h-.9zM232.53 184.06h.9v.9h-.9zM212.46 176.78h.9v.9h-.9zM224.57 182.31h.9v.9h-.9zM245.32 178.44h.9v.9h-.9zM242.52 176.09h.9v.9h-.9zM243.64 178.53h.9v.9h-.9zM234.8 179.03h.9v.9h-.9zM238.61 172.32h.9v.9h-.9zM231.66 157.64h.9v.9h-.9zM252.66 168.92h.9v.9h-.9zM228.27 186.83h.9v.9h-.9zM247.42 169.69h.9v.9h-.9zM252.01 156.52h.9v.9h-.9zM210.8 179.01h.9v.9h-.9zM212.72 172.06h.9v.9h-.9zM223.69 184.14h.9v.9h-.9zM233.01 186.86h.9v.9h-.9zM247.55 150h.9v.9h-.9zM240.24 185.16h.9v.9h-.9zM239.39 173.61h.9v.9h-.9zM240.67 154.79h.9v.9h-.9zM250.24 171.97h.9v.9h-.9zM254.8 164.62h.9v.9h-.9zM222.13 182.29h.9v.9h-.9zM253.74 163.31h.9v.9h-.9zM221.38 165.34h.9v.9h-.9zM227.41 162.96h.9v.9h-.9zM246.45 176.95h.9v.9h-.9zM217.99 186.52h.9v.9h-.9zM212.96 180.12h.9v.9h-.9zM248.31 153.32h.9v.9h-.9zM250.96 168.26h.9v.9h-.9zM221.02 167.66h.9v.9h-.9zM234.97 160.32h.9v.9h-.9zM224.4 194.09h.9v.9h-.9zM215.24 184.96h.9v.9h-.9zM248.96 171.69h.9v.9h-.9zM235.32 138.91h.9v.9h-.9zM238.43 178.25h.9v.9h-.9zM230.77 183.12h.9v.9h-.9zM227.68 188.19h.9v.9h-.9zM210.37 181.45h.9v.9h-.9zM224.89 191.65h.9v.9h-.9zM209.61 183.05h.9v.9h-.9zM237.97 159.62h.9v.9h-.9zM241.32 170.93h.9v.9h-.9zM212.79 178.84h.9v.9h-.9zM259.4 159.25h.9v.9h-.9zM214.29 184.9h.9v.9h-.9zM253.75 160.16h.9v.9h-.9zM216.6 167.74h.9v.9h-.9zM226.23 187.74h.9v.9h-.9zM228.44 186.15h.9v.9h-.9zM255.59 163.83h.9v.9h-.9zM219.72 170.86h.9v.9h-.9zM225.81 162.29h.9v.9h-.9zM230.35 183.01h.9v.9h-.9zM219.32 178.27h.9v.9h-.9zM231.93 186.56h.9v.9h-.9zM247.21 168.99h.9v.9h-.9zM244.53 174.66h.9v.9h-.9zM221.14 183.72h.9v.9h-.9zM220.89 165.38h.9v.9h-.9zM232.45 157.68h.9v.9h-.9zM213.8 168.24h.9v.9h-.9zM206.84 181.8h.9v.9h-.9zM243.62 177h.9v.9h-.9zM220.16 182.49h.9v.9h-.9zM238.31 183.35h.9v.9h-.9zM244.46 177.06h.9v.9h-.9zM221.24 167.17h.9v.9h-.9zM255.31 152.53h.9v.9h-.9zM240.72 154.29h.9v.9h-.9zM233.61 184.52h.9v.9h-.9zM231.42 187.41h.9v.9h-.9zM246.73 152.57h.9v.9h-.9zM224.63 162.24h.9v.9h-.9zM223.51 186.98h.9v.9h-.9zM213.23 177.55h.9v.9h-.9zM244.46 146.59h.9v.9h-.9zM230.24 188.84h.9v.9h-.9zM216.79 185.98h.9v.9h-.9zM245.61 154.77h.9v.9h-.9zM251.19 167.59h.9v.9h-.9zM210.14 176.11h.9v.9h-.9zM253.04 164.59h.9v.9h-.9zM232.2 193.35h.9v.9h-.9zM253.32 160.68h.9v.9h-.9zM250.18 155.87h.9v.9h-.9zM213.89 173.18h.9v.9h-.9zM258.15 167.29h.9v.9h-.9zM240.43 154.33h.9v.9h-.9zM220.17 186.63h.9v.9h-.9zM230.7 157.84h.9v.9h-.9zM217.89 177.64h.9v.9h-.9zM238.23 155.56h.9v.9h-.9zM237.08 190.17h.9v.9h-.9zM228.41 179.73h.9v.9h-.9zM244.34 177.2h.9v.9h-.9zM227.65 180.56h.9v.9h-.9zM254.19 159.07h.9v.9h-.9zM211.88 175.67h.9v.9h-.9zM216.46 188.23h.9v.9h-.9zM234.73 161.61h.9v.9h-.9zM212.26 175.84h.9v.9h-.9zM213.25 178.23h.9v.9h-.9zM211.59 194.1h.9v.9h-.9zM249.6 152.34h.9v.9h-.9zM216.34 189.4h.9v.9h-.9zM218.21 191.86h.9v.9h-.9zM239.45 151.38h.9v.9h-.9zM227.1 186.75h.9v.9h-.9zM234.34 156.23h.9v.9h-.9zM209.83 182.42h.9v.9h-.9zM230 178.48h.9v.9h-.9zM215.96 170.61h.9v.9h-.9zM212.02 178.22h.9v.9h-.9zM222.14 164.8h.9v.9h-.9zM210.02 174.79h.9v.9h-.9zM254.09 161.2h.9v.9h-.9zM254.65 158.89h.9v.9h-.9zM217.18 170.15h.9v.9h-.9zM256.75 166.38h.9v.9h-.9zM212.2 185.53h.9v.9h-.9zM207.97 179.99h.9v.9h-.9zM218.48 169.49h.9v.9h-.9zM213.27 176.27h.9v.9h-.9zM238.07 180.22h.9v.9h-.9zM243.32 176.03h.9v.9h-.9zM211.6 190.29h.9v.9h-.9zM225.42 181.56h.9v.9h-.9zM239.83 184.53h.9v.9h-.9zM237.47 181.39h.9v.9h-.9zM252 168.62h.9v.9h-.9zM253.53 167.02h.9v.9h-.9zM218.17 191.18h.9v.9h-.9zM232.73 158.14h.9v.9h-.9zM233.97 190.83h.9v.9h-.9zM212.07 185.8h.9v.9h-.9zM226.8 189.81h.9v.9h-.9zM229.32 187.37h.9v.9h-.9zM225.07 161.29h.9v.9h-.9zM240.22 178.64h.9v.9h-.9zM237.22 180.28h.9v.9h-.9zM236.95 163.41h.9v.9h-.9zM218.88 188.45h.9v.9h-.9zM225.61 163.28h.9v.9h-.9zM226.77 173.85h.9v.9h-.9zM253 155.34h.9v.9h-.9zM221.1 167.76h.9v.9h-.9zM232.12 159.84h.9v.9h-.9zM241.34 178.31h.9v.9h-.9zM215.92 188.04h.9v.9h-.9zM258.77 156.87h.9v.9h-.9zM221.25 181.77h.9v.9h-.9zM213.3 173.44h.9v.9h-.9zM208.54 178.56h.9v.9h-.9zM238.75 181.34h.9v.9h-.9zM253.54 159.63h.9v.9h-.9zM226.08 187.47h.9v.9h-.9zM232.74 183.95h.9v.9h-.9zM257.5 164.01h.9v.9h-.9zM213.48 183.17h.9v.9h-.9zM219.14 168.54h.9v.9h-.9zM233.56 183.77h.9v.9h-.9zM238.23 156.69h.9v.9h-.9zM251.27 169.25h.9v.9h-.9zM225.3 160.65h.9v.9h-.9zM226.26 162.81h.9v.9h-.9zM214.92 172.07h.9v.9h-.9zM237.33 154.76h.9v.9h-.9zM247.04 154.58h.9v.9h-.9zM253.02 155.2h.9v.9h-.9zM235.14 183.39h.9v.9h-.9zM214.44 173.59h.9v.9h-.9zM221.57 163.66h.9v.9h-.9zM235.11 157.66h.9v.9h-.9zM246.52 160.85h.9v.9h-.9zM219.99 168.76h.9v.9h-.9zM225.39 162.85h.9v.9h-.9zM218.88 165.66h.9v.9h-.9zM213.47 177.72h.9v.9h-.9zM218.79 167.49h.9v.9h-.9zM214.02 184.21h.9v.9h-.9zM212.55 177.93h.9v.9h-.9zM215.92 168.34h.9v.9h-.9zM247.13 177.26h.9v.9h-.9zM217.61 189.16h.9v.9h-.9zM226.42 175.13h.9v.9h-.9zM212.29 179.93h.9v.9h-.9zM227.65 187.79h.9v.9h-.9zM261.21 153.01h.9v.9h-.9zM251.67 167.49h.9v.9h-.9zM236.68 181.4h.9v.9h-.9zM213.01 188.23h.9v.9h-.9zM253.94 162.89h.9v.9h-.9zM210.27 179.25h.9v.9h-.9zM248.29 150.11h.9v.9h-.9zM222.67 189.01h.9v.9h-.9zM221.07 167.31h.9v.9h-.9zM215.01 173.87h.9v.9h-.9zM239.14 156.57h.9v.9h-.9zM254.74 165.21h.9v.9h-.9zM220.89 187.5h.9v.9h-.9zM236.05 158.02h.9v.9h-.9zM216.37 166.91h.9v.9h-.9zM258.83 161.92h.9v.9h-.9zM254.96 158.07h.9v.9h-.9zM197.12 188.6h.9v.9h-.9zM213.09 187.69h.9v.9h-.9zM222.94 171.59h.9v.9h-.9zM210.87 182.77h.9v.9h-.9zM258.69 161.12h.9v.9h-.9zM235.8 154.39h.9v.9h-.9zM211.96 176.58h.9v.9h-.9zM246 177.17h.9v.9h-.9zM226.38 162.57h.9v.9h-.9zM213.31 185.25h.9v.9h-.9zM217.9 170.37h.9v.9h-.9zM225.66 160.09h.9v.9h-.9zM210.97 178.41h.9v.9h-.9zM235.62 155.34h.9v.9h-.9zM253.63 165.44h.9v.9h-.9zM260.21 160.61h.9v.9h-.9zM243.33 152.73h.9v.9h-.9zM251.31 157.39h.9v.9h-.9zM226.5 154.6h.9v.9h-.9zM248.19 172.44h.9v.9h-.9zM220.82 193.33h.9v.9h-.9zM214.22 190.95h.9v.9h-.9zM245.72 173.35h.9v.9h-.9zM214.67 185.72h.9v.9h-.9zM255.38 161.3h.9v.9h-.9zM218.2 186.46h.9v.9h-.9zM225.11 186.8h.9v.9h-.9zM209.82 176.46h.9v.9h-.9zM247.15 148.2h.9v.9h-.9zM243.32 153.93h.9v.9h-.9zM228.36 185.96h.9v.9h-.9zM231.28 168.72h.9v.9h-.9zM244.6 154.28h.9v.9h-.9zM250.63 154.38h.9v.9h-.9zM216.06 172.3h.9v.9h-.9zM254.97 161.64h.9v.9h-.9zM224.94 178.63h.9v.9h-.9zM231.55 157h.9v.9h-.9zM222.43 181.01h.9v.9h-.9zM254.12 160.8h.9v.9h-.9zM253.16 167.19h.9v.9h-.9zM214.39 189.35h.9v.9h-.9zM249.57 170.14h.9v.9h-.9zM249.14 152.1h.9v.9h-.9zM252.61 159.94h.9v.9h-.9zM215.18 171.66h.9v.9h-.9zM246.49 153.29h.9v.9h-.9zM234.8 158.01h.9v.9h-.9zM222.5 157.01h.9v.9h-.9zM225.96 188.38h.9v.9h-.9zM228.48 188.59h.9v.9h-.9zM250.38 170.62h.9v.9h-.9zM220.33 189.96h.9v.9h-.9zM254.59 163.34h.9v.9h-.9zM223.15 187.21h.9v.9h-.9zM211.22 187.15h.9v.9h-.9zM246.99 152.32h.9v.9h-.9zM235.67 181.43h.9v.9h-.9zM211.49 177.2h.9v.9h-.9zM212.06 186.32h.9v.9h-.9zM222.91 177.1h.9v.9h-.9zM249.93 172.61h.9v.9h-.9zM250.3 168.99h.9v.9h-.9zM231.84 184.12h.9v.9h-.9zM215.25 177.78h.9v.9h-.9zM252.98 165.57h.9v.9h-.9zM256.51 161.88h.9v.9h-.9zM208.1 191.89h.9v.9h-.9zM206.72 181.92h.9v.9h-.9zM214.88 171.84h.9v.9h-.9zM213.84 185.21h.9v.9h-.9zM229.85 160.37h.9v.9h-.9zM228.18 186.5h.9v.9h-.9zM255.12 164.22h.9v.9h-.9zM253.6 148.65h.9v.9h-.9zM240.3 153.09h.9v.9h-.9zM232.9 157.75h.9v.9h-.9zM213.45 185.35h.9v.9h-.9zM231.09 184.34h.9v.9h-.9zM252.68 151.92h.9v.9h-.9zM214.35 173.53h.9v.9h-.9zM213.98 169.56h.9v.9h-.9zM246.29 153.53h.9v.9h-.9zM217.88 170.9h.9v.9h-.9zM241.81 181.76h.9v.9h-.9zM223.9 188.56h.9v.9h-.9zM249.33 155.05h.9v.9h-.9zM255.4 169.26h.9v.9h-.9zM226.4 179.07h.9v.9h-.9zM210.78 178.02h.9v.9h-.9zM226.34 163.22h.9v.9h-.9zM222.14 161.55h.9v.9h-.9zM233.08 189.18h.9v.9h-.9zM231.31 188.24h.9v.9h-.9zM214.78 185.17h.9v.9h-.9zM241.42 153.99h.9v.9h-.9zM218.03 163.36h.9v.9h-.9zM237.92 179.32h.9v.9h-.9zM217.88 187.06h.9v.9h-.9zM216.42 190.5h.9v.9h-.9zM231.19 160h.9v.9h-.9zM209.92 176.9h.9v.9h-.9zM235.6 156.14h.9v.9h-.9zM218.53 187.72h.9v.9h-.9zM244.83 152.63h.9v.9h-.9zM220.79 165.87h.9v.9h-.9zM246.8 148.87h.9v.9h-.9zM229.78 186.59h.9v.9h-.9zM212.66 185.07h.9v.9h-.9zM232.12 168.42h.9v.9h-.9zM225.49 163.88h.9v.9h-.9zM251.03 156.86h.9v.9h-.9zM246.08 182.97h.9v.9h-.9zM222.18 165.08h.9v.9h-.9zM252.32 155.54h.9v.9h-.9zM219.31 184.73h.9v.9h-.9zM241.8 168.03h.9v.9h-.9zM238.12 156.78h.9v.9h-.9zM252.99 158.96h.9v.9h-.9z" fill="#111" opacity=".9"/><path d="M253.93 162.41h.9v.9h-.9zM224.1 165.38h.9v.9h-.9zM232.4 189.97h.9v.9h-.9zM216.75 190.04h.9v.9h-.9zM215.74 190.34h.9v.9h-.9zM213.16 178.29h.9v.9h-.9zM217.42 173.52h.9v.9h-.9zM235.2 185.05h.9v.9h-.9zM248.46 170.84h.9v.9h-.9zM229.15 157.32h.9v.9h-.9zM217.99 166.31h.9v.9h-.9zM254.79 168.91h.9v.9h-.9zM253.73 163.79h.9v.9h-.9zM238.93 156.25h.9v.9h-.9zM212.45 158.72h.9v.9h-.9zM256.2 154.5h.9v.9h-.9zM244.72 154.57h.9v.9h-.9zM241.4 163.22h.9v.9h-.9zM250.41 161.76h.9v.9h-.9zM236.11 156.67h.9v.9h-.9zM217.36 186.88h.9v.9h-.9zM253.41 165.67h.9v.9h-.9zM222.35 180.93h.9v.9h-.9zM254.17 165.42h.9v.9h-.9zM220.13 168.15h.9v.9h-.9zM225.05 184.72h.9v.9h-.9zM230.33 187.06h.9v.9h-.9zM218.49 189.3h.9v.9h-.9zM239.78 153.26h.9v.9h-.9zM223.94 162.61h.9v.9h-.9zM216.34 169.12h.9v.9h-.9zM253.13 156.82h.9v.9h-.9zM245.48 177.56h.9v.9h-.9zM235.55 177.8h.9v.9h-.9zM251.46 171.11h.9v.9h-.9zM212.66 177.93h.9v.9h-.9zM253.74 164.23h.9v.9h-.9zM208.12 180.3h.9v.9h-.9zM244.91 176.06h.9v.9h-.9zM253.53 166.27h.9v.9h-.9zM211.03 170.82h.9v.9h-.9zM226.77 186.12h.9v.9h-.9zM227.8 181.07h.9v.9h-.9zM254.87 165.96h.9v.9h-.9zM250.45 170.7h.9v.9h-.9zM213.95 170.42h.9v.9h-.9zM253.35 152.98h.9v.9h-.9zM210.47 189.73h.9v.9h-.9zM236.14 161.92h.9v.9h-.9zM212.54 188.32h.9v.9h-.9zM251.55 155.64h.9v.9h-.9zM243.86 175.04h.9v.9h-.9zM210.42 179.81h.9v.9h-.9zM241.69 169.64h.9v.9h-.9zM248.63 170.44h.9v.9h-.9zM216.33 158.4h.9v.9h-.9zM217.79 186.41h.9v.9h-.9zM249.73 155.98h.9v.9h-.9zM250.28 162.75h.9v.9h-.9zM223.31 166.05h.9v.9h-.9zM249.31 171.95h.9v.9h-.9zM225.58 179.85h.9v.9h-.9zM226.91 180.92h.9v.9h-.9zM252.25 154.18h.9v.9h-.9zM232.69 177.36h.9v.9h-.9zM242.08 153.21h.9v.9h-.9zM252.26 156.15h.9v.9h-.9zM219.54 188.65h.9v.9h-.9zM215.21 188h.9v.9h-.9zM250.87 150.83h.9v.9h-.9zM212.63 176.36h.9v.9h-.9zM256.27 163.77h.9v.9h-.9zM211.78 187.53h.9v.9h-.9zM242.49 180.35h.9v.9h-.9zM207.25 184.73h.9v.9h-.9zM222.82 165.13h.9v.9h-.9zM257.66 160.18h.9v.9h-.9zM246.25 154.38h.9v.9h-.9zM255.51 166.67h.9v.9h-.9zM234.55 157.82h.9v.9h-.9zM253.5 157.71h.9v.9h-.9zM235.48 182.26h.9v.9h-.9zM222.2 190.01h.9v.9h-.9zM254.14 158.19h.9v.9h-.9zM254.84 168.22h.9v.9h-.9zM212.92 178.25h.9v.9h-.9zM232.69 183.76h.9v.9h-.9zM227.08 185.88h.9v.9h-.9zM238.69 154.61h.9v.9h-.9zM254.13 164.91h.9v.9h-.9zM249.52 149.3h.9v.9h-.9zM215.41 171.14h.9v.9h-.9zM254.09 160.7h.9v.9h-.9zM251.65 175.05h.9v.9h-.9zM240.6 175.88h.9v.9h-.9zM211.7 180.74h.9v.9h-.9zM234.9 185.3h.9v.9h-.9zM239.62 154.49h.9v.9h-.9zM221.07 167.38h.9v.9h-.9zM253.12 156.24h.9v.9h-.9zM224.35 190.32h.9v.9h-.9zM230.07 183.93h.9v.9h-.9zM247.93 154.84h.9v.9h-.9zM217.91 186.71h.9v.9h-.9zM255.02 165.24h.9v.9h-.9zM216.16 185.7h.9v.9h-.9zM229.86 186.86h.9v.9h-.9zM244.96 174.25h.9v.9h-.9zM196.05 182.31h.9v.9h-.9zM224.53 188.33h.9v.9h-.9zM250.95 154.82h.9v.9h-.9zM232.87 174.64h.9v.9h-.9zM211.55 192.15h.9v.9h-.9zM226.62 188.29h.9v.9h-.9zM254.38 165.37h.9v.9h-.9zM245.94 177.49h.9v.9h-.9zM244.9 177.38h.9v.9h-.9zM213.3 187.9h.9v.9h-.9zM239.71 155.89h.9v.9h-.9zM219.31 169.2h.9v.9h-.9zM209.32 181.02h.9v.9h-.9zM257.44 163.8h.9v.9h-.9zM255.99 160.2h.9v.9h-.9zM253.31 167.87h.9v.9h-.9zM215.51 189.85h.9v.9h-.9zM216.1 170.42h.9v.9h-.9zM219.87 166.06h.9v.9h-.9zM238.83 154.89h.9v.9h-.9zM217.35 169.76h.9v.9h-.9zM226.33 159.17h.9v.9h-.9zM246.31 151.98h.9v.9h-.9zM228.03 182.21h.9v.9h-.9zM252.72 155.25h.9v.9h-.9zM223.76 188.79h.9v.9h-.9zM247 148.32h.9v.9h-.9zM250.57 154.05h.9v.9h-.9zM253.72 168.99h.9v.9h-.9zM244.33 175.88h.9v.9h-.9zM256.64 160.64h.9v.9h-.9zM222.7 187.09h.9v.9h-.9zM251.48 157.82h.9v.9h-.9zM232.4 158.77h.9v.9h-.9zM249.06 149.98h.9v.9h-.9zM220.88 168.14h.9v.9h-.9zM238.34 154.44h.9v.9h-.9zM216.81 188.08h.9v.9h-.9zM225.64 163.09h.9v.9h-.9zM211.86 172.54h.9v.9h-.9zM233.69 159.22h.9v.9h-.9zM235.92 156.52h.9v.9h-.9zM248.51 180.5h.9v.9h-.9zM254.02 167.39h.9v.9h-.9zM220.92 183.5h.9v.9h-.9zM214.1 187.96h.9v.9h-.9zM235.3 178.18h.9v.9h-.9zM219.01 189.28h.9v.9h-.9zM242.51 152.29h.9v.9h-.9zM244.43 178.86h.9v.9h-.9zM211.83 173.19h.9v.9h-.9zM214.29 184.1h.9v.9h-.9zM248.85 172.57h.9v.9h-.9zM219.21 187.28h.9v.9h-.9zM209 181.14h.9v.9h-.9zM215.56 188.2h.9v.9h-.9zM214.31 175.37h.9v.9h-.9zM236.04 181.03h.9v.9h-.9zM235.55 186.88h.9v.9h-.9zM236.77 176.52h.9v.9h-.9zM252.14 155.03h.9v.9h-.9zM217.68 172.53h.9v.9h-.9zM239.14 155.76h.9v.9h-.9zM255.1 170.3h.9v.9h-.9zM243.61 177.24h.9v.9h-.9zM228.63 175.61h.9v.9h-.9zM211.52 176.75h.9v.9h-.9zM229.6 156.41h.9v.9h-.9zM240.9 181.71h.9v.9h-.9zM251.3 154.39h.9v.9h-.9zM241.64 154.34h.9v.9h-.9zM211.71 185.55h.9v.9h-.9zM209.71 179.84h.9v.9h-.9zM236.75 178.18h.9v.9h-.9zM240.72 179.04h.9v.9h-.9zM250.33 168.98h.9v.9h-.9zM223.27 190.97h.9v.9h-.9zM247.94 153.92h.9v.9h-.9zM237.08 156.12h.9v.9h-.9zM234.86 185.57h.9v.9h-.9zM250.89 152.73h.9v.9h-.9zM211.5 173.17h.9v.9h-.9zM238.72 190.79h.9v.9h-.9zM232.17 155.24h.9v.9h-.9zM252.66 169.57h.9v.9h-.9zM239.75 153.84h.9v.9h-.9zM216.95 171.16h.9v.9h-.9zM252.69 171.78h.9v.9h-.9zM257.42 167.42h.9v.9h-.9zM213.41 177.41h.9v.9h-.9zM212.82 187.2h.9v.9h-.9zM219.59 163.42h.9v.9h-.9zM241.57 177.85h.9v.9h-.9zM213.11 170.88h.9v.9h-.9zM214.15 183.49h.9v.9h-.9zM239.78 179.55h.9v.9h-.9zM253.25 166.19h.9v.9h-.9zM217.58 168.78h.9v.9h-.9zM210.47 185.53h.9v.9h-.9zM255.1 164.67h.9v.9h-.9zM250.91 181.71h.9v.9h-.9zM249.77 168.18h.9v.9h-.9zM228.49 161.84h.9v.9h-.9zM236.21 180.72h.9v.9h-.9zM238.28 161.94h.9v.9h-.9zM232.68 182.85h.9v.9h-.9zM242.41 177.4h.9v.9h-.9zM220.52 183.24h.9v.9h-.9zM228.25 161.17h.9v.9h-.9zM248.3 150.91h.9v.9h-.9zM210.49 183.26h.9v.9h-.9zM231.62 181.09h.9v.9h-.9zM255.4 163.72h.9v.9h-.9zM251.65 166.84h.9v.9h-.9zM209 187.61h.9v.9h-.9zM244.95 185.55h.9v.9h-.9zM252.36 156.22h.9v.9h-.9zM237.25 185.56h.9v.9h-.9zM225.39 187.09h.9v.9h-.9zM215.33 190.16h.9v.9h-.9zM218.67 187.97h.9v.9h-.9zM249.93 170h.9v.9h-.9zM237.21 183.13h.9v.9h-.9zM251.14 168.7h.9v.9h-.9zM212.55 185.88h.9v.9h-.9zM236.64 170.83h.9v.9h-.9zM249.92 172.08h.9v.9h-.9zM239.16 155.05h.9v.9h-.9zM231.68 169.76h.9v.9h-.9zM220.88 173.72h.9v.9h-.9zM255.52 159.79h.9v.9h-.9zM253.02 168.95h.9v.9h-.9zM222.34 162.15h.9v.9h-.9zM250.58 168.43h.9v.9h-.9zM208.45 176.07h.9v.9h-.9zM258.02 156.04h.9v.9h-.9zM207.24 165.53h.9v.9h-.9zM246.3 154.83h.9v.9h-.9zM227.64 188.14h.9v.9h-.9zM215.32 173.14h.9v.9h-.9zM209.01 183.57h.9v.9h-.9zM207.85 178.99h.9v.9h-.9zM208.21 187.09h.9v.9h-.9zM252.07 166.05h.9v.9h-.9zM234.71 182.79h.9v.9h-.9zM255.94 164.3h.9v.9h-.9zM216.38 187.89h.9v.9h-.9zM207.79 181.56h.9v.9h-.9zM230.93 187.37h.9v.9h-.9zM228.14 186.86h.9v.9h-.9zM212.38 168.64h.9v.9h-.9zM227.47 161.82h.9v.9h-.9zM223.92 184.18h.9v.9h-.9zM253.21 154.11h.9v.9h-.9zM218.46 187.83h.9v.9h-.9z" fill="#444" opacity=".8"/><g transform="translate(233 171) rotate(-34)"><path d="M22.5 0L22.27 2.02L21.58 3.57L20.44 4.92L18.86 6.1L16.86 7.12L14.45 7.96L11.65 8.63L8.46 9.11L4.8 9.4L0 9.5L-4.8 9.4L-8.46 9.11L-11.65 8.63L-14.45 7.96L-16.86 7.12L-18.86 6.1L-20.44 4.92L-21.58 3.57L-22.27 2.02L-22.5 0L-22.27 -2.02L-21.58 -3.57L-20.44 -4.92L-18.86 -6.1L-16.86 -7.12L-14.45 -7.96L-11.65 -8.63L-8.46 -9.11L-4.8 -9.4L-0 -9.5L4.8 -9.4L8.46 -9.11L11.65 -8.63L14.45 -7.96L16.86 -7.12L18.86 -6.1L20.44 -4.92L21.58 -3.57L22.27 -2.02Z" fill="#d0d0d0" stroke="#111" stroke-width="1.2"/><path d="M20.64 0L20.44 1.69L19.85 2.98L18.88 4.1L17.53 5.09L15.83 5.94L13.78 6.64L11.4 7.2L8.67 7.6L5.56 7.84L1.47 7.93L-2.61 7.84L-5.73 7.6L-8.45 7.2L-10.84 6.64L-12.88 5.94L-14.59 5.09L-15.93 4.1L-16.91 2.98L-17.5 1.69L-17.69 0L-17.5 -1.69L-16.91 -2.98L-15.93 -4.1L-14.59 -5.09L-12.88 -5.94L-10.84 -6.64L-8.45 -7.2L-5.73 -7.6L-2.61 -7.84L1.47 -7.93L5.56 -7.84L8.67 -7.6L11.4 -7.2L13.78 -6.64L15.83 -5.94L17.53 -5.09L18.88 -4.1L19.85 -2.98L20.44 -1.69Z" fill="#b0b0b0"/><path d="M19.14 0L18.97 1.42L18.46 2.5L17.63 3.45L16.47 4.28L15 4.99L13.24 5.58L11.19 6.05L8.85 6.39L6.17 6.59L2.65 6.66L-0.86 6.59L-3.54 6.39L-5.88 6.05L-7.93 5.58L-9.7 4.99L-11.16 4.28L-12.32 3.45L-13.16 2.5L-13.66 1.42L-13.83 0L-13.66 -1.42L-13.16 -2.5L-12.32 -3.45L-11.16 -4.28L-9.7 -4.99L-7.93 -5.58L-5.88 -6.05L-3.54 -6.39L-0.86 -6.59L2.65 -6.66L6.17 -6.59L8.85 -6.39L11.19 -6.05L13.24 -5.58L15 -4.99L16.47 -4.28L17.63 -3.45L18.46 -2.5L18.97 -1.42Z" fill="#8c8c8c"/><path d="M16.44 0L16.32 0.93L15.97 1.65L15.37 2.27L14.55 2.82L13.52 3.28L12.27 3.67L10.82 3.98L9.16 4.21L7.27 4.34L4.78 4.38L2.3 4.34L0.4 4.21L-1.26 3.98L-2.71 3.67L-3.95 3.28L-4.99 2.82L-5.81 2.27L-6.4 1.65L-6.76 0.93L-6.88 0L-6.76 -0.93L-6.4 -1.65L-5.81 -2.27L-4.99 -2.82L-3.95 -3.28L-2.71 -3.67L-1.26 -3.98L0.4 -4.21L2.3 -4.34L4.78 -4.38L7.27 -4.34L9.16 -4.21L10.82 -3.98L12.27 -3.67L13.52 -3.28L14.55 -2.82L15.37 -2.27L15.97 -1.65L16.32 -0.93Z" fill="#555"/><path d="M20.64 0L20.44 1.69L19.85 2.98L18.88 4.1L17.53 5.09L15.83 5.94L13.78 6.64L11.4 7.2L8.67 7.6L5.56 7.84L1.47 7.93L-2.61 7.84L-5.73 7.6L-8.45 7.2L-10.84 6.64L-12.88 5.94L-14.59 5.09L-15.93 4.1L-16.91 2.98L-17.5 1.69L-17.69 0L-17.5 -1.69L-16.91 -2.98L-15.93 -4.1L-14.59 -5.09L-12.88 -5.94L-10.84 -6.64L-8.45 -7.2L-5.73 -7.6L-2.61 -7.84L1.47 -7.93L5.56 -7.84L8.67 -7.6L11.4 -7.2L13.78 -6.64L15.83 -5.94L17.53 -5.09L18.88 -4.1L19.85 -2.98L20.44 -1.69ZM19.14 0L18.97 1.42L18.46 2.5L17.63 3.45L16.47 4.28L15 4.99L13.24 5.58L11.19 6.05L8.85 6.39L6.17 6.59L2.65 6.66L-0.86 6.59L-3.54 6.39L-5.88 6.05L-7.93 5.58L-9.7 4.99L-11.16 4.28L-12.32 3.45L-13.16 2.5L-13.66 1.42L-13.83 0L-13.66 -1.42L-13.16 -2.5L-12.32 -3.45L-11.16 -4.28L-9.7 -4.99L-7.93 -5.58L-5.88 -6.05L-3.54 -6.39L-0.86 -6.59L2.65 -6.66L6.17 -6.59L8.85 -6.39L11.19 -6.05L13.24 -5.58L15 -4.99L16.47 -4.28L17.63 -3.45L18.46 -2.5L18.97 -1.42ZM17.76 0L17.61 1.17L17.18 2.06L16.47 2.85L15.49 3.53L14.24 4.12L12.74 4.6L11 4.99L9.01 5.27L6.73 5.44L3.74 5.49L0.76 5.44L-1.52 5.27L-3.51 4.99L-5.25 4.6L-6.75 4.12L-8 3.53L-8.98 2.85L-9.69 2.06L-10.12 1.17L-10.27 0L-10.12 -1.17L-9.69 -2.06L-8.98 -2.85L-8 -3.53L-6.75 -4.12L-5.25 -4.6L-3.51 -4.99L-1.52 -5.27L0.76 -5.44L3.74 -5.49L6.73 -5.44L9.01 -5.27L11 -4.99L12.74 -4.6L14.24 -4.12L15.49 -3.53L16.47 -2.85L17.18 -2.06L17.61 -1.17ZM16.44 0L16.32 0.93L15.97 1.65L15.37 2.27L14.55 2.82L13.52 3.28L12.27 3.67L10.82 3.98L9.16 4.21L7.27 4.34L4.78 4.38L2.3 4.34L0.4 4.21L-1.26 3.98L-2.71 3.67L-3.95 3.28L-4.99 2.82L-5.81 2.27L-6.4 1.65L-6.76 0.93L-6.88 0L-6.76 -0.93L-6.4 -1.65L-5.81 -2.27L-4.99 -2.82L-3.95 -3.28L-2.71 -3.67L-1.26 -3.98L0.4 -4.21L2.3 -4.34L4.78 -4.38L7.27 -4.34L9.16 -4.21L10.82 -3.98L12.27 -3.67L13.52 -3.28L14.55 -2.82L15.37 -2.27L15.97 -1.65L16.32 -0.93ZM15.18 0L15.08 0.71L14.79 1.25L14.32 1.72L13.66 2.13L12.82 2.48L11.82 2.78L10.65 3.01L9.31 3.18L7.78 3.28L5.78 3.32L3.78 3.28L2.25 3.18L0.91 3.01L-0.25 2.78L-1.26 2.48L-2.09 2.13L-2.75 1.72L-3.23 1.25L-3.52 0.71L-3.62 0L-3.52 -0.71L-3.23 -1.25L-2.75 -1.72L-2.09 -2.13L-1.26 -2.48L-0.25 -2.78L0.91 -3.01L2.25 -3.18L3.78 -3.28L5.78 -3.32L7.78 -3.28L9.31 -3.18L10.65 -3.01L11.82 -2.78L12.82 -2.48L13.66 -2.13L14.32 -1.72L14.79 -1.25L15.08 -0.71Z" fill="none" stroke="#262626" stroke-width=".95"/><path d="M13.5 0L13.43 0.49L13.22 0.86L12.88 1.18L12.41 1.46L11.81 1.71L11.08 1.91L10.25 2.07L9.29 2.19L8.19 2.26L6.75 2.28L5.31 2.26L4.21 2.19L3.25 2.07L2.42 1.91L1.69 1.71L1.09 1.46L0.62 1.18L0.28 0.86L0.07 0.49L0 0L0.07 -0.49L0.28 -0.86L0.62 -1.18L1.09 -1.46L1.69 -1.71L2.42 -1.91L3.25 -2.07L4.21 -2.19L5.31 -2.26L6.75 -2.28L8.19 -2.26L9.29 -2.19L10.25 -2.07L11.08 -1.91L11.81 -1.71L12.41 -1.46L12.88 -1.18L13.22 -0.86L13.43 -0.49Z" fill="#2e2e2e"/><ellipse cx="6.75" cy="0" rx="4.5" ry="0.6" fill="#eee"/></g>
</svg>
<path d="M229.8 125.6V195.8M193.8 168.6H264.3" stroke="#3030a8" stroke-width="1.3" fill="none"/>
<rect x="193.8" y="125.6" width="70.5" height="70.2" fill="none" stroke="#111" stroke-width="1.5"/>
<path d="M193.2 194.3h-2.2M195.3 196.4v2.2M193.2 192.8h-1.6M196.8 196.4v1.6M193.2 191.3h-1.6M198.3 196.4v1.6M193.2 189.8h-2.2M199.8 196.4v2.2M193.2 188.3h-1.6M201.3 196.4v1.6M193.2 186.8h-1.6M202.8 196.4v1.6M193.2 185.3h-1.6M204.3 196.4v1.6M193.2 183.8h-2.2M205.8 196.4v2.2M193.2 182.3h-1.6M207.3 196.4v1.6M193.2 178.99h-1.6M210.61 196.4v1.6M193.2 176.3h-1.6M213.3 196.4v1.6M193.2 174.2h-1.6M215.4 196.4v1.6M193.2 172.49h-1.6M217.11 196.4v1.6M193.2 171.05h-1.6M218.55 196.4v1.6M193.2 169.79h-1.6M219.81 196.4v1.6M193.2 168.69h-1.6M220.91 196.4v1.6M193.2 167.7h-2.8M221.9 196.4v2.8M193.2 161.2h-1.6M228.4 196.4v1.6M193.2 157.39h-1.6M232.21 196.4v1.6M193.2 154.7h-1.6M234.9 196.4v1.6M193.2 152.6h-1.6M237 196.4v1.6M193.2 150.89h-1.6M238.71 196.4v1.6M193.2 149.45h-1.6M240.15 196.4v1.6M193.2 148.19h-1.6M241.41 196.4v1.6M193.2 147.09h-1.6M242.51 196.4v1.6M193.2 146.1h-2.8M243.5 196.4v2.8M193.2 139.6h-1.6M250 196.4v1.6M193.2 135.79h-1.6M253.81 196.4v1.6M193.2 133.1h-1.6M256.5 196.4v1.6M193.2 131h-1.6M258.6 196.4v1.6M193.2 129.29h-1.6M260.31 196.4v1.6M193.2 127.85h-1.6M261.75 196.4v1.6" stroke="#111" stroke-width="0.9" fill="none"/>
<path d="M193.5 125.6V196.1H264.3" stroke="#111" stroke-width="1" fill="none"/>
<svg x="273.3" y="125.6" width="70.5" height="70.2" viewBox="273.3 125.6 70.5 70.2" overflow="hidden">
<path d="M285.03 178.77h.9v.9h-.9zM288.41 178.57h.9v.9h-.9zM288.95 183.54h.9v.9h-.9zM336.27 157.93h.9v.9h-.9zM334.96 165.31h.9v.9h-.9zM333.48 173.19h.9v.9h-.9zM318.77 155.72h.9v.9h-.9zM293.18 186.99h.9v.9h-.9zM311.34 159.31h.9v.9h-.9zM311.01 187.3h.9v.9h-.9zM293.44 180.36h.9v.9h-.9zM326.99 155.71h.9v.9h-.9zM317.3 185.63h.9v.9h-.9zM316.98 184.32h.9v.9h-.9zM293.97 190.63h.9v.9h-.9zM326.06 176.89h.9v.9h-.9zM322.57 156h.9v.9h-.9zM325.13 177.54h.9v.9h-.9zM331.05 151.73h.9v.9h-.9zM292.81 191.97h.9v.9h-.9zM306.92 189.31h.9v.9h-.9zM307.51 176.09h.9v.9h-.9zM290.66 172.68h.9v.9h-.9zM322.47 153.03h.9v.9h-.9zM318.33 174.62h.9v.9h-.9zM291.5 186.77h.9v.9h-.9zM326.75 155.64h.9v.9h-.9zM293.16 185.1h.9v.9h-.9zM314.91 156.73h.9v.9h-.9zM316.81 183.08h.9v.9h-.9zM292.12 187.14h.9v.9h-.9zM332.42 156.97h.9v.9h-.9zM320.02 177.76h.9v.9h-.9zM289.18 178.87h.9v.9h-.9zM334.34 155.73h.9v.9h-.9zM304.21 187.92h.9v.9h-.9zM291.37 189.2h.9v.9h-.9zM321.84 155.21h.9v.9h-.9zM319.66 153.54h.9v.9h-.9zM327.3 147.07h.9v.9h-.9zM318.89 154.75h.9v.9h-.9zM332.07 178h.9v.9h-.9zM337.5 164.55h.9v.9h-.9zM314.3 157.88h.9v.9h-.9zM338.58 168.94h.9v.9h-.9zM338.74 162.29h.9v.9h-.9zM306.68 188.85h.9v.9h-.9zM293.1 176.35h.9v.9h-.9zM291.96 191.83h.9v.9h-.9zM286.75 164.23h.9v.9h-.9zM334 152.57h.9v.9h-.9zM340.77 163.96h.9v.9h-.9zM333.44 156.97h.9v.9h-.9zM339.63 154.47h.9v.9h-.9zM318.62 156.18h.9v.9h-.9zM333.11 153.9h.9v.9h-.9zM315.65 157.24h.9v.9h-.9zM324.27 176.99h.9v.9h-.9zM297.41 189.31h.9v.9h-.9zM301.44 166.91h.9v.9h-.9zM300.39 167.1h.9v.9h-.9zM326.24 190.93h.9v.9h-.9zM308.43 162.58h.9v.9h-.9zM293.7 178.29h.9v.9h-.9zM316.55 185.12h.9v.9h-.9zM295.12 186.21h.9v.9h-.9zM296.14 186.06h.9v.9h-.9zM324.65 178.85h.9v.9h-.9zM335.07 167.46h.9v.9h-.9zM319.67 165.86h.9v.9h-.9zM328.66 154.7h.9v.9h-.9zM311.01 161.05h.9v.9h-.9zM319.3 156.16h.9v.9h-.9zM305.02 188.83h.9v.9h-.9zM325.15 155.81h.9v.9h-.9zM311.3 186.46h.9v.9h-.9zM292.9 188.28h.9v.9h-.9zM312.46 185.59h.9v.9h-.9zM324.3 155.32h.9v.9h-.9zM306.12 193.08h.9v.9h-.9zM311.99 185.49h.9v.9h-.9zM288.91 177.65h.9v.9h-.9zM314.84 187.68h.9v.9h-.9zM314.59 189.04h.9v.9h-.9zM303.46 188.56h.9v.9h-.9zM319.15 157.66h.9v.9h-.9zM316.65 185.74h.9v.9h-.9zM318.95 158.53h.9v.9h-.9zM298.11 191.05h.9v.9h-.9zM332.29 155.01h.9v.9h-.9zM337.69 154.17h.9v.9h-.9zM319.48 178.77h.9v.9h-.9zM298.12 170.28h.9v.9h-.9zM297.96 188.78h.9v.9h-.9zM329.9 155.99h.9v.9h-.9zM300.74 167.92h.9v.9h-.9zM323.32 180.37h.9v.9h-.9zM304.55 188.53h.9v.9h-.9zM305.63 187.46h.9v.9h-.9zM294.85 174.28h.9v.9h-.9zM314.89 157.8h.9v.9h-.9zM330.01 149.82h.9v.9h-.9zM290.05 185.13h.9v.9h-.9zM309.18 161.65h.9v.9h-.9zM335.56 161.19h.9v.9h-.9zM333.4 150.55h.9v.9h-.9zM330.19 173.34h.9v.9h-.9zM334.05 175.77h.9v.9h-.9zM334.7 160.22h.9v.9h-.9zM288.63 157.29h.9v.9h-.9zM312.17 186.57h.9v.9h-.9zM312.52 189.99h.9v.9h-.9zM332.63 171.92h.9v.9h-.9zM312.41 187.55h.9v.9h-.9zM338.34 159.19h.9v.9h-.9zM324.14 173.14h.9v.9h-.9zM326.48 170.65h.9v.9h-.9zM291.5 190.85h.9v.9h-.9zM297.78 167.09h.9v.9h-.9zM302.97 191.12h.9v.9h-.9zM294.45 177.48h.9v.9h-.9zM335.66 170.3h.9v.9h-.9zM314.48 175.69h.9v.9h-.9zM303.91 176.08h.9v.9h-.9zM325.63 152.27h.9v.9h-.9zM329.56 152.15h.9v.9h-.9zM313.95 187.65h.9v.9h-.9zM303.79 161.98h.9v.9h-.9zM334.97 161.29h.9v.9h-.9zM320.32 185.52h.9v.9h-.9zM295.26 172.36h.9v.9h-.9zM291.72 172.83h.9v.9h-.9zM296.92 187.96h.9v.9h-.9zM330.51 152.06h.9v.9h-.9zM336.03 170.74h.9v.9h-.9zM292.99 181.97h.9v.9h-.9zM306.87 189.16h.9v.9h-.9zM322.59 156.32h.9v.9h-.9zM288.67 156.42h.9v.9h-.9zM339.39 167.97h.9v.9h-.9zM311.35 186.25h.9v.9h-.9zM324.01 150.83h.9v.9h-.9zM334.41 171.58h.9v.9h-.9zM337.78 169.57h.9v.9h-.9zM302.12 167.06h.9v.9h-.9zM287.26 162.14h.9v.9h-.9zM286.54 186.42h.9v.9h-.9zM325.08 154.07h.9v.9h-.9zM295.65 188.85h.9v.9h-.9zM335.09 164.72h.9v.9h-.9zM289.55 178.7h.9v.9h-.9zM336.05 154.83h.9v.9h-.9zM293.19 176.89h.9v.9h-.9zM312.35 188.5h.9v.9h-.9zM305.51 188.19h.9v.9h-.9zM326.49 178.59h.9v.9h-.9zM322.56 160.41h.9v.9h-.9zM336.5 160.57h.9v.9h-.9zM315.25 156.45h.9v.9h-.9zM308.84 162.47h.9v.9h-.9zM334.22 155.87h.9v.9h-.9zM337.2 161.65h.9v.9h-.9zM297.36 171.19h.9v.9h-.9zM325.32 155.66h.9v.9h-.9zM308.14 186.98h.9v.9h-.9zM313.53 150.03h.9v.9h-.9zM331.89 173.96h.9v.9h-.9zM293.32 166.65h.9v.9h-.9zM300.6 189.39h.9v.9h-.9zM295.5 169.5h.9v.9h-.9zM317.32 157.13h.9v.9h-.9zM305.51 190.51h.9v.9h-.9zM329.91 155.52h.9v.9h-.9zM319.29 184.64h.9v.9h-.9zM331.11 154.55h.9v.9h-.9zM289.45 185.34h.9v.9h-.9zM316.42 186.74h.9v.9h-.9zM302.72 178.56h.9v.9h-.9zM303.59 192.32h.9v.9h-.9zM323.29 179.79h.9v.9h-.9zM298.72 190.7h.9v.9h-.9zM337.95 165.63h.9v.9h-.9zM327.18 154.8h.9v.9h-.9zM317.05 185.91h.9v.9h-.9zM323.65 156.34h.9v.9h-.9zM295.83 172.06h.9v.9h-.9zM326.39 153.44h.9v.9h-.9zM328.25 154.44h.9v.9h-.9zM327.72 153.1h.9v.9h-.9zM315.8 168.65h.9v.9h-.9zM299.95 167.14h.9v.9h-.9zM310.49 187.78h.9v.9h-.9zM327.05 151.5h.9v.9h-.9zM328.79 152.51h.9v.9h-.9zM296.3 191.67h.9v.9h-.9zM295.39 153.39h.9v.9h-.9zM310.66 188.02h.9v.9h-.9zM303.99 189.02h.9v.9h-.9zM321.4 153.76h.9v.9h-.9zM333.79 155.43h.9v.9h-.9zM321.83 180.13h.9v.9h-.9zM330.3 173.12h.9v.9h-.9zM304.75 167.36h.9v.9h-.9zM296.45 189.46h.9v.9h-.9zM314.65 187.61h.9v.9h-.9zM302.29 166.05h.9v.9h-.9zM299.76 167.23h.9v.9h-.9zM337.41 160.97h.9v.9h-.9zM304.22 162.57h.9v.9h-.9zM315.59 157.46h.9v.9h-.9zM291.75 178.56h.9v.9h-.9zM301.93 188.59h.9v.9h-.9zM294.48 172.14h.9v.9h-.9zM291.41 183.37h.9v.9h-.9zM297.2 172.42h.9v.9h-.9zM314.93 157.94h.9v.9h-.9zM293.19 175.45h.9v.9h-.9zM325.55 170.51h.9v.9h-.9zM310.62 148.58h.9v.9h-.9zM321.53 180.25h.9v.9h-.9zM336.86 155.56h.9v.9h-.9zM336.36 168.31h.9v.9h-.9zM324.83 154.84h.9v.9h-.9zM326.02 178.45h.9v.9h-.9zM285.29 175.28h.9v.9h-.9zM300.12 190.93h.9v.9h-.9zM297.86 188.83h.9v.9h-.9zM315.26 184.38h.9v.9h-.9zM294.7 175.45h.9v.9h-.9zM292.6 181.67h.9v.9h-.9zM327.65 179.02h.9v.9h-.9zM331.25 174.48h.9v.9h-.9zM296.83 170h.9v.9h-.9zM301.35 190.31h.9v.9h-.9zM315.12 184.81h.9v.9h-.9zM332.26 171.46h.9v.9h-.9zM300.53 167.48h.9v.9h-.9zM329.73 173.78h.9v.9h-.9zM337.87 164.53h.9v.9h-.9zM326 176.9h.9v.9h-.9zM308.76 188.97h.9v.9h-.9zM313.64 184.91h.9v.9h-.9zM302.99 189.95h.9v.9h-.9zM298.91 170.52h.9v.9h-.9zM313.18 188.38h.9v.9h-.9zM303.36 189.88h.9v.9h-.9zM309.64 188.32h.9v.9h-.9zM300.64 189.21h.9v.9h-.9zM335.25 159.4h.9v.9h-.9zM322.16 154.18h.9v.9h-.9zM302.23 166.18h.9v.9h-.9zM315.42 157.35h.9v.9h-.9zM292.68 176.37h.9v.9h-.9zM338.52 169.48h.9v.9h-.9zM292.82 174.56h.9v.9h-.9zM309.49 188.58h.9v.9h-.9zM298.65 170h.9v.9h-.9zM317.84 142.17h.9v.9h-.9zM305.63 190.63h.9v.9h-.9zM297.72 186.63h.9v.9h-.9zM317.22 158.25h.9v.9h-.9zM308.77 162.69h.9v.9h-.9zM300.7 188.58h.9v.9h-.9zM304.19 188.52h.9v.9h-.9zM336.01 153.32h.9v.9h-.9zM313.2 144.36h.9v.9h-.9zM291.22 180.15h.9v.9h-.9zM294.21 171.29h.9v.9h-.9zM293.94 188.07h.9v.9h-.9zM332.54 174.27h.9v.9h-.9zM312.31 160.06h.9v.9h-.9zM339.4 155.79h.9v.9h-.9zM318.21 183.67h.9v.9h-.9zM300.56 189.36h.9v.9h-.9zM324.28 178.56h.9v.9h-.9zM325.13 151.29h.9v.9h-.9zM295.92 147.11h.9v.9h-.9zM335.59 167.42h.9v.9h-.9zM318.77 157.54h.9v.9h-.9zM336.51 163.5h.9v.9h-.9zM311.37 187.23h.9v.9h-.9zM338.6 168.03h.9v.9h-.9zM337.84 157.69h.9v.9h-.9zM306.44 157.63h.9v.9h-.9zM335.4 167.96h.9v.9h-.9zM296.6 173.3h.9v.9h-.9zM308.39 155.47h.9v.9h-.9zM334.76 154.94h.9v.9h-.9zM333.81 175.08h.9v.9h-.9zM306.26 163.31h.9v.9h-.9zM338.56 164.73h.9v.9h-.9zM332.09 171.83h.9v.9h-.9zM336.3 168.63h.9v.9h-.9zM337.44 163.98h.9v.9h-.9zM336.88 164.66h.9v.9h-.9zM332.01 148.74h.9v.9h-.9zM330.85 153.03h.9v.9h-.9zM313.13 185.09h.9v.9h-.9zM305.89 158.32h.9v.9h-.9zM306.32 188.58h.9v.9h-.9zM331.12 155.53h.9v.9h-.9zM315.78 187.25h.9v.9h-.9zM339.18 163.15h.9v.9h-.9zM295.67 184.45h.9v.9h-.9zM328.81 156.17h.9v.9h-.9zM290.9 175.42h.9v.9h-.9zM329.49 177.63h.9v.9h-.9zM297.58 180.31h.9v.9h-.9zM337.46 165.35h.9v.9h-.9zM291.08 181.52h.9v.9h-.9zM310.5 188h.9v.9h-.9zM307.65 190.65h.9v.9h-.9zM338.36 163.12h.9v.9h-.9zM306.2 190.7h.9v.9h-.9zM316.46 184.72h.9v.9h-.9zM327.38 177.93h.9v.9h-.9zM301.93 153.46h.9v.9h-.9zM324.44 184.75h.9v.9h-.9zM322.63 181.78h.9v.9h-.9zM305.61 165.05h.9v.9h-.9zM315.19 162.67h.9v.9h-.9zM314.51 180.8h.9v.9h-.9zM339.14 164.74h.9v.9h-.9zM297.04 192.14h.9v.9h-.9zM298.15 191.85h.9v.9h-.9zM337.11 167.45h.9v.9h-.9zM334.15 174.56h.9v.9h-.9zM339.43 168.19h.9v.9h-.9zM307.51 187.64h.9v.9h-.9zM327.37 155.9h.9v.9h-.9zM309.03 153.77h.9v.9h-.9zM313.85 158.7h.9v.9h-.9zM295.96 185.92h.9v.9h-.9zM285.32 183.02h.9v.9h-.9zM303.29 189.08h.9v.9h-.9zM285.93 184.28h.9v.9h-.9zM297.16 188.4h.9v.9h-.9zM290.65 180.64h.9v.9h-.9zM309.07 191.61h.9v.9h-.9zM304.99 170.7h.9v.9h-.9zM299.05 189.83h.9v.9h-.9zM323.15 165.1h.9v.9h-.9zM333.97 150.29h.9v.9h-.9zM324.84 156.33h.9v.9h-.9zM320.59 181.84h.9v.9h-.9zM333.43 157.7h.9v.9h-.9zM298.94 187.69h.9v.9h-.9zM298.03 189.23h.9v.9h-.9zM297.39 190.62h.9v.9h-.9zM319.75 184.99h.9v.9h-.9zM329.83 154.49h.9v.9h-.9zM307.26 189.07h.9v.9h-.9zM296.33 168.78h.9v.9h-.9zM324.29 165.02h.9v.9h-.9zM323.12 180.88h.9v.9h-.9zM307.76 187.37h.9v.9h-.9zM315.33 172.58h.9v.9h-.9zM297.78 187.22h.9v.9h-.9zM335.71 168.47h.9v.9h-.9zM291.98 177.57h.9v.9h-.9zM329.78 173.91h.9v.9h-.9zM295.7 182.28h.9v.9h-.9zM315.59 183.62h.9v.9h-.9zM339.69 164.26h.9v.9h-.9zM295.8 185.79h.9v.9h-.9zM333.42 192.43h.9v.9h-.9zM328.04 142.35h.9v.9h-.9zM321.16 173.17h.9v.9h-.9zM313.59 187.25h.9v.9h-.9zM338.26 157.95h.9v.9h-.9zM294.1 182.05h.9v.9h-.9zM315.05 187.58h.9v.9h-.9zM304.33 188.42h.9v.9h-.9zM293.12 171.67h.9v.9h-.9zM290.09 185.72h.9v.9h-.9zM314.31 162.73h.9v.9h-.9zM291.75 194.39h.9v.9h-.9z" fill="#111" opacity=".9"/><path d="M315.69 158.79h.9v.9h-.9zM311.21 159.58h.9v.9h-.9zM293.26 188.63h.9v.9h-.9zM332.69 158.18h.9v.9h-.9zM312.17 190.07h.9v.9h-.9zM300.27 166.92h.9v.9h-.9zM337.78 153.27h.9v.9h-.9zM334.06 171.22h.9v.9h-.9zM303.95 163.17h.9v.9h-.9zM298.11 190.81h.9v.9h-.9zM313.74 155.99h.9v.9h-.9zM295.69 168.66h.9v.9h-.9zM293.27 181.2h.9v.9h-.9zM304.36 165.87h.9v.9h-.9zM297.69 171.15h.9v.9h-.9zM310.09 186.48h.9v.9h-.9zM294.63 188.31h.9v.9h-.9zM334.44 175.53h.9v.9h-.9zM324.11 155.5h.9v.9h-.9zM337.89 163.02h.9v.9h-.9zM310.43 187.55h.9v.9h-.9zM306.78 192.83h.9v.9h-.9zM320.39 155.73h.9v.9h-.9zM308.04 186.92h.9v.9h-.9zM317.67 184.92h.9v.9h-.9zM331.28 186.01h.9v.9h-.9zM334.7 168.72h.9v.9h-.9zM339.28 160.6h.9v.9h-.9zM286.52 179.42h.9v.9h-.9zM330.44 154.86h.9v.9h-.9zM302.62 189.63h.9v.9h-.9zM315.72 184.92h.9v.9h-.9zM318.23 155.67h.9v.9h-.9zM336.28 163.26h.9v.9h-.9zM294.74 170.75h.9v.9h-.9zM318.06 156.54h.9v.9h-.9zM296.5 175.94h.9v.9h-.9zM325.32 181.03h.9v.9h-.9zM334.27 157.58h.9v.9h-.9zM322.32 180.29h.9v.9h-.9zM339.56 163.51h.9v.9h-.9zM289.31 157.45h.9v.9h-.9zM332.34 174.15h.9v.9h-.9zM320.88 155.9h.9v.9h-.9zM299.29 189.23h.9v.9h-.9zM293.29 178.73h.9v.9h-.9zM326.17 177.06h.9v.9h-.9zM304.14 166.22h.9v.9h-.9zM303.48 188.3h.9v.9h-.9zM309.83 188.06h.9v.9h-.9zM335.38 168.28h.9v.9h-.9zM299.8 189h.9v.9h-.9zM291.69 180.56h.9v.9h-.9zM329.69 154.84h.9v.9h-.9zM325.29 180.66h.9v.9h-.9zM337.02 159.88h.9v.9h-.9zM292.65 180.08h.9v.9h-.9zM325.51 154.5h.9v.9h-.9zM316.16 189.37h.9v.9h-.9zM313.89 175.22h.9v.9h-.9zM338.11 171.28h.9v.9h-.9zM334.92 169.21h.9v.9h-.9zM336.93 146.82h.9v.9h-.9zM338.15 144.04h.9v.9h-.9zM323.33 179.67h.9v.9h-.9zM296.28 171.47h.9v.9h-.9zM304.33 187.79h.9v.9h-.9zM310.27 160.44h.9v.9h-.9zM293.12 179.56h.9v.9h-.9zM294 177.37h.9v.9h-.9zM300.7 183.93h.9v.9h-.9zM316.39 184.73h.9v.9h-.9zM292.45 178.2h.9v.9h-.9zM320.83 177.42h.9v.9h-.9zM306.23 188.77h.9v.9h-.9zM304.19 188.69h.9v.9h-.9zM321.93 151.24h.9v.9h-.9zM298.13 191.84h.9v.9h-.9zM289.54 185h.9v.9h-.9zM292.97 174.58h.9v.9h-.9zM335.72 156.89h.9v.9h-.9zM289.97 182.08h.9v.9h-.9zM290.54 177.22h.9v.9h-.9zM339.33 172.66h.9v.9h-.9zM331.85 151.04h.9v.9h-.9zM304.05 169.32h.9v.9h-.9zM327.97 151.51h.9v.9h-.9zM314.96 159.49h.9v.9h-.9zM298.07 189.27h.9v.9h-.9zM317.61 156.32h.9v.9h-.9zM336.6 158.86h.9v.9h-.9zM341.65 162h.9v.9h-.9zM319.4 181.97h.9v.9h-.9zM324.84 177.92h.9v.9h-.9zM287.28 180.48h.9v.9h-.9zM324.62 177.21h.9v.9h-.9zM311.61 187.78h.9v.9h-.9zM305.88 164.39h.9v.9h-.9zM327.77 176.22h.9v.9h-.9zM303.85 187.67h.9v.9h-.9zM319.77 165.93h.9v.9h-.9zM300.99 166.54h.9v.9h-.9zM324.54 156.02h.9v.9h-.9zM333.99 158.41h.9v.9h-.9zM333.84 157.09h.9v.9h-.9zM338.56 161.38h.9v.9h-.9zM323.46 153.9h.9v.9h-.9zM288.68 181.07h.9v.9h-.9zM308.49 187.39h.9v.9h-.9zM308.35 188.41h.9v.9h-.9zM332.04 173.15h.9v.9h-.9zM330.14 154.29h.9v.9h-.9zM328.11 175.75h.9v.9h-.9zM294.51 185.74h.9v.9h-.9zM303.05 190.29h.9v.9h-.9zM337.34 158.29h.9v.9h-.9zM327.4 169.65h.9v.9h-.9zM333.25 175.17h.9v.9h-.9zM330.39 128.77h.9v.9h-.9zM327.24 153.22h.9v.9h-.9zM326.09 152.93h.9v.9h-.9zM328.67 156.47h.9v.9h-.9zM312.8 159.24h.9v.9h-.9zM322.05 156.26h.9v.9h-.9zM340.01 163.42h.9v.9h-.9zM308.25 181.73h.9v.9h-.9zM292.26 187.84h.9v.9h-.9zM335.63 164.11h.9v.9h-.9zM290.91 181.03h.9v.9h-.9zM291.49 181.93h.9v.9h-.9zM293.76 182.34h.9v.9h-.9zM300.01 190.94h.9v.9h-.9zM305.71 189.26h.9v.9h-.9zM341.06 158.69h.9v.9h-.9zM305.35 162.15h.9v.9h-.9zM322.02 156.84h.9v.9h-.9zM329.22 154.24h.9v.9h-.9zM296.38 171.42h.9v.9h-.9zM327.89 177.55h.9v.9h-.9zM291.26 180.4h.9v.9h-.9zM327.98 178.89h.9v.9h-.9zM299.8 169.32h.9v.9h-.9zM338.89 168.1h.9v.9h-.9zM319.26 182.36h.9v.9h-.9zM296.51 184.76h.9v.9h-.9zM322.99 180.26h.9v.9h-.9zM294 186.52h.9v.9h-.9zM310.51 160.04h.9v.9h-.9zM337.5 166h.9v.9h-.9zM317.61 153.59h.9v.9h-.9zM294.52 183.57h.9v.9h-.9zM331.47 175.37h.9v.9h-.9zM331.63 171.93h.9v.9h-.9zM340.24 164.75h.9v.9h-.9zM297.12 192.59h.9v.9h-.9zM286.72 191.39h.9v.9h-.9zM293.89 179.45h.9v.9h-.9zM319.92 157.13h.9v.9h-.9zM292.98 184.07h.9v.9h-.9zM332.78 157.19h.9v.9h-.9zM308.91 159.02h.9v.9h-.9zM294.77 175.96h.9v.9h-.9zM294.25 184.03h.9v.9h-.9zM298.05 134.85h.9v.9h-.9zM291.42 179.21h.9v.9h-.9zM291.78 186.97h.9v.9h-.9zM330.44 175.3h.9v.9h-.9zM310.06 189.04h.9v.9h-.9zM296.88 186.39h.9v.9h-.9zM299.13 183.31h.9v.9h-.9zM333.2 154.15h.9v.9h-.9zM308.88 187.91h.9v.9h-.9zM333.25 170.89h.9v.9h-.9zM331.62 156.78h.9v.9h-.9zM316.55 187.34h.9v.9h-.9zM299.06 191.4h.9v.9h-.9zM329.78 159.47h.9v.9h-.9zM333.98 169.07h.9v.9h-.9zM326.31 179.88h.9v.9h-.9zM308.23 188.67h.9v.9h-.9zM323.43 179.93h.9v.9h-.9zM296.19 187.89h.9v.9h-.9zM322.43 155h.9v.9h-.9zM316.53 183.3h.9v.9h-.9zM297.69 186.88h.9v.9h-.9zM314.95 158.74h.9v.9h-.9zM300.77 187.7h.9v.9h-.9zM294.2 178.15h.9v.9h-.9zM328.59 163.53h.9v.9h-.9zM308.64 174.52h.9v.9h-.9zM324.33 155.16h.9v.9h-.9zM336.47 162.11h.9v.9h-.9zM335.07 165.8h.9v.9h-.9zM297.74 188.99h.9v.9h-.9zM335.05 168.92h.9v.9h-.9zM334.61 158.47h.9v.9h-.9zM312.55 158.64h.9v.9h-.9zM328.85 153.76h.9v.9h-.9zM296.05 171.29h.9v.9h-.9zM321.67 132.12h.9v.9h-.9zM330.33 174.66h.9v.9h-.9zM314.58 159.47h.9v.9h-.9zM332.8 179.58h.9v.9h-.9zM308.18 159.96h.9v.9h-.9zM306.61 189.93h.9v.9h-.9zM290.53 176.35h.9v.9h-.9zM295.84 188.81h.9v.9h-.9zM333.12 173.72h.9v.9h-.9zM299.71 168.1h.9v.9h-.9zM289.62 177.4h.9v.9h-.9zM306.18 161.97h.9v.9h-.9zM309.9 157.79h.9v.9h-.9zM309.71 187.99h.9v.9h-.9zM291.26 177.72h.9v.9h-.9zM293.66 181.54h.9v.9h-.9zM331.19 174.51h.9v.9h-.9zM335.59 156.59h.9v.9h-.9zM290.84 187.31h.9v.9h-.9zM293.18 178.82h.9v.9h-.9zM308.56 165.65h.9v.9h-.9zM298.02 189.96h.9v.9h-.9zM325.31 179.53h.9v.9h-.9zM298.65 169.91h.9v.9h-.9zM335.27 158.15h.9v.9h-.9zM301.26 162.78h.9v.9h-.9zM299.1 187.99h.9v.9h-.9zM332.6 155.62h.9v.9h-.9zM295.03 173.77h.9v.9h-.9zM304.39 165.9h.9v.9h-.9zM311.78 175.31h.9v.9h-.9zM311.5 187.24h.9v.9h-.9zM294.99 169.5h.9v.9h-.9z" fill="#444" opacity=".8"/><g transform="translate(314.5 172) rotate(-32)"><path d="M22.5 0L22.27 2.24L21.58 3.95L20.44 5.44L18.86 6.74L16.86 7.87L14.45 8.8L11.65 9.54L8.46 10.07L4.8 10.39L0 10.5L-4.8 10.39L-8.46 10.07L-11.65 9.54L-14.45 8.8L-16.86 7.87L-18.86 6.74L-20.44 5.44L-21.58 3.95L-22.27 2.24L-22.5 0L-22.27 -2.24L-21.58 -3.95L-20.44 -5.44L-18.86 -6.74L-16.86 -7.87L-14.45 -8.8L-11.65 -9.54L-8.46 -10.07L-4.8 -10.39L-0 -10.5L4.8 -10.39L8.46 -10.07L11.65 -9.54L14.45 -8.8L16.86 -7.87L18.86 -6.74L20.44 -5.44L21.58 -3.95L22.27 -2.24Z" fill="#d0d0d0" stroke="#111" stroke-width="1.2"/><path d="M20.39 0L20.19 1.87L19.61 3.29L18.63 4.54L17.29 5.63L15.58 6.56L13.53 7.34L11.15 7.96L8.43 8.4L5.31 8.67L1.23 8.76L-2.86 8.67L-5.98 8.4L-8.7 7.96L-11.08 7.34L-13.13 6.56L-14.83 5.63L-16.18 4.54L-17.15 3.29L-17.74 1.87L-17.94 0L-17.74 -1.87L-17.15 -3.29L-16.18 -4.54L-14.83 -5.63L-13.13 -6.56L-11.08 -7.34L-8.7 -7.96L-5.98 -8.4L-2.86 -8.67L1.23 -8.76L5.31 -8.67L8.43 -8.4L11.15 -7.96L13.53 -7.34L15.58 -6.56L17.29 -5.63L18.63 -4.54L19.61 -3.29L20.19 -1.87Z" fill="#b0b0b0"/><path d="M18.7 0L18.53 1.57L18.02 2.77L17.19 3.81L16.03 4.73L14.56 5.52L12.8 6.17L10.75 6.69L8.41 7.06L5.72 7.29L2.21 7.36L-1.3 7.29L-3.99 7.06L-6.33 6.69L-8.38 6.17L-10.14 5.52L-11.61 4.73L-12.76 3.81L-13.6 2.77L-14.11 1.57L-14.28 0L-14.11 -1.57L-13.6 -2.77L-12.76 -3.81L-11.61 -4.73L-10.14 -5.52L-8.38 -6.17L-6.33 -6.69L-3.99 -7.06L-1.3 -7.29L2.21 -7.36L5.72 -7.29L8.41 -7.06L10.75 -6.69L12.8 -6.17L14.56 -5.52L16.03 -4.73L17.19 -3.81L18.02 -2.77L18.53 -1.57Z" fill="#8c8c8c"/><path d="M15.65 0L15.53 1.03L15.17 1.82L14.58 2.51L13.76 3.11L12.72 3.63L11.47 4.06L10.02 4.4L8.37 4.65L6.47 4.8L3.99 4.85L1.5 4.8L-0.4 4.65L-2.05 4.4L-3.5 4.06L-4.75 3.63L-5.79 3.11L-6.61 2.51L-7.2 1.82L-7.56 1.03L-7.68 0L-7.56 -1.03L-7.2 -1.82L-6.61 -2.51L-5.79 -3.11L-4.75 -3.63L-3.5 -4.06L-2.05 -4.4L-0.4 -4.65L1.5 -4.8L3.99 -4.85L6.47 -4.8L8.37 -4.65L10.02 -4.4L11.47 -4.06L12.72 -3.63L13.76 -3.11L14.58 -2.51L15.17 -1.82L15.53 -1.03Z" fill="#555"/><path d="M20.39 0L20.19 1.87L19.61 3.29L18.63 4.54L17.29 5.63L15.58 6.56L13.53 7.34L11.15 7.96L8.43 8.4L5.31 8.67L1.23 8.76L-2.86 8.67L-5.98 8.4L-8.7 7.96L-11.08 7.34L-13.13 6.56L-14.83 5.63L-16.18 4.54L-17.15 3.29L-17.74 1.87L-17.94 0L-17.74 -1.87L-17.15 -3.29L-16.18 -4.54L-14.83 -5.63L-13.13 -6.56L-11.08 -7.34L-8.7 -7.96L-5.98 -8.4L-2.86 -8.67L1.23 -8.76L5.31 -8.67L8.43 -8.4L11.15 -7.96L13.53 -7.34L15.58 -6.56L17.29 -5.63L18.63 -4.54L19.61 -3.29L20.19 -1.87ZM18.7 0L18.53 1.57L18.02 2.77L17.19 3.81L16.03 4.73L14.56 5.52L12.8 6.17L10.75 6.69L8.41 7.06L5.72 7.29L2.21 7.36L-1.3 7.29L-3.99 7.06L-6.33 6.69L-8.38 6.17L-10.14 5.52L-11.61 4.73L-12.76 3.81L-13.6 2.77L-14.11 1.57L-14.28 0L-14.11 -1.57L-13.6 -2.77L-12.76 -3.81L-11.61 -4.73L-10.14 -5.52L-8.38 -6.17L-6.33 -6.69L-3.99 -7.06L-1.3 -7.29L2.21 -7.36L5.72 -7.29L8.41 -7.06L10.75 -6.69L12.8 -6.17L14.56 -5.52L16.03 -4.73L17.19 -3.81L18.02 -2.77L18.53 -1.57ZM17.13 0L16.99 1.29L16.56 2.28L15.85 3.14L14.86 3.9L13.62 4.55L12.12 5.09L10.38 5.52L8.39 5.82L6.11 6.01L3.12 6.07L0.13 6.01L-2.15 5.82L-4.14 5.52L-5.88 5.09L-7.38 4.55L-8.62 3.9L-9.61 3.14L-10.32 2.28L-10.75 1.29L-10.89 0L-10.75 -1.29L-10.32 -2.28L-9.61 -3.14L-8.62 -3.9L-7.38 -4.55L-5.88 -5.09L-4.14 -5.52L-2.15 -5.82L0.13 -6.01L3.12 -6.07L6.11 -6.01L8.39 -5.82L10.38 -5.52L12.12 -5.09L13.62 -4.55L14.86 -3.9L15.85 -3.14L16.56 -2.28L16.99 -1.29ZM15.65 0L15.53 1.03L15.17 1.82L14.58 2.51L13.76 3.11L12.72 3.63L11.47 4.06L10.02 4.4L8.37 4.65L6.47 4.8L3.99 4.85L1.5 4.8L-0.4 4.65L-2.05 4.4L-3.5 4.06L-4.75 3.63L-5.79 3.11L-6.61 2.51L-7.2 1.82L-7.56 1.03L-7.68 0L-7.56 -1.03L-7.2 -1.82L-6.61 -2.51L-5.79 -3.11L-4.75 -3.63L-3.5 -4.06L-2.05 -4.4L-0.4 -4.65L1.5 -4.8L3.99 -4.85L6.47 -4.8L8.37 -4.65L10.02 -4.4L11.47 -4.06L12.72 -3.63L13.76 -3.11L14.58 -2.51L15.17 -1.82L15.53 -1.03ZM14.21 0L14.12 0.78L13.83 1.38L13.35 1.9L12.69 2.35L11.86 2.75L10.85 3.07L9.68 3.33L8.35 3.52L6.82 3.63L4.82 3.67L2.81 3.63L1.29 3.52L-0.05 3.33L-1.22 3.07L-2.22 2.75L-3.06 2.35L-3.72 1.9L-4.19 1.38L-4.48 0.78L-4.58 0L-4.48 -0.78L-4.19 -1.38L-3.72 -1.9L-3.06 -2.35L-2.22 -2.75L-1.22 -3.07L-0.05 -3.33L1.29 -3.52L2.81 -3.63L4.82 -3.67L6.82 -3.63L8.35 -3.52L9.68 -3.33L10.85 -3.07L11.86 -2.75L12.69 -2.35L13.35 -1.9L13.83 -1.38L14.12 -0.78Z" fill="none" stroke="#262626" stroke-width=".95"/><path d="M12.38 0L12.31 0.54L12.1 0.95L11.76 1.3L11.28 1.62L10.68 1.89L9.96 2.11L9.12 2.29L8.16 2.42L7.06 2.49L5.63 2.52L4.19 2.49L3.09 2.42L2.13 2.29L1.29 2.11L0.57 1.89L-0.03 1.62L-0.51 1.3L-0.85 0.95L-1.06 0.54L-1.12 0L-1.06 -0.54L-0.85 -0.95L-0.51 -1.3L-0.03 -1.62L0.57 -1.89L1.29 -2.11L2.13 -2.29L3.09 -2.42L4.19 -2.49L5.62 -2.52L7.06 -2.49L8.16 -2.42L9.12 -2.29L9.96 -2.11L10.68 -1.89L11.28 -1.62L11.76 -1.3L12.1 -0.95L12.31 -0.54Z" fill="#2e2e2e"/><ellipse cx="5.62" cy="0" rx="4.5" ry="0.6" fill="#eee"/></g>
</svg>
<path d="M309.3 125.6V195.8M273.3 168.6H343.8" stroke="#3030a8" stroke-width="1.3" fill="none"/>
<rect x="273.3" y="125.6" width="70.5" height="70.2" fill="none" stroke="#111" stroke-width="1.5"/>
<path d="M272.7 194.3h-2.2M274.8 196.4v2.2M272.7 192.8h-1.6M276.3 196.4v1.6M272.7 191.3h-1.6M277.8 196.4v1.6M272.7 189.8h-2.2M279.3 196.4v2.2M272.7 188.3h-1.6M280.8 196.4v1.6M272.7 186.8h-1.6M282.3 196.4v1.6M272.7 185.3h-1.6M283.8 196.4v1.6M272.7 183.8h-2.2M285.3 196.4v2.2M272.7 182.3h-1.6M286.8 196.4v1.6M272.7 178.99h-1.6M290.11 196.4v1.6M272.7 176.3h-1.6M292.8 196.4v1.6M272.7 174.2h-1.6M294.9 196.4v1.6M272.7 172.49h-1.6M296.61 196.4v1.6M272.7 171.05h-1.6M298.05 196.4v1.6M272.7 169.79h-1.6M299.31 196.4v1.6M272.7 168.69h-1.6M300.41 196.4v1.6M272.7 167.7h-2.8M301.4 196.4v2.8M272.7 161.2h-1.6M307.9 196.4v1.6M272.7 157.39h-1.6M311.71 196.4v1.6M272.7 154.7h-1.6M314.4 196.4v1.6M272.7 152.6h-1.6M316.5 196.4v1.6M272.7 150.89h-1.6M318.21 196.4v1.6M272.7 149.45h-1.6M319.65 196.4v1.6M272.7 148.19h-1.6M320.91 196.4v1.6M272.7 147.09h-1.6M322.01 196.4v1.6M272.7 146.1h-2.8M323 196.4v2.8M272.7 139.6h-1.6M329.5 196.4v1.6M272.7 135.79h-1.6M333.31 196.4v1.6M272.7 133.1h-1.6M336 196.4v1.6M272.7 131h-1.6M338.1 196.4v1.6M272.7 129.29h-1.6M339.81 196.4v1.6M272.7 127.85h-1.6M341.25 196.4v1.6" stroke="#111" stroke-width="0.9" fill="none"/>
<path d="M273 125.6V196.1H343.8" stroke="#111" stroke-width="1" fill="none"/>
<svg x="352.8" y="125.6" width="70.5" height="70.2" viewBox="352.8 125.6 70.5 70.2" overflow="hidden">
<path d="M377.16 188.95h.9v.9h-.9zM378.11 170.04h.9v.9h-.9zM415.37 168.48h.9v.9h-.9zM380.8 164.1h.9v.9h-.9zM406.99 161.09h.9v.9h-.9zM404.59 157.89h.9v.9h-.9zM417.3 160.1h.9v.9h-.9zM377.05 186.04h.9v.9h-.9zM408.17 180.46h.9v.9h-.9zM387.63 164.08h.9v.9h-.9zM369.11 171.29h.9v.9h-.9zM413.17 194.17h.9v.9h-.9zM399.63 189.2h.9v.9h-.9zM397.28 184.79h.9v.9h-.9zM371.65 180.54h.9v.9h-.9zM415.51 169.98h.9v.9h-.9zM375.35 184.61h.9v.9h-.9zM382.66 191.49h.9v.9h-.9zM370.02 174.95h.9v.9h-.9zM385.95 163.65h.9v.9h-.9zM369.73 181.89h.9v.9h-.9zM404.38 159.36h.9v.9h-.9zM419.53 176.01h.9v.9h-.9zM385.49 189.77h.9v.9h-.9zM370.32 188.83h.9v.9h-.9zM398.46 160.01h.9v.9h-.9zM403.19 183.69h.9v.9h-.9zM418.25 164.47h.9v.9h-.9zM383.01 167.72h.9v.9h-.9zM411.97 176.47h.9v.9h-.9zM401.21 185.71h.9v.9h-.9zM413.59 181.9h.9v.9h-.9zM374.52 189.1h.9v.9h-.9zM374.81 173.44h.9v.9h-.9zM380.72 193.29h.9v.9h-.9zM376.15 188.63h.9v.9h-.9zM390.93 189.6h.9v.9h-.9zM378.95 188.16h.9v.9h-.9zM411.68 178.48h.9v.9h-.9zM417.01 163.37h.9v.9h-.9zM415.26 168.72h.9v.9h-.9zM410.07 178.62h.9v.9h-.9zM414.5 173.38h.9v.9h-.9zM417.32 168.31h.9v.9h-.9zM363.9 181.92h.9v.9h-.9zM409.2 179.51h.9v.9h-.9zM393.69 152.75h.9v.9h-.9zM367.38 185.64h.9v.9h-.9zM416.05 174h.9v.9h-.9zM400.67 185.71h.9v.9h-.9zM413.7 179.73h.9v.9h-.9zM388.45 163.37h.9v.9h-.9zM377.29 170.68h.9v.9h-.9zM360.2 186.08h.9v.9h-.9zM386.28 190.1h.9v.9h-.9zM412.59 158.25h.9v.9h-.9zM402.42 158.58h.9v.9h-.9zM415.79 173.37h.9v.9h-.9zM412.21 164.84h.9v.9h-.9zM377.39 188.29h.9v.9h-.9zM386.99 146.75h.9v.9h-.9zM398.15 187.19h.9v.9h-.9zM406.45 183.41h.9v.9h-.9zM378.57 167.56h.9v.9h-.9zM401.36 184.86h.9v.9h-.9zM414.91 169.56h.9v.9h-.9zM373.35 189.34h.9v.9h-.9zM399.37 159.76h.9v.9h-.9zM381.76 166.49h.9v.9h-.9zM413.04 163.86h.9v.9h-.9zM400.9 185.51h.9v.9h-.9zM407 158.44h.9v.9h-.9zM384.76 170.68h.9v.9h-.9zM377.69 167.11h.9v.9h-.9zM407.03 161.41h.9v.9h-.9zM374.8 175.93h.9v.9h-.9zM401.87 174.31h.9v.9h-.9zM374.07 176.35h.9v.9h-.9zM370.11 175.22h.9v.9h-.9zM401.98 160.87h.9v.9h-.9zM374.36 175.8h.9v.9h-.9zM412.67 166.3h.9v.9h-.9zM406.38 161.42h.9v.9h-.9zM411.79 177.27h.9v.9h-.9zM376.64 171.23h.9v.9h-.9zM395.5 187.31h.9v.9h-.9zM373.86 186.24h.9v.9h-.9zM411.08 162.47h.9v.9h-.9zM383.39 193.45h.9v.9h-.9zM377.91 170.16h.9v.9h-.9zM410.98 178.5h.9v.9h-.9zM374.22 179.96h.9v.9h-.9zM389.66 164.03h.9v.9h-.9zM376.92 185.89h.9v.9h-.9zM384.55 174.28h.9v.9h-.9zM377.6 186.38h.9v.9h-.9zM409.51 181.28h.9v.9h-.9zM412.76 174.72h.9v.9h-.9zM407.62 181.16h.9v.9h-.9zM405.03 182.51h.9v.9h-.9zM414.46 168.32h.9v.9h-.9zM387.52 192.89h.9v.9h-.9zM414.74 169.4h.9v.9h-.9zM418.1 161.8h.9v.9h-.9zM380.57 189.08h.9v.9h-.9zM380.22 192.66h.9v.9h-.9zM409.46 162.69h.9v.9h-.9zM382.7 190.01h.9v.9h-.9zM382.88 165.18h.9v.9h-.9zM374.9 174.58h.9v.9h-.9zM372.67 175.47h.9v.9h-.9zM405.05 183.87h.9v.9h-.9zM392.29 189.81h.9v.9h-.9zM390.52 192.1h.9v.9h-.9zM406.82 154.19h.9v.9h-.9zM394.07 162.07h.9v.9h-.9zM383.99 165.43h.9v.9h-.9zM387.96 162.84h.9v.9h-.9zM386.21 163.82h.9v.9h-.9zM412.98 176.36h.9v.9h-.9zM380.33 176.93h.9v.9h-.9zM371.43 175.38h.9v.9h-.9zM412.88 164.23h.9v.9h-.9zM397.44 186.63h.9v.9h-.9zM379.53 170.08h.9v.9h-.9zM414.09 172.17h.9v.9h-.9zM372.01 186.59h.9v.9h-.9zM417.7 171.6h.9v.9h-.9zM399.83 181.32h.9v.9h-.9zM407.83 161.9h.9v.9h-.9zM373.86 178.03h.9v.9h-.9zM408.96 180.66h.9v.9h-.9zM411.18 177.18h.9v.9h-.9zM376.59 186.47h.9v.9h-.9zM384.39 165.07h.9v.9h-.9zM385.86 189.24h.9v.9h-.9zM408.23 161.49h.9v.9h-.9zM384.22 164.75h.9v.9h-.9zM397.28 159.87h.9v.9h-.9zM383.81 164.15h.9v.9h-.9zM376.57 173.37h.9v.9h-.9zM372.62 180.22h.9v.9h-.9zM377.96 168.64h.9v.9h-.9zM407.41 181.26h.9v.9h-.9zM374.46 186.18h.9v.9h-.9zM387.69 190.51h.9v.9h-.9zM384.71 166.21h.9v.9h-.9zM394.65 157.67h.9v.9h-.9zM412.14 175.93h.9v.9h-.9zM399.46 160.46h.9v.9h-.9zM410.94 161.69h.9v.9h-.9zM400.33 160.65h.9v.9h-.9zM413.73 161.22h.9v.9h-.9zM410.8 157.75h.9v.9h-.9zM414.17 180.39h.9v.9h-.9zM389.61 189.14h.9v.9h-.9zM371.71 184.49h.9v.9h-.9zM392.72 160.41h.9v.9h-.9zM403.95 183.2h.9v.9h-.9zM410.82 185.28h.9v.9h-.9zM374.76 188.84h.9v.9h-.9zM414.14 156.85h.9v.9h-.9zM411.91 158.55h.9v.9h-.9zM387.7 160.64h.9v.9h-.9zM417.16 175.32h.9v.9h-.9zM418.75 166.08h.9v.9h-.9zM384.3 189.97h.9v.9h-.9zM417.44 170.81h.9v.9h-.9zM374.58 179.99h.9v.9h-.9zM384.13 190.74h.9v.9h-.9zM393.61 161.01h.9v.9h-.9zM411.48 165.1h.9v.9h-.9zM390.4 160.35h.9v.9h-.9zM384.49 166.14h.9v.9h-.9zM389.36 163.49h.9v.9h-.9zM385.76 164.76h.9v.9h-.9zM386.29 163.08h.9v.9h-.9zM399.85 164.65h.9v.9h-.9zM390.51 193.55h.9v.9h-.9zM376.49 187.17h.9v.9h-.9zM394.05 161.58h.9v.9h-.9zM399.94 181.8h.9v.9h-.9zM390.4 163.63h.9v.9h-.9zM375.35 173.71h.9v.9h-.9zM381.03 188.38h.9v.9h-.9zM380.93 168h.9v.9h-.9zM411.83 176.64h.9v.9h-.9zM413.2 174.09h.9v.9h-.9zM413.17 166.1h.9v.9h-.9zM412.42 163.49h.9v.9h-.9zM386.6 165.55h.9v.9h-.9zM386.2 164.73h.9v.9h-.9zM384.34 163.52h.9v.9h-.9zM399.98 159.2h.9v.9h-.9zM418.93 167.48h.9v.9h-.9zM407.4 182.24h.9v.9h-.9zM380.67 168.34h.9v.9h-.9zM399.65 160.4h.9v.9h-.9zM416.82 167.73h.9v.9h-.9zM404.02 177.15h.9v.9h-.9zM384.06 193.7h.9v.9h-.9zM404.34 184.49h.9v.9h-.9zM403.3 155.86h.9v.9h-.9zM407.63 181.11h.9v.9h-.9zM377.34 186.54h.9v.9h-.9zM420.13 168.65h.9v.9h-.9zM416.28 141.24h.9v.9h-.9zM407.68 161.37h.9v.9h-.9zM371.41 162.48h.9v.9h-.9zM398.02 158.34h.9v.9h-.9zM416.64 183.68h.9v.9h-.9zM387.76 191.46h.9v.9h-.9zM397.3 180.42h.9v.9h-.9zM409.33 158.78h.9v.9h-.9zM414.18 170.92h.9v.9h-.9zM405.81 182.74h.9v.9h-.9zM407.93 180.61h.9v.9h-.9zM368.94 179.14h.9v.9h-.9zM408.07 161.2h.9v.9h-.9zM416.14 166.68h.9v.9h-.9zM410.69 179.27h.9v.9h-.9zM415.53 175.35h.9v.9h-.9zM380.39 166.37h.9v.9h-.9zM409.18 182.97h.9v.9h-.9zM407.2 165.99h.9v.9h-.9zM370.53 175.78h.9v.9h-.9zM402.15 183.68h.9v.9h-.9zM417.65 167.14h.9v.9h-.9zM417.38 174.98h.9v.9h-.9zM408.97 158.95h.9v.9h-.9zM398.01 186.19h.9v.9h-.9zM373.9 178.02h.9v.9h-.9zM370.14 180.9h.9v.9h-.9zM367.54 177.71h.9v.9h-.9zM400.68 160.89h.9v.9h-.9zM373.87 174.26h.9v.9h-.9zM419.1 172.87h.9v.9h-.9zM367.49 186.64h.9v.9h-.9zM372.84 187.39h.9v.9h-.9zM409.54 160.76h.9v.9h-.9zM413.81 163.7h.9v.9h-.9zM382.56 167.36h.9v.9h-.9zM403.76 157.61h.9v.9h-.9zM377.66 191.1h.9v.9h-.9zM397.1 160.49h.9v.9h-.9zM371.33 178.79h.9v.9h-.9zM408.46 182.37h.9v.9h-.9zM371.62 184.13h.9v.9h-.9zM380.7 190.13h.9v.9h-.9zM400.46 160.9h.9v.9h-.9zM383.56 162.17h.9v.9h-.9zM398.73 190.41h.9v.9h-.9zM387.72 163.64h.9v.9h-.9zM374.06 186.67h.9v.9h-.9zM411.54 163.15h.9v.9h-.9zM375.03 160.04h.9v.9h-.9zM397.58 187.52h.9v.9h-.9zM380.89 190.74h.9v.9h-.9zM373.95 174.83h.9v.9h-.9zM409.22 157.55h.9v.9h-.9zM410.13 159.8h.9v.9h-.9zM381.62 193.71h.9v.9h-.9zM378.36 191.39h.9v.9h-.9zM372.82 181.02h.9v.9h-.9zM374.71 186.5h.9v.9h-.9zM377.72 169.92h.9v.9h-.9zM414.05 157.33h.9v.9h-.9zM372.99 176.13h.9v.9h-.9zM385.48 170.52h.9v.9h-.9zM407.86 180.62h.9v.9h-.9zM392.91 189.71h.9v.9h-.9zM396.66 187.54h.9v.9h-.9zM382.92 189.75h.9v.9h-.9zM376.09 188.06h.9v.9h-.9zM413.58 179.96h.9v.9h-.9zM415.02 173.64h.9v.9h-.9zM410.69 178.91h.9v.9h-.9zM415.9 174h.9v.9h-.9zM368.18 180.42h.9v.9h-.9zM412.63 162.07h.9v.9h-.9zM367.61 180.81h.9v.9h-.9zM407.75 161.86h.9v.9h-.9zM373.09 179.75h.9v.9h-.9zM414.11 173.79h.9v.9h-.9zM406.67 156.48h.9v.9h-.9zM380.41 168.5h.9v.9h-.9zM414.48 173.89h.9v.9h-.9zM406.56 159.19h.9v.9h-.9zM372.6 185.73h.9v.9h-.9zM375.5 173.99h.9v.9h-.9zM403.6 185.76h.9v.9h-.9zM388.23 180.26h.9v.9h-.9zM393.74 190.12h.9v.9h-.9zM413.06 165.21h.9v.9h-.9zM416.41 166.55h.9v.9h-.9zM401.88 157.93h.9v.9h-.9zM413.75 178.24h.9v.9h-.9zM410.95 180.09h.9v.9h-.9zM394.03 188.23h.9v.9h-.9zM409.74 162.73h.9v.9h-.9zM374.08 180.52h.9v.9h-.9zM414.46 176.11h.9v.9h-.9zM386.9 163.18h.9v.9h-.9zM375.83 170.23h.9v.9h-.9zM393.05 164.34h.9v.9h-.9zM408.66 179.62h.9v.9h-.9zM418.5 167.72h.9v.9h-.9zM396.65 154.41h.9v.9h-.9zM392.07 188.74h.9v.9h-.9zM411.5 160.33h.9v.9h-.9zM372.97 182.54h.9v.9h-.9zM372.2 182.99h.9v.9h-.9zM400.59 185.14h.9v.9h-.9zM397.39 187.78h.9v.9h-.9zM405.21 160.61h.9v.9h-.9zM370.85 183.24h.9v.9h-.9zM385.34 165.06h.9v.9h-.9zM420.6 169.25h.9v.9h-.9zM369.59 177.39h.9v.9h-.9zM414.99 165.34h.9v.9h-.9zM382.13 191.67h.9v.9h-.9zM380.89 192.19h.9v.9h-.9zM368.01 177.45h.9v.9h-.9zM398.14 168.3h.9v.9h-.9zM403.57 184.63h.9v.9h-.9zM374.53 175.41h.9v.9h-.9zM387.43 189.77h.9v.9h-.9zM394.31 161.73h.9v.9h-.9zM394.85 192.98h.9v.9h-.9zM375.73 174.34h.9v.9h-.9zM413.58 168.25h.9v.9h-.9zM377.2 191.26h.9v.9h-.9zM389.55 189.68h.9v.9h-.9zM388.86 164.51h.9v.9h-.9zM382.46 194.22h.9v.9h-.9zM401.33 168.36h.9v.9h-.9zM415.85 174.14h.9v.9h-.9zM386.7 191.42h.9v.9h-.9zM382.8 190.59h.9v.9h-.9zM381.88 171.71h.9v.9h-.9zM383.83 181.95h.9v.9h-.9zM406.95 159.97h.9v.9h-.9zM372.29 178.82h.9v.9h-.9zM373.56 190.6h.9v.9h-.9zM399.03 186.82h.9v.9h-.9zM394.44 162.1h.9v.9h-.9zM409.49 182.31h.9v.9h-.9zM413.9 165.21h.9v.9h-.9zM403.83 160.89h.9v.9h-.9zM395.35 162.09h.9v.9h-.9zM402.32 188.77h.9v.9h-.9zM404.71 160.74h.9v.9h-.9zM385.19 193.98h.9v.9h-.9zM387.37 162.98h.9v.9h-.9zM418.44 168.07h.9v.9h-.9zM402.41 158.84h.9v.9h-.9zM413.84 173.65h.9v.9h-.9zM376.28 173.38h.9v.9h-.9zM378.42 187.1h.9v.9h-.9zM413.13 173.04h.9v.9h-.9zM380.68 192.51h.9v.9h-.9zM413.52 167.37h.9v.9h-.9zM373.89 186.43h.9v.9h-.9zM411.82 160.32h.9v.9h-.9zM375.76 188.07h.9v.9h-.9zM418.03 174.6h.9v.9h-.9zM413.28 162.24h.9v.9h-.9zM380.32 165.84h.9v.9h-.9zM401.67 160.49h.9v.9h-.9zM406.73 183.22h.9v.9h-.9zM416.03 168.75h.9v.9h-.9zM393.85 162.62h.9v.9h-.9zM385.48 190.17h.9v.9h-.9zM384.52 164.11h.9v.9h-.9zM402.8 157.3h.9v.9h-.9zM375.12 170.99h.9v.9h-.9zM410.11 161.76h.9v.9h-.9zM388.68 161.93h.9v.9h-.9zM384.87 189.97h.9v.9h-.9zM377.91 186.87h.9v.9h-.9zM374.1 185.86h.9v.9h-.9zM391.81 189.15h.9v.9h-.9z" fill="#111" opacity=".9"/><path d="M378.89 187.4h.9v.9h-.9zM386.04 164.57h.9v.9h-.9zM407.17 181.69h.9v.9h-.9zM392.98 190.96h.9v.9h-.9zM398.85 160.56h.9v.9h-.9zM412.26 164.9h.9v.9h-.9zM384.06 190.44h.9v.9h-.9zM375.42 173.28h.9v.9h-.9zM383.57 166.89h.9v.9h-.9zM415.12 169.67h.9v.9h-.9zM416.07 161.6h.9v.9h-.9zM409.07 156.27h.9v.9h-.9zM401.75 160.9h.9v.9h-.9zM392.11 163.18h.9v.9h-.9zM409.35 161.7h.9v.9h-.9zM365.35 181.59h.9v.9h-.9zM383 193.62h.9v.9h-.9zM375.71 173.53h.9v.9h-.9zM392.56 177.51h.9v.9h-.9zM378.29 170.16h.9v.9h-.9zM362.66 148.92h.9v.9h-.9zM417.54 172.39h.9v.9h-.9zM418.89 189.31h.9v.9h-.9zM416.45 168.19h.9v.9h-.9zM397 161.7h.9v.9h-.9zM385.15 190.18h.9v.9h-.9zM374.64 181.08h.9v.9h-.9zM380.06 190.2h.9v.9h-.9zM400.52 159.69h.9v.9h-.9zM377.02 189.41h.9v.9h-.9zM384.64 190.34h.9v.9h-.9zM375.32 168.59h.9v.9h-.9zM400.37 159.94h.9v.9h-.9zM378.67 187.91h.9v.9h-.9zM379.38 168.22h.9v.9h-.9zM374.06 171.8h.9v.9h-.9zM391.88 189.86h.9v.9h-.9zM418.94 167.86h.9v.9h-.9zM411.2 161.49h.9v.9h-.9zM416.5 173.03h.9v.9h-.9zM381.1 167.48h.9v.9h-.9zM397.03 187h.9v.9h-.9zM376.44 173.16h.9v.9h-.9zM381.89 190.16h.9v.9h-.9zM407.55 172.78h.9v.9h-.9zM372.28 178.36h.9v.9h-.9zM411.22 178.9h.9v.9h-.9zM399.4 160.49h.9v.9h-.9zM377.08 189.58h.9v.9h-.9zM370.18 179.07h.9v.9h-.9zM377.02 187.12h.9v.9h-.9zM391.79 189.15h.9v.9h-.9zM377.62 172.13h.9v.9h-.9zM374.31 178.77h.9v.9h-.9zM408.41 179.97h.9v.9h-.9zM372.35 179.13h.9v.9h-.9zM413.63 177.34h.9v.9h-.9zM413.55 167.29h.9v.9h-.9zM416.34 169.47h.9v.9h-.9zM372.54 182.34h.9v.9h-.9zM390.16 191.81h.9v.9h-.9zM411.54 159.99h.9v.9h-.9zM409.67 157.7h.9v.9h-.9zM389.34 190.27h.9v.9h-.9zM379.47 166.32h.9v.9h-.9zM401.49 187.14h.9v.9h-.9zM386.38 151.55h.9v.9h-.9zM380.15 169.6h.9v.9h-.9zM383.63 177.57h.9v.9h-.9zM392.91 188.48h.9v.9h-.9zM381.07 172.9h.9v.9h-.9zM411.05 161.76h.9v.9h-.9zM402.9 184.47h.9v.9h-.9zM372 187.06h.9v.9h-.9zM396.62 189.65h.9v.9h-.9zM396.51 161.39h.9v.9h-.9zM389.58 163.65h.9v.9h-.9zM405.4 183.98h.9v.9h-.9zM399.74 161.15h.9v.9h-.9zM390.49 160.67h.9v.9h-.9zM411.71 163.93h.9v.9h-.9zM395.41 161.15h.9v.9h-.9zM370.6 183.1h.9v.9h-.9zM374.66 176.76h.9v.9h-.9zM411.27 161.79h.9v.9h-.9zM376.79 187.73h.9v.9h-.9zM385.41 161.77h.9v.9h-.9zM405.08 171.75h.9v.9h-.9zM402.67 155.93h.9v.9h-.9zM394.33 161.12h.9v.9h-.9zM398.1 188.23h.9v.9h-.9zM410.26 157.33h.9v.9h-.9zM374.08 182.66h.9v.9h-.9zM387.52 189.65h.9v.9h-.9zM408.92 181.93h.9v.9h-.9zM412.19 161.3h.9v.9h-.9zM390.67 160.15h.9v.9h-.9zM416.22 170.52h.9v.9h-.9zM399.76 158.5h.9v.9h-.9zM405.18 157.62h.9v.9h-.9zM410.03 183.87h.9v.9h-.9zM378.19 188.28h.9v.9h-.9zM384.88 144.91h.9v.9h-.9zM415.29 173.89h.9v.9h-.9zM395.15 159.84h.9v.9h-.9zM375.41 183.8h.9v.9h-.9zM366.38 184.14h.9v.9h-.9zM390.22 163.73h.9v.9h-.9zM381.3 166.21h.9v.9h-.9zM392.05 162.78h.9v.9h-.9zM397.2 171.79h.9v.9h-.9zM389.2 194.43h.9v.9h-.9zM403.14 192.16h.9v.9h-.9zM389.35 164.1h.9v.9h-.9zM373.66 176.43h.9v.9h-.9zM407.73 174.81h.9v.9h-.9zM377.29 188.69h.9v.9h-.9zM395.84 169.44h.9v.9h-.9zM377.19 169.74h.9v.9h-.9zM389.18 169.4h.9v.9h-.9zM385.86 193.91h.9v.9h-.9zM416.63 175.73h.9v.9h-.9zM388.15 163.2h.9v.9h-.9zM391.58 180.41h.9v.9h-.9zM415.81 163.63h.9v.9h-.9zM376.97 172.42h.9v.9h-.9zM410.74 163.29h.9v.9h-.9zM413.89 169.42h.9v.9h-.9zM415.93 135.45h.9v.9h-.9zM382.77 192.53h.9v.9h-.9zM410.23 159.93h.9v.9h-.9zM413.55 177.72h.9v.9h-.9zM394.94 185.46h.9v.9h-.9zM395.56 187.38h.9v.9h-.9zM385.46 165.71h.9v.9h-.9zM406.73 169.81h.9v.9h-.9zM367.91 177.69h.9v.9h-.9zM375.82 191.96h.9v.9h-.9zM410.24 163.29h.9v.9h-.9zM377.22 166.66h.9v.9h-.9zM380.17 175.16h.9v.9h-.9zM398.62 187.06h.9v.9h-.9zM391.64 189.65h.9v.9h-.9zM410.11 160.43h.9v.9h-.9zM396.63 159.5h.9v.9h-.9zM388.87 159.67h.9v.9h-.9zM380.2 169.04h.9v.9h-.9zM378.13 171.4h.9v.9h-.9zM382.37 168.15h.9v.9h-.9zM379.86 167.61h.9v.9h-.9zM376.88 174.41h.9v.9h-.9zM410.5 179.03h.9v.9h-.9zM411.8 179.02h.9v.9h-.9zM376.65 172.75h.9v.9h-.9zM411.76 159.32h.9v.9h-.9zM377.27 192h.9v.9h-.9zM414.15 172.81h.9v.9h-.9zM404.5 158.17h.9v.9h-.9zM396.77 186.57h.9v.9h-.9zM371.25 188.67h.9v.9h-.9zM374.99 174.85h.9v.9h-.9zM416.71 176.67h.9v.9h-.9zM414.5 181.19h.9v.9h-.9zM396.82 157.94h.9v.9h-.9zM413.07 167.31h.9v.9h-.9zM407.61 159.31h.9v.9h-.9zM416.08 170.22h.9v.9h-.9zM418.42 168.36h.9v.9h-.9zM405.35 160.34h.9v.9h-.9zM403.1 185.01h.9v.9h-.9zM371.11 182.82h.9v.9h-.9zM390.3 187.47h.9v.9h-.9zM385.87 190.21h.9v.9h-.9zM371.17 177.6h.9v.9h-.9zM378.28 168.37h.9v.9h-.9zM417.69 163.71h.9v.9h-.9zM417.09 171.33h.9v.9h-.9zM401.09 186.68h.9v.9h-.9zM398.44 159.12h.9v.9h-.9zM378.12 186.69h.9v.9h-.9zM376.83 171.32h.9v.9h-.9zM395.66 161.25h.9v.9h-.9zM383.64 192.49h.9v.9h-.9zM386.97 164.91h.9v.9h-.9zM413.01 176.76h.9v.9h-.9zM374.73 184.24h.9v.9h-.9zM408.48 180.18h.9v.9h-.9zM411.02 167.64h.9v.9h-.9zM409.56 159.5h.9v.9h-.9zM389.39 180.27h.9v.9h-.9zM377.84 167.16h.9v.9h-.9zM374.68 185.13h.9v.9h-.9zM378.19 187.5h.9v.9h-.9zM406.93 159.8h.9v.9h-.9zM386.7 165.64h.9v.9h-.9zM383.13 188.91h.9v.9h-.9zM395.77 142.59h.9v.9h-.9zM385.05 164.97h.9v.9h-.9zM409.83 184.01h.9v.9h-.9zM389.47 164.04h.9v.9h-.9zM393.3 162.5h.9v.9h-.9zM410.38 168.05h.9v.9h-.9zM381.97 167.86h.9v.9h-.9zM382.03 191.24h.9v.9h-.9zM382.52 180.65h.9v.9h-.9zM373.65 181.93h.9v.9h-.9zM375.88 171.8h.9v.9h-.9zM411.2 164.85h.9v.9h-.9zM380.71 192.99h.9v.9h-.9zM379.25 187.7h.9v.9h-.9zM414.63 174.03h.9v.9h-.9zM373.6 185.16h.9v.9h-.9zM390.74 161.21h.9v.9h-.9zM398.84 167.56h.9v.9h-.9zM393.54 188.37h.9v.9h-.9zM375.49 189.17h.9v.9h-.9zM387.09 190.43h.9v.9h-.9zM368.96 179.28h.9v.9h-.9zM400.17 185.08h.9v.9h-.9zM412.27 187.97h.9v.9h-.9zM411.02 158.93h.9v.9h-.9zM414.68 176.58h.9v.9h-.9zM412.25 180.96h.9v.9h-.9zM414.26 162.91h.9v.9h-.9zM387.47 189.74h.9v.9h-.9zM385.42 193.32h.9v.9h-.9zM416.27 173.5h.9v.9h-.9zM415.36 173.96h.9v.9h-.9zM398.22 175.18h.9v.9h-.9zM399.02 160.27h.9v.9h-.9zM404.88 167.82h.9v.9h-.9zM409.6 157.43h.9v.9h-.9zM391.77 161.31h.9v.9h-.9zM377.18 187.57h.9v.9h-.9zM413.32 170.63h.9v.9h-.9z" fill="#444" opacity=".8"/><g transform="translate(394 175) rotate(-24)"><path d="M20 0L19.79 2.45L19.18 4.32L18.17 5.96L16.76 7.39L14.98 8.62L12.84 9.64L10.36 10.45L7.52 11.03L4.26 11.38L0 11.5L-4.26 11.38L-7.52 11.03L-10.36 10.45L-12.84 9.64L-14.98 8.62L-16.76 7.39L-18.17 5.96L-19.18 4.32L-19.79 2.45L-20 0L-19.79 -2.45L-19.18 -4.32L-18.17 -5.96L-16.76 -7.39L-14.98 -8.62L-12.84 -9.64L-10.36 -10.45L-7.52 -11.03L-4.26 -11.38L-0 -11.5L4.26 -11.38L7.52 -11.03L10.36 -10.45L12.84 -9.64L14.98 -8.62L16.76 -7.39L18.17 -5.96L19.18 -4.32L19.79 -2.45Z" fill="#d0d0d0" stroke="#111" stroke-width="1.2"/><path d="M17.91 0L17.73 2.04L17.21 3.61L16.34 4.97L15.15 6.16L13.63 7.19L11.81 8.04L9.69 8.71L7.27 9.2L4.5 9.5L0.87 9.59L-2.76 9.5L-5.53 9.2L-7.95 8.71L-10.07 8.04L-11.89 7.19L-13.4 6.16L-14.6 4.97L-15.46 3.61L-15.99 2.04L-16.16 0L-15.99 -2.04L-15.46 -3.61L-14.6 -4.97L-13.4 -6.16L-11.89 -7.19L-10.07 -8.04L-7.95 -8.71L-5.53 -9.2L-2.76 -9.5L0.87 -9.59L4.5 -9.5L7.27 -9.2L9.69 -8.71L11.81 -8.04L13.63 -7.19L15.15 -6.16L16.34 -4.97L17.21 -3.61L17.73 -2.04Z" fill="#b0b0b0"/><path d="M16.23 0L16.08 1.72L15.63 3.03L14.88 4.18L13.85 5.18L12.55 6.04L10.98 6.76L9.16 7.33L7.08 7.73L4.7 7.98L1.57 8.06L-1.55 7.98L-3.94 7.73L-6.02 7.33L-7.84 6.76L-9.41 6.04L-10.71 5.18L-11.74 4.18L-12.48 3.03L-12.93 1.72L-13.08 0L-12.93 -1.72L-12.48 -3.03L-11.74 -4.18L-10.71 -5.18L-9.41 -6.04L-7.84 -6.76L-6.02 -7.33L-3.94 -7.73L-1.55 -7.98L1.57 -8.06L4.7 -7.98L7.08 -7.73L9.16 -7.33L10.98 -6.76L12.55 -6.04L13.85 -5.18L14.88 -4.18L15.63 -3.03L16.08 -1.72Z" fill="#8c8c8c"/><path d="M13.2 0L13.09 1.13L12.77 1.99L12.25 2.75L11.52 3.41L10.6 3.98L9.49 4.45L8.2 4.82L6.73 5.09L5.04 5.25L2.83 5.31L0.63 5.25L-1.06 5.09L-2.53 4.82L-3.82 4.45L-4.93 3.98L-5.85 3.41L-6.58 2.75L-7.11 1.99L-7.42 1.13L-7.53 0L-7.42 -1.13L-7.11 -1.99L-6.58 -2.75L-5.85 -3.41L-4.93 -3.98L-3.82 -4.45L-2.53 -4.82L-1.06 -5.09L0.63 -5.25L2.83 -5.31L5.04 -5.25L6.73 -5.09L8.2 -4.82L9.49 -4.45L10.6 -3.98L11.52 -3.41L12.25 -2.75L12.77 -1.99L13.09 -1.13Z" fill="#555"/><path d="M17.91 0L17.73 2.04L17.21 3.61L16.34 4.97L15.15 6.16L13.63 7.19L11.81 8.04L9.69 8.71L7.27 9.2L4.5 9.5L0.87 9.59L-2.76 9.5L-5.53 9.2L-7.95 8.71L-10.07 8.04L-11.89 7.19L-13.4 6.16L-14.6 4.97L-15.46 3.61L-15.99 2.04L-16.16 0L-15.99 -2.04L-15.46 -3.61L-14.6 -4.97L-13.4 -6.16L-11.89 -7.19L-10.07 -8.04L-7.95 -8.71L-5.53 -9.2L-2.76 -9.5L0.87 -9.59L4.5 -9.5L7.27 -9.2L9.69 -8.71L11.81 -8.04L13.63 -7.19L15.15 -6.16L16.34 -4.97L17.21 -3.61L17.73 -2.04ZM16.23 0L16.08 1.72L15.63 3.03L14.88 4.18L13.85 5.18L12.55 6.04L10.98 6.76L9.16 7.33L7.08 7.73L4.7 7.98L1.57 8.06L-1.55 7.98L-3.94 7.73L-6.02 7.33L-7.84 6.76L-9.41 6.04L-10.71 5.18L-11.74 4.18L-12.48 3.03L-12.93 1.72L-13.08 0L-12.93 -1.72L-12.48 -3.03L-11.74 -4.18L-10.71 -5.18L-9.41 -6.04L-7.84 -6.76L-6.02 -7.33L-3.94 -7.73L-1.55 -7.98L1.57 -8.06L4.7 -7.98L7.08 -7.73L9.16 -7.33L10.98 -6.76L12.55 -6.04L13.85 -5.18L14.88 -4.18L15.63 -3.03L16.08 -1.72ZM14.67 0L14.55 1.42L14.16 2.5L13.53 3.44L12.66 4.27L11.55 4.98L10.22 5.57L8.67 6.04L6.9 6.38L4.87 6.58L2.22 6.65L-0.44 6.58L-2.46 6.38L-4.23 6.04L-5.78 5.57L-7.11 4.98L-8.22 4.27L-9.09 3.44L-9.73 2.5L-10.11 1.42L-10.24 0L-10.11 -1.42L-9.73 -2.5L-9.09 -3.44L-8.22 -4.27L-7.11 -4.98L-5.78 -5.57L-4.23 -6.04L-2.46 -6.38L-0.44 -6.58L2.22 -6.65L4.87 -6.58L6.9 -6.38L8.67 -6.04L10.22 -5.57L11.55 -4.98L12.66 -4.27L13.53 -3.44L14.16 -2.5L14.55 -1.42ZM13.2 0L13.09 1.13L12.77 1.99L12.25 2.75L11.52 3.41L10.6 3.98L9.49 4.45L8.2 4.82L6.73 5.09L5.04 5.25L2.83 5.31L0.63 5.25L-1.06 5.09L-2.53 4.82L-3.82 4.45L-4.93 3.98L-5.85 3.41L-6.58 2.75L-7.11 1.99L-7.42 1.13L-7.53 0L-7.42 -1.13L-7.11 -1.99L-6.58 -2.75L-5.85 -3.41L-4.93 -3.98L-3.82 -4.45L-2.53 -4.82L-1.06 -5.09L0.63 -5.25L2.83 -5.31L5.04 -5.25L6.73 -5.09L8.2 -4.82L9.49 -4.45L10.6 -3.98L11.52 -3.41L12.25 -2.75L12.77 -1.99L13.09 -1.13ZM11.78 0L11.69 0.86L11.44 1.51L11.01 2.08L10.43 2.58L9.68 3.01L8.79 3.36L7.75 3.65L6.56 3.85L5.21 3.97L3.43 4.01L1.65 3.97L0.29 3.85L-0.9 3.65L-1.94 3.36L-2.83 3.01L-3.57 2.58L-4.16 2.08L-4.58 1.51L-4.84 0.86L-4.93 0L-4.84 -0.86L-4.58 -1.51L-4.16 -2.08L-3.57 -2.58L-2.83 -3.01L-1.94 -3.36L-0.9 -3.65L0.29 -3.85L1.65 -3.97L3.43 -4.01L5.21 -3.97L6.56 -3.85L7.75 -3.65L8.79 -3.36L9.68 -3.01L10.43 -2.58L11.01 -2.08L11.44 -1.51L11.69 -0.86Z" fill="none" stroke="#262626" stroke-width=".95"/><path d="M10 0L9.94 0.59L9.75 1.04L9.45 1.43L9.03 1.77L8.49 2.07L7.85 2.31L7.11 2.51L6.25 2.65L5.28 2.73L4 2.76L2.72 2.73L1.75 2.65L0.89 2.51L0.15 2.31L-0.49 2.07L-1.03 1.77L-1.45 1.43L-1.75 1.04L-1.94 0.59L-2 0L-1.94 -0.59L-1.75 -1.04L-1.45 -1.43L-1.03 -1.77L-0.49 -2.07L0.15 -2.31L0.89 -2.51L1.75 -2.65L2.72 -2.73L4 -2.76L5.28 -2.73L6.25 -2.65L7.11 -2.51L7.85 -2.31L8.49 -2.07L9.03 -1.77L9.45 -1.43L9.75 -1.04L9.94 -0.59Z" fill="#2e2e2e"/><ellipse cx="4" cy="0" rx="4" ry="0.6" fill="#eee"/></g>
</svg>
<path d="M388.8 125.6V195.8M352.8 168.6H423.3" stroke="#3030a8" stroke-width="1.3" fill="none"/>
<rect x="352.8" y="125.6" width="70.5" height="70.2" fill="none" stroke="#111" stroke-width="1.5"/>
<path d="M352.2 194.3h-2.2M354.3 196.4v2.2M352.2 192.8h-1.6M355.8 196.4v1.6M352.2 191.3h-1.6M357.3 196.4v1.6M352.2 189.8h-2.2M358.8 196.4v2.2M352.2 188.3h-1.6M360.3 196.4v1.6M352.2 186.8h-1.6M361.8 196.4v1.6M352.2 185.3h-1.6M363.3 196.4v1.6M352.2 183.8h-2.2M364.8 196.4v2.2M352.2 182.3h-1.6M366.3 196.4v1.6M352.2 178.99h-1.6M369.61 196.4v1.6M352.2 176.3h-1.6M372.3 196.4v1.6M352.2 174.2h-1.6M374.4 196.4v1.6M352.2 172.49h-1.6M376.11 196.4v1.6M352.2 171.05h-1.6M377.55 196.4v1.6M352.2 169.79h-1.6M378.81 196.4v1.6M352.2 168.69h-1.6M379.91 196.4v1.6M352.2 167.7h-2.8M380.9 196.4v2.8M352.2 161.2h-1.6M387.4 196.4v1.6M352.2 157.39h-1.6M391.21 196.4v1.6M352.2 154.7h-1.6M393.9 196.4v1.6M352.2 152.6h-1.6M396 196.4v1.6M352.2 150.89h-1.6M397.71 196.4v1.6M352.2 149.45h-1.6M399.15 196.4v1.6M352.2 148.19h-1.6M400.41 196.4v1.6M352.2 147.09h-1.6M401.51 196.4v1.6M352.2 146.1h-2.8M402.5 196.4v2.8M352.2 139.6h-1.6M409 196.4v1.6M352.2 135.79h-1.6M412.81 196.4v1.6M352.2 133.1h-1.6M415.5 196.4v1.6M352.2 131h-1.6M417.6 196.4v1.6M352.2 129.29h-1.6M419.31 196.4v1.6M352.2 127.85h-1.6M420.75 196.4v1.6" stroke="#111" stroke-width="0.9" fill="none"/>
<path d="M352.5 125.6V196.1H423.3" stroke="#111" stroke-width="1" fill="none"/>
<svg x="432.3" y="125.6" width="70.5" height="70.2" viewBox="432.3 125.6 70.5 70.2" overflow="hidden">
<path d="M452.64 179.09h.9v.9h-.9zM461.63 172.11h.9v.9h-.9zM450.13 185.76h.9v.9h-.9zM462.51 175.81h.9v.9h-.9zM467.76 189.87h.9v.9h-.9zM490.89 181.58h.9v.9h-.9zM451.41 179.43h.9v.9h-.9zM466.32 172.42h.9v.9h-.9zM459.85 188.68h.9v.9h-.9zM473.55 172.06h.9v.9h-.9zM487.6 166.03h.9v.9h-.9zM467.89 172.14h.9v.9h-.9zM490.32 182.6h.9v.9h-.9zM487.61 168.39h.9v.9h-.9zM490.09 176.8h.9v.9h-.9zM488.85 162.22h.9v.9h-.9zM482.51 186.45h.9v.9h-.9zM485.79 169.6h.9v.9h-.9zM477.26 168.92h.9v.9h-.9zM467.5 171.93h.9v.9h-.9zM496.77 165.67h.9v.9h-.9zM477.6 159.85h.9v.9h-.9zM453.97 177.18h.9v.9h-.9zM478.39 170.28h.9v.9h-.9zM463.83 176.54h.9v.9h-.9zM474.63 187.96h.9v.9h-.9zM453.02 176.38h.9v.9h-.9zM451.62 177.4h.9v.9h-.9zM459.15 173.62h.9v.9h-.9zM477.01 190.45h.9v.9h-.9zM486.95 173.71h.9v.9h-.9zM455.44 185.72h.9v.9h-.9zM449.52 185.59h.9v.9h-.9zM453.19 182.79h.9v.9h-.9zM454.06 174.14h.9v.9h-.9zM491.43 172.88h.9v.9h-.9zM480.94 172.29h.9v.9h-.9zM459.07 188.55h.9v.9h-.9zM486.29 185.52h.9v.9h-.9zM485.98 184.87h.9v.9h-.9zM451.85 177.84h.9v.9h-.9zM449.26 183.31h.9v.9h-.9zM481.9 157.08h.9v.9h-.9zM491.21 168.84h.9v.9h-.9zM456.82 172.36h.9v.9h-.9zM495.71 162.56h.9v.9h-.9zM455.02 186.81h.9v.9h-.9zM463.93 172.88h.9v.9h-.9zM483.47 191.14h.9v.9h-.9zM446.54 174.82h.9v.9h-.9zM464.14 170.59h.9v.9h-.9zM480.61 171.77h.9v.9h-.9zM490.27 173.71h.9v.9h-.9zM455.21 173.71h.9v.9h-.9zM466.26 144.3h.9v.9h-.9zM479.31 188.1h.9v.9h-.9zM455.4 173.75h.9v.9h-.9zM483.75 163.98h.9v.9h-.9zM457.21 173.49h.9v.9h-.9zM455.55 171.06h.9v.9h-.9zM464.11 172.41h.9v.9h-.9zM489.26 174.34h.9v.9h-.9zM467.04 171.7h.9v.9h-.9zM465.7 171.62h.9v.9h-.9zM452.42 177.69h.9v.9h-.9zM459.81 173.95h.9v.9h-.9zM482.9 186.1h.9v.9h-.9zM479.64 151.99h.9v.9h-.9zM479.28 187.98h.9v.9h-.9zM451.72 175.61h.9v.9h-.9zM461.93 188.56h.9v.9h-.9zM453.91 159.66h.9v.9h-.9zM486.58 185.28h.9v.9h-.9zM456.42 173.25h.9v.9h-.9zM448.43 184.34h.9v.9h-.9zM452.37 186.14h.9v.9h-.9zM476.1 188.61h.9v.9h-.9zM466.26 182.64h.9v.9h-.9zM474.61 186.05h.9v.9h-.9zM490.08 184.25h.9v.9h-.9zM478.78 159.6h.9v.9h-.9zM452.04 182.98h.9v.9h-.9zM479.54 173.56h.9v.9h-.9zM473.7 171.85h.9v.9h-.9zM449.06 180.86h.9v.9h-.9zM493.14 155.12h.9v.9h-.9zM497.22 177.01h.9v.9h-.9zM482.06 158.52h.9v.9h-.9zM480.38 158h.9v.9h-.9zM456.02 175.48h.9v.9h-.9zM491.86 181.29h.9v.9h-.9zM460.44 187.4h.9v.9h-.9zM480.64 186.89h.9v.9h-.9zM490.8 181.26h.9v.9h-.9zM465.85 170.27h.9v.9h-.9zM447.85 176.64h.9v.9h-.9zM476.71 186.28h.9v.9h-.9zM468.06 188.06h.9v.9h-.9zM493.15 173.54h.9v.9h-.9zM465.41 171.89h.9v.9h-.9zM494.41 176.77h.9v.9h-.9zM493.49 179.64h.9v.9h-.9zM487.74 187.11h.9v.9h-.9zM455.76 175.28h.9v.9h-.9zM482.02 187.01h.9v.9h-.9zM488.25 173.93h.9v.9h-.9zM471.78 148.02h.9v.9h-.9zM461.84 188.57h.9v.9h-.9zM480.76 170.47h.9v.9h-.9zM486.97 186.49h.9v.9h-.9zM492.44 172.59h.9v.9h-.9zM461.38 171.56h.9v.9h-.9zM489.64 187.62h.9v.9h-.9zM481.58 169.53h.9v.9h-.9zM458.45 173.92h.9v.9h-.9zM476.6 188.42h.9v.9h-.9zM458.67 172.92h.9v.9h-.9zM461.09 171.93h.9v.9h-.9zM482.91 171.42h.9v.9h-.9zM490.83 177.39h.9v.9h-.9zM473.4 169.92h.9v.9h-.9zM476.3 187.92h.9v.9h-.9zM457.1 187.5h.9v.9h-.9zM479.27 171.98h.9v.9h-.9zM467.76 172.5h.9v.9h-.9zM470.43 172.06h.9v.9h-.9zM459.61 171.56h.9v.9h-.9zM453.32 185.86h.9v.9h-.9zM449.3 180.92h.9v.9h-.9zM454.78 187.03h.9v.9h-.9zM450.49 183.96h.9v.9h-.9zM490.53 179.85h.9v.9h-.9zM475.54 171.72h.9v.9h-.9zM484.57 171.73h.9v.9h-.9zM478 189.01h.9v.9h-.9zM448.11 184.69h.9v.9h-.9zM478.11 158.56h.9v.9h-.9zM494.42 175.76h.9v.9h-.9zM487.97 160.3h.9v.9h-.9zM470.01 187.68h.9v.9h-.9zM454.24 175.95h.9v.9h-.9zM465.15 170.38h.9v.9h-.9zM488.47 187.13h.9v.9h-.9zM489.77 172.41h.9v.9h-.9zM481.12 162.01h.9v.9h-.9zM451.23 176.05h.9v.9h-.9zM492.6 175.32h.9v.9h-.9zM446.3 184.78h.9v.9h-.9zM475.92 157.06h.9v.9h-.9zM449.56 177.83h.9v.9h-.9zM493.88 182.6h.9v.9h-.9zM448.66 184.61h.9v.9h-.9zM488.22 187.15h.9v.9h-.9zM492.41 180.09h.9v.9h-.9zM470.08 191.06h.9v.9h-.9zM493.56 176.48h.9v.9h-.9zM487.89 172.68h.9v.9h-.9zM463.33 188.65h.9v.9h-.9zM480.8 171.81h.9v.9h-.9zM490.17 180.27h.9v.9h-.9zM467.96 183.61h.9v.9h-.9zM463.51 169.88h.9v.9h-.9zM475.14 166.35h.9v.9h-.9zM454.2 175.77h.9v.9h-.9zM491.87 171.39h.9v.9h-.9zM479.41 159.22h.9v.9h-.9zM450.63 185.21h.9v.9h-.9zM480.44 187.31h.9v.9h-.9zM489.19 183.04h.9v.9h-.9zM465.59 188.35h.9v.9h-.9zM460.8 189.07h.9v.9h-.9zM471.75 190.14h.9v.9h-.9zM468.2 165.13h.9v.9h-.9zM470.04 190.82h.9v.9h-.9zM470.08 172.23h.9v.9h-.9zM456.77 173.78h.9v.9h-.9zM461.79 166.23h.9v.9h-.9zM493.21 182.51h.9v.9h-.9zM490.21 185.13h.9v.9h-.9zM478.8 172.31h.9v.9h-.9zM495.5 156.82h.9v.9h-.9zM450.71 186.38h.9v.9h-.9zM470.17 181.79h.9v.9h-.9zM491.31 175.69h.9v.9h-.9zM490.64 173.99h.9v.9h-.9zM471.24 188.02h.9v.9h-.9zM480.08 161.18h.9v.9h-.9zM460.9 187.51h.9v.9h-.9zM443.6 178.45h.9v.9h-.9zM480.34 187.88h.9v.9h-.9zM476.86 188.02h.9v.9h-.9zM456.3 174.07h.9v.9h-.9zM481.95 188.12h.9v.9h-.9zM485.44 169.41h.9v.9h-.9zM453.01 185.93h.9v.9h-.9zM487.97 171.23h.9v.9h-.9zM456.9 186.33h.9v.9h-.9zM493.64 156.85h.9v.9h-.9zM483.97 172.98h.9v.9h-.9zM450.79 191.05h.9v.9h-.9zM458.38 174.34h.9v.9h-.9zM483.7 186.26h.9v.9h-.9zM491.05 176.16h.9v.9h-.9zM473.99 181.62h.9v.9h-.9zM468.9 190.17h.9v.9h-.9zM467.44 188.02h.9v.9h-.9zM491.12 162.19h.9v.9h-.9zM457.92 174.76h.9v.9h-.9zM446.8 177.2h.9v.9h-.9zM489.74 156.98h.9v.9h-.9zM485.78 173.81h.9v.9h-.9zM481.82 186.75h.9v.9h-.9zM480.91 153.79h.9v.9h-.9zM487.42 173.95h.9v.9h-.9zM492.14 186.7h.9v.9h-.9zM452.52 177.29h.9v.9h-.9zM492.71 187.1h.9v.9h-.9zM466.01 171.88h.9v.9h-.9zM470.98 177.34h.9v.9h-.9zM449.66 182.04h.9v.9h-.9zM492.42 186.25h.9v.9h-.9zM453.26 175.03h.9v.9h-.9zM491.85 160.26h.9v.9h-.9zM449.56 186.51h.9v.9h-.9zM482.13 156.99h.9v.9h-.9zM452.92 183.07h.9v.9h-.9zM463.9 172.54h.9v.9h-.9zM487.12 161.04h.9v.9h-.9zM493.12 173.82h.9v.9h-.9zM467.34 189.45h.9v.9h-.9zM485.81 171.83h.9v.9h-.9zM489.88 183h.9v.9h-.9zM475.19 178.17h.9v.9h-.9zM485.67 187.24h.9v.9h-.9zM456.95 186.05h.9v.9h-.9zM483.52 160.85h.9v.9h-.9zM464.77 172.21h.9v.9h-.9zM457.66 173.89h.9v.9h-.9zM469.98 188.25h.9v.9h-.9zM451.83 186.02h.9v.9h-.9zM492.46 186.84h.9v.9h-.9zM479.68 181.05h.9v.9h-.9zM459.12 173.71h.9v.9h-.9zM446.3 189.29h.9v.9h-.9zM485.4 158.44h.9v.9h-.9zM474.9 170.54h.9v.9h-.9zM490.57 177.62h.9v.9h-.9zM450.81 182.97h.9v.9h-.9zM482.73 170.62h.9v.9h-.9zM460.93 189.86h.9v.9h-.9zM495.63 181.59h.9v.9h-.9zM492.04 173.61h.9v.9h-.9zM478.87 162.63h.9v.9h-.9zM452.56 183.68h.9v.9h-.9zM450.01 179.91h.9v.9h-.9zM485.94 185.11h.9v.9h-.9zM470.35 172.41h.9v.9h-.9zM493.66 178.29h.9v.9h-.9zM450.76 175.94h.9v.9h-.9zM462.02 189.95h.9v.9h-.9zM450.32 173.9h.9v.9h-.9zM451.46 175.17h.9v.9h-.9zM493.58 178.24h.9v.9h-.9zM482.12 167.82h.9v.9h-.9zM466.9 169.31h.9v.9h-.9zM481.75 160.2h.9v.9h-.9zM464.57 191.14h.9v.9h-.9zM488.54 174.25h.9v.9h-.9zM489.92 177.09h.9v.9h-.9zM457.47 187.49h.9v.9h-.9zM495.54 183.94h.9v.9h-.9zM464.73 187.96h.9v.9h-.9zM484.37 161.81h.9v.9h-.9zM481.3 187.55h.9v.9h-.9zM478.63 183.02h.9v.9h-.9zM489 175.5h.9v.9h-.9zM452.13 176.51h.9v.9h-.9zM469.02 189.2h.9v.9h-.9zM465.67 172.76h.9v.9h-.9zM490.08 178.07h.9v.9h-.9zM474.97 172.64h.9v.9h-.9zM492.06 173.81h.9v.9h-.9zM457.04 186.36h.9v.9h-.9zM462.55 189.21h.9v.9h-.9zM483.58 161.81h.9v.9h-.9zM486.66 167.04h.9v.9h-.9zM437.64 182.67h.9v.9h-.9zM490.16 182.23h.9v.9h-.9zM468.15 171.99h.9v.9h-.9zM495.69 160.93h.9v.9h-.9zM487.06 184.42h.9v.9h-.9zM466.33 183.15h.9v.9h-.9zM481.86 187.58h.9v.9h-.9zM459.91 173.47h.9v.9h-.9zM464.88 169.53h.9v.9h-.9zM489.8 184.64h.9v.9h-.9zM486.18 184.97h.9v.9h-.9zM451.95 176.09h.9v.9h-.9zM480.66 158.06h.9v.9h-.9zM464.52 182.92h.9v.9h-.9zM476.56 176.54h.9v.9h-.9zM482.51 186.86h.9v.9h-.9zM484.4 172.6h.9v.9h-.9zM449.88 185.52h.9v.9h-.9zM481.71 188.93h.9v.9h-.9zM475.93 188.1h.9v.9h-.9zM481.58 156.44h.9v.9h-.9zM475.18 190.73h.9v.9h-.9zM479.72 158.86h.9v.9h-.9zM491.04 177.62h.9v.9h-.9zM473.99 172.17h.9v.9h-.9zM487.2 182.7h.9v.9h-.9zM483.1 187.29h.9v.9h-.9zM489.61 182.91h.9v.9h-.9zM494.84 177.6h.9v.9h-.9zM477.97 159.79h.9v.9h-.9zM469.82 188.15h.9v.9h-.9zM474.21 187.87h.9v.9h-.9zM464.53 181.39h.9v.9h-.9zM480 166.82h.9v.9h-.9zM485.61 172.97h.9v.9h-.9zM485.27 161.19h.9v.9h-.9zM499.83 182.02h.9v.9h-.9zM457.98 174.62h.9v.9h-.9zM447.48 179.64h.9v.9h-.9zM490 188.79h.9v.9h-.9zM455.35 185.53h.9v.9h-.9zM483.21 187.09h.9v.9h-.9zM446.21 161.52h.9v.9h-.9zM487.45 171.38h.9v.9h-.9zM475.94 188.52h.9v.9h-.9zM485.98 184.82h.9v.9h-.9zM456.83 190.13h.9v.9h-.9zM493.72 178.9h.9v.9h-.9zM486.67 184.65h.9v.9h-.9zM465.58 172.14h.9v.9h-.9zM452.17 179.27h.9v.9h-.9zM473.17 161.75h.9v.9h-.9zM466.84 187.83h.9v.9h-.9zM488.79 183.33h.9v.9h-.9zM487.9 157.6h.9v.9h-.9zM454.5 186.33h.9v.9h-.9zM455.76 174.62h.9v.9h-.9zM456.24 156.74h.9v.9h-.9zM452.29 181.45h.9v.9h-.9zM466.72 187.05h.9v.9h-.9zM448.38 184.49h.9v.9h-.9zM456.1 172.57h.9v.9h-.9zM456.55 173.52h.9v.9h-.9zM469.8 170.9h.9v.9h-.9zM456.51 186.26h.9v.9h-.9zM486.07 159.86h.9v.9h-.9zM482.12 171.95h.9v.9h-.9zM460.21 161.93h.9v.9h-.9zM491.41 162.63h.9v.9h-.9zM482.23 166.08h.9v.9h-.9zM448.57 180.18h.9v.9h-.9zM473.29 172h.9v.9h-.9zM461.95 181.63h.9v.9h-.9zM478.38 186.15h.9v.9h-.9zM464.16 172.1h.9v.9h-.9zM465.27 171.21h.9v.9h-.9zM446.22 186.5h.9v.9h-.9zM469.08 171.62h.9v.9h-.9zM485.7 166.29h.9v.9h-.9zM479.85 170.39h.9v.9h-.9zM451.23 178.83h.9v.9h-.9zM470.74 181.39h.9v.9h-.9zM449.62 176.37h.9v.9h-.9zM494.65 156.49h.9v.9h-.9zM495.8 182.76h.9v.9h-.9zM449.37 178.57h.9v.9h-.9zM451.64 177.31h.9v.9h-.9zM487.35 174.44h.9v.9h-.9zM459.64 170.99h.9v.9h-.9zM476.66 188.04h.9v.9h-.9zM494.57 182.98h.9v.9h-.9zM489.82 182.14h.9v.9h-.9zM458.16 188.97h.9v.9h-.9zM479.68 172.01h.9v.9h-.9zM452.42 181.58h.9v.9h-.9zM446.73 179.4h.9v.9h-.9zM461.45 171.41h.9v.9h-.9zM458.76 187.27h.9v.9h-.9zM494.2 176.36h.9v.9h-.9zM458.67 189.18h.9v.9h-.9zM492.03 184.1h.9v.9h-.9zM484.03 172.81h.9v.9h-.9zM493.45 184.81h.9v.9h-.9zM461.44 172.63h.9v.9h-.9zM459.87 187.9h.9v.9h-.9zM455.07 174h.9v.9h-.9zM466.26 191.34h.9v.9h-.9zM459.58 173.07h.9v.9h-.9zM451.58 180.34h.9v.9h-.9zM493.71 179.82h.9v.9h-.9zM488.94 185.3h.9v.9h-.9zM456.1 186.89h.9v.9h-.9zM494.71 181.27h.9v.9h-.9zM450.37 175.5h.9v.9h-.9zM461.75 189.5h.9v.9h-.9zM481.8 186.3h.9v.9h-.9zM446.06 187h.9v.9h-.9zM468.55 188.44h.9v.9h-.9zM490.32 180.16h.9v.9h-.9zM445.73 177.76h.9v.9h-.9zM464.15 189.7h.9v.9h-.9zM451.34 179.8h.9v.9h-.9zM481.75 164.96h.9v.9h-.9zM485.8 184.94h.9v.9h-.9zM495.36 171.3h.9v.9h-.9zM487.34 173.29h.9v.9h-.9zM484.16 173.13h.9v.9h-.9zM495.2 183.37h.9v.9h-.9zM484.32 164.93h.9v.9h-.9zM483.8 158.79h.9v.9h-.9zM490.09 184.5h.9v.9h-.9zM467.05 189.56h.9v.9h-.9zM474.03 169.45h.9v.9h-.9zM486.86 174.04h.9v.9h-.9zM462.62 171.55h.9v.9h-.9zM472.23 172.35h.9v.9h-.9zM482.71 188.15h.9v.9h-.9zM447.57 182.27h.9v.9h-.9zM487.53 185.03h.9v.9h-.9zM455.48 188.15h.9v.9h-.9zM481.12 192.22h.9v.9h-.9zM482.79 170.64h.9v.9h-.9zM493.08 177.11h.9v.9h-.9zM467.62 190.01h.9v.9h-.9zM494.18 180.35h.9v.9h-.9zM485.83 187.99h.9v.9h-.9zM454.38 186.23h.9v.9h-.9zM452.56 178.76h.9v.9h-.9zM481.87 163.9h.9v.9h-.9zM474.22 175.78h.9v.9h-.9zM488.15 171.69h.9v.9h-.9zM487 172.28h.9v.9h-.9zM455.57 188.46h.9v.9h-.9z" fill="#111" opacity=".9"/><path d="M465.64 188.04h.9v.9h-.9zM461.13 171.4h.9v.9h-.9zM489 165.14h.9v.9h-.9zM456.11 185.76h.9v.9h-.9zM480.22 172.42h.9v.9h-.9zM457.94 173.36h.9v.9h-.9zM481.17 165.46h.9v.9h-.9zM470.06 186.7h.9v.9h-.9zM454.14 185.59h.9v.9h-.9zM487.34 174.17h.9v.9h-.9zM492.12 183.68h.9v.9h-.9zM487.39 179.23h.9v.9h-.9zM468.27 172.24h.9v.9h-.9zM491.54 182.23h.9v.9h-.9zM490.31 159.01h.9v.9h-.9zM489.07 174.84h.9v.9h-.9zM452.6 183.75h.9v.9h-.9zM465.39 193.67h.9v.9h-.9zM462.92 188.53h.9v.9h-.9zM493.06 187.14h.9v.9h-.9zM484.92 168.94h.9v.9h-.9zM483.35 167.42h.9v.9h-.9zM476.53 188.97h.9v.9h-.9zM459.16 187.76h.9v.9h-.9zM449.26 175.99h.9v.9h-.9zM500.34 174.18h.9v.9h-.9zM491.48 185.75h.9v.9h-.9zM482.08 163.94h.9v.9h-.9zM477.28 189.04h.9v.9h-.9zM475.85 169.94h.9v.9h-.9zM492.8 172.53h.9v.9h-.9zM452.53 185.06h.9v.9h-.9zM452.34 175.72h.9v.9h-.9zM455.81 175.75h.9v.9h-.9zM453.45 183.45h.9v.9h-.9zM453.04 177.77h.9v.9h-.9zM449.84 176.93h.9v.9h-.9zM490.89 178.92h.9v.9h-.9zM451.67 183.41h.9v.9h-.9zM465.65 170h.9v.9h-.9zM478.77 183.36h.9v.9h-.9zM479.99 172.01h.9v.9h-.9zM481.4 172.31h.9v.9h-.9zM479.4 187.09h.9v.9h-.9zM488.46 187.57h.9v.9h-.9zM488.83 185.49h.9v.9h-.9zM490.98 179.96h.9v.9h-.9zM487.41 158.5h.9v.9h-.9zM454.36 172.25h.9v.9h-.9zM475.29 161.13h.9v.9h-.9zM476.76 172.07h.9v.9h-.9zM478.49 166.5h.9v.9h-.9zM452.06 175.45h.9v.9h-.9zM484.28 172.71h.9v.9h-.9zM485.85 186.9h.9v.9h-.9zM470.05 171.27h.9v.9h-.9zM493.75 170.25h.9v.9h-.9zM448.49 182.4h.9v.9h-.9zM480.05 188.51h.9v.9h-.9zM475.63 187.38h.9v.9h-.9zM461.45 171.32h.9v.9h-.9zM491.2 173.63h.9v.9h-.9zM450.8 174.21h.9v.9h-.9zM480.67 188.81h.9v.9h-.9zM474.44 160.39h.9v.9h-.9zM484.36 181.77h.9v.9h-.9zM485.82 163.57h.9v.9h-.9zM489.68 181.88h.9v.9h-.9zM486.9 174.2h.9v.9h-.9zM469.06 175.9h.9v.9h-.9zM465.37 169.23h.9v.9h-.9zM463.26 172.16h.9v.9h-.9zM457.93 187.53h.9v.9h-.9zM495.62 174.91h.9v.9h-.9zM493.63 183.7h.9v.9h-.9zM455.78 186.19h.9v.9h-.9zM487.01 151.67h.9v.9h-.9zM482.23 170.33h.9v.9h-.9zM493.79 182.32h.9v.9h-.9zM453.23 175.98h.9v.9h-.9zM473.02 188.51h.9v.9h-.9zM480.95 187.94h.9v.9h-.9zM452.55 181.79h.9v.9h-.9zM453.11 184.93h.9v.9h-.9zM455.61 172.54h.9v.9h-.9zM491.79 181.95h.9v.9h-.9zM492.23 179.31h.9v.9h-.9zM471.37 178.64h.9v.9h-.9zM486.52 173.61h.9v.9h-.9zM484.55 170.87h.9v.9h-.9zM498.23 176.49h.9v.9h-.9zM483.95 172.62h.9v.9h-.9zM490.24 162.45h.9v.9h-.9zM480.27 172.36h.9v.9h-.9zM460.93 171.68h.9v.9h-.9zM493.09 182.31h.9v.9h-.9zM483.38 186.37h.9v.9h-.9zM467.95 188.18h.9v.9h-.9zM488.52 174.43h.9v.9h-.9zM487.26 154.47h.9v.9h-.9zM468 189.96h.9v.9h-.9zM447.21 182.04h.9v.9h-.9zM455.44 187.99h.9v.9h-.9zM493.82 181.85h.9v.9h-.9zM458.6 187.97h.9v.9h-.9zM483.21 166.42h.9v.9h-.9zM450.13 182.7h.9v.9h-.9zM450.96 194.01h.9v.9h-.9zM451.78 179.27h.9v.9h-.9zM483.68 172.5h.9v.9h-.9zM483.18 158.3h.9v.9h-.9zM487.1 172.43h.9v.9h-.9zM463.92 172.55h.9v.9h-.9zM455.64 185.62h.9v.9h-.9zM490.78 182.76h.9v.9h-.9zM480.92 186.93h.9v.9h-.9zM482.21 186.33h.9v.9h-.9zM492.22 158.33h.9v.9h-.9zM481.43 187.2h.9v.9h-.9zM482.67 170.45h.9v.9h-.9zM476.47 188.19h.9v.9h-.9zM479.9 187.62h.9v.9h-.9zM454.52 188.8h.9v.9h-.9zM457.81 174.79h.9v.9h-.9zM459.12 186.92h.9v.9h-.9zM486.43 185.31h.9v.9h-.9zM446.75 183.67h.9v.9h-.9zM483.54 172.92h.9v.9h-.9zM464.36 170.99h.9v.9h-.9zM496.64 185.83h.9v.9h-.9zM490.06 175.05h.9v.9h-.9zM489.4 189.39h.9v.9h-.9zM452.3 178.52h.9v.9h-.9zM488.83 165.62h.9v.9h-.9zM483.39 170.78h.9v.9h-.9zM480.9 161.29h.9v.9h-.9zM462.69 171.63h.9v.9h-.9zM467.74 187.77h.9v.9h-.9zM464.19 191.08h.9v.9h-.9zM469.37 188.91h.9v.9h-.9zM473.55 171.17h.9v.9h-.9zM468.28 171.79h.9v.9h-.9zM480.31 156.83h.9v.9h-.9zM486.15 185h.9v.9h-.9zM487.1 189.94h.9v.9h-.9zM451.69 171.97h.9v.9h-.9zM457.72 187.11h.9v.9h-.9zM454.88 175.06h.9v.9h-.9zM470.04 188.96h.9v.9h-.9zM469.3 188.25h.9v.9h-.9zM481.62 170.17h.9v.9h-.9zM477.63 162.7h.9v.9h-.9zM463.56 177.53h.9v.9h-.9zM456.77 186.29h.9v.9h-.9zM456.79 189.69h.9v.9h-.9zM467.75 172.47h.9v.9h-.9zM475.47 160.21h.9v.9h-.9zM492.49 174.39h.9v.9h-.9zM484.31 171.86h.9v.9h-.9zM448.2 183.47h.9v.9h-.9zM484.15 160.71h.9v.9h-.9zM480.8 168.58h.9v.9h-.9zM480.7 168.32h.9v.9h-.9zM483.68 158.82h.9v.9h-.9zM452.48 184.39h.9v.9h-.9zM468.77 172.5h.9v.9h-.9zM452.97 178.34h.9v.9h-.9zM484.2 168.04h.9v.9h-.9zM450.67 179.67h.9v.9h-.9zM474.53 188.6h.9v.9h-.9zM451.92 178.26h.9v.9h-.9zM464.85 180.48h.9v.9h-.9zM486.71 174.22h.9v.9h-.9zM474.5 189.89h.9v.9h-.9zM463.11 188.76h.9v.9h-.9zM447.82 182.81h.9v.9h-.9zM495.67 178.36h.9v.9h-.9zM478.43 171.73h.9v.9h-.9zM491.6 175.06h.9v.9h-.9zM490.64 181.96h.9v.9h-.9zM484.96 187.77h.9v.9h-.9zM474.68 188.07h.9v.9h-.9zM486.38 184.73h.9v.9h-.9zM492.75 181.55h.9v.9h-.9zM490.01 184.11h.9v.9h-.9zM473.8 169.04h.9v.9h-.9zM476.86 188.25h.9v.9h-.9zM458.78 187.33h.9v.9h-.9zM459.76 181.74h.9v.9h-.9zM455.13 189.42h.9v.9h-.9zM483.23 187.94h.9v.9h-.9zM453.43 176.6h.9v.9h-.9zM452.49 178.92h.9v.9h-.9zM468.61 188.1h.9v.9h-.9zM480.97 187.85h.9v.9h-.9zM482.6 171.47h.9v.9h-.9zM479.3 180.08h.9v.9h-.9zM483.53 163.54h.9v.9h-.9zM455.36 174.8h.9v.9h-.9zM456.92 174.96h.9v.9h-.9zM494.7 179.13h.9v.9h-.9zM484.3 187.85h.9v.9h-.9zM492.74 180.79h.9v.9h-.9zM452.96 187.61h.9v.9h-.9zM465.37 191.27h.9v.9h-.9zM481.15 187.18h.9v.9h-.9zM492.59 173.99h.9v.9h-.9zM486.12 170.45h.9v.9h-.9zM474.5 172.06h.9v.9h-.9zM455.58 185.83h.9v.9h-.9zM475.44 171.51h.9v.9h-.9zM484.52 172.29h.9v.9h-.9zM489.18 161.99h.9v.9h-.9zM479.06 177.59h.9v.9h-.9zM489.83 177.67h.9v.9h-.9zM483.72 163.23h.9v.9h-.9zM487.43 168.96h.9v.9h-.9zM456.31 174.1h.9v.9h-.9zM453.12 183.87h.9v.9h-.9zM487.82 187.15h.9v.9h-.9zM451.14 184.49h.9v.9h-.9zM466.6 188.16h.9v.9h-.9zM490.53 177.91h.9v.9h-.9zM469.17 170.78h.9v.9h-.9zM451.39 181.6h.9v.9h-.9zM484.05 162.62h.9v.9h-.9zM455.01 171.97h.9v.9h-.9zM458.96 174.14h.9v.9h-.9zM486.81 162.96h.9v.9h-.9zM491.78 180.31h.9v.9h-.9zM490.29 185.1h.9v.9h-.9zM454.11 164.49h.9v.9h-.9zM455.26 170.54h.9v.9h-.9zM452.73 179.61h.9v.9h-.9zM477.08 188.2h.9v.9h-.9zM493.74 179.77h.9v.9h-.9zM474.41 187.3h.9v.9h-.9zM489.38 171.87h.9v.9h-.9zM449.74 182.89h.9v.9h-.9zM490.94 182.72h.9v.9h-.9zM453.8 175.5h.9v.9h-.9zM490.05 182.44h.9v.9h-.9zM489.59 191.39h.9v.9h-.9zM459.7 171.8h.9v.9h-.9zM450.25 186.44h.9v.9h-.9zM457.82 174.82h.9v.9h-.9zM487.42 188.01h.9v.9h-.9zM460.59 187.2h.9v.9h-.9zM491.6 181.08h.9v.9h-.9zM471.63 171.03h.9v.9h-.9zM495.72 175.15h.9v.9h-.9zM489.68 173.04h.9v.9h-.9zM469.68 191.23h.9v.9h-.9zM470.66 154.02h.9v.9h-.9zM491.89 181.72h.9v.9h-.9zM487.93 188.17h.9v.9h-.9zM474.29 183.5h.9v.9h-.9zM464.13 169.87h.9v.9h-.9zM454.01 184.25h.9v.9h-.9zM460.52 189.47h.9v.9h-.9zM492.35 184.54h.9v.9h-.9zM465.53 187.74h.9v.9h-.9zM461.97 184.07h.9v.9h-.9zM475.3 170.92h.9v.9h-.9zM464.9 189.26h.9v.9h-.9zM474.82 171.65h.9v.9h-.9zM498.95 162.46h.9v.9h-.9zM491.98 158.87h.9v.9h-.9zM472.41 172.94h.9v.9h-.9zM454 171.75h.9v.9h-.9z" fill="#444" opacity=".8"/><g transform="translate(471.5 180) rotate(-3)"><path d="M18.5 0L18.31 1.62L17.74 2.86L16.8 3.94L15.5 4.88L13.86 5.69L11.88 6.37L9.58 6.9L6.95 7.29L3.94 7.52L0 7.6L-3.94 7.52L-6.95 7.29L-9.58 6.9L-11.88 6.37L-13.86 5.69L-15.5 4.88L-16.8 3.94L-17.74 2.86L-18.31 1.62L-18.5 0L-18.31 -1.62L-17.74 -2.86L-16.8 -3.94L-15.5 -4.88L-13.86 -5.69L-11.88 -6.37L-9.58 -6.9L-6.95 -7.29L-3.94 -7.52L-0 -7.6L3.94 -7.52L6.95 -7.29L9.58 -6.9L11.88 -6.37L13.86 -5.69L15.5 -4.88L16.8 -3.94L17.74 -2.86L18.31 -1.62Z" fill="#d0d0d0" stroke="#111" stroke-width="1.2"/><path d="M16.97 0L16.81 1.35L16.32 2.38L15.52 3.28L14.42 4.07L13.01 4.75L11.33 5.31L9.37 5.76L7.13 6.08L4.57 6.28L1.21 6.34L-2.15 6.28L-4.71 6.08L-6.95 5.76L-8.91 5.31L-10.59 4.75L-12 4.07L-13.1 3.28L-13.9 2.38L-14.38 1.35L-14.55 0L-14.38 -1.35L-13.9 -2.38L-13.1 -3.28L-12 -4.07L-10.59 -4.75L-8.91 -5.31L-6.95 -5.76L-4.71 -6.08L-2.15 -6.28L1.21 -6.34L4.57 -6.28L7.13 -6.08L9.37 -5.76L11.33 -5.31L13.01 -4.75L14.42 -4.07L15.52 -3.28L16.32 -2.38L16.81 -1.35Z" fill="#b0b0b0"/><path d="M15.74 0L15.6 1.14L15.18 2L14.49 2.76L13.54 3.42L12.34 3.99L10.89 4.47L9.2 4.84L7.28 5.11L5.07 5.28L2.18 5.33L-0.71 5.28L-2.91 5.11L-4.84 4.84L-6.52 4.47L-7.97 3.99L-9.18 3.42L-10.13 2.76L-10.82 2L-11.23 1.14L-11.37 0L-11.23 -1.14L-10.82 -2L-10.13 -2.76L-9.18 -3.42L-7.97 -3.99L-6.52 -4.47L-4.84 -4.84L-2.91 -5.11L-0.71 -5.28L2.18 -5.33L5.07 -5.28L7.28 -5.11L9.2 -4.84L10.89 -4.47L12.34 -3.99L13.54 -3.42L14.49 -2.76L15.18 -2L15.6 -1.14Z" fill="#8c8c8c"/><path d="M13.52 0L13.42 0.75L13.13 1.32L12.64 1.82L11.97 2.25L11.11 2.63L10.09 2.94L8.9 3.19L7.54 3.36L5.98 3.47L3.93 3.51L1.89 3.47L0.33 3.36L-1.03 3.19L-2.23 2.94L-3.25 2.63L-4.1 2.25L-4.78 1.82L-5.26 1.32L-5.56 0.75L-5.66 0L-5.56 -0.75L-5.26 -1.32L-4.78 -1.82L-4.1 -2.25L-3.25 -2.63L-2.23 -2.94L-1.03 -3.19L0.33 -3.36L1.89 -3.47L3.93 -3.51L5.98 -3.47L7.54 -3.36L8.9 -3.19L10.09 -2.94L11.11 -2.63L11.97 -2.25L12.64 -1.82L13.13 -1.32L13.42 -0.75Z" fill="#555"/><path d="M16.97 0L16.81 1.35L16.32 2.38L15.52 3.28L14.42 4.07L13.01 4.75L11.33 5.31L9.37 5.76L7.13 6.08L4.57 6.28L1.21 6.34L-2.15 6.28L-4.71 6.08L-6.95 5.76L-8.91 5.31L-10.59 4.75L-12 4.07L-13.1 3.28L-13.9 2.38L-14.38 1.35L-14.55 0L-14.38 -1.35L-13.9 -2.38L-13.1 -3.28L-12 -4.07L-10.59 -4.75L-8.91 -5.31L-6.95 -5.76L-4.71 -6.08L-2.15 -6.28L1.21 -6.34L4.57 -6.28L7.13 -6.08L9.37 -5.76L11.33 -5.31L13.01 -4.75L14.42 -4.07L15.52 -3.28L16.32 -2.38L16.81 -1.35ZM15.74 0L15.6 1.14L15.18 2L14.49 2.76L13.54 3.42L12.34 3.99L10.89 4.47L9.2 4.84L7.28 5.11L5.07 5.28L2.18 5.33L-0.71 5.28L-2.91 5.11L-4.84 4.84L-6.52 4.47L-7.97 3.99L-9.18 3.42L-10.13 2.76L-10.82 2L-11.23 1.14L-11.37 0L-11.23 -1.14L-10.82 -2L-10.13 -2.76L-9.18 -3.42L-7.97 -3.99L-6.52 -4.47L-4.84 -4.84L-2.91 -5.11L-0.71 -5.28L2.18 -5.33L5.07 -5.28L7.28 -5.11L9.2 -4.84L10.89 -4.47L12.34 -3.99L13.54 -3.42L14.49 -2.76L15.18 -2L15.6 -1.14ZM14.6 0L14.48 0.94L14.13 1.65L13.54 2.28L12.73 2.82L11.71 3.29L10.48 3.68L9.05 3.99L7.41 4.22L5.53 4.35L3.08 4.4L0.62 4.35L-1.25 4.22L-2.89 3.99L-4.32 3.68L-5.55 3.29L-6.58 2.82L-7.39 2.28L-7.97 1.65L-8.32 0.94L-8.44 0L-8.32 -0.94L-7.97 -1.65L-7.39 -2.28L-6.58 -2.82L-5.55 -3.29L-4.32 -3.68L-2.89 -3.99L-1.25 -4.22L0.62 -4.35L3.08 -4.4L5.53 -4.35L7.41 -4.22L9.05 -3.99L10.48 -3.68L11.71 -3.29L12.73 -2.82L13.54 -2.28L14.13 -1.65L14.48 -0.94ZM13.52 0L13.42 0.75L13.13 1.32L12.64 1.82L11.97 2.25L11.11 2.63L10.09 2.94L8.9 3.19L7.54 3.36L5.98 3.47L3.93 3.51L1.89 3.47L0.33 3.36L-1.03 3.19L-2.23 2.94L-3.25 2.63L-4.1 2.25L-4.78 1.82L-5.26 1.32L-5.56 0.75L-5.66 0L-5.56 -0.75L-5.26 -1.32L-4.78 -1.82L-4.1 -2.25L-3.25 -2.63L-2.23 -2.94L-1.03 -3.19L0.33 -3.36L1.89 -3.47L3.93 -3.51L5.98 -3.47L7.54 -3.36L8.9 -3.19L10.09 -2.94L11.11 -2.63L11.97 -2.25L12.64 -1.82L13.13 -1.32L13.42 -0.75ZM12.48 0L12.4 0.57L12.16 1L11.77 1.37L11.23 1.7L10.54 1.99L9.72 2.22L8.75 2.41L7.66 2.54L6.4 2.63L4.75 2.65L3.11 2.63L1.85 2.54L0.75 2.41L-0.21 2.22L-1.03 1.99L-1.72 1.7L-2.26 1.37L-2.66 1L-2.89 0.57L-2.97 0L-2.89 -0.57L-2.66 -1L-2.26 -1.37L-1.72 -1.7L-1.03 -1.99L-0.21 -2.22L0.75 -2.41L1.85 -2.54L3.11 -2.63L4.75 -2.65L6.4 -2.63L7.66 -2.54L8.75 -2.41L9.72 -2.22L10.54 -1.99L11.23 -1.7L11.77 -1.37L12.16 -1L12.4 -0.57Z" fill="none" stroke="#262626" stroke-width=".95"/><path d="M11.1 0L11.04 0.39L10.87 0.69L10.59 0.94L10.2 1.17L9.71 1.37L9.11 1.53L8.42 1.66L7.64 1.75L6.73 1.81L5.55 1.82L4.37 1.81L3.46 1.75L2.68 1.66L1.99 1.53L1.39 1.37L0.9 1.17L0.51 0.94L0.23 0.69L0.06 0.39L0 0L0.06 -0.39L0.23 -0.69L0.51 -0.94L0.9 -1.17L1.39 -1.37L1.99 -1.53L2.68 -1.66L3.46 -1.75L4.37 -1.81L5.55 -1.82L6.73 -1.81L7.64 -1.75L8.42 -1.66L9.11 -1.53L9.71 -1.37L10.2 -1.17L10.59 -0.94L10.87 -0.69L11.04 -0.39Z" fill="#2e2e2e"/><ellipse cx="5.55" cy="0" rx="3.7" ry="0.6" fill="#eee"/></g>
</svg>
<path d="M468.3 125.6V195.8M432.3 168.6H502.8" stroke="#3030a8" stroke-width="1.3" fill="none"/>
<rect x="432.3" y="125.6" width="70.5" height="70.2" fill="none" stroke="#111" stroke-width="1.5"/>
<path d="M431.7 194.3h-2.2M433.8 196.4v2.2M431.7 192.8h-1.6M435.3 196.4v1.6M431.7 191.3h-1.6M436.8 196.4v1.6M431.7 189.8h-2.2M438.3 196.4v2.2M431.7 188.3h-1.6M439.8 196.4v1.6M431.7 186.8h-1.6M441.3 196.4v1.6M431.7 185.3h-1.6M442.8 196.4v1.6M431.7 183.8h-2.2M444.3 196.4v2.2M431.7 182.3h-1.6M445.8 196.4v1.6M431.7 178.99h-1.6M449.11 196.4v1.6M431.7 176.3h-1.6M451.8 196.4v1.6M431.7 174.2h-1.6M453.9 196.4v1.6M431.7 172.49h-1.6M455.61 196.4v1.6M431.7 171.05h-1.6M457.05 196.4v1.6M431.7 169.79h-1.6M458.31 196.4v1.6M431.7 168.69h-1.6M459.41 196.4v1.6M431.7 167.7h-2.8M460.4 196.4v2.8M431.7 161.2h-1.6M466.9 196.4v1.6M431.7 157.39h-1.6M470.71 196.4v1.6M431.7 154.7h-1.6M473.4 196.4v1.6M431.7 152.6h-1.6M475.5 196.4v1.6M431.7 150.89h-1.6M477.21 196.4v1.6M431.7 149.45h-1.6M478.65 196.4v1.6M431.7 148.19h-1.6M479.91 196.4v1.6M431.7 147.09h-1.6M481.01 196.4v1.6M431.7 146.1h-2.8M482 196.4v2.8M431.7 139.6h-1.6M488.5 196.4v1.6M431.7 135.79h-1.6M492.31 196.4v1.6M431.7 133.1h-1.6M495 196.4v1.6M431.7 131h-1.6M497.1 196.4v1.6M431.7 129.29h-1.6M498.81 196.4v1.6M431.7 127.85h-1.6M500.25 196.4v1.6" stroke="#111" stroke-width="0.9" fill="none"/>
<path d="M432 125.6V196.1H502.8" stroke="#111" stroke-width="1" fill="none"/>
<text x="28.2" y="81.5" font-size="9" text-anchor="middle" textLength="53.5" lengthAdjust="spacingAndGlyphs" transform="rotate(-90 28.2 81.5)">p-BTK (Y223)</text>
<text x="28.2" y="160.2" font-size="9" text-anchor="middle" textLength="33" lengthAdjust="spacingAndGlyphs" transform="rotate(-90 28.2 160.2)">p-PLC&#947;</text>
<text x="38.9" y="208.9" font-size="10.2" textLength="26.4" lengthAdjust="spacingAndGlyphs">CD79B</text>
<path d="M68.7 206.2H498" stroke="#222" stroke-width="1.1"/>
<path d="M496.5 203.3L502.6 206.2L496.5 209.1z" fill="#222"/>
<text x="8.3" y="234.4" font-size="13" fill="#000" font-weight="bold" textLength="8.6" lengthAdjust="spacingAndGlyphs">B</text>
<rect x="29.5" y="247.3" width="60.5" height="59.3" fill="#fff"/>
<rect x="46.4" y="271.8" width="31.2" height="34.5" fill="#f2def2"/>
<path d="M47.83 297.85h.9v.9h-.9zM50.14 296.94h.9v.9h-.9zM56.05 299.53h.9v.9h-.9zM53.16 295.38h.9v.9h-.9zM51.3 297.72h.9v.9h-.9zM65.88 297.28h.9v.9h-.9zM67.61 295.63h.9v.9h-.9zM50.61 294.77h.9v.9h-.9zM60.51 302.37h.9v.9h-.9zM64.65 297.89h.9v.9h-.9zM62.15 290.62h.9v.9h-.9zM70 298.92h.9v.9h-.9zM56.86 300.89h.9v.9h-.9zM61.73 299.83h.9v.9h-.9zM50.85 296.52h.9v.9h-.9zM56.37 298.35h.9v.9h-.9zM45.86 296.04h.9v.9h-.9zM66.58 299.68h.9v.9h-.9zM58.98 298.74h.9v.9h-.9zM66.88 299.69h.9v.9h-.9zM61.91 294.45h.9v.9h-.9zM64.93 295.1h.9v.9h-.9zM55.22 292.04h.9v.9h-.9zM67.78 294.69h.9v.9h-.9zM56.35 296.06h.9v.9h-.9zM54.44 296.92h.9v.9h-.9zM61.46 298.84h.9v.9h-.9zM57.17 299.3h.9v.9h-.9zM67.79 294.21h.9v.9h-.9zM58.52 295h.9v.9h-.9zM52.65 291.42h.9v.9h-.9zM64.75 292.98h.9v.9h-.9zM70.7 298.22h.9v.9h-.9zM56.09 296.81h.9v.9h-.9zM39.93 296.92h.9v.9h-.9zM62.08 299.32h.9v.9h-.9zM58.03 293.64h.9v.9h-.9zM52.34 295.64h.9v.9h-.9zM56.02 294.35h.9v.9h-.9zM52.75 293.77h.9v.9h-.9zM54.14 298.17h.9v.9h-.9zM58.8 296.18h.9v.9h-.9zM63.16 300.76h.9v.9h-.9zM68.33 295.64h.9v.9h-.9zM64.2 299.29h.9v.9h-.9zM64.29 303.67h.9v.9h-.9zM56.92 296.01h.9v.9h-.9zM63.62 295.39h.9v.9h-.9zM53.78 295.15h.9v.9h-.9zM64.58 296.63h.9v.9h-.9zM58.35 298.53h.9v.9h-.9zM50.88 302.12h.9v.9h-.9zM57.66 293.64h.9v.9h-.9zM55.41 296.55h.9v.9h-.9zM61.37 295.98h.9v.9h-.9zM41.53 291.92h.9v.9h-.9zM66.48 301.28h.9v.9h-.9zM78.1 298.47h.9v.9h-.9zM52.91 300.82h.9v.9h-.9zM54.96 303.57h.9v.9h-.9zM51.21 295.4h.9v.9h-.9zM63.61 295.9h.9v.9h-.9zM63.57 297.65h.9v.9h-.9zM57.57 295.1h.9v.9h-.9zM38.8 297.8h.9v.9h-.9zM61.95 294.64h.9v.9h-.9zM58.3 301.04h.9v.9h-.9zM51.35 295.32h.9v.9h-.9zM46.56 297.69h.9v.9h-.9zM46.16 295.19h.9v.9h-.9zM51.18 297.04h.9v.9h-.9zM67.06 295.64h.9v.9h-.9zM44.96 299.66h.9v.9h-.9zM57.46 295.73h.9v.9h-.9zM51.67 297.89h.9v.9h-.9zM66.1 293.03h.9v.9h-.9zM65.57 294.97h.9v.9h-.9zM59.17 290.95h.9v.9h-.9zM76.58 295.34h.9v.9h-.9zM51.06 289.74h.9v.9h-.9zM59.58 298.55h.9v.9h-.9zM60.89 293.95h.9v.9h-.9zM53.82 293.96h.9v.9h-.9zM81.02 294.84h.9v.9h-.9zM61.79 294.23h.9v.9h-.9zM65.98 297.07h.9v.9h-.9zM59.79 297.67h.9v.9h-.9zM62.59 296.36h.9v.9h-.9zM66.94 299.43h.9v.9h-.9zM55.19 295.97h.9v.9h-.9zM70.75 292.54h.9v.9h-.9zM72.28 299.1h.9v.9h-.9zM69.84 293.49h.9v.9h-.9zM65.36 297.07h.9v.9h-.9zM49.26 289.69h.9v.9h-.9zM65.78 298.78h.9v.9h-.9zM50.9 291.42h.9v.9h-.9zM65.38 301.95h.9v.9h-.9zM51.53 294.45h.9v.9h-.9zM49.13 297.3h.9v.9h-.9zM47.74 303.93h.9v.9h-.9zM63.54 297.76h.9v.9h-.9zM44.18 299.19h.9v.9h-.9zM68.58 299.59h.9v.9h-.9zM55.66 294.47h.9v.9h-.9zM48.38 297.15h.9v.9h-.9zM32.04 299.66h.9v.9h-.9zM61.46 300.03h.9v.9h-.9zM70.71 295.83h.9v.9h-.9zM70.36 297.01h.9v.9h-.9zM74.63 299.89h.9v.9h-.9zM49.7 298.5h.9v.9h-.9zM63.75 297.43h.9v.9h-.9zM48.8 300.67h.9v.9h-.9zM65.9 300.9h.9v.9h-.9zM61.07 294.87h.9v.9h-.9zM51.35 298.05h.9v.9h-.9zM64.35 296.11h.9v.9h-.9zM60.32 295.53h.9v.9h-.9zM65.94 299.35h.9v.9h-.9zM63.05 295.39h.9v.9h-.9zM61.83 298.05h.9v.9h-.9zM55.38 300.11h.9v.9h-.9zM57.01 296.81h.9v.9h-.9zM54.35 301.16h.9v.9h-.9zM77 298.2h.9v.9h-.9zM60.74 293.17h.9v.9h-.9zM46.33 295h.9v.9h-.9zM58.25 296.21h.9v.9h-.9zM49.76 297.11h.9v.9h-.9zM61.73 299.62h.9v.9h-.9zM53.11 293.11h.9v.9h-.9zM58.59 292.05h.9v.9h-.9zM44.04 296.55h.9v.9h-.9zM58.3 295.72h.9v.9h-.9zM63.27 297.74h.9v.9h-.9zM56.6 295.16h.9v.9h-.9zM67.08 298.31h.9v.9h-.9zM71.66 298.72h.9v.9h-.9zM64.08 297.79h.9v.9h-.9zM50.8 297.24h.9v.9h-.9zM61.79 299.06h.9v.9h-.9zM61.71 298.75h.9v.9h-.9zM64.36 297.8h.9v.9h-.9zM58.67 296.21h.9v.9h-.9zM66.82 300.44h.9v.9h-.9zM49.03 300.09h.9v.9h-.9zM70.12 297.99h.9v.9h-.9zM50.4 301.32h.9v.9h-.9zM69.19 297.05h.9v.9h-.9zM66.96 296h.9v.9h-.9zM60.03 296.4h.9v.9h-.9zM65.98 298.32h.9v.9h-.9zM61.58 299.74h.9v.9h-.9zM55.86 296.28h.9v.9h-.9zM45.67 297.4h.9v.9h-.9zM64.49 294.4h.9v.9h-.9zM66.13 296.92h.9v.9h-.9zM65.52 297.83h.9v.9h-.9zM49.98 295.59h.9v.9h-.9zM59.71 300.19h.9v.9h-.9zM54.09 301.25h.9v.9h-.9zM46.59 296.49h.9v.9h-.9zM53.72 297.72h.9v.9h-.9zM60.19 298.18h.9v.9h-.9zM65.14 297.48h.9v.9h-.9zM51.81 298.76h.9v.9h-.9zM61.64 290.53h.9v.9h-.9zM56.01 297.58h.9v.9h-.9zM61.52 291.88h.9v.9h-.9zM64.32 297.43h.9v.9h-.9zM51.21 293.43h.9v.9h-.9zM52.73 300.09h.9v.9h-.9zM78.24 298.67h.9v.9h-.9zM54.58 292.78h.9v.9h-.9zM48.56 298.73h.9v.9h-.9zM54.84 296.77h.9v.9h-.9zM64.7 299.27h.9v.9h-.9zM53.02 299.56h.9v.9h-.9zM65.88 294.5h.9v.9h-.9zM58.47 293.98h.9v.9h-.9zM67.18 294.2h.9v.9h-.9zM55.82 296.22h.9v.9h-.9zM70.59 298.23h.9v.9h-.9zM58.71 298.21h.9v.9h-.9zM63.75 296h.9v.9h-.9zM65.59 295.33h.9v.9h-.9zM53.94 296.61h.9v.9h-.9zM62.35 295.58h.9v.9h-.9zM51.98 293.51h.9v.9h-.9zM63.03 296.08h.9v.9h-.9zM70.17 296.33h.9v.9h-.9zM64.99 300.18h.9v.9h-.9zM63.94 298.66h.9v.9h-.9zM56.42 297.46h.9v.9h-.9zM77.41 297.59h.9v.9h-.9zM45.67 298.69h.9v.9h-.9zM47.85 302.44h.9v.9h-.9zM75.19 302.72h.9v.9h-.9zM43.01 297.45h.9v.9h-.9zM32.34 302.64h.9v.9h-.9zM68 294.17h.9v.9h-.9zM72.44 292.92h.9v.9h-.9zM65.8 300.04h.9v.9h-.9zM72.76 297.05h.9v.9h-.9zM61.92 297.85h.9v.9h-.9zM64.04 296.81h.9v.9h-.9zM66.56 299.73h.9v.9h-.9zM66.8 295.42h.9v.9h-.9zM72.51 294.97h.9v.9h-.9zM54.11 298.45h.9v.9h-.9zM48.39 297.58h.9v.9h-.9zM73.42 298.09h.9v.9h-.9zM49.36 297.73h.9v.9h-.9zM60.01 295.37h.9v.9h-.9zM56.43 299.76h.9v.9h-.9zM67.64 297.07h.9v.9h-.9zM62.8 296.64h.9v.9h-.9zM65.31 295.31h.9v.9h-.9zM73.56 299.42h.9v.9h-.9zM64.92 294.15h.9v.9h-.9zM66.2 297.88h.9v.9h-.9zM43.71 295.07h.9v.9h-.9zM58.75 293.54h.9v.9h-.9zM55.82 300.42h.9v.9h-.9zM75.12 299.3h.9v.9h-.9zM53.77 294.26h.9v.9h-.9zM59.77 297.15h.9v.9h-.9zM50.29 297.1h.9v.9h-.9zM62.11 296.23h.9v.9h-.9zM56.87 300.5h.9v.9h-.9zM58.77 297.67h.9v.9h-.9zM47.59 298.42h.9v.9h-.9zM47.15 297.55h.9v.9h-.9zM44.72 297.66h.9v.9h-.9zM57.39 296.88h.9v.9h-.9zM49.98 298.81h.9v.9h-.9zM52.76 293.36h.9v.9h-.9zM68.8 298.27h.9v.9h-.9zM74.32 295.03h.9v.9h-.9zM52.67 297.6h.9v.9h-.9zM74.15 300.35h.9v.9h-.9zM64.92 298.85h.9v.9h-.9zM55.91 295.87h.9v.9h-.9zM61.36 295.82h.9v.9h-.9zM57.87 296.18h.9v.9h-.9zM55.95 294.06h.9v.9h-.9zM55.36 293.28h.9v.9h-.9zM66.91 289.28h.9v.9h-.9zM56.36 295.67h.9v.9h-.9zM50.84 298.32h.9v.9h-.9zM56.2 302.38h.9v.9h-.9zM46.73 300.91h.9v.9h-.9zM64.09 298.12h.9v.9h-.9zM57.01 292.23h.9v.9h-.9zM55.98 297.13h.9v.9h-.9zM50.16 299.86h.9v.9h-.9zM50.36 294.34h.9v.9h-.9zM56.31 297.79h.9v.9h-.9zM52.88 296.67h.9v.9h-.9zM73.99 298.67h.9v.9h-.9zM62.52 294.44h.9v.9h-.9zM70.2 296.99h.9v.9h-.9zM69.73 296.06h.9v.9h-.9zM51.32 300.16h.9v.9h-.9zM51.61 296.94h.9v.9h-.9zM67.34 298.26h.9v.9h-.9zM46.48 297.85h.9v.9h-.9zM75.67 299.59h.9v.9h-.9zM51.96 301.68h.9v.9h-.9zM62.88 293.68h.9v.9h-.9zM74.64 295.07h.9v.9h-.9zM68.59 299.61h.9v.9h-.9zM65.96 297.15h.9v.9h-.9zM68.06 294.11h.9v.9h-.9zM60.5 291.84h.9v.9h-.9zM66.38 293.94h.9v.9h-.9zM74.02 293.91h.9v.9h-.9zM52.22 295.68h.9v.9h-.9zM70.81 298.43h.9v.9h-.9zM63.83 300.84h.9v.9h-.9zM48.37 299.39h.9v.9h-.9zM61.58 292.36h.9v.9h-.9zM52.44 299.53h.9v.9h-.9zM49.84 297.55h.9v.9h-.9zM56.66 294.37h.9v.9h-.9zM52.03 293.08h.9v.9h-.9zM56.34 304.38h.9v.9h-.9zM49.5 295.29h.9v.9h-.9zM59.51 297.63h.9v.9h-.9zM59.5 293.38h.9v.9h-.9zM51.26 294.89h.9v.9h-.9zM53.69 295.77h.9v.9h-.9zM63.23 296.94h.9v.9h-.9zM66.71 295.25h.9v.9h-.9zM70.9 295.89h.9v.9h-.9zM60.3 296.92h.9v.9h-.9zM68.19 291.63h.9v.9h-.9zM53.66 295.43h.9v.9h-.9zM65.63 298.15h.9v.9h-.9zM61.84 301.35h.9v.9h-.9zM64.47 300.45h.9v.9h-.9zM60.85 298.83h.9v.9h-.9zM51.38 299.92h.9v.9h-.9zM51.98 299.53h.9v.9h-.9zM65.28 294.12h.9v.9h-.9zM60.48 296.82h.9v.9h-.9zM56.89 294.92h.9v.9h-.9zM68.61 294.29h.9v.9h-.9zM60.63 297.02h.9v.9h-.9zM48.06 298.36h.9v.9h-.9zM59.26 295.67h.9v.9h-.9zM56.47 294.98h.9v.9h-.9zM54.62 293.3h.9v.9h-.9zM67.72 299.22h.9v.9h-.9zM56.29 293.27h.9v.9h-.9zM43.54 293.49h.9v.9h-.9zM76.69 294.23h.9v.9h-.9zM55.05 295.8h.9v.9h-.9zM43.03 295.31h.9v.9h-.9zM57.95 298.14h.9v.9h-.9zM59.35 298.31h.9v.9h-.9zM57.54 293.95h.9v.9h-.9zM63.23 297.54h.9v.9h-.9zM59.95 292.95h.9v.9h-.9zM72.81 298.22h.9v.9h-.9zM67.02 296.77h.9v.9h-.9zM46.14 293.77h.9v.9h-.9zM69.35 303.55h.9v.9h-.9zM39.51 300.54h.9v.9h-.9zM64.15 297.31h.9v.9h-.9zM60.32 299.36h.9v.9h-.9zM64.78 299.86h.9v.9h-.9zM56.53 297.34h.9v.9h-.9zM58.28 294.22h.9v.9h-.9zM57.52 295.12h.9v.9h-.9zM64.94 296.98h.9v.9h-.9zM76.71 297.6h.9v.9h-.9zM55.07 300.44h.9v.9h-.9zM60.3 295.62h.9v.9h-.9zM56.69 299.82h.9v.9h-.9zM54.71 296.49h.9v.9h-.9zM66.82 302.23h.9v.9h-.9zM75.32 297.32h.9v.9h-.9zM70.29 297.5h.9v.9h-.9zM53.99 296.04h.9v.9h-.9zM60.17 298.33h.9v.9h-.9zM57.71 296.38h.9v.9h-.9zM63.05 297.6h.9v.9h-.9zM77.61 299.21h.9v.9h-.9zM64.14 301.63h.9v.9h-.9zM57.37 301.53h.9v.9h-.9zM69.66 302.23h.9v.9h-.9zM70.49 296.08h.9v.9h-.9zM74.59 298.56h.9v.9h-.9zM65.03 295.96h.9v.9h-.9zM63.37 289.49h.9v.9h-.9zM45.44 299.21h.9v.9h-.9zM59.18 295.23h.9v.9h-.9zM65.83 299.86h.9v.9h-.9zM68.24 294.44h.9v.9h-.9zM70 297.69h.9v.9h-.9zM63.13 300.29h.9v.9h-.9zM68.21 299.82h.9v.9h-.9zM63.41 294.57h.9v.9h-.9zM58.04 299.49h.9v.9h-.9zM49.01 295.75h.9v.9h-.9zM54.15 294.51h.9v.9h-.9zM59.05 296.81h.9v.9h-.9zM50.74 297.93h.9v.9h-.9zM51.82 300.22h.9v.9h-.9zM63.24 294.37h.9v.9h-.9zM62.33 293.04h.9v.9h-.9zM61.27 292.41h.9v.9h-.9zM63.45 300.2h.9v.9h-.9zM46.62 295.9h.9v.9h-.9zM65.82 298.26h.9v.9h-.9zM55 299.69h.9v.9h-.9zM64.47 293.59h.9v.9h-.9zM71.84 293.19h.9v.9h-.9zM54.7 297.07h.9v.9h-.9zM45.21 296.72h.9v.9h-.9zM63.39 299.87h.9v.9h-.9zM48.37 297.64h.9v.9h-.9zM63.33 294.94h.9v.9h-.9zM46.13 295.01h.9v.9h-.9zM60.48 296.12h.9v.9h-.9zM64.14 295.09h.9v.9h-.9zM56.01 295.52h.9v.9h-.9zM53.94 291.76h.9v.9h-.9zM53.17 295.69h.9v.9h-.9zM54.8 292.68h.9v.9h-.9zM53.49 297.29h.9v.9h-.9zM69.08 294.76h.9v.9h-.9zM56.7 294.78h.9v.9h-.9zM60.83 295.25h.9v.9h-.9zM72.29 298.42h.9v.9h-.9zM67.06 296.74h.9v.9h-.9zM59.9 301.43h.9v.9h-.9zM61.86 301.76h.9v.9h-.9zM64.52 297.72h.9v.9h-.9zM56.21 296.05h.9v.9h-.9zM60.06 295.22h.9v.9h-.9zM61.14 291.57h.9v.9h-.9zM57.08 293.83h.9v.9h-.9zM67.47 300.68h.9v.9h-.9zM57.33 301.42h.9v.9h-.9zM63 298.72h.9v.9h-.9zM57.3 297.36h.9v.9h-.9zM55.34 298.7h.9v.9h-.9zM49.62 296.63h.9v.9h-.9zM69.69 297.89h.9v.9h-.9zM36.55 294.62h.9v.9h-.9zM60.88 299.82h.9v.9h-.9zM59.04 299.33h.9v.9h-.9zM70.16 293.57h.9v.9h-.9zM58.26 299.44h.9v.9h-.9zM56.51 298.57h.9v.9h-.9zM71.77 295.63h.9v.9h-.9zM62.33 295.13h.9v.9h-.9zM72.36 301.03h.9v.9h-.9zM38.82 297.57h.9v.9h-.9zM43.6 292.45h.9v.9h-.9zM53.05 295.84h.9v.9h-.9zM64.62 297.54h.9v.9h-.9zM62.92 300.31h.9v.9h-.9zM61.54 293.65h.9v.9h-.9zM56.42 296.07h.9v.9h-.9zM52.05 295.53h.9v.9h-.9zM56.57 298.08h.9v.9h-.9zM49.97 298.37h.9v.9h-.9zM56.5 295.17h.9v.9h-.9zM54.49 299.73h.9v.9h-.9zM58.87 295.35h.9v.9h-.9zM52.7 297.45h.9v.9h-.9zM51.56 295.73h.9v.9h-.9zM65.97 299.95h.9v.9h-.9zM46.69 297.61h.9v.9h-.9zM71.66 299.42h.9v.9h-.9zM53.33 297.43h.9v.9h-.9zM56.68 294.98h.9v.9h-.9zM69.16 298.8h.9v.9h-.9zM61.88 299.47h.9v.9h-.9zM69.05 297.63h.9v.9h-.9zM61.91 298.02h.9v.9h-.9zM44.19 296.28h.9v.9h-.9zM59.24 290.43h.9v.9h-.9zM67.12 297.36h.9v.9h-.9zM61.03 296.39h.9v.9h-.9zM68.13 298.89h.9v.9h-.9zM56.72 292.68h.9v.9h-.9zM69.12 300.8h.9v.9h-.9zM66.16 299.42h.9v.9h-.9zM58.71 296.57h.9v.9h-.9zM63.38 296.53h.9v.9h-.9zM41.35 292.56h.9v.9h-.9zM70.29 293.62h.9v.9h-.9zM49.73 299.1h.9v.9h-.9zM70.41 295.83h.9v.9h-.9zM57.82 293.71h.9v.9h-.9zM49.91 292.97h.9v.9h-.9zM55.23 297.92h.9v.9h-.9zM50.83 292.64h.9v.9h-.9zM61.32 297.72h.9v.9h-.9zM59.15 299.17h.9v.9h-.9zM59.87 299.89h.9v.9h-.9zM56.03 295.71h.9v.9h-.9zM52.75 297.36h.9v.9h-.9zM62.05 295.35h.9v.9h-.9zM63.92 298.77h.9v.9h-.9zM61.23 293.85h.9v.9h-.9zM63.61 293.53h.9v.9h-.9zM50.3 296.79h.9v.9h-.9zM63.57 297.18h.9v.9h-.9zM59.74 298.42h.9v.9h-.9zM68.45 295.35h.9v.9h-.9zM63.87 297.58h.9v.9h-.9zM60.15 301.22h.9v.9h-.9zM49.08 298.28h.9v.9h-.9zM71.43 303.07h.9v.9h-.9zM63.77 296.93h.9v.9h-.9zM55.76 292.68h.9v.9h-.9zM61.79 300.31h.9v.9h-.9zM60.51 295.6h.9v.9h-.9zM60.25 297.35h.9v.9h-.9zM61.7 301.29h.9v.9h-.9zM66.7 301.06h.9v.9h-.9zM58.33 299.38h.9v.9h-.9zM48.58 295.39h.9v.9h-.9zM60.61 295h.9v.9h-.9zM56.9 296.14h.9v.9h-.9zM57.21 299.22h.9v.9h-.9zM44.78 303.14h.9v.9h-.9zM52.15 288.05h.9v.9h-.9zM67.6 298.08h.9v.9h-.9zM69.97 294.23h.9v.9h-.9zM73.73 294.91h.9v.9h-.9zM66.36 297.61h.9v.9h-.9zM45.86 300.5h.9v.9h-.9zM76.69 296.81h.9v.9h-.9zM55.77 298.71h.9v.9h-.9zM42.92 298.31h.9v.9h-.9zM56.18 297.01h.9v.9h-.9zM50.99 294.16h.9v.9h-.9zM44.36 293.46h.9v.9h-.9zM57.9 294.62h.9v.9h-.9zM76.71 292.61h.9v.9h-.9zM62.08 294.33h.9v.9h-.9zM55.05 297.79h.9v.9h-.9zM58.69 300.42h.9v.9h-.9zM67.3 297.48h.9v.9h-.9zM50.94 294.77h.9v.9h-.9zM70.51 296.98h.9v.9h-.9zM81.48 301.28h.9v.9h-.9zM46.46 296.88h.9v.9h-.9zM52.54 297.64h.9v.9h-.9zM66.48 295.07h.9v.9h-.9zM64.61 294.25h.9v.9h-.9zM61.59 298.35h.9v.9h-.9zM54.88 298.19h.9v.9h-.9zM73.31 296.35h.9v.9h-.9zM50.14 297.7h.9v.9h-.9zM54.55 296.52h.9v.9h-.9zM71.06 296.6h.9v.9h-.9zM51.06 299.88h.9v.9h-.9zM57.09 298.62h.9v.9h-.9zM49.73 298.06h.9v.9h-.9zM49.58 296.07h.9v.9h-.9zM55.4 294.41h.9v.9h-.9zM59.97 294.04h.9v.9h-.9zM58.58 296.35h.9v.9h-.9zM79.41 296.37h.9v.9h-.9zM61.05 296.07h.9v.9h-.9zM41.22 298.21h.9v.9h-.9zM42.88 297.91h.9v.9h-.9zM60.12 296.86h.9v.9h-.9zM52.12 302.32h.9v.9h-.9zM55.25 297.08h.9v.9h-.9zM64.53 296.16h.9v.9h-.9zM54.81 301.13h.9v.9h-.9zM52.57 295.66h.9v.9h-.9zM59.52 292.98h.9v.9h-.9zM55.86 294.65h.9v.9h-.9zM52.44 289.59h.9v.9h-.9zM47.26 298.92h.9v.9h-.9zM59.24 301.17h.9v.9h-.9zM68.5 293.53h.9v.9h-.9zM64.9 297.99h.9v.9h-.9zM81.33 297.83h.9v.9h-.9zM49.49 298.5h.9v.9h-.9zM72.15 297.15h.9v.9h-.9zM64.49 296.6h.9v.9h-.9zM56.14 295.78h.9v.9h-.9zM83.49 295.55h.9v.9h-.9zM60.54 296.65h.9v.9h-.9zM52.45 297.53h.9v.9h-.9zM60.38 299.51h.9v.9h-.9zM68.21 297.07h.9v.9h-.9zM52.75 298.66h.9v.9h-.9zM65.34 293.89h.9v.9h-.9zM52.54 298.29h.9v.9h-.9zM45.32 296.68h.9v.9h-.9zM65.5 296.93h.9v.9h-.9zM69.4 299.21h.9v.9h-.9zM66.48 293.54h.9v.9h-.9zM66.85 294.03h.9v.9h-.9zM60.58 294.75h.9v.9h-.9zM62.74 295.55h.9v.9h-.9zM65.68 296.97h.9v.9h-.9zM55.79 294.41h.9v.9h-.9zM65.03 301.6h.9v.9h-.9zM65.41 289.83h.9v.9h-.9zM68.54 296.57h.9v.9h-.9zM70.26 299.53h.9v.9h-.9zM52.35 296.34h.9v.9h-.9zM49.15 299.01h.9v.9h-.9zM55.07 299.74h.9v.9h-.9zM49.58 297.32h.9v.9h-.9zM57.79 299.58h.9v.9h-.9zM54.89 296.35h.9v.9h-.9zM63.08 294.89h.9v.9h-.9zM64.52 299.68h.9v.9h-.9zM62.68 299.95h.9v.9h-.9zM58.56 293.15h.9v.9h-.9zM47.05 297.83h.9v.9h-.9zM68.99 297.45h.9v.9h-.9zM47.94 295.66h.9v.9h-.9zM55.75 294.66h.9v.9h-.9zM52.5 301.88h.9v.9h-.9zM65.72 299.52h.9v.9h-.9zM59.83 296.46h.9v.9h-.9zM56.29 302.65h.9v.9h-.9zM60.96 299.65h.9v.9h-.9zM47.46 296.07h.9v.9h-.9zM44.8 297.4h.9v.9h-.9zM43.32 295.55h.9v.9h-.9zM66.08 297.47h.9v.9h-.9zM44.54 292.09h.9v.9h-.9zM53.57 287.63h.9v.9h-.9zM39.27 295.75h.9v.9h-.9zM47.62 295.47h.9v.9h-.9zM64.3 290.08h.9v.9h-.9zM49.58 285.9h.9v.9h-.9zM46.08 285.91h.9v.9h-.9zM65.61 302.2h.9v.9h-.9zM62.43 295.22h.9v.9h-.9zM81.72 288.24h.9v.9h-.9zM56.27 298.62h.9v.9h-.9zM49.12 294.46h.9v.9h-.9zM42.93 296.68h.9v.9h-.9zM72.6 294.77h.9v.9h-.9zM79.51 292.11h.9v.9h-.9zM63.22 294.98h.9v.9h-.9zM39.78 292.91h.9v.9h-.9zM51.16 297.39h.9v.9h-.9zM60.89 297.1h.9v.9h-.9zM45.77 285.77h.9v.9h-.9zM36.46 302.71h.9v.9h-.9zM75.29 288.34h.9v.9h-.9zM81.95 285.58h.9v.9h-.9zM78.74 298.83h.9v.9h-.9zM45.68 303.87h.9v.9h-.9zM52.13 302.01h.9v.9h-.9zM59.63 301.63h.9v.9h-.9zM56.79 290.23h.9v.9h-.9zM56.12 296.27h.9v.9h-.9zM42.44 293.81h.9v.9h-.9zM55.66 295.02h.9v.9h-.9zM83.64 288.65h.9v.9h-.9zM61.71 289h.9v.9h-.9zM44.84 296.42h.9v.9h-.9zM61.48 296.56h.9v.9h-.9zM66.47 291.37h.9v.9h-.9zM62.96 300.12h.9v.9h-.9zM82.68 291.74h.9v.9h-.9zM85.27 298.23h.9v.9h-.9zM81.72 285.22h.9v.9h-.9z" fill="#222" opacity=".8"/>
<ellipse cx="60" cy="297" rx="16" ry="4" fill="#1a1a1a" opacity=".85"/>
<ellipse cx="60" cy="297" rx="9" ry="1" fill="#888" opacity=".6"/>
<path d="M46.4 271.8V306.3M51.9 271.8V306.3M57.2 271.8V306.3M62.4 271.8V306.3M67.6 271.8V306.3M72.6 271.8V306.3M77.6 271.8V306.3M46.4 271.8H77.6M46.4 306.3H77.6" stroke="#9c389c" stroke-width="1.15" fill="none"/>
<text x="36.6" y="266.4" font-size="7" textLength="6.6" lengthAdjust="spacingAndGlyphs">L1</text>
<text x="45.1" y="266.4" font-size="7" textLength="6.6" lengthAdjust="spacingAndGlyphs">L2</text>
<text x="53.6" y="266.4" font-size="7" textLength="6.6" lengthAdjust="spacingAndGlyphs">L3</text>
<text x="62.1" y="266.4" font-size="7" textLength="6.6" lengthAdjust="spacingAndGlyphs">L4</text>
<text x="70.6" y="266.4" font-size="7" textLength="6.6" lengthAdjust="spacingAndGlyphs">L5</text>
<text x="79.1" y="266.4" font-size="7" textLength="6.6" lengthAdjust="spacingAndGlyphs">L6</text>
<path d="M39.9 267.2L49.15 271.8M48.4 267.2L54.55 271.8M56.9 267.2L59.8 271.8M65.4 267.2L65 271.8M73.9 267.2L70.1 271.8M82.4 267.2L75.1 271.8" stroke="#222" stroke-width="0.7" fill="none"/>
<rect x="29.5" y="247.3" width="60.5" height="59.3" fill="none" stroke="#111" stroke-width="1.5"/>
<path d="M29 253.5h-2.6M29 258.3h-2.6M29 263.1h-2.6M29 267.9h-2.6M29 272.7h-2.6M29 277.5h-2.6M29 282.3h-2.6M29 287.1h-2.6M29 291.9h-2.6M29 296.7h-2.6M29 301.5h-2.6M33 306.9v2M35 306.9v2M36.5 306.9v2M37.5 306.9v2M42 306.9v2M44.5 306.9v2M46 306.9v2M47 306.9v2M60.5 306.9v2M74.5 306.9v2" stroke="#111" stroke-width="0.9" fill="none"/>
<text x="22.6" y="279" font-size="10.2" text-anchor="middle" textLength="12.2" lengthAdjust="spacingAndGlyphs" transform="rotate(-90 22.6 279)">SSC</text>
<text x="47.1" y="320.1" font-size="9.9" textLength="26" lengthAdjust="spacingAndGlyphs">CD79B</text>
<text x="21.9" y="335.6" font-size="7.6" textLength="73.5" lengthAdjust="spacingAndGlyphs">phosphorylation scale</text>
<defs><linearGradient id="cs" x1="0" x2="1" y1="0" y2="0"><stop offset="0" stop-color="#8a8aff"/><stop offset="0.08" stop-color="#3030f0"/><stop offset="0.24" stop-color="#1414d8"/><stop offset="0.32" stop-color="#000070"/><stop offset="0.38" stop-color="#000"/><stop offset="0.45" stop-color="#353508"/><stop offset="0.6" stop-color="#c4bc20"/><stop offset="0.75" stop-color="#f0ea30"/><stop offset="1" stop-color="#fafaa8"/></linearGradient></defs>
<rect x="33.3" y="340.8" width="49" height="8.2" fill="url(#cs)" stroke="#111" stroke-width="1.2"/>
<path d="M33.8 349v2.8M43.6 349v2.8M52.3 349v2.8M67.3 349v2.8M82 349v2.8" stroke="#111" stroke-width="1"/>
<text x="27.2" y="362.4" font-size="9.3" textLength="13.8" lengthAdjust="spacingAndGlyphs">-1.0</text>
<text x="52.1" y="362.4" font-size="9.3" text-anchor="middle">0</text>
<text x="76.3" y="362.4" font-size="9.3" textLength="10.6" lengthAdjust="spacingAndGlyphs">2.0</text>
<path d="M116.5 269.7V345.3" stroke="#222" stroke-width="1"/>
<text x="111.3" y="307.5" font-size="8.6" text-anchor="middle" textLength="25.7" lengthAdjust="spacingAndGlyphs" transform="rotate(-90 111.3 307.5)">CD79B</text>
<text x="120.3" y="278.6" font-size="7.5" textLength="7.4" lengthAdjust="spacingAndGlyphs">L1</text>
<text x="120.3" y="291.3" font-size="7.5" textLength="7.4" lengthAdjust="spacingAndGlyphs">L2</text>
<text x="120.3" y="304" font-size="7.5" textLength="7.4" lengthAdjust="spacingAndGlyphs">L3</text>
<text x="120.3" y="316.7" font-size="7.5" textLength="7.4" lengthAdjust="spacingAndGlyphs">L4</text>
<text x="120.3" y="329.4" font-size="7.5" textLength="7.4" lengthAdjust="spacingAndGlyphs">L5</text>
<text x="120.3" y="342.1" font-size="7.5" textLength="7.4" lengthAdjust="spacingAndGlyphs">L6</text>
<rect x="132.2" y="270.3" width="88.5" height="75.3" fill="#000"/>
<rect x="144.84" y="270.3" width="12.69" height="12.6" fill="#3a3818"/>
<rect x="157.49" y="270.3" width="12.69" height="12.6" fill="#25230f"/>
<rect x="170.13" y="270.3" width="12.69" height="12.6" fill="#201f0e"/>
<rect x="182.77" y="270.3" width="12.69" height="12.6" fill="#07072a"/>
<rect x="195.41" y="270.3" width="12.69" height="12.6" fill="#0a0a48"/>
<rect x="208.06" y="270.3" width="12.69" height="12.6" fill="#0b0b4e"/>
<rect x="144.84" y="282.85" width="12.69" height="12.6" fill="#706c25"/>
<rect x="157.49" y="282.85" width="12.69" height="12.6" fill="#45421a"/>
<rect x="170.13" y="282.85" width="12.69" height="12.6" fill="#3a3815"/>
<rect x="182.77" y="282.85" width="12.69" height="12.6" fill="#25230f"/>
<rect x="195.41" y="282.85" width="12.69" height="12.6" fill="#0a0a38"/>
<rect x="208.06" y="282.85" width="12.69" height="12.6" fill="#0b0b4a"/>
<rect x="144.84" y="295.4" width="12.69" height="12.6" fill="#c0bb33"/>
<rect x="157.49" y="295.4" width="12.69" height="12.6" fill="#8a8628"/>
<rect x="170.13" y="295.4" width="12.69" height="12.6" fill="#7a7625"/>
<rect x="182.77" y="295.4" width="12.69" height="12.6" fill="#555220"/>
<rect x="195.41" y="295.4" width="12.69" height="12.6" fill="#232210"/>
<rect x="208.06" y="295.4" width="12.69" height="12.6" fill="#0a0a46"/>
<rect x="144.84" y="307.95" width="12.69" height="12.6" fill="#f8f030"/>
<rect x="157.49" y="307.95" width="12.69" height="12.6" fill="#d0cb38"/>
<rect x="170.13" y="307.95" width="12.69" height="12.6" fill="#b8b334"/>
<rect x="182.77" y="307.95" width="12.69" height="12.6" fill="#7d7a2a"/>
<rect x="195.41" y="307.95" width="12.69" height="12.6" fill="#2a2a12"/>
<rect x="208.06" y="307.95" width="12.69" height="12.6" fill="#0a0a44"/>
<rect x="144.84" y="320.5" width="12.69" height="12.6" fill="#fcf432"/>
<rect x="157.49" y="320.5" width="12.69" height="12.6" fill="#fcf432"/>
<rect x="170.13" y="320.5" width="12.69" height="12.6" fill="#fcf432"/>
<rect x="182.77" y="320.5" width="12.69" height="12.6" fill="#d8d238"/>
<rect x="195.41" y="320.5" width="12.69" height="12.6" fill="#3a3a18"/>
<rect x="208.06" y="320.5" width="12.69" height="12.6" fill="#0a0a44"/>
<rect x="144.84" y="333.05" width="12.69" height="12.6" fill="#fbf440"/>
<rect x="157.49" y="333.05" width="12.69" height="12.6" fill="#fbf440"/>
<rect x="170.13" y="333.05" width="12.69" height="12.6" fill="#fbf440"/>
<rect x="182.77" y="333.05" width="12.69" height="12.6" fill="#fcf432"/>
<rect x="195.41" y="333.05" width="12.69" height="12.6" fill="#8a8630"/>
<rect x="208.06" y="333.05" width="12.69" height="12.6" fill="#0a0a44"/>
<path d="M144.84 270.3V345.6M157.49 270.3V345.6M170.13 270.3V345.6M182.77 270.3V345.6M195.41 270.3V345.6M208.06 270.3V345.6M144.84 282.85H220.7M144.84 295.4H220.7M144.84 307.95H220.7M144.84 320.5H220.7M144.84 333.05H220.7" stroke="#000" stroke-opacity=".3" stroke-width=".7" fill="none"/>
<text x="141.4" y="255" font-size="7.2" text-anchor="middle" textLength="20.8" lengthAdjust="spacingAndGlyphs" transform="rotate(-90 141.4 255)">unstim</text>
<path d="M158.8 254.9L221.4 238.8V254.9z" fill="#000"/>
<path d="M146.2 256.2H221.4" stroke="#333" stroke-width="1.6"/>
<text x="199.5" y="252.9" font-size="7.4" fill="#fff" textLength="18.9" lengthAdjust="spacingAndGlyphs">BTK-i</text>
<text x="180.9" y="266.8" font-size="7.4" textLength="19.8" lengthAdjust="spacingAndGlyphs">&#945;-IgM</text>
<text x="173.7" y="357.1" font-size="7.5" text-anchor="middle">p-SYK</text>
<rect x="232.2" y="270.3" width="88.5" height="75.3" fill="#000"/>
<rect x="244.84" y="270.3" width="12.69" height="12.6" fill="#555220"/>
<rect x="257.49" y="270.3" width="12.69" height="12.6" fill="#38360f"/>
<rect x="270.13" y="270.3" width="12.69" height="12.6" fill="#3a3815"/>
<rect x="282.77" y="270.3" width="12.69" height="12.6" fill="#07072a"/>
<rect x="295.41" y="270.3" width="12.69" height="12.6" fill="#0a0a40"/>
<rect x="308.06" y="270.3" width="12.69" height="12.6" fill="#0a0a48"/>
<rect x="244.84" y="282.85" width="12.69" height="12.6" fill="#6a6625"/>
<rect x="257.49" y="282.85" width="12.69" height="12.6" fill="#45421a"/>
<rect x="270.13" y="282.85" width="12.69" height="12.6" fill="#45421a"/>
<rect x="282.77" y="282.85" width="12.69" height="12.6" fill="#3a3815"/>
<rect x="295.41" y="282.85" width="12.69" height="12.6" fill="#0a0a38"/>
<rect x="308.06" y="282.85" width="12.69" height="12.6" fill="#12127a"/>
<rect x="244.84" y="295.4" width="12.69" height="12.6" fill="#b0ab30"/>
<rect x="257.49" y="295.4" width="12.69" height="12.6" fill="#a09b2e"/>
<rect x="270.13" y="295.4" width="12.69" height="12.6" fill="#a09b2e"/>
<rect x="282.77" y="295.4" width="12.69" height="12.6" fill="#8a8628"/>
<rect x="295.41" y="295.4" width="12.69" height="12.6" fill="#25230f"/>
<rect x="308.06" y="295.4" width="12.69" height="12.6" fill="#0b0b4a"/>
<rect x="244.84" y="307.95" width="12.69" height="12.6" fill="#f0e830"/>
<rect x="257.49" y="307.95" width="12.69" height="12.6" fill="#f0e830"/>
<rect x="270.13" y="307.95" width="12.69" height="12.6" fill="#d8d238"/>
<rect x="282.77" y="307.95" width="12.69" height="12.6" fill="#c0bb33"/>
<rect x="295.41" y="307.95" width="12.69" height="12.6" fill="#555220"/>
<rect x="308.06" y="307.95" width="12.69" height="12.6" fill="#0b0b4a"/>
<rect x="244.84" y="320.5" width="12.69" height="12.6" fill="#fcf432"/>
<rect x="257.49" y="320.5" width="12.69" height="12.6" fill="#fcf432"/>
<rect x="270.13" y="320.5" width="12.69" height="12.6" fill="#fcf432"/>
<rect x="282.77" y="320.5" width="12.69" height="12.6" fill="#f0e838"/>
<rect x="295.41" y="320.5" width="12.69" height="12.6" fill="#8d8a2c"/>
<rect x="308.06" y="320.5" width="12.69" height="12.6" fill="#0a0a44"/>
<rect x="244.84" y="333.05" width="12.69" height="12.6" fill="#fbf440"/>
<rect x="257.49" y="333.05" width="12.69" height="12.6" fill="#fbf440"/>
<rect x="270.13" y="333.05" width="12.69" height="12.6" fill="#fbf440"/>
<rect x="282.77" y="333.05" width="12.69" height="12.6" fill="#fcf432"/>
<rect x="295.41" y="333.05" width="12.69" height="12.6" fill="#b5b033"/>
<rect x="308.06" y="333.05" width="12.69" height="12.6" fill="#25230f"/>
<path d="M244.84 270.3V345.6M257.49 270.3V345.6M270.13 270.3V345.6M282.77 270.3V345.6M295.41 270.3V345.6M308.06 270.3V345.6M244.84 282.85H320.7M244.84 295.4H320.7M244.84 307.95H320.7M244.84 320.5H320.7M244.84 333.05H320.7" stroke="#000" stroke-opacity=".3" stroke-width=".7" fill="none"/>
<text x="241.4" y="255" font-size="7.2" text-anchor="middle" textLength="20.8" lengthAdjust="spacingAndGlyphs" transform="rotate(-90 241.4 255)">unstim</text>
<path d="M258.8 254.9L321.4 238.8V254.9z" fill="#000"/>
<path d="M246.2 256.2H321.4" stroke="#333" stroke-width="1.6"/>
<text x="299.5" y="252.9" font-size="7.4" fill="#fff" textLength="18.9" lengthAdjust="spacingAndGlyphs">BTK-i</text>
<text x="280.9" y="266.8" font-size="7.4" textLength="19.8" lengthAdjust="spacingAndGlyphs">&#945;-IgM</text>
<text x="275.3" y="357.1" font-size="7.5" text-anchor="middle">p-BLNK</text>
<rect x="331.8" y="270.3" width="88.5" height="75.3" fill="#000"/>
<rect x="344.44" y="270.3" width="12.69" height="12.6" fill="#6a6525"/>
<rect x="357.09" y="270.3" width="12.69" height="12.6" fill="#05052a"/>
<rect x="369.73" y="270.3" width="12.69" height="12.6" fill="#050525"/>
<rect x="382.37" y="270.3" width="12.69" height="12.6" fill="#0a0a70"/>
<rect x="395.01" y="270.3" width="12.69" height="12.6" fill="#1010f8"/>
<rect x="407.66" y="270.3" width="12.69" height="12.6" fill="#4848e8"/>
<rect x="344.44" y="282.85" width="12.69" height="12.6" fill="#a09b30"/>
<rect x="357.09" y="282.85" width="12.69" height="12.6" fill="#3a3818"/>
<rect x="369.73" y="282.85" width="12.69" height="12.6" fill="#3a3815"/>
<rect x="382.37" y="282.85" width="12.69" height="12.6" fill="#0a0a60"/>
<rect x="395.01" y="282.85" width="12.69" height="12.6" fill="#1010f8"/>
<rect x="407.66" y="282.85" width="12.69" height="12.6" fill="#5050f0"/>
<rect x="344.44" y="295.4" width="12.69" height="12.6" fill="#e0d838"/>
<rect x="357.09" y="295.4" width="12.69" height="12.6" fill="#9a9530"/>
<rect x="369.73" y="295.4" width="12.69" height="12.6" fill="#807c2a"/>
<rect x="382.37" y="295.4" width="12.69" height="12.6" fill="#2a2810"/>
<rect x="395.01" y="295.4" width="12.69" height="12.6" fill="#1010f0"/>
<rect x="407.66" y="295.4" width="12.69" height="12.6" fill="#6060f0"/>
<rect x="344.44" y="307.95" width="12.69" height="12.6" fill="#fcf432"/>
<rect x="357.09" y="307.95" width="12.69" height="12.6" fill="#e8e035"/>
<rect x="369.73" y="307.95" width="12.69" height="12.6" fill="#d0c835"/>
<rect x="382.37" y="307.95" width="12.69" height="12.6" fill="#908c2e"/>
<rect x="395.01" y="307.95" width="12.69" height="12.6" fill="#1010c0"/>
<rect x="407.66" y="307.95" width="12.69" height="12.6" fill="#8080f8"/>
<rect x="344.44" y="320.5" width="12.69" height="12.6" fill="#fcf432"/>
<rect x="357.09" y="320.5" width="12.69" height="12.6" fill="#fcf432"/>
<rect x="369.73" y="320.5" width="12.69" height="12.6" fill="#fcf432"/>
<rect x="382.37" y="320.5" width="12.69" height="12.6" fill="#d0c835"/>
<rect x="395.01" y="320.5" width="12.69" height="12.6" fill="#050540"/>
<rect x="407.66" y="320.5" width="12.69" height="12.6" fill="#8080f8"/>
<rect x="344.44" y="333.05" width="12.69" height="12.6" fill="#fbf440"/>
<rect x="357.09" y="333.05" width="12.69" height="12.6" fill="#fbf440"/>
<rect x="369.73" y="333.05" width="12.69" height="12.6" fill="#fbf440"/>
<rect x="382.37" y="333.05" width="12.69" height="12.6" fill="#fcf432"/>
<rect x="395.01" y="333.05" width="12.69" height="12.6" fill="#555020"/>
<rect x="407.66" y="333.05" width="12.69" height="12.6" fill="#7070f0"/>
<path d="M344.44 270.3V345.6M357.09 270.3V345.6M369.73 270.3V345.6M382.37 270.3V345.6M395.01 270.3V345.6M407.66 270.3V345.6M344.44 282.85H420.3M344.44 295.4H420.3M344.44 307.95H420.3M344.44 320.5H420.3M344.44 333.05H420.3" stroke="#000" stroke-opacity=".3" stroke-width=".7" fill="none"/>
<text x="341" y="255" font-size="7.2" text-anchor="middle" textLength="20.8" lengthAdjust="spacingAndGlyphs" transform="rotate(-90 341 255)">unstim</text>
<path d="M358.4 254.9L421 238.8V254.9z" fill="#000"/>
<path d="M345.8 256.2H421" stroke="#333" stroke-width="1.6"/>
<text x="399.1" y="252.9" font-size="7.4" fill="#fff" textLength="18.9" lengthAdjust="spacingAndGlyphs">BTK-i</text>
<text x="380.5" y="266.8" font-size="7.4" textLength="19.8" lengthAdjust="spacingAndGlyphs">&#945;-IgM</text>
<text x="377" y="357.1" font-size="7.5" text-anchor="middle">p-BTK (Y223)</text>
<rect x="431.3" y="270.3" width="88.5" height="75.3" fill="#000"/>
<rect x="443.94" y="270.3" width="12.69" height="12.6" fill="#45421a"/>
<rect x="456.59" y="270.3" width="12.69" height="12.6" fill="#080818"/>
<rect x="469.23" y="270.3" width="12.69" height="12.6" fill="#0a0a15"/>
<rect x="481.87" y="270.3" width="12.69" height="12.6" fill="#0a0a40"/>
<rect x="494.51" y="270.3" width="12.69" height="12.6" fill="#0b0b4a"/>
<rect x="507.16" y="270.3" width="12.69" height="12.6" fill="#0b0b4a"/>
<rect x="443.94" y="282.85" width="12.69" height="12.6" fill="#706c25"/>
<rect x="456.59" y="282.85" width="12.69" height="12.6" fill="#45421a"/>
<rect x="469.23" y="282.85" width="12.69" height="12.6" fill="#45421a"/>
<rect x="481.87" y="282.85" width="12.69" height="12.6" fill="#3a3815"/>
<rect x="494.51" y="282.85" width="12.69" height="12.6" fill="#0a0a30"/>
<rect x="507.16" y="282.85" width="12.69" height="12.6" fill="#0b0b4a"/>
<rect x="443.94" y="295.4" width="12.69" height="12.6" fill="#b0ab30"/>
<rect x="456.59" y="295.4" width="12.69" height="12.6" fill="#8a8628"/>
<rect x="469.23" y="295.4" width="12.69" height="12.6" fill="#8a8628"/>
<rect x="481.87" y="295.4" width="12.69" height="12.6" fill="#5a5620"/>
<rect x="494.51" y="295.4" width="12.69" height="12.6" fill="#0a0a18"/>
<rect x="507.16" y="295.4" width="12.69" height="12.6" fill="#0b0b4a"/>
<rect x="443.94" y="307.95" width="12.69" height="12.6" fill="#fcf432"/>
<rect x="456.59" y="307.95" width="12.69" height="12.6" fill="#e0d838"/>
<rect x="469.23" y="307.95" width="12.69" height="12.6" fill="#d8d238"/>
<rect x="481.87" y="307.95" width="12.69" height="12.6" fill="#a09b2e"/>
<rect x="494.51" y="307.95" width="12.69" height="12.6" fill="#45421a"/>
<rect x="507.16" y="307.95" width="12.69" height="12.6" fill="#0a0a44"/>
<rect x="443.94" y="320.5" width="12.69" height="12.6" fill="#fcf432"/>
<rect x="456.59" y="320.5" width="12.69" height="12.6" fill="#fcf432"/>
<rect x="469.23" y="320.5" width="12.69" height="12.6" fill="#fcf432"/>
<rect x="481.87" y="320.5" width="12.69" height="12.6" fill="#e0d838"/>
<rect x="494.51" y="320.5" width="12.69" height="12.6" fill="#555220"/>
<rect x="507.16" y="320.5" width="12.69" height="12.6" fill="#0a0a44"/>
<rect x="443.94" y="333.05" width="12.69" height="12.6" fill="#fbf440"/>
<rect x="456.59" y="333.05" width="12.69" height="12.6" fill="#fbf440"/>
<rect x="469.23" y="333.05" width="12.69" height="12.6" fill="#fbf440"/>
<rect x="481.87" y="333.05" width="12.69" height="12.6" fill="#fcf432"/>
<rect x="494.51" y="333.05" width="12.69" height="12.6" fill="#b0ab30"/>
<rect x="507.16" y="333.05" width="12.69" height="12.6" fill="#0c0c40"/>
<path d="M443.94 270.3V345.6M456.59 270.3V345.6M469.23 270.3V345.6M481.87 270.3V345.6M494.51 270.3V345.6M507.16 270.3V345.6M443.94 282.85H519.8M443.94 295.4H519.8M443.94 307.95H519.8M443.94 320.5H519.8M443.94 333.05H519.8" stroke="#000" stroke-opacity=".3" stroke-width=".7" fill="none"/>
<text x="440.5" y="255" font-size="7.2" text-anchor="middle" textLength="20.8" lengthAdjust="spacingAndGlyphs" transform="rotate(-90 440.5 255)">unstim</text>
<path d="M457.9 254.9L520.5 238.8V254.9z" fill="#000"/>
<path d="M445.3 256.2H520.5" stroke="#333" stroke-width="1.6"/>
<text x="498.6" y="252.9" font-size="7.4" fill="#fff" textLength="18.9" lengthAdjust="spacingAndGlyphs">BTK-i</text>
<text x="480" y="266.8" font-size="7.4" textLength="19.8" lengthAdjust="spacingAndGlyphs">&#945;-IgM</text>
<text x="475.7" y="357.1" font-size="7.5" text-anchor="middle">p-PLC&#947;</text>
<text x="8.3" y="391.7" font-size="13.5" fill="#000" font-weight="bold" textLength="8.7" lengthAdjust="spacingAndGlyphs">C</text>
<text x="28.3" y="454.2" font-size="8.8" text-anchor="middle" textLength="48.9" lengthAdjust="spacingAndGlyphs" transform="rotate(-90 28.3 454.2)">Suppression</text>
<text x="39.5" y="455.4" font-size="8.8" text-anchor="middle" textLength="89.3" lengthAdjust="spacingAndGlyphs" transform="rotate(-90 39.5 455.4)">(% of &#945;-IgM signaling)</text>
<path d="M65.6 397.2V508.4M65.6 508.4H177.6M65.6 508.4h-3M65.6 472.27h-3M65.6 436.14h-3M65.6 400.01h-3M65.6 490.33h-1.6M65.6 454.2h-1.6M65.6 418.07h-1.6" stroke="#111" stroke-width="1.3" fill="none"/>
<path d="M65.8 508.4v3M75.73 508.4v1.6M81.55 508.4v1.6M85.67 508.4v1.6M88.87 508.4v1.6M91.48 508.4v1.6M93.69 508.4v1.6M95.6 508.4v1.6M97.29 508.4v1.6M98.8 508.4v3M108.73 508.4v1.6M114.55 508.4v1.6M118.67 508.4v1.6M121.87 508.4v1.6M124.48 508.4v1.6M126.69 508.4v1.6M128.6 508.4v1.6M130.29 508.4v1.6M131.8 508.4v3M141.73 508.4v1.6M147.55 508.4v1.6M151.67 508.4v1.6M154.87 508.4v1.6M157.48 508.4v1.6M159.69 508.4v1.6M161.6 508.4v1.6M163.29 508.4v1.6M164.8 508.4v3M174.73 508.4v1.6" stroke="#111" stroke-width="0.9" fill="none"/>
<text x="59.4" y="511.3" font-size="8.2" text-anchor="end">0</text>
<text x="59.4" y="475.17" font-size="8.2" text-anchor="end" textLength="12.2" lengthAdjust="spacingAndGlyphs">100</text>
<text x="59.4" y="439.04" font-size="8.2" text-anchor="end" textLength="12.2" lengthAdjust="spacingAndGlyphs">200</text>
<text x="59.4" y="402.91" font-size="8.2" text-anchor="end" textLength="12.2" lengthAdjust="spacingAndGlyphs">300</text>
<text x="65.8" y="521.6" font-size="8" text-anchor="middle">0.01</text>
<text x="98.8" y="521.6" font-size="8" text-anchor="middle">0.1</text>
<text x="131.8" y="521.6" font-size="8" text-anchor="middle">1.0</text>
<text x="164.8" y="521.6" font-size="8" text-anchor="middle">10.0</text>
<text x="119.6" y="534.4" font-size="9.2" text-anchor="middle">BTK-i (&#181;M)</text>
<text x="119.6" y="403.8" font-size="9.8" text-anchor="middle">p-SYK</text>
<path d="M72.6 483.11L95.6 483.83L118.6 467.93L141.6 459.99L164.6 451.31M72.6 491.42L95.6 487.44L118.6 480.22L141.6 469.74L164.6 462.51M72.6 497.56L95.6 493.59L118.6 488.53L141.6 474.44L164.6 466.49M72.6 500.45L95.6 497.56L118.6 491.42L141.6 478.05L164.6 468.3M72.6 502.62L95.6 499.73L118.6 494.31L141.6 482.03L164.6 470.1M72.6 504.79L95.6 502.98L118.6 499.73L141.6 486L164.6 472.27" stroke="#111" stroke-width="1.2" fill="none"/>
<path d="M72.6 478.41V487.81M70.1 478.41h5M70.1 487.81h5M118.6 463.6V472.27M116.1 463.6h5M116.1 472.27h5M141.6 455.65V464.32M139.1 455.65h5M139.1 464.32h5M164.6 445.53V457.1M162.1 445.53h5M162.1 457.1h5M164.6 458.54V466.49M162.1 458.54h5M162.1 466.49h5" stroke="#111" stroke-width="1" fill="none"/>
<circle cx="72.6" cy="483.11" r="3.05" fill="#e6e6e6" stroke="#111" stroke-width="1.1"/>
<circle cx="95.6" cy="483.83" r="3.05" fill="#e6e6e6" stroke="#111" stroke-width="1.1"/>
<circle cx="118.6" cy="467.93" r="3.05" fill="#e6e6e6" stroke="#111" stroke-width="1.1"/>
<circle cx="141.6" cy="459.99" r="3.05" fill="#e6e6e6" stroke="#111" stroke-width="1.1"/>
<circle cx="164.6" cy="451.31" r="3.05" fill="#e6e6e6" stroke="#111" stroke-width="1.1"/>
<circle cx="72.6" cy="491.42" r="3.05" fill="#bdbdbd" stroke="#111" stroke-width="1.1"/>
<circle cx="95.6" cy="487.44" r="3.05" fill="#bdbdbd" stroke="#111" stroke-width="1.1"/>
<circle cx="118.6" cy="480.22" r="3.05" fill="#bdbdbd" stroke="#111" stroke-width="1.1"/>
<circle cx="141.6" cy="469.74" r="3.05" fill="#bdbdbd" stroke="#111" stroke-width="1.1"/>
<circle cx="164.6" cy="462.51" r="3.05" fill="#bdbdbd" stroke="#111" stroke-width="1.1"/>
<circle cx="72.6" cy="497.56" r="3.05" fill="#959595" stroke="#111" stroke-width="1.1"/>
<circle cx="95.6" cy="493.59" r="3.05" fill="#959595" stroke="#111" stroke-width="1.1"/>
<circle cx="118.6" cy="488.53" r="3.05" fill="#959595" stroke="#111" stroke-width="1.1"/>
<circle cx="141.6" cy="474.44" r="3.05" fill="#959595" stroke="#111" stroke-width="1.1"/>
<circle cx="164.6" cy="466.49" r="3.05" fill="#959595" stroke="#111" stroke-width="1.1"/>
<circle cx="72.6" cy="500.45" r="3.05" fill="#767676" stroke="#111" stroke-width="1.1"/>
<circle cx="95.6" cy="497.56" r="3.05" fill="#767676" stroke="#111" stroke-width="1.1"/>
<circle cx="118.6" cy="491.42" r="3.05" fill="#767676" stroke="#111" stroke-width="1.1"/>
<circle cx="141.6" cy="478.05" r="3.05" fill="#767676" stroke="#111" stroke-width="1.1"/>
<circle cx="164.6" cy="468.3" r="3.05" fill="#767676" stroke="#111" stroke-width="1.1"/>
<circle cx="72.6" cy="502.62" r="3.05" fill="#4e4e4e" stroke="#111" stroke-width="1.1"/>
<circle cx="95.6" cy="499.73" r="3.05" fill="#4e4e4e" stroke="#111" stroke-width="1.1"/>
<circle cx="118.6" cy="494.31" r="3.05" fill="#4e4e4e" stroke="#111" stroke-width="1.1"/>
<circle cx="141.6" cy="482.03" r="3.05" fill="#4e4e4e" stroke="#111" stroke-width="1.1"/>
<circle cx="164.6" cy="470.1" r="3.05" fill="#4e4e4e" stroke="#111" stroke-width="1.1"/>
<circle cx="72.6" cy="504.79" r="3.05" fill="#0a0a0a" stroke="#111" stroke-width="1.1"/>
<circle cx="95.6" cy="502.98" r="3.05" fill="#0a0a0a" stroke="#111" stroke-width="1.1"/>
<circle cx="118.6" cy="499.73" r="3.05" fill="#0a0a0a" stroke="#111" stroke-width="1.1"/>
<circle cx="141.6" cy="486" r="3.05" fill="#0a0a0a" stroke="#111" stroke-width="1.1"/>
<circle cx="164.6" cy="472.27" r="3.05" fill="#0a0a0a" stroke="#111" stroke-width="1.1"/>
<path d="M203.4 397.2V508.4M203.4 508.4H315.4M203.4 508.4h-3M203.4 472.27h-3M203.4 436.14h-3M203.4 400.01h-3M203.4 490.33h-1.6M203.4 454.2h-1.6M203.4 418.07h-1.6" stroke="#111" stroke-width="1.3" fill="none"/>
<path d="M203.6 508.4v3M213.53 508.4v1.6M219.35 508.4v1.6M223.47 508.4v1.6M226.67 508.4v1.6M229.28 508.4v1.6M231.49 508.4v1.6M233.4 508.4v1.6M235.09 508.4v1.6M236.6 508.4v3M246.53 508.4v1.6M252.35 508.4v1.6M256.47 508.4v1.6M259.67 508.4v1.6M262.28 508.4v1.6M264.49 508.4v1.6M266.4 508.4v1.6M268.09 508.4v1.6M269.6 508.4v3M279.53 508.4v1.6M285.35 508.4v1.6M289.47 508.4v1.6M292.67 508.4v1.6M295.28 508.4v1.6M297.49 508.4v1.6M299.4 508.4v1.6M301.09 508.4v1.6M302.6 508.4v3M312.53 508.4v1.6" stroke="#111" stroke-width="0.9" fill="none"/>
<text x="197.2" y="511.3" font-size="8.2" text-anchor="end">0</text>
<text x="197.2" y="475.17" font-size="8.2" text-anchor="end" textLength="12.2" lengthAdjust="spacingAndGlyphs">100</text>
<text x="197.2" y="439.04" font-size="8.2" text-anchor="end" textLength="12.2" lengthAdjust="spacingAndGlyphs">200</text>
<text x="197.2" y="402.91" font-size="8.2" text-anchor="end" textLength="12.2" lengthAdjust="spacingAndGlyphs">300</text>
<text x="203.6" y="521.6" font-size="8" text-anchor="middle">0.01</text>
<text x="236.6" y="521.6" font-size="8" text-anchor="middle">0.1</text>
<text x="269.6" y="521.6" font-size="8" text-anchor="middle">1.0</text>
<text x="302.6" y="521.6" font-size="8" text-anchor="middle">10.0</text>
<text x="257.4" y="534.4" font-size="9.2" text-anchor="middle">BTK-i (&#181;M)</text>
<text x="257.4" y="403.8" font-size="9.8" text-anchor="middle">p-BTK</text>
<path d="M210.4 471.55L233.4 463.6L256.4 445.9L279.4 421.69L302.4 410.85M210.4 486.36L233.4 481.66L256.4 468.3L279.4 446.26L302.4 433.61M210.4 496.12L233.4 492.14L256.4 485.28L279.4 459.26L302.4 444.09M210.4 499.73L233.4 497.2L256.4 493.23L279.4 469.38L302.4 449.87M210.4 502.26L233.4 499.73L256.4 497.92L279.4 479.13L302.4 454.57M210.4 504.43L233.4 501.9L256.4 501.54L279.4 487.44L302.4 463.6" stroke="#111" stroke-width="1.2" fill="none"/>
<path d="M210.4 467.57V475.52M207.9 467.57h5M207.9 475.52h5M233.4 460.35V466.85M230.9 460.35h5M230.9 466.85h5M256.4 437.95V453.84M253.9 437.95h5M253.9 453.84h5M279.4 415.18V428.19M276.9 415.18h5M276.9 428.19h5M302.4 402.9V418.8M299.9 402.9h5M299.9 418.8h5M256.4 480.94V489.61M253.9 480.94h5M253.9 489.61h5M279.4 465.04V473.72M276.9 465.04h5M276.9 473.72h5M279.4 474.08V484.19M276.9 474.08h5M276.9 484.19h5M279.4 482.39V492.5M276.9 482.39h5M276.9 492.5h5M302.4 459.26V467.93M299.9 459.26h5M299.9 467.93h5" stroke="#111" stroke-width="1" fill="none"/>
<circle cx="210.4" cy="471.55" r="3.05" fill="#e6e6e6" stroke="#111" stroke-width="1.1"/>
<circle cx="233.4" cy="463.6" r="3.05" fill="#e6e6e6" stroke="#111" stroke-width="1.1"/>
<circle cx="256.4" cy="445.9" r="3.05" fill="#e6e6e6" stroke="#111" stroke-width="1.1"/>
<circle cx="279.4" cy="421.69" r="3.05" fill="#e6e6e6" stroke="#111" stroke-width="1.1"/>
<circle cx="302.4" cy="410.85" r="3.05" fill="#e6e6e6" stroke="#111" stroke-width="1.1"/>
<circle cx="210.4" cy="486.36" r="3.05" fill="#bdbdbd" stroke="#111" stroke-width="1.1"/>
<circle cx="233.4" cy="481.66" r="3.05" fill="#bdbdbd" stroke="#111" stroke-width="1.1"/>
<circle cx="256.4" cy="468.3" r="3.05" fill="#bdbdbd" stroke="#111" stroke-width="1.1"/>
<circle cx="279.4" cy="446.26" r="3.05" fill="#bdbdbd" stroke="#111" stroke-width="1.1"/>
<circle cx="302.4" cy="433.61" r="3.05" fill="#bdbdbd" stroke="#111" stroke-width="1.1"/>
<circle cx="210.4" cy="496.12" r="3.05" fill="#959595" stroke="#111" stroke-width="1.1"/>
<circle cx="233.4" cy="492.14" r="3.05" fill="#959595" stroke="#111" stroke-width="1.1"/>
<circle cx="256.4" cy="485.28" r="3.05" fill="#959595" stroke="#111" stroke-width="1.1"/>
<circle cx="279.4" cy="459.26" r="3.05" fill="#959595" stroke="#111" stroke-width="1.1"/>
<circle cx="302.4" cy="444.09" r="3.05" fill="#959595" stroke="#111" stroke-width="1.1"/>
<circle cx="210.4" cy="499.73" r="3.05" fill="#767676" stroke="#111" stroke-width="1.1"/>
<circle cx="233.4" cy="497.2" r="3.05" fill="#767676" stroke="#111" stroke-width="1.1"/>
<circle cx="256.4" cy="493.23" r="3.05" fill="#767676" stroke="#111" stroke-width="1.1"/>
<circle cx="279.4" cy="469.38" r="3.05" fill="#767676" stroke="#111" stroke-width="1.1"/>
<circle cx="302.4" cy="449.87" r="3.05" fill="#767676" stroke="#111" stroke-width="1.1"/>
<circle cx="210.4" cy="502.26" r="3.05" fill="#4e4e4e" stroke="#111" stroke-width="1.1"/>
<circle cx="233.4" cy="499.73" r="3.05" fill="#4e4e4e" stroke="#111" stroke-width="1.1"/>
<circle cx="256.4" cy="497.92" r="3.05" fill="#4e4e4e" stroke="#111" stroke-width="1.1"/>
<circle cx="279.4" cy="479.13" r="3.05" fill="#4e4e4e" stroke="#111" stroke-width="1.1"/>
<circle cx="302.4" cy="454.57" r="3.05" fill="#4e4e4e" stroke="#111" stroke-width="1.1"/>
<circle cx="210.4" cy="504.43" r="3.05" fill="#0a0a0a" stroke="#111" stroke-width="1.1"/>
<circle cx="233.4" cy="501.9" r="3.05" fill="#0a0a0a" stroke="#111" stroke-width="1.1"/>
<circle cx="256.4" cy="501.54" r="3.05" fill="#0a0a0a" stroke="#111" stroke-width="1.1"/>
<circle cx="279.4" cy="487.44" r="3.05" fill="#0a0a0a" stroke="#111" stroke-width="1.1"/>
<circle cx="302.4" cy="463.6" r="3.05" fill="#0a0a0a" stroke="#111" stroke-width="1.1"/>
<path d="M340.9 397.2V508.4M340.9 508.4H452.9M340.9 508.4h-3M340.9 472.27h-3M340.9 436.14h-3M340.9 400.01h-3M340.9 490.33h-1.6M340.9 454.2h-1.6M340.9 418.07h-1.6" stroke="#111" stroke-width="1.3" fill="none"/>
<path d="M341.1 508.4v3M351.03 508.4v1.6M356.85 508.4v1.6M360.97 508.4v1.6M364.17 508.4v1.6M366.78 508.4v1.6M368.99 508.4v1.6M370.9 508.4v1.6M372.59 508.4v1.6M374.1 508.4v3M384.03 508.4v1.6M389.85 508.4v1.6M393.97 508.4v1.6M397.17 508.4v1.6M399.78 508.4v1.6M401.99 508.4v1.6M403.9 508.4v1.6M405.59 508.4v1.6M407.1 508.4v3M417.03 508.4v1.6M422.85 508.4v1.6M426.97 508.4v1.6M430.17 508.4v1.6M432.78 508.4v1.6M434.99 508.4v1.6M436.9 508.4v1.6M438.59 508.4v1.6M440.1 508.4v3M450.03 508.4v1.6" stroke="#111" stroke-width="0.9" fill="none"/>
<text x="334.7" y="511.3" font-size="8.2" text-anchor="end">0</text>
<text x="334.7" y="475.17" font-size="8.2" text-anchor="end" textLength="12.2" lengthAdjust="spacingAndGlyphs">100</text>
<text x="334.7" y="439.04" font-size="8.2" text-anchor="end" textLength="12.2" lengthAdjust="spacingAndGlyphs">200</text>
<text x="334.7" y="402.91" font-size="8.2" text-anchor="end" textLength="12.2" lengthAdjust="spacingAndGlyphs">300</text>
<text x="341.1" y="521.6" font-size="8" text-anchor="middle">0.01</text>
<text x="374.1" y="521.6" font-size="8" text-anchor="middle">0.1</text>
<text x="407.1" y="521.6" font-size="8" text-anchor="middle">1.0</text>
<text x="440.1" y="521.6" font-size="8" text-anchor="middle">10.0</text>
<text x="394.9" y="534.4" font-size="9.2" text-anchor="middle">BTK-i (&#181;M)</text>
<text x="394.9" y="403.8" font-size="9.8" text-anchor="middle">p-PLC&#947;</text>
<path d="M347.9 472.27L370.9 479.86L393.9 466.85L416.9 456.01L439.9 438.67M347.9 491.42L370.9 489.61L393.9 482.75L416.9 467.57L439.9 461.07M347.9 499.37L370.9 496.84L393.9 491.42L416.9 475.16L439.9 466.49M347.9 503.7L370.9 501.17L393.9 496.84L416.9 481.3L439.9 468.66M347.9 505.69L370.9 503.34L393.9 500.45L416.9 487.08L439.9 470.82M347.9 506.81L370.9 505.15L393.9 503.34L416.9 492.86L439.9 473.72" stroke="#111" stroke-width="1.2" fill="none"/>
<path d="M347.9 467.21V477.33M345.4 467.21h5M345.4 477.33h5M393.9 460.35V473.35M391.4 460.35h5M391.4 473.35h5M416.9 445.9V466.13M414.4 445.9h5M414.4 466.13h5M393.9 487.08V495.75M391.4 487.08h5M391.4 495.75h5M416.9 463.96V471.19M414.4 463.96h5M414.4 471.19h5" stroke="#111" stroke-width="1" fill="none"/>
<circle cx="347.9" cy="472.27" r="3.05" fill="#e6e6e6" stroke="#111" stroke-width="1.1"/>
<circle cx="370.9" cy="479.86" r="3.05" fill="#e6e6e6" stroke="#111" stroke-width="1.1"/>
<circle cx="393.9" cy="466.85" r="3.05" fill="#e6e6e6" stroke="#111" stroke-width="1.1"/>
<circle cx="416.9" cy="456.01" r="3.05" fill="#e6e6e6" stroke="#111" stroke-width="1.1"/>
<circle cx="439.9" cy="438.67" r="3.05" fill="#e6e6e6" stroke="#111" stroke-width="1.1"/>
<circle cx="347.9" cy="491.42" r="3.05" fill="#bdbdbd" stroke="#111" stroke-width="1.1"/>
<circle cx="370.9" cy="489.61" r="3.05" fill="#bdbdbd" stroke="#111" stroke-width="1.1"/>
<circle cx="393.9" cy="482.75" r="3.05" fill="#bdbdbd" stroke="#111" stroke-width="1.1"/>
<circle cx="416.9" cy="467.57" r="3.05" fill="#bdbdbd" stroke="#111" stroke-width="1.1"/>
<circle cx="439.9" cy="461.07" r="3.05" fill="#bdbdbd" stroke="#111" stroke-width="1.1"/>
<circle cx="347.9" cy="499.37" r="3.05" fill="#959595" stroke="#111" stroke-width="1.1"/>
<circle cx="370.9" cy="496.84" r="3.05" fill="#959595" stroke="#111" stroke-width="1.1"/>
<circle cx="393.9" cy="491.42" r="3.05" fill="#959595" stroke="#111" stroke-width="1.1"/>
<circle cx="416.9" cy="475.16" r="3.05" fill="#959595" stroke="#111" stroke-width="1.1"/>
<circle cx="439.9" cy="466.49" r="3.05" fill="#959595" stroke="#111" stroke-width="1.1"/>
<circle cx="347.9" cy="503.7" r="3.05" fill="#767676" stroke="#111" stroke-width="1.1"/>
<circle cx="370.9" cy="501.17" r="3.05" fill="#767676" stroke="#111" stroke-width="1.1"/>
<circle cx="393.9" cy="496.84" r="3.05" fill="#767676" stroke="#111" stroke-width="1.1"/>
<circle cx="416.9" cy="481.3" r="3.05" fill="#767676" stroke="#111" stroke-width="1.1"/>
<circle cx="439.9" cy="468.66" r="3.05" fill="#767676" stroke="#111" stroke-width="1.1"/>
<circle cx="347.9" cy="505.69" r="3.05" fill="#4e4e4e" stroke="#111" stroke-width="1.1"/>
<circle cx="370.9" cy="503.34" r="3.05" fill="#4e4e4e" stroke="#111" stroke-width="1.1"/>
<circle cx="393.9" cy="500.45" r="3.05" fill="#4e4e4e" stroke="#111" stroke-width="1.1"/>
<circle cx="416.9" cy="487.08" r="3.05" fill="#4e4e4e" stroke="#111" stroke-width="1.1"/>
<circle cx="439.9" cy="470.82" r="3.05" fill="#4e4e4e" stroke="#111" stroke-width="1.1"/>
<circle cx="347.9" cy="506.81" r="3.05" fill="#0a0a0a" stroke="#111" stroke-width="1.1"/>
<circle cx="370.9" cy="505.15" r="3.05" fill="#0a0a0a" stroke="#111" stroke-width="1.1"/>
<circle cx="393.9" cy="503.34" r="3.05" fill="#0a0a0a" stroke="#111" stroke-width="1.1"/>
<circle cx="416.9" cy="492.86" r="3.05" fill="#0a0a0a" stroke="#111" stroke-width="1.1"/>
<circle cx="439.9" cy="473.72" r="3.05" fill="#0a0a0a" stroke="#111" stroke-width="1.1"/>
<path d="M458.6 429.8H474.6" stroke="#111" stroke-width="1"/>
<circle cx="466.6" cy="429.8" r="3.5" fill="#e6e6e6" stroke="#111" stroke-width="1.1"/>
<text x="478" y="433" font-size="8.8" textLength="7.5" lengthAdjust="spacingAndGlyphs">L1</text>
<path d="M458.6 438.97H474.6" stroke="#111" stroke-width="1"/>
<circle cx="466.6" cy="438.97" r="3.5" fill="#bdbdbd" stroke="#111" stroke-width="1.1"/>
<text x="478" y="442.17" font-size="8.8" textLength="7.5" lengthAdjust="spacingAndGlyphs">L2</text>
<path d="M458.6 448.14H474.6" stroke="#111" stroke-width="1"/>
<circle cx="466.6" cy="448.14" r="3.5" fill="#959595" stroke="#111" stroke-width="1.1"/>
<text x="478" y="451.34" font-size="8.8" textLength="7.5" lengthAdjust="spacingAndGlyphs">L3</text>
<path d="M458.6 457.31H474.6" stroke="#111" stroke-width="1"/>
<circle cx="466.6" cy="457.31" r="3.5" fill="#767676" stroke="#111" stroke-width="1.1"/>
<text x="478" y="460.51" font-size="8.8" textLength="7.5" lengthAdjust="spacingAndGlyphs">L4</text>
<path d="M458.6 466.48H474.6" stroke="#111" stroke-width="1"/>
<circle cx="466.6" cy="466.48" r="3.5" fill="#4e4e4e" stroke="#111" stroke-width="1.1"/>
<text x="478" y="469.68" font-size="8.8" textLength="7.5" lengthAdjust="spacingAndGlyphs">L5</text>
<path d="M458.6 475.65H474.6" stroke="#111" stroke-width="1"/>
<circle cx="466.6" cy="475.65" r="3.5" fill="#0a0a0a" stroke="#111" stroke-width="1.1"/>
<text x="478" y="478.85" font-size="8.8" textLength="7.5" lengthAdjust="spacingAndGlyphs">L6</text>
<path d="M489.5 426.3V478.15" stroke="#111" stroke-width="1"/>
<text x="499" y="452.5" font-size="8.3" text-anchor="middle" textLength="23.8" lengthAdjust="spacingAndGlyphs" transform="rotate(-90 499 452.5)">CD79B</text>
<text x="8.3" y="565.6" font-size="13" fill="#000" font-weight="bold" textLength="8.8" lengthAdjust="spacingAndGlyphs">D</text>
<text x="28.3" y="616.4" font-size="8.8" text-anchor="middle" textLength="48.9" lengthAdjust="spacingAndGlyphs" transform="rotate(-90 28.3 616.4)">Suppression</text>
<text x="39.5" y="616.4" font-size="8.8" text-anchor="middle" textLength="89.3" lengthAdjust="spacingAndGlyphs" transform="rotate(-90 39.5 616.4)">(% of &#945;-IgM signaling)</text>
<path d="M65.6 566.2V677.5M65.6 663.6H177.6M65.6 663.6h-3M65.6 636.5h-3M65.6 609.4h-3M65.6 582.3h-3M65.6 650.05h-1.6M65.6 622.95h-1.6M65.6 595.85h-1.6" stroke="#111" stroke-width="1.3" fill="none"/>
<path d="M70.87 663.6v1.6M74.87 663.6v1.6M77.97 663.6v1.6M80.5 663.6v1.6M82.64 663.6v1.6M84.5 663.6v1.6M86.14 663.6v1.6M87.6 663.6v3M97.23 663.6v1.6M102.87 663.6v1.6M106.87 663.6v1.6M109.97 663.6v1.6M112.5 663.6v1.6M114.64 663.6v1.6M116.5 663.6v1.6M118.14 663.6v1.6M119.6 663.6v3M129.23 663.6v1.6M134.87 663.6v1.6M138.87 663.6v1.6M141.97 663.6v1.6M144.5 663.6v1.6M146.64 663.6v1.6M148.5 663.6v1.6M150.14 663.6v1.6M151.6 663.6v3M161.23 663.6v1.6M166.87 663.6v1.6M170.87 663.6v1.6M173.97 663.6v1.6M176.5 663.6v1.6" stroke="#111" stroke-width="0.9" fill="none"/>
<text x="59.4" y="666.5" font-size="8.2" text-anchor="end">0</text>
<text x="59.4" y="639.4" font-size="8.2" text-anchor="end" textLength="12.2" lengthAdjust="spacingAndGlyphs">100</text>
<text x="59.4" y="612.3" font-size="8.2" text-anchor="end" textLength="12.2" lengthAdjust="spacingAndGlyphs">200</text>
<text x="59.4" y="585.2" font-size="8.2" text-anchor="end" textLength="12.2" lengthAdjust="spacingAndGlyphs">300</text>
<text x="87.6" y="680" font-size="8" text-anchor="middle">0.01</text>
<text x="119.6" y="680" font-size="8" text-anchor="middle">0.1</text>
<text x="151.6" y="680" font-size="8" text-anchor="middle">1.0</text>
<text x="119.6" y="692.8" font-size="9.2" text-anchor="middle">SYK-i (&#181;M)</text>
<text x="119.6" y="572.2" font-size="9.8" text-anchor="middle">p-SYK</text>
<path d="M75.4 666.85L97.8 664.41L120 664.96L142.4 651.4L164.6 634.87M75.4 666.31L97.8 664.41L120 665.23L142.4 653.3L164.6 642.19M75.4 665.77L97.8 664.68L120 664.96L142.4 655.47L164.6 647.61M75.4 665.5L97.8 664.68L120 664.68L142.4 657.64L164.6 650.86M75.4 665.23L97.8 664.41L120 664.41L142.4 659.53L164.6 653.57M75.4 664.96L97.8 664.41L120 664.14L142.4 660.89L164.6 656.01" stroke="#111" stroke-width="1.2" fill="none"/>
<path d="M75.4 662.52V671.19M72.9 662.52h5M72.9 671.19h5M142.4 647.61V655.2M139.9 647.61h5M139.9 655.2h5M164.6 631.35V638.4M162.1 631.35h5M162.1 638.4h5" stroke="#111" stroke-width="1" fill="none"/>
<circle cx="75.4" cy="666.85" r="3.05" fill="#e6e6e6" stroke="#111" stroke-width="1.1"/>
<circle cx="97.8" cy="664.41" r="3.05" fill="#e6e6e6" stroke="#111" stroke-width="1.1"/>
<circle cx="120" cy="664.96" r="3.05" fill="#e6e6e6" stroke="#111" stroke-width="1.1"/>
<circle cx="142.4" cy="651.4" r="3.05" fill="#e6e6e6" stroke="#111" stroke-width="1.1"/>
<circle cx="164.6" cy="634.87" r="3.05" fill="#e6e6e6" stroke="#111" stroke-width="1.1"/>
<circle cx="75.4" cy="666.31" r="3.05" fill="#bdbdbd" stroke="#111" stroke-width="1.1"/>
<circle cx="97.8" cy="664.41" r="3.05" fill="#bdbdbd" stroke="#111" stroke-width="1.1"/>
<circle cx="120" cy="665.23" r="3.05" fill="#bdbdbd" stroke="#111" stroke-width="1.1"/>
<circle cx="142.4" cy="653.3" r="3.05" fill="#bdbdbd" stroke="#111" stroke-width="1.1"/>
<circle cx="164.6" cy="642.19" r="3.05" fill="#bdbdbd" stroke="#111" stroke-width="1.1"/>
<circle cx="75.4" cy="665.77" r="3.05" fill="#959595" stroke="#111" stroke-width="1.1"/>
<circle cx="97.8" cy="664.68" r="3.05" fill="#959595" stroke="#111" stroke-width="1.1"/>
<circle cx="120" cy="664.96" r="3.05" fill="#959595" stroke="#111" stroke-width="1.1"/>
<circle cx="142.4" cy="655.47" r="3.05" fill="#959595" stroke="#111" stroke-width="1.1"/>
<circle cx="164.6" cy="647.61" r="3.05" fill="#959595" stroke="#111" stroke-width="1.1"/>
<circle cx="75.4" cy="665.5" r="3.05" fill="#767676" stroke="#111" stroke-width="1.1"/>
<circle cx="97.8" cy="664.68" r="3.05" fill="#767676" stroke="#111" stroke-width="1.1"/>
<circle cx="120" cy="664.68" r="3.05" fill="#767676" stroke="#111" stroke-width="1.1"/>
<circle cx="142.4" cy="657.64" r="3.05" fill="#767676" stroke="#111" stroke-width="1.1"/>
<circle cx="164.6" cy="650.86" r="3.05" fill="#767676" stroke="#111" stroke-width="1.1"/>
<circle cx="75.4" cy="665.23" r="3.05" fill="#4e4e4e" stroke="#111" stroke-width="1.1"/>
<circle cx="97.8" cy="664.41" r="3.05" fill="#4e4e4e" stroke="#111" stroke-width="1.1"/>
<circle cx="120" cy="664.41" r="3.05" fill="#4e4e4e" stroke="#111" stroke-width="1.1"/>
<circle cx="142.4" cy="659.53" r="3.05" fill="#4e4e4e" stroke="#111" stroke-width="1.1"/>
<circle cx="164.6" cy="653.57" r="3.05" fill="#4e4e4e" stroke="#111" stroke-width="1.1"/>
<circle cx="75.4" cy="664.96" r="3.05" fill="#0a0a0a" stroke="#111" stroke-width="1.1"/>
<circle cx="97.8" cy="664.41" r="3.05" fill="#0a0a0a" stroke="#111" stroke-width="1.1"/>
<circle cx="120" cy="664.14" r="3.05" fill="#0a0a0a" stroke="#111" stroke-width="1.1"/>
<circle cx="142.4" cy="660.89" r="3.05" fill="#0a0a0a" stroke="#111" stroke-width="1.1"/>
<circle cx="164.6" cy="656.01" r="3.05" fill="#0a0a0a" stroke="#111" stroke-width="1.1"/>
<path d="M202.9 566.2V677.5M202.9 663.6H314.9M202.9 663.6h-3M202.9 636.5h-3M202.9 609.4h-3M202.9 582.3h-3M202.9 650.05h-1.6M202.9 622.95h-1.6M202.9 595.85h-1.6" stroke="#111" stroke-width="1.3" fill="none"/>
<path d="M208.17 663.6v1.6M212.17 663.6v1.6M215.27 663.6v1.6M217.8 663.6v1.6M219.94 663.6v1.6M221.8 663.6v1.6M223.44 663.6v1.6M224.9 663.6v3M234.53 663.6v1.6M240.17 663.6v1.6M244.17 663.6v1.6M247.27 663.6v1.6M249.8 663.6v1.6M251.94 663.6v1.6M253.8 663.6v1.6M255.44 663.6v1.6M256.9 663.6v3M266.53 663.6v1.6M272.17 663.6v1.6M276.17 663.6v1.6M279.27 663.6v1.6M281.8 663.6v1.6M283.94 663.6v1.6M285.8 663.6v1.6M287.44 663.6v1.6M288.9 663.6v3M298.53 663.6v1.6M304.17 663.6v1.6M308.17 663.6v1.6M311.27 663.6v1.6M313.8 663.6v1.6" stroke="#111" stroke-width="0.9" fill="none"/>
<text x="196.7" y="666.5" font-size="8.2" text-anchor="end">0</text>
<text x="196.7" y="639.4" font-size="8.2" text-anchor="end" textLength="12.2" lengthAdjust="spacingAndGlyphs">100</text>
<text x="196.7" y="612.3" font-size="8.2" text-anchor="end" textLength="12.2" lengthAdjust="spacingAndGlyphs">200</text>
<text x="196.7" y="585.2" font-size="8.2" text-anchor="end" textLength="12.2" lengthAdjust="spacingAndGlyphs">300</text>
<text x="224.9" y="680" font-size="8" text-anchor="middle">0.01</text>
<text x="256.9" y="680" font-size="8" text-anchor="middle">0.1</text>
<text x="288.9" y="680" font-size="8" text-anchor="middle">1.0</text>
<text x="256.9" y="692.8" font-size="9.2" text-anchor="middle">SYK-i (&#181;M)</text>
<text x="256.9" y="572.2" font-size="9.8" text-anchor="middle">p-BTK</text>
<path d="M212.7 665.77L235.1 664.14L257.3 662.79L279.7 626.2L301.9 579.86M212.7 665.77L235.1 664.14L257.3 662.79L279.7 640.29L301.9 607.5M212.7 665.5L235.1 664.14L257.3 662.79L279.7 648.97L301.9 621.32M212.7 665.5L235.1 664.14L257.3 662.79L279.7 651.95L301.9 630M212.7 665.23L235.1 664.14L257.3 662.79L279.7 654.39L301.9 637.04M212.7 665.23L235.1 664.14L257.3 662.79L279.7 657.64L301.9 643.82" stroke="#111" stroke-width="1.2" fill="none"/>
<path d="M212.7 661.43V670.1M210.2 661.43h5M210.2 670.1h5M301.9 572.27V587.45M299.4 572.27h5M299.4 587.45h5" stroke="#111" stroke-width="1" fill="none"/>
<circle cx="212.7" cy="665.77" r="3.05" fill="#e6e6e6" stroke="#111" stroke-width="1.1"/>
<circle cx="235.1" cy="664.14" r="3.05" fill="#e6e6e6" stroke="#111" stroke-width="1.1"/>
<circle cx="257.3" cy="662.79" r="3.05" fill="#e6e6e6" stroke="#111" stroke-width="1.1"/>
<circle cx="279.7" cy="626.2" r="3.05" fill="#e6e6e6" stroke="#111" stroke-width="1.1"/>
<circle cx="301.9" cy="579.86" r="3.05" fill="#e6e6e6" stroke="#111" stroke-width="1.1"/>
<circle cx="212.7" cy="665.77" r="3.05" fill="#bdbdbd" stroke="#111" stroke-width="1.1"/>
<circle cx="235.1" cy="664.14" r="3.05" fill="#bdbdbd" stroke="#111" stroke-width="1.1"/>
<circle cx="257.3" cy="662.79" r="3.05" fill="#bdbdbd" stroke="#111" stroke-width="1.1"/>
<circle cx="279.7" cy="640.29" r="3.05" fill="#bdbdbd" stroke="#111" stroke-width="1.1"/>
<circle cx="301.9" cy="607.5" r="3.05" fill="#bdbdbd" stroke="#111" stroke-width="1.1"/>
<circle cx="212.7" cy="665.5" r="3.05" fill="#959595" stroke="#111" stroke-width="1.1"/>
<circle cx="235.1" cy="664.14" r="3.05" fill="#959595" stroke="#111" stroke-width="1.1"/>
<circle cx="257.3" cy="662.79" r="3.05" fill="#959595" stroke="#111" stroke-width="1.1"/>
<circle cx="279.7" cy="648.97" r="3.05" fill="#959595" stroke="#111" stroke-width="1.1"/>
<circle cx="301.9" cy="621.32" r="3.05" fill="#959595" stroke="#111" stroke-width="1.1"/>
<circle cx="212.7" cy="665.5" r="3.05" fill="#767676" stroke="#111" stroke-width="1.1"/>
<circle cx="235.1" cy="664.14" r="3.05" fill="#767676" stroke="#111" stroke-width="1.1"/>
<circle cx="257.3" cy="662.79" r="3.05" fill="#767676" stroke="#111" stroke-width="1.1"/>
<circle cx="279.7" cy="651.95" r="3.05" fill="#767676" stroke="#111" stroke-width="1.1"/>
<circle cx="301.9" cy="630" r="3.05" fill="#767676" stroke="#111" stroke-width="1.1"/>
<circle cx="212.7" cy="665.23" r="3.05" fill="#4e4e4e" stroke="#111" stroke-width="1.1"/>
<circle cx="235.1" cy="664.14" r="3.05" fill="#4e4e4e" stroke="#111" stroke-width="1.1"/>
<circle cx="257.3" cy="662.79" r="3.05" fill="#4e4e4e" stroke="#111" stroke-width="1.1"/>
<circle cx="279.7" cy="654.39" r="3.05" fill="#4e4e4e" stroke="#111" stroke-width="1.1"/>
<circle cx="301.9" cy="637.04" r="3.05" fill="#4e4e4e" stroke="#111" stroke-width="1.1"/>
<circle cx="212.7" cy="665.23" r="3.05" fill="#0a0a0a" stroke="#111" stroke-width="1.1"/>
<circle cx="235.1" cy="664.14" r="3.05" fill="#0a0a0a" stroke="#111" stroke-width="1.1"/>
<circle cx="257.3" cy="662.79" r="3.05" fill="#0a0a0a" stroke="#111" stroke-width="1.1"/>
<circle cx="279.7" cy="657.64" r="3.05" fill="#0a0a0a" stroke="#111" stroke-width="1.1"/>
<circle cx="301.9" cy="643.82" r="3.05" fill="#0a0a0a" stroke="#111" stroke-width="1.1"/>
<path d="M340.9 566.2V677.5M340.9 663.6H452.9M340.9 663.6h-3M340.9 636.5h-3M340.9 609.4h-3M340.9 582.3h-3M340.9 650.05h-1.6M340.9 622.95h-1.6M340.9 595.85h-1.6" stroke="#111" stroke-width="1.3" fill="none"/>
<path d="M346.17 663.6v1.6M350.17 663.6v1.6M353.27 663.6v1.6M355.8 663.6v1.6M357.94 663.6v1.6M359.8 663.6v1.6M361.44 663.6v1.6M362.9 663.6v3M372.53 663.6v1.6M378.17 663.6v1.6M382.17 663.6v1.6M385.27 663.6v1.6M387.8 663.6v1.6M389.94 663.6v1.6M391.8 663.6v1.6M393.44 663.6v1.6M394.9 663.6v3M404.53 663.6v1.6M410.17 663.6v1.6M414.17 663.6v1.6M417.27 663.6v1.6M419.8 663.6v1.6M421.94 663.6v1.6M423.8 663.6v1.6M425.44 663.6v1.6M426.9 663.6v3M436.53 663.6v1.6M442.17 663.6v1.6M446.17 663.6v1.6M449.27 663.6v1.6M451.8 663.6v1.6" stroke="#111" stroke-width="0.9" fill="none"/>
<text x="334.7" y="666.5" font-size="8.2" text-anchor="end">0</text>
<text x="334.7" y="639.4" font-size="8.2" text-anchor="end" textLength="12.2" lengthAdjust="spacingAndGlyphs">100</text>
<text x="334.7" y="612.3" font-size="8.2" text-anchor="end" textLength="12.2" lengthAdjust="spacingAndGlyphs">200</text>
<text x="334.7" y="585.2" font-size="8.2" text-anchor="end" textLength="12.2" lengthAdjust="spacingAndGlyphs">300</text>
<text x="362.9" y="680" font-size="8" text-anchor="middle">0.01</text>
<text x="394.9" y="680" font-size="8" text-anchor="middle">0.1</text>
<text x="426.9" y="680" font-size="8" text-anchor="middle">1.0</text>
<text x="394.9" y="692.8" font-size="9.2" text-anchor="middle">SYK-i (&#181;M)</text>
<text x="394.9" y="572.2" font-size="9.8" text-anchor="middle">p-PLC&#947;</text>
<path d="M350.7 665.77L373.1 664.41L395.3 663.33L417.7 639.21L439.9 619.16M350.7 665.77L373.1 664.41L395.3 663.33L417.7 647.34L439.9 630M350.7 665.5L373.1 664.41L395.3 663.33L417.7 650.59L439.9 637.58M350.7 665.5L373.1 664.41L395.3 663.33L417.7 653.03L439.9 642.73M350.7 665.23L373.1 664.41L395.3 663.33L417.7 656.01L439.9 646.26M350.7 665.23L373.1 664.41L395.3 663.33L417.7 658.18L439.9 648.97" stroke="#111" stroke-width="1.2" fill="none"/>
<path d="M350.7 660.35V671.19M348.2 660.35h5M348.2 671.19h5M373.1 660.62V668.21M370.6 660.62h5M370.6 668.21h5M417.7 635.42V643M415.2 635.42h5M415.2 643h5M439.9 613.74V624.58M437.4 613.74h5M437.4 624.58h5" stroke="#111" stroke-width="1" fill="none"/>
<circle cx="350.7" cy="665.77" r="3.05" fill="#e6e6e6" stroke="#111" stroke-width="1.1"/>
<circle cx="373.1" cy="664.41" r="3.05" fill="#e6e6e6" stroke="#111" stroke-width="1.1"/>
<circle cx="395.3" cy="663.33" r="3.05" fill="#e6e6e6" stroke="#111" stroke-width="1.1"/>
<circle cx="417.7" cy="639.21" r="3.05" fill="#e6e6e6" stroke="#111" stroke-width="1.1"/>
<circle cx="439.9" cy="619.16" r="3.05" fill="#e6e6e6" stroke="#111" stroke-width="1.1"/>
<circle cx="350.7" cy="665.77" r="3.05" fill="#bdbdbd" stroke="#111" stroke-width="1.1"/>
<circle cx="373.1" cy="664.41" r="3.05" fill="#bdbdbd" stroke="#111" stroke-width="1.1"/>
<circle cx="395.3" cy="663.33" r="3.05" fill="#bdbdbd" stroke="#111" stroke-width="1.1"/>
<circle cx="417.7" cy="647.34" r="3.05" fill="#bdbdbd" stroke="#111" stroke-width="1.1"/>
<circle cx="439.9" cy="630" r="3.05" fill="#bdbdbd" stroke="#111" stroke-width="1.1"/>
<circle cx="350.7" cy="665.5" r="3.05" fill="#959595" stroke="#111" stroke-width="1.1"/>
<circle cx="373.1" cy="664.41" r="3.05" fill="#959595" stroke="#111" stroke-width="1.1"/>
<circle cx="395.3" cy="663.33" r="3.05" fill="#959595" stroke="#111" stroke-width="1.1"/>
<circle cx="417.7" cy="650.59" r="3.05" fill="#959595" stroke="#111" stroke-width="1.1"/>
<circle cx="439.9" cy="637.58" r="3.05" fill="#959595" stroke="#111" stroke-width="1.1"/>
<circle cx="350.7" cy="665.5" r="3.05" fill="#767676" stroke="#111" stroke-width="1.1"/>
<circle cx="373.1" cy="664.41" r="3.05" fill="#767676" stroke="#111" stroke-width="1.1"/>
<circle cx="395.3" cy="663.33" r="3.05" fill="#767676" stroke="#111" stroke-width="1.1"/>
<circle cx="417.7" cy="653.03" r="3.05" fill="#767676" stroke="#111" stroke-width="1.1"/>
<circle cx="439.9" cy="642.73" r="3.05" fill="#767676" stroke="#111" stroke-width="1.1"/>
<circle cx="350.7" cy="665.23" r="3.05" fill="#4e4e4e" stroke="#111" stroke-width="1.1"/>
<circle cx="373.1" cy="664.41" r="3.05" fill="#4e4e4e" stroke="#111" stroke-width="1.1"/>
<circle cx="395.3" cy="663.33" r="3.05" fill="#4e4e4e" stroke="#111" stroke-width="1.1"/>
<circle cx="417.7" cy="656.01" r="3.05" fill="#4e4e4e" stroke="#111" stroke-width="1.1"/>
<circle cx="439.9" cy="646.26" r="3.05" fill="#4e4e4e" stroke="#111" stroke-width="1.1"/>
<circle cx="350.7" cy="665.23" r="3.05" fill="#0a0a0a" stroke="#111" stroke-width="1.1"/>
<circle cx="373.1" cy="664.41" r="3.05" fill="#0a0a0a" stroke="#111" stroke-width="1.1"/>
<circle cx="395.3" cy="663.33" r="3.05" fill="#0a0a0a" stroke="#111" stroke-width="1.1"/>
<circle cx="417.7" cy="658.18" r="3.05" fill="#0a0a0a" stroke="#111" stroke-width="1.1"/>
<circle cx="439.9" cy="648.97" r="3.05" fill="#0a0a0a" stroke="#111" stroke-width="1.1"/>
<path d="M458.6 591.9H474.6" stroke="#111" stroke-width="1"/>
<circle cx="466.6" cy="591.9" r="3.5" fill="#e6e6e6" stroke="#111" stroke-width="1.1"/>
<text x="478" y="595.1" font-size="8.8" textLength="7.5" lengthAdjust="spacingAndGlyphs">L1</text>
<path d="M458.6 601.07H474.6" stroke="#111" stroke-width="1"/>
<circle cx="466.6" cy="601.07" r="3.5" fill="#bdbdbd" stroke="#111" stroke-width="1.1"/>
<text x="478" y="604.27" font-size="8.8" textLength="7.5" lengthAdjust="spacingAndGlyphs">L2</text>
<path d="M458.6 610.24H474.6" stroke="#111" stroke-width="1"/>
<circle cx="466.6" cy="610.24" r="3.5" fill="#959595" stroke="#111" stroke-width="1.1"/>
<text x="478" y="613.44" font-size="8.8" textLength="7.5" lengthAdjust="spacingAndGlyphs">L3</text>
<path d="M458.6 619.41H474.6" stroke="#111" stroke-width="1"/>
<circle cx="466.6" cy="619.41" r="3.5" fill="#767676" stroke="#111" stroke-width="1.1"/>
<text x="478" y="622.61" font-size="8.8" textLength="7.5" lengthAdjust="spacingAndGlyphs">L4</text>
<path d="M458.6 628.58H474.6" stroke="#111" stroke-width="1"/>
<circle cx="466.6" cy="628.58" r="3.5" fill="#4e4e4e" stroke="#111" stroke-width="1.1"/>
<text x="478" y="631.78" font-size="8.8" textLength="7.5" lengthAdjust="spacingAndGlyphs">L5</text>
<path d="M458.6 637.75H474.6" stroke="#111" stroke-width="1"/>
<circle cx="466.6" cy="637.75" r="3.5" fill="#0a0a0a" stroke="#111" stroke-width="1.1"/>
<text x="478" y="640.95" font-size="8.8" textLength="7.5" lengthAdjust="spacingAndGlyphs">L6</text>
<path d="M487.5 588.4V640.25" stroke="#111" stroke-width="1"/>
<text x="496.5" y="614.4" font-size="8.3" text-anchor="middle" textLength="23.8" lengthAdjust="spacingAndGlyphs" transform="rotate(-90 496.5 614.4)">CD79B</text>
<rect x="0.55" y="0.55" width="518.9" height="701.9" fill="none" stroke="#000" stroke-width="1.1"/>
</svg>
</body></html>
